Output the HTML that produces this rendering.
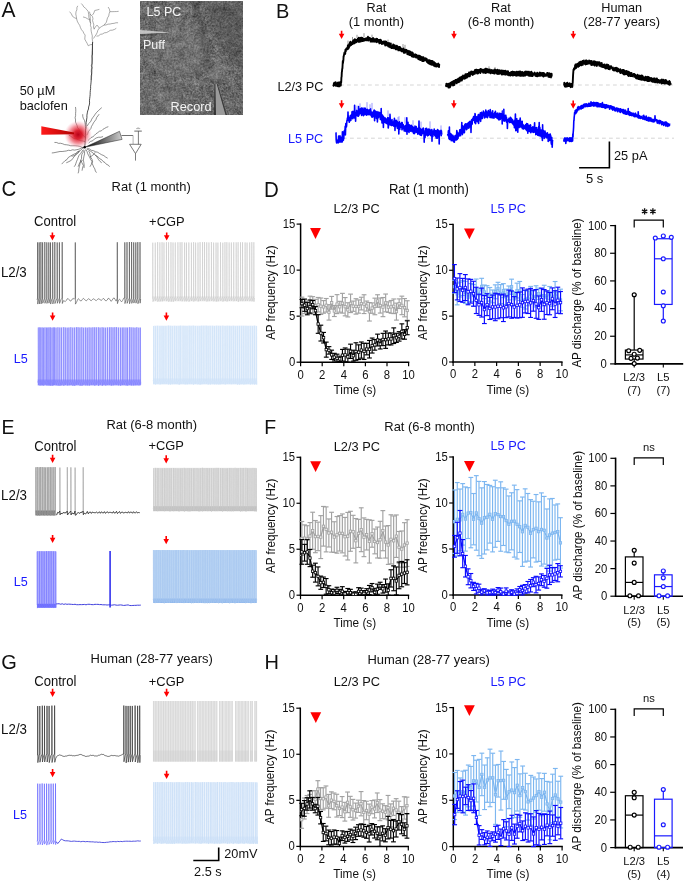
<!DOCTYPE html>
<html><head><meta charset="utf-8"><style>
html,body{margin:0;padding:0;background:#fff;}
svg{display:block;will-change:transform;}
text{font-family:"Liberation Sans", sans-serif;}
</style></head><body>
<svg width="685" height="882" viewBox="0 0 685 882">
<defs>
<filter id="noise" x="0" y="0" width="100%" height="100%" filterUnits="objectBoundingBox" color-interpolation-filters="sRGB">
<feTurbulence type="fractalNoise" baseFrequency="0.55" numOctaves="2" seed="5" result="t"/>
<feColorMatrix in="t" type="matrix" values="0.5 0 0 0 0.17  0.5 0 0 0 0.17  0.5 0 0 0 0.17  0 0 0 0 1" result="g"/>
<feGaussianBlur in="g" stdDeviation="0.35"/>
</filter>
<filter id="blotch" x="0" y="0" width="100%" height="100%" filterUnits="objectBoundingBox" color-interpolation-filters="sRGB">
<feTurbulence type="fractalNoise" baseFrequency="0.14" numOctaves="2" seed="21" result="t"/>
<feColorMatrix in="t" type="matrix" values="1.3 0 0 0 -0.25  1.3 0 0 0 -0.25  1.3 0 0 0 -0.25  0 0 0 0 1"/>
</filter>
<filter id="soft" x="-20%" y="-20%" width="140%" height="140%"><feGaussianBlur stdDeviation="2.5"/></filter>
<clipPath id="mclip"><rect x="140" y="1" width="103" height="114"/></clipPath>
<radialGradient id="mshade" cx="0.35" cy="0.45" r="0.7"><stop offset="0" stop-color="#fff" stop-opacity="0.06"/><stop offset="0.6" stop-color="#000" stop-opacity="0"/><stop offset="1" stop-color="#000" stop-opacity="0.12"/></radialGradient>
<radialGradient id="glow"><stop offset="0" stop-color="#b80018"/><stop offset="0.3" stop-color="#dc1828" stop-opacity="0.95"/><stop offset="0.62" stop-color="#ec4858" stop-opacity="0.6"/><stop offset="0.85" stop-color="#f590a0" stop-opacity="0.3"/><stop offset="1" stop-color="#ffc0c8" stop-opacity="0"/></radialGradient>
<linearGradient id="redpip" x1="0" x2="1" y1="0" y2="0"><stop offset="0" stop-color="#ff1a1a"/><stop offset="1" stop-color="#b00000"/></linearGradient>
<linearGradient id="graypip" x1="0" x2="1" y1="0" y2="0"><stop offset="0" stop-color="#000"/><stop offset="1" stop-color="#d0d0d0"/></linearGradient>
</defs>
<text transform="translate(1.5 17.4) scale(1 1.05)" font-size="21" text-anchor="start" fill="#111" >A</text>
<text transform="translate(19.7 94.6) scale(1 1.05)" font-size="12.7" text-anchor="start" fill="#111" >50 µM</text>
<text transform="translate(19.7 110) scale(1 1.05)" font-size="12.7" text-anchor="start" fill="#111" >baclofen</text>
<rect x="140" y="1" width="103" height="114" fill="#6a6a6a" filter="url(#noise)"/>
<rect x="140" y="1" width="103" height="114" fill="#6a6a6a" filter="url(#blotch)" opacity="0.22"/>
<g clip-path="url(#mclip)"><g filter="url(#soft)">
<path d="M150 40 C160 15, 195 10, 205 35 C212 60, 200 80, 180 78 C160 76, 145 62, 150 40 Z" fill="#8a8a8a" opacity="0.22"/>
<path d="M205 1 L243 1 L243 70 C230 60, 215 45, 205 1 Z" fill="#3a3a3a" opacity="0.3"/>
<path d="M196 1 C199 12, 202 25, 203 40 C205 55, 208 65, 212 72" fill="none" stroke="#2a2a2a" stroke-width="3.5" opacity="0.55"/>
<path d="M140 80 L180 80 L190 115 L140 115 Z" fill="#808080" opacity="0.18"/>
</g></g>
<ellipse cx="215.4" cy="72.7" rx="7" ry="7" fill="#959595" opacity="0.3"/>
<path d="M140 30 L171 32.6 L140 34.2 Z" fill="#d0d0d0" opacity="0.85"/>
<path d="M140 34 L171 32.8 L140 36.5 Z" fill="#3a3a3a" opacity="0.55"/>
<path d="M214.4 84 L216.8 84 L226 115 L215 115 Z" fill="#9a9a9a"/>
<path d="M214.4 84 L215.4 84 L216 115 L214 115 Z" fill="#333"/>
<path d="M216.8 84 L217.6 84 L227 115 L225.5 115 Z" fill="#3a3a3a"/>
<text transform="translate(146.6 16) scale(1 1.05)" font-size="12.5" text-anchor="start" fill="#f4f4f4" >L5 PC</text>
<text transform="translate(143 49) scale(1 1.05)" font-size="12.5" text-anchor="start" fill="#f4f4f4" >Puff</text>
<text transform="translate(170.6 110.7) scale(1 1.05)" font-size="12.7" text-anchor="start" fill="#f4f4f4" >Record</text>
<path d="M91.2 80 L91.39 77.91 L91.7 75.82 L91.66 73.72 L91.23 71.61 L91.37 69.52 L91.95 67.44 L91.24 65.32 L92.04 63.25 L92.09 61.15 L91.86 59.05 L91.78 56.95 L91.83 54.85 L91.88 52.75 L92.12 50.66 L92.24 48.57 L92.35 46.48 L92.37 44.38 L92.7 42.25 L92.4 40.16 L92.13 38.07 L92.34 35.95 L91.79 33.87 L91.3 31.79 L91.02 29.7 L91.19 27.55 L90.45 25.51 L90.62 23.36 L90.06 21.05 L90.34 18.69 L90.15 16.35 L90.04 14.01 L89.45 11.68" stroke="#666" stroke-width="0.55" fill="none" />
<path d="M92.37 44.38 L90.21 44.73 L88.28 45.78 L87.22 43.51 L85.96 41.34 L84.78 39.12 L84.95 37.08 L85.13 35.04 L83.89 33.4 L83.03 31.53 L81.48 29.71 L80.45 27.58 L79.68 25.32 L78.36 23.36 L77.23 21.12 L76.61 18.69 L76.29 16.36 L75.77 14.05 L76.02 11.68 L76.89 9.82 L76.89 7.7 L77.77 5.84" stroke="#666" stroke-width="0.55" fill="none" />
<path d="M76.61 18.69 L74.46 17.7 L72.52 16.35 L71.35 13.83 L69.6 11.68" stroke="#666" stroke-width="0.55" fill="none" />
<path d="M90.62 23.36 L90.04 21.41 L89.75 19.37 L88.87 17.52 L88.7 14.59 L88.28 11.68 L86.99 9.79 L85.36 8.18 L83.73 6.86 L82.67 5.04 L81.28 3.5" stroke="#666" stroke-width="0.55" fill="none" />
<path d="M90.04 19.85 L87.7 18.87 L85.49 17.6 L83.03 16.93" stroke="#666" stroke-width="0.55" fill="none" />
<path d="M93.54 38.54 L94.6 36.72 L95.88 35.04 L97.12 32.74 L97.86 30.19 L99.38 28.03 L101.66 26.48 L104.05 25.11 L106.39 22.19 L106.94 20.04 L107.49 17.89 L108.76 15.97 L109.09 13.75 L109.89 11.68 L109.42 9.19 L108.14 7.01" stroke="#666" stroke-width="0.55" fill="none" />
<path d="M109.89 11.68 L112.08 11.67 L114.27 11.6 L116.46 11.54 L118.65 11.33" stroke="#666" stroke-width="0.55" fill="none" />
<path d="M104.05 25.11 L106.08 24.93 L108 24.13 L110.05 24.06 L112.02 23.54 L114.05 23.35 L116 22.75 L118.07 22.77" stroke="#666" stroke-width="0.55" fill="none" />
<path d="M96.46 36.2 L98.6 35.8 L100.34 34.38 L102.47 33.97 L104.33 32.86 L106.51 32.55 L108.43 31.57 L110.23 30.34 L112.46 30.14 L114.48 29.43 L116.31 28.26" stroke="#666" stroke-width="0.55" fill="none" />
<path d="M92.37 15.18 L93.87 13.01 L94.71 10.51 L97.06 9.99 L99.38 9.34" stroke="#666" stroke-width="0.55" fill="none" />
<path d="M94.12 29.2 L95.32 26.97 L97.04 25.11 L99.38 28.03" stroke="#666" stroke-width="0.55" fill="none" />
<path d="M90.04 14.01 L92.37 16.35 L92.94 18.45 L92.57 20.68 L93.2 22.78 L93.83 24.88 L93.49 27.1 L94.12 29.2" stroke="#666" stroke-width="0.55" fill="none" />
<path d="M92.6 42 L92.5 44 L92.48 46 L92.52 48 L92.46 50 L92.48 52 L92.52 54 L92.14 56 L92.26 58 L92.2 60 L92.08 62 L92.07 64 L91.8 65.99 L91.99 68.01 L91.75 70 L91.79 72.01 L91.65 74.01 L91.21 75.99 L91.24 78 L91.2 80 L91.07 82.09 L90.87 84.17 L90.58 86.24 L90.63 88.34 L90.37 90.41 L90.18 92.49 L90.15 94.59 L89.93 96.67 L89.67 98.74 L89.45 100.82 L89.6 102.93 L89.3 105 L88.63 106.93 L88.49 109 L87.7 110.9 L87.3 112.9 L86.92 115.25 L86.92 117.64 L86.55 119.98 L86.13 122.33 L86 124.7 L86.08 126.77 L85.71 128.81 L85.53 130.86 L85.52 132.92 L85.32 134.97 L85.4 137.03 L85.29 139.09 L85.11 141.14 L85.06 143.2 L84.88 145.25 L84.7 147.3" stroke="#222" stroke-width="0.8" fill="none" />
<path d="M84.67 147.31 L82.59 147.51 L80.71 148.43 L78.8 149.22 L76.79 149.67 L74.71 150.14 L72.53 149.79 L70.49 150.51 L68.33 150.29 L66.28 150.99 L64.21 151.25 L62.15 151.53 L60.04 151.48 L57.99 151.9 L55.94 152.32 L53.9 152.74 L51.82 152.96" stroke="#333" stroke-width="0.55" fill="none" />
<path d="M84.67 147.31 L82.73 148.25 L81.21 149.82 L79.42 150.99 L77.39 151.71 L75.93 153.43 L73.93 154.19 L72.05 155.18 L70.22 156.24 L68.24 157.52 L66.96 159.56 L64.91 160.77 L63.28 162.43 L61.68 164.12" stroke="#333" stroke-width="0.55" fill="none" />
<path d="M83.36 149.67 L81.88 151.53 L80.63 153.55 L79.06 155.35 L78.1 157.56 L77.45 159.45 L76.61 161.27 L75.98 163.18 L75.32 165.07 L74.16 166.75" stroke="#333" stroke-width="0.55" fill="none" />
<path d="M83.36 150.33 L83.08 152.37 L81.95 154.17 L81.49 156.16 L81.59 158.3 L80.73 160.18 L80.2 162.35 L79.87 164.57 L79.33 166.74 L78.84 168.91 L78.71 171.17 L78.1 173.32" stroke="#333" stroke-width="0.55" fill="none" />
<path d="M85.33 149.67 L84.53 151.7 L84.57 153.88 L84.03 155.96 L83.63 158.06 L83.36 160.18 L83.86 162.79 L84.19 165.41 L84.02 168.07" stroke="#333" stroke-width="0.55" fill="none" />
<path d="M85.99 149.67 L87.04 151.61 L87.74 153.72 L88.69 155.71 L89.93 157.56 L90.56 159.53 L91.89 161.19 L92.05 163.37 L92.96 165.22 L93.72 167.13 L94.84 168.9 L95.33 170.93 L96.5 172.67" stroke="#333" stroke-width="0.55" fill="none" />
<path d="M86.64 149.02 L88.58 149.86 L90.3 151.03 L92.01 152.21 L93.6 153.56 L95.18 154.93 L96.93 156.07 L98.57 157.34 L99.96 158.92 L101.87 159.86 L103.16 161.56 L105.01 162.58 L106.32 164.25 L108.3 165.11 L109.64 166.75" stroke="#333" stroke-width="0.55" fill="none" />
<path d="M87.3 148.36 L89.46 148.99 L91.37 150.3 L93.59 150.76 L95.61 151.77 L97.81 152.3 L99.71 153.6 L101.7 154.75 L103.87 155.61 L105.66 157.09 L107.67 158.21" stroke="#333" stroke-width="0.55" fill="none" />
<path d="M84.67 147.31 L82.25 147.4 L79.98 146.41 L77.63 145.95 L75.25 145.73 L72.85 145.73 L70.73 145.76 L68.73 145.14 L66.69 144.8 L64.61 144.61 L62.65 143.79 L60.63 143.28 L58.51 143.34 L56.55 142.49 L54.45 142.45" stroke="#333" stroke-width="0.55" fill="none" />
<path d="M85.33 137.85 L84.05 136.03 L82.12 134.79 L81.07 132.76 L79.42 131.28 L78.94 129.3 L77.59 127.71 L77.11 125.73 L76.38 123.87 L75.47 122.08 L75.57 119.92 L75.11 117.76 L75.62 115.6 L75.59 113.45 L75.77 111.29 L75.75 109.13 L75.47 106.97" stroke="#333" stroke-width="0.55" fill="none" />
<path d="M85.99 128.65 L85.37 126.62 L85.24 124.48 L84.9 122.38 L84.45 120.31 L83.34 118.39 L82.76 116.36 L82.7 114.2" stroke="#333" stroke-width="0.55" fill="none" />
<path d="M86.64 135.22 L87.75 133.53 L88.39 131.59 L89.65 129.99 L90.93 128.41 L91.48 126.41 L92.56 124.71 L93.46 122.84 L94.71 121.18 L95.96 119.53 L96.63 117.51 L97.94 115.89 L99.12 114.2" stroke="#333" stroke-width="0.55" fill="none" />
<path d="M87.3 126.02 L88.15 124.15 L89.67 122.72 L90.93 121.12 L91.71 119.2 L92.83 117.51 L94.09 115.91 L95.18 114.2 L96.64 112.37 L98.31 110.75 L100 109.16 L101.75 107.63" stroke="#333" stroke-width="0.55" fill="none" />
<path d="M87.96 140.47 L89.58 139.13 L91.01 137.55 L93.03 136.71 L94.57 135.27 L96.06 133.76 L97.81 132.59 L99.38 131.27 L101.43 130.83 L102.9 129.35 L104.66 128.36 L106.41 127.37 L108.32 126.68" stroke="#333" stroke-width="0.55" fill="none" />
<path d="M88.61 143.1 L90.38 141.48 L92.76 140.78 L94.41 138.99 L96.5 137.85 L98.65 137.24 L100.94 137.26 L103.07 136.53" stroke="#333" stroke-width="0.55" fill="none" />
<path d="M85.33 141.79 L83.13 141.03 L80.78 140.75 L78.61 139.87 L76.49 138.83 L74.16 138.5 L72.35 137.5 L70.76 136.15 L68.91 135.22" stroke="#333" stroke-width="0.55" fill="none" />
<path d="M79.42 150.99 L78.38 152.76 L76.63 153.92 L75.29 155.42 L73.94 156.93 L72.73 158.55 L71.53 160.18 L68.96 161.6 L66.28 162.81" stroke="#333" stroke-width="0.55" fill="none" />
<path d="M88.61 150.99 L89.77 152.95 L90.17 155.2 L90.76 157.37 L92.03 159.3 L92.56 161.5 L91.43 164.22 L89.93 166.75" stroke="#333" stroke-width="0.55" fill="none" />
<path d="M79.42 150.99 L77.86 152.5 L76.19 153.89 L74.82 155.58 L71.53 156.24" stroke="#333" stroke-width="0.55" fill="none" />
<path d="M82.7 160.18 L80.81 161.57 L79.42 163.47 L78.1 166.75" stroke="#333" stroke-width="0.55" fill="none" />
<path d="M89.93 157.56 L91.36 155.98 L93.21 154.93 L95.18 152.3" stroke="#333" stroke-width="0.55" fill="none" />
<path d="M95.18 154.93 L97.06 157.06 L98.47 159.53 L99.92 161.36 L101.75 162.81" stroke="#333" stroke-width="0.55" fill="none" />
<path d="M80.73 160.18 L81.93 162.87 L83.36 165.44 L82.51 168.02 L82.04 170.69" stroke="#333" stroke-width="0.55" fill="none" />
<circle cx="78.1" cy="134.6" r="14" fill="url(#glow)"/>
<path d="M41.3 126.3 L74 132.6 L74 134.2 L41.3 134.8 Z" fill="url(#redpip)"/>
<path d="M84.7 147.3 L119.5 131.3 L122.1 139.4 Z" fill="url(#graypip)" stroke="#222" stroke-width="0.5"/>
<circle cx="84.7" cy="147.3" r="1.2" fill="#000"/>
<path d="M121.5 135.5 L133.1 135.5" stroke="#333" stroke-width="0.7" fill="none" />
<path d="M133.1 135.5 L133.1 144" stroke="#aaa" stroke-width="0.9" fill="none" />
<path d="M129.6 144.3 L141.2 144.3 L135.5 153.6 L129.6 144.3" stroke="#444" stroke-width="0.7" fill="none" />
<path d="M135.5 153.6 L135.5 160.6" stroke="#444" stroke-width="0.7" fill="none" />
<path d="M138.4 144.3 L138.4 131.1" stroke="#444" stroke-width="0.7" fill="none" />
<path d="M134.3 131.1 L141.8 131.1" stroke="#444" stroke-width="0.8" fill="none" />
<path d="M136.2 128.6 L140.2 128.6" stroke="#999" stroke-width="0.8" fill="none" />
<path d="M137.2 127.6 L139.2 127.6" stroke="#bbb" stroke-width="0.6" fill="none" />
<text transform="translate(276 17.5) scale(1 1.05)" font-size="20" text-anchor="start" fill="#111" >B</text>
<text transform="translate(376.4 11.8) scale(1 1.05)" font-size="12.7" text-anchor="middle" fill="#111" >Rat</text>
<text transform="translate(376.4 26.4) scale(1 1.05)" font-size="12.9" text-anchor="middle" fill="#111" >(1 month)</text>
<text transform="translate(501 11.8) scale(1 1.05)" font-size="12.7" text-anchor="middle" fill="#111" >Rat</text>
<text transform="translate(501 26.4) scale(1 1.05)" font-size="12.9" text-anchor="middle" fill="#111" >(6-8 month)</text>
<text transform="translate(621.7 11.8) scale(1 1.05)" font-size="12.7" text-anchor="middle" fill="#111" >Human</text>
<text transform="translate(621.7 26.4) scale(1 1.05)" font-size="12.9" text-anchor="middle" fill="#111" >(28-77 years)</text>
<text transform="translate(323.3 90.9) scale(1 1.05)" font-size="12.7" text-anchor="end" fill="#111" >L2/3 PC</text>
<text transform="translate(323.3 142.6) scale(1 1.05)" font-size="12.7" text-anchor="end" fill="#1a1aff" >L5 PC</text>
<line x1="333" y1="85" x2="674" y2="85" stroke="#d6d6d6" stroke-width="1" stroke-dasharray="3.8,3.2"/>
<line x1="336" y1="138.2" x2="674" y2="138.2" stroke="#d6d6d6" stroke-width="1" stroke-dasharray="3.8,3.2"/>
<path d="M333 86.39 L333.2 86.13 L333.4 85.71 L333.6 85.42 L333.8 83.74 L334 84.82 L334.2 82.81 L334.4 85.34 L334.6 85.33 L334.8 85.17 L335 83.96 L335.2 83.66 L335.4 83.85 L335.6 82.15 L335.8 85.72 L336 84.39 L336.2 83.71 L336.4 84.41 L336.6 85.18 L336.8 83.68 L337 85.65 L337.2 86.05 L337.4 83.7 L337.6 82.61 L337.8 85.35 L338 86.37 L338.2 82.65 L338.4 85.14 L338.6 85.63 L338.8 86.05 L339 82.54 L339.2 82.4 L339.4 86.35 L339.6 82.51 L339.8 82.78 L340 84.53 L340.2 83.96 L340.4 85.3 L340.6 82.84 L340.8 85.54 L341 81.49 L341.2 82.46 L341.4 77.42 L341.6 76.76 L341.8 72.42 L342 71.29 L342.2 68.96 L342.4 68.47 L342.6 65.05 L342.8 61.05 L343 63.26 L343.2 61.2 L343.4 60.05 L343.6 56.17 L343.8 56.21 L344 54.87 L344.2 53.81 L344.4 52.8 L344.6 54.26 L344.8 51.98 L345 51.61 L345.2 54.01 L345.4 51.75 L345.6 49.82 L345.8 51.42 L346 49.15 L346.2 49.88 L346.4 48.44 L346.6 49.17 L346.8 49.37 L347 48.66 L347.2 47.74 L347.4 49.18 L347.6 49.24 L347.8 45.89 L348 45.4 L348.2 45 L348.4 48.51 L348.6 48.04 L348.8 44.61 L349 47.57 L349.2 43.91 L349.4 44.93 L349.6 44.59 L349.8 46.16 L350 42.08 L350.2 43.1 L350.4 44.19 L350.6 41.72 L350.8 42.35 L351 43.23 L351.2 44.94 L351.4 44.28 L351.6 44.46 L351.8 44.04 L352 43.68 L352.2 44.18 L352.4 43.32 L352.6 43.43 L352.8 41.4 L353 40.69 L353.2 43.16 L353.4 40.43 L353.6 43.63 L353.8 42.08 L354 40.78 L354.2 43.33 L354.4 39.77 L354.6 41.23 L354.8 39.24 L355 42.96 L355.2 41.12 L355.4 42.01 L355.6 39.59 L355.8 41.77 L356 41.25 L356.2 40.93 L356.4 42.23 L356.6 39.93 L356.8 39.83 L357 41.02 L357.2 41.62 L357.4 39.4 L357.6 40.85 L357.8 38.79 L358 40.28 L358.2 41.21 L358.4 38.09 L358.6 40.98 L358.8 37.82 L359 41.94 L359.2 39.76 L359.4 39.47 L359.6 40.82 L359.8 39.93 L360 40.82 L360.2 37.95 L360.4 40.03 L360.6 39.98 L360.8 41.6 L361 37.65 L361.2 39.44 L361.4 40.2 L361.6 39.82 L361.8 37.7 L362 39.96 L362.2 38.3 L362.4 38.16 L362.6 41.14 L362.8 38.12 L363 39.22 L363.2 40.5 L363.4 40.29 L363.6 39.59 L363.8 40.68 L364 39.15 L364.2 39.8 L364.4 40.65 L364.6 40.01 L364.8 39.82 L365 38.76 L365.2 39.41 L365.4 38.67 L365.6 40.17 L365.8 38.55 L366 38.9 L366.2 40.15 L366.4 39.02 L366.6 38.26 L366.8 40.39 L367 38.4 L367.2 40.42 L367.4 40.13 L367.6 38.62 L367.8 39.78 L368 36.79 L368.2 38.37 L368.4 40.48 L368.6 39.28 L368.8 39.23 L369 39.75 L369.2 39.85 L369.4 39.48 L369.6 38.81 L369.8 37.81 L370 38.34 L370.2 38.38 L370.4 39.04 L370.6 41.58 L370.8 38.78 L371 39.24 L371.2 38.96 L371.4 39.92 L371.6 41.58 L371.8 41.37 L372 39.16 L372.2 38.72 L372.4 41.48 L372.6 39.81 L372.8 40.7 L373 38.05 L373.2 41.58 L373.4 39.19 L373.6 40.04 L373.8 38.78 L374 39.8 L374.2 41.64 L374.4 41.68 L374.6 40.17 L374.8 41.51 L375 40.19 L375.2 39.86 L375.4 40.67 L375.6 39.2 L375.8 39.75 L376 41.51 L376.2 41.84 L376.4 38.74 L376.6 41.76 L376.8 42.18 L377 40.58 L377.2 38.94 L377.4 41.72 L377.6 39.84 L377.8 41.64 L378 40.51 L378.2 41.7 L378.4 40.08 L378.6 41.08 L378.8 41.34 L379 41.85 L379.2 40.01 L379.4 43.4 L379.6 40.48 L379.8 40.61 L380 40.45 L380.2 39.68 L380.4 41.31 L380.6 42.92 L380.8 42.72 L381 40.54 L381.2 40.35 L381.4 41.24 L381.6 43.28 L381.8 42.12 L382 44.11 L382.2 43.01 L382.4 42.93 L382.6 43.65 L382.8 43.65 L383 41.94 L383.2 41.63 L383.4 42.5 L383.6 42.8 L383.8 41.35 L384 42.74 L384.2 43.69 L384.4 41.55 L384.6 41.63 L384.8 41.86 L385 42.42 L385.2 45.48 L385.4 41.44 L385.6 42.21 L385.8 42.2 L386 43.64 L386.2 41.69 L386.4 43.72 L386.6 42.49 L386.8 43.04 L387 45.41 L387.2 42.81 L387.4 44.79 L387.6 43.94 L387.8 44.06 L388 45.89 L388.2 43.08 L388.4 46.51 L388.6 46.46 L388.8 45.54 L389 42.89 L389.2 45.67 L389.4 45.47 L389.6 46.3 L389.8 43.92 L390 47.24 L390.2 47.02 L390.4 43.7 L390.6 44.66 L390.8 43.49 L391 47.08 L391.2 47.53 L391.4 47.93 L391.6 46.34 L391.8 46.66 L392 46.78 L392.2 46.38 L392.4 48.14 L392.6 46.7 L392.8 45.58 L393 46.43 L393.2 44.33 L393.4 47.51 L393.6 47.45 L393.8 46.33 L394 48.3 L394.2 47.95 L394.4 46.18 L394.6 45.12 L394.8 45.43 L395 45.74 L395.2 46.34 L395.4 47.04 L395.6 49.23 L395.8 46.45 L396 49.25 L396.2 48.37 L396.4 49.21 L396.6 47.3 L396.8 45.61 L397 49.14 L397.2 46.83 L397.4 46.45 L397.6 49.42 L397.8 48.99 L398 46.98 L398.2 47.3 L398.4 50.33 L398.6 47.46 L398.8 49.44 L399 47 L399.2 50.09 L399.4 47.09 L399.6 48.92 L399.8 46.88 L400 49.23 L400.2 50.62 L400.4 47.35 L400.6 48.28 L400.8 50.52 L401 49.93 L401.2 48.72 L401.4 50.2 L401.6 49.52 L401.8 51.4 L402 48.99 L402.2 51.12 L402.4 50.68 L402.6 51.23 L402.8 49.72 L403 51.34 L403.2 51.31 L403.4 50.03 L403.6 48.54 L403.8 52.75 L404 51.74 L404.2 49.59 L404.4 52 L404.6 50.1 L404.8 51.02 L405 52.83 L405.2 51.11 L405.4 50.5 L405.6 50.66 L405.8 49.75 L406 50.47 L406.2 50.78 L406.4 50.44 L406.6 50.05 L406.8 51.91 L407 50.89 L407.2 53.29 L407.4 54.19 L407.6 51.42 L407.8 52.83 L408 52.63 L408.2 50.82 L408.4 51.13 L408.6 54.56 L408.8 52.85 L409 54.39 L409.2 51.23 L409.4 53.65 L409.6 54.93 L409.8 55.03 L410 51.33 L410.2 53.69 L410.4 53.1 L410.6 54.91 L410.8 51.98 L411 52.92 L411.2 55.42 L411.4 54 L411.6 54.01 L411.8 56.37 L412 53.61 L412.2 52.47 L412.4 54.11 L412.6 53.14 L412.8 52.92 L413 55.15 L413.2 56.94 L413.4 55.38 L413.6 55.77 L413.8 54.43 L414 55.61 L414.2 56.5 L414.4 55.87 L414.6 56.9 L414.8 55.88 L415 54.42 L415.2 56.2 L415.4 55.89 L415.6 54.55 L415.8 56.63 L416 57.59 L416.2 54.68 L416.4 56.58 L416.6 57.5 L416.8 56.13 L417 55.64 L417.2 56.18 L417.4 57.01 L417.6 57.74 L417.8 57.27 L418 55.37 L418.2 58.59 L418.4 59.14 L418.6 55.62 L418.8 56.36 L419 56.11 L419.2 59.18 L419.4 59.54 L419.6 55.81 L419.8 57.17 L420 56.64 L420.2 57.95 L420.4 60.02 L420.6 56.35 L420.8 56.88 L421 58.35 L421.2 58.6 L421.4 59.65 L421.6 58.38 L421.8 57.16 L422 58.17 L422.2 61.02 L422.4 60.08 L422.6 57.37 L422.8 60.5 L423 58.39 L423.2 60.54 L423.4 57.24 L423.6 61.1 L423.8 58.07 L424 59.44 L424.2 60.43 L424.4 59.83 L424.6 58.41 L424.8 58.37 L425 59.09 L425.2 58.15 L425.4 58.96 L425.6 58.66 L425.8 60.21 L426 59.82 L426.2 60.91 L426.4 59.65 L426.6 58.64 L426.8 60.03 L427 61.98 L427.2 59.86 L427.4 60.6 L427.6 62.22 L427.8 60.77 L428 62.97 L428.2 63.19 L428.4 60.59 L428.6 62.55 L428.8 60.51 L429 60.09 L429.2 61.48 L429.4 62.29 L429.6 63.83 L429.8 60.44 L430 63.02 L430.2 62.06 L430.4 60.62 L430.6 64.41 L430.8 63.27 L431 60.86 L431.2 64.36 L431.4 60.91 L431.6 60.94 L431.8 62.08 L432 64.82 L432.2 60.92 L432.4 64.9 L432.6 63.63 L432.8 61.32 L433 63.61 L433.2 63.21 L433.4 63.75 L433.6 64.59 L433.8 64.42 L434 65.9 L434.2 62.29 L434.4 65.25 L434.6 63.57 L434.8 65.29 L435 65.85 L435.2 66.37 L435.4 63.26 L435.6 64.16 L435.8 66.4 L436 66.49 L436.2 64.05 L436.4 66.63 L436.6 64.36 L436.8 64.31 L437 66.07 L437.2 64.89 L437.4 64.87 L437.6 64.68 L437.8 64.97 L438 63.76 L438.2 63.5 L438.4 66.63 L438.6 65.88 L438.8 66.43 L439 67.09 L439.2 64.65 L439.4 64.73 L439.6 64.97" stroke="#000" stroke-width="1.9" fill="none" stroke-linejoin="round"/>
<line x1="344.5" y1="52.35" x2="344.5" y2="49.22" stroke="#555" stroke-width="0.6" />
<line x1="348" y1="44.8" x2="348" y2="40.57" stroke="#555" stroke-width="0.6" />
<line x1="352.5" y1="40.26" x2="352.5" y2="36.96" stroke="#555" stroke-width="0.6" />
<line x1="357" y1="37.97" x2="357" y2="34.8" stroke="#555" stroke-width="0.6" />
<line x1="364" y1="37.1" x2="364" y2="33.17" stroke="#555" stroke-width="0.6" />
<line x1="372" y1="37.5" x2="372" y2="34.65" stroke="#555" stroke-width="0.6" />
<line x1="388" y1="42.3" x2="388" y2="39.64" stroke="#555" stroke-width="0.6" />
<line x1="403" y1="48.15" x2="403" y2="44.08" stroke="#555" stroke-width="0.6" />
<line x1="405" y1="49.05" x2="405" y2="44.83" stroke="#555" stroke-width="0.6" />
<path d="M446 84.89 L446.2 86.36 L446.4 83.69 L446.6 85.29 L446.8 86.02 L447 84.57 L447.2 84.95 L447.4 86.07 L447.6 85.96 L447.8 84.01 L448 86.41 L448.2 83.62 L448.4 87.51 L448.6 84.1 L448.8 84.3 L449 84.03 L449.2 87.48 L449.4 84.35 L449.6 85.72 L449.8 87.37 L450 87.13 L450.2 83.06 L450.4 85.08 L450.6 85.32 L450.8 85.66 L451 83.94 L451.2 83.79 L451.4 82.26 L451.6 82.29 L451.8 84.45 L452 82.25 L452.2 82.7 L452.4 83.17 L452.6 81.91 L452.8 81.62 L453 85.46 L453.2 83.19 L453.4 82.07 L453.6 84.17 L453.8 80.99 L454 81.92 L454.2 84.96 L454.4 84.57 L454.6 83.31 L454.8 80.82 L455 81.69 L455.2 80.3 L455.4 81.02 L455.6 80.05 L455.8 80.38 L456 82.49 L456.2 80.02 L456.4 80.15 L456.6 83.31 L456.8 80.7 L457 80.57 L457.2 79.36 L457.4 82.36 L457.6 81.72 L457.8 81.03 L458 81.22 L458.2 78.82 L458.4 79.41 L458.6 80.71 L458.8 82.21 L459 81.5 L459.2 80.6 L459.4 79.94 L459.6 77.61 L459.8 81.34 L460 77.59 L460.2 77.75 L460.4 80.11 L460.6 80.51 L460.8 80.28 L461 78.69 L461.2 77.36 L461.4 76.62 L461.6 80.09 L461.8 80.52 L462 77.17 L462.2 79.79 L462.4 77.63 L462.6 77.11 L462.8 77.84 L463 75.54 L463.2 77.33 L463.4 76.14 L463.6 78.27 L463.8 77.23 L464 78.72 L464.2 78.73 L464.4 76.05 L464.6 75.77 L464.8 78.56 L465 76.54 L465.2 74.64 L465.4 74.32 L465.6 78.39 L465.8 76.48 L466 74.09 L466.2 76 L466.4 75.88 L466.6 75.49 L466.8 77.67 L467 77.57 L467.2 73.85 L467.4 73.88 L467.6 74.91 L467.8 76.7 L468 75.68 L468.2 76.06 L468.4 75.29 L468.6 73.59 L468.8 76.17 L469 72.54 L469.2 75.46 L469.4 73.16 L469.6 74.28 L469.8 76.41 L470 74.4 L470.2 72.19 L470.4 73.73 L470.6 74.66 L470.8 71.91 L471 72.68 L471.2 71.56 L471.4 73.77 L471.6 72.98 L471.8 73.43 L472 72.42 L472.2 73.92 L472.4 71.7 L472.6 74.83 L472.8 74.98 L473 72.83 L473.2 72.62 L473.4 74.26 L473.6 71.67 L473.8 73.83 L474 71.47 L474.2 73.29 L474.4 71.5 L474.6 72.59 L474.8 73.92 L475 69.99 L475.2 73.22 L475.4 71.96 L475.6 71.15 L475.8 70.95 L476 69.65 L476.2 70.44 L476.4 72.01 L476.6 69.68 L476.8 72.18 L477 73.46 L477.2 73.52 L477.4 73.1 L477.6 72.72 L477.8 69.94 L478 73.41 L478.2 70.02 L478.4 72.94 L478.6 72.96 L478.8 71.82 L479 71.36 L479.2 69.93 L479.4 71.32 L479.6 70.3 L479.8 69.56 L480 69.55 L480.2 72.5 L480.4 73.02 L480.6 69.57 L480.8 68.99 L481 70.07 L481.2 69.49 L481.4 69.71 L481.6 71.43 L481.8 70.71 L482 70.72 L482.2 69.72 L482.4 71.73 L482.6 70.06 L482.8 70.53 L483 70.79 L483.2 72.72 L483.4 69.81 L483.6 71.87 L483.8 70.05 L484 72.61 L484.2 70.4 L484.4 70.87 L484.6 72.49 L484.8 71.58 L485 69.03 L485.2 69.22 L485.4 72.99 L485.6 68.77 L485.8 69.98 L486 72.89 L486.2 68.75 L486.4 69.41 L486.6 69.65 L486.8 69.11 L487 70.82 L487.2 71.36 L487.4 70.17 L487.6 69.26 L487.8 72.36 L488 72.35 L488.2 71.3 L488.4 69.44 L488.6 71.24 L488.8 71.64 L489 70.76 L489.2 72.69 L489.4 70.62 L489.6 71.17 L489.8 69.44 L490 71.43 L490.2 72.34 L490.4 72.2 L490.6 70.12 L490.8 73.37 L491 72.19 L491.2 70.9 L491.4 70.87 L491.6 72.49 L491.8 69.85 L492 71.9 L492.2 72.27 L492.4 71.39 L492.6 72.97 L492.8 71.21 L493 71.21 L493.2 70.43 L493.4 73.23 L493.6 70.59 L493.8 72.28 L494 71.03 L494.2 73.36 L494.4 73.43 L494.6 69.4 L494.8 73.66 L495 71.97 L495.2 69.65 L495.4 71.54 L495.6 69.6 L495.8 71.82 L496 70.25 L496.2 71.08 L496.4 70.83 L496.6 72.16 L496.8 73.16 L497 73.69 L497.2 71.04 L497.4 72.13 L497.6 69.67 L497.8 71.31 L498 73.93 L498.2 70.25 L498.4 73.58 L498.6 72.65 L498.8 71.1 L499 73.26 L499.2 71.13 L499.4 73.82 L499.6 70.28 L499.8 70.46 L500 73.27 L500.2 71.97 L500.4 70.67 L500.6 72.31 L500.8 71.38 L501 72.52 L501.2 73.4 L501.4 73.92 L501.6 70.44 L501.8 72.81 L502 74.56 L502.2 72.28 L502.4 73.67 L502.6 70.74 L502.8 74.18 L503 72.93 L503.2 74.3 L503.4 73.88 L503.6 74.27 L503.8 70.73 L504 73.65 L504.2 71.39 L504.4 71.72 L504.6 72.01 L504.8 73.21 L505 73.4 L505.2 74.76 L505.4 70.74 L505.6 71.56 L505.8 72.33 L506 74.37 L506.2 73.21 L506.4 73.07 L506.6 74.19 L506.8 73.76 L507 72.18 L507.2 71.31 L507.4 72.99 L507.6 74.85 L507.8 73.64 L508 71.27 L508.2 73 L508.4 72.78 L508.6 73.68 L508.8 73.72 L509 75.35 L509.2 72.68 L509.4 73.02 L509.6 73.95 L509.8 75.17 L510 74.39 L510.2 73.37 L510.4 74.89 L510.6 73.44 L510.8 75.55 L511 72.56 L511.2 71.88 L511.4 74.97 L511.6 72.63 L511.8 75.06 L512 74.01 L512.2 73.57 L512.4 71.72 L512.6 74.8 L512.8 71.63 L513 75.59 L513.2 75.21 L513.4 72.68 L513.6 71.92 L513.8 75.25 L514 73.47 L514.2 71.91 L514.4 73.56 L514.6 72.46 L514.8 73.17 L515 74.19 L515.2 75.41 L515.4 74.91 L515.6 72.09 L515.8 73.49 L516 73.55 L516.2 75.75 L516.4 71.78 L516.6 73.65 L516.8 75.43 L517 73.16 L517.2 72.56 L517.4 73.86 L517.6 72.82 L517.8 75.5 L518 71.79 L518.2 72.33 L518.4 71.8 L518.6 74.56 L518.8 72.72 L519 75.4 L519.2 75.37 L519.4 75.56 L519.6 72.57 L519.8 71.45 L520 73.16 L520.2 75.69 L520.4 74.82 L520.6 71.72 L520.8 74.55 L521 75.5 L521.2 75.73 L521.4 74.62 L521.6 75.27 L521.8 75.18 L522 73.06 L522.2 71.92 L522.4 74.69 L522.6 72.09 L522.8 73.18 L523 75.88 L523.2 73.96 L523.4 73.8 L523.6 75.67 L523.8 72.76 L524 75.91 L524.2 75.53 L524.4 73.12 L524.6 72.96 L524.8 72.08 L525 75.55 L525.2 72.35 L525.4 71.57 L525.6 75.45 L525.8 74.17 L526 74.5 L526.2 74.77 L526.4 71.73 L526.6 71.95 L526.8 73.75 L527 71.78 L527.2 73.78 L527.4 74.8 L527.6 74.46 L527.8 74.28 L528 71.77 L528.2 72.61 L528.4 75.52 L528.6 72.12 L528.8 73.93 L529 71.81 L529.2 75.72 L529.4 72.35 L529.6 73.4 L529.8 74.01 L530 74.77 L530.2 75.74 L530.4 74.87 L530.6 73.17 L530.8 71.99 L531 74.79 L531.2 75.97 L531.4 71.78 L531.6 75.12 L531.8 72.51 L532 73.77 L532.2 74.06 L532.4 74.48 L532.6 76.14 L532.8 74.83 L533 73.54 L533.2 74.98 L533.4 73.9 L533.6 73.68 L533.8 73.49 L534 74.06 L534.2 73.14 L534.4 72.99 L534.6 72.59 L534.8 73.89 L535 73.25 L535.2 75.66 L535.4 75.72 L535.6 73.52 L535.8 74.75 L536 76.01 L536.2 73.63 L536.4 74.51 L536.6 74.03 L536.8 74.96 L537 76.33 L537.2 72.73 L537.4 76.39 L537.6 75.08 L537.8 75.67 L538 74.98 L538.2 76.03 L538.4 73.65 L538.6 75.34 L538.8 73.4 L539 74.49 L539.2 75.27 L539.4 73.17 L539.6 72.57 L539.8 75.79 L540 75.89 L540.2 75.27 L540.4 73.77 L540.6 75.27 L540.8 72.75 L541 75.32 L541.2 74.95 L541.4 75.14 L541.6 74.41 L541.8 73.45 L542 75.67 L542.2 74.53 L542.4 75.78 L542.6 74.12 L542.8 72.92 L543 74.93 L543.2 75.3 L543.4 76.63 L543.6 76.5 L543.8 72.86 L544 76.01 L544.2 73.78 L544.4 75.71 L544.6 74.33 L544.8 74.09 L545 74.84 L545.2 75.04 L545.4 75.78 L545.6 75.54 L545.8 75.73 L546 74.45 L546.2 75.76 L546.4 74.31 L546.6 75.48 L546.8 74.84 L547 75.31 L547.2 72.93 L547.4 75.06 L547.6 73.85 L547.8 74.59 L548 73.23 L548.2 75.81 L548.4 76.87 L548.6 74.51 L548.8 73.43 L549 75.71 L549.2 73.56 L549.4 76.93 L549.6 73.56 L549.8 74.63 L550 75.23 L550.2 73.59 L550.4 74.49 L550.6 74.31 L550.8 76.25 L551 77.47 L551.2 74.74 L551.4 76.64 L551.6 73.79 L551.8 75.73" stroke="#000" stroke-width="1.9" fill="none" stroke-linejoin="round"/>
<line x1="489" y1="68.88" x2="489" y2="66.3" stroke="#555" stroke-width="0.6" />
<line x1="495" y1="69.31" x2="495" y2="66.99" stroke="#555" stroke-width="0.6" />
<path d="M563.9 85.72 L564.1 85.41 L564.3 82.75 L564.5 83.47 L564.7 85.82 L564.9 86.61 L565.1 84.96 L565.3 86.13 L565.5 86.65 L565.7 85.61 L565.9 85.22 L566.1 83.38 L566.3 84.06 L566.5 85.21 L566.7 86.57 L566.9 83.85 L567.1 84.29 L567.3 82.67 L567.5 85.67 L567.7 84.58 L567.9 86.17 L568.1 83.71 L568.3 85.62 L568.5 85.7 L568.7 84.81 L568.9 83.63 L569.1 84.6 L569.3 86.13 L569.5 83.71 L569.7 83.31 L569.9 84.97 L570.1 84 L570.3 86.52 L570.5 86.62 L570.7 87.21 L570.9 86.77 L571.1 85.95 L571.3 83.96 L571.5 86.78 L571.7 86.39 L571.9 86.5 L572.1 86.31 L572.3 86.92 L572.5 83.48 L572.7 82.88 L572.9 78.83 L573.1 74.66 L573.3 72.09 L573.5 69.65 L573.7 70.3 L573.9 68.92 L574.1 68.32 L574.3 69.38 L574.5 68.03 L574.7 67.67 L574.9 68.88 L575.1 65.38 L575.3 66.53 L575.5 64.57 L575.7 65.76 L575.9 68.09 L576.1 64.16 L576.3 66.99 L576.5 67.34 L576.7 65.64 L576.9 66.78 L577.1 65.09 L577.3 64.57 L577.5 65.12 L577.7 63.62 L577.9 63.99 L578.1 63.85 L578.3 66.73 L578.5 63.73 L578.7 63.13 L578.9 66.13 L579.1 62.48 L579.3 65.99 L579.5 65.37 L579.7 64.34 L579.9 63.26 L580.1 62.16 L580.3 61.7 L580.5 61.65 L580.7 62.69 L580.9 62.9 L581.1 65.13 L581.3 63.38 L581.5 65.34 L581.7 64.11 L581.9 61.54 L582.1 63.29 L582.3 61.51 L582.5 60.94 L582.7 64.87 L582.9 62.17 L583.1 61.47 L583.3 61.04 L583.5 63.42 L583.7 62.54 L583.9 60.52 L584.1 63.57 L584.3 61.51 L584.5 63.77 L584.7 62.44 L584.9 62.61 L585.1 62.22 L585.3 63.14 L585.5 64.48 L585.7 63.59 L585.9 60.34 L586.1 62.17 L586.3 60.98 L586.5 60.36 L586.7 60.72 L586.9 60.93 L587.1 64.06 L587.3 63.14 L587.5 63.65 L587.7 63.01 L587.9 61.36 L588.1 61.73 L588.3 61.99 L588.5 61.38 L588.7 61.98 L588.9 63.56 L589.1 60.54 L589.3 61.46 L589.5 62.39 L589.7 63.29 L589.9 63.2 L590.1 63.59 L590.3 60.9 L590.5 61.27 L590.7 61.87 L590.9 61.79 L591.1 63.91 L591.3 65 L591.5 63.67 L591.7 60.85 L591.9 62.05 L592.1 64.31 L592.3 64.89 L592.5 63.48 L592.7 62.43 L592.9 62.5 L593.1 63.76 L593.3 64.81 L593.5 62.55 L593.7 61.93 L593.9 61.14 L594.1 61.77 L594.3 64.95 L594.5 63.99 L594.7 65.64 L594.9 61.62 L595.1 62.97 L595.3 64.9 L595.5 64.34 L595.7 61.77 L595.9 63.28 L596.1 64.36 L596.3 64.61 L596.5 63.61 L596.7 62.49 L596.9 65.95 L597.1 63.79 L597.3 64.94 L597.5 64.17 L597.7 62.21 L597.9 62.94 L598.1 62.21 L598.3 62.81 L598.5 62.89 L598.7 63.88 L598.9 63.5 L599.1 63.72 L599.3 65.76 L599.5 62.3 L599.7 62.7 L599.9 65.84 L600.1 64.69 L600.3 64.33 L600.5 63.64 L600.7 64.91 L600.9 63.57 L601.1 66.43 L601.3 66.35 L601.5 64.2 L601.7 62.96 L601.9 66.82 L602.1 64.3 L602.3 65.94 L602.5 66.89 L602.7 66.69 L602.9 67.04 L603.1 65.46 L603.3 67.08 L603.5 65.47 L603.7 64.66 L603.9 65.68 L604.1 65.11 L604.3 67.07 L604.5 67.42 L604.7 64.45 L604.9 64.62 L605.1 65.65 L605.3 66.06 L605.5 68.3 L605.7 68.3 L605.9 68.47 L606.1 67.49 L606.3 67.33 L606.5 65.6 L606.7 66.12 L606.9 64.55 L607.1 68.27 L607.3 65.89 L607.5 65.09 L607.7 66.19 L607.9 66.29 L608.1 68.12 L608.3 65.02 L608.5 66.07 L608.7 69.07 L608.9 68.95 L609.1 68.03 L609.3 67.78 L609.5 66.37 L609.7 69.3 L609.9 68.86 L610.1 67.84 L610.3 66.36 L610.5 66.66 L610.7 67.45 L610.9 67.3 L611.1 66.18 L611.3 67.76 L611.5 68.01 L611.7 67.37 L611.9 67.86 L612.1 67.69 L612.3 67.96 L612.5 69.09 L612.7 68.62 L612.9 67.36 L613.1 70.06 L613.3 68.88 L613.5 68.7 L613.7 69.89 L613.9 70.13 L614.1 70.62 L614.3 70.52 L614.5 69.96 L614.7 70.25 L614.9 67.83 L615.1 70.28 L615.3 68.39 L615.5 68.47 L615.7 67.93 L615.9 69.21 L616.1 67.62 L616.3 70.49 L616.5 70.95 L616.7 71.14 L616.9 68.36 L617.1 70.68 L617.3 71.61 L617.5 68.15 L617.7 68.9 L617.9 69.3 L618.1 70.22 L618.3 69.01 L618.5 70.68 L618.7 69.89 L618.9 71.32 L619.1 70.85 L619.3 71.59 L619.5 69.72 L619.7 71.81 L619.9 72 L620.1 72.01 L620.3 69.2 L620.5 73.13 L620.7 71.57 L620.9 70.29 L621.1 71.07 L621.3 71.5 L621.5 71.57 L621.7 70.44 L621.9 70.58 L622.1 71.08 L622.3 72.98 L622.5 71.54 L622.7 69.85 L622.9 71.73 L623.1 70.69 L623.3 69.93 L623.5 74.24 L623.7 71.29 L623.9 72.43 L624.1 71.71 L624.3 70.43 L624.5 74.23 L624.7 74.44 L624.9 71.21 L625.1 72.3 L625.3 72.17 L625.5 71.32 L625.7 73.56 L625.9 74.16 L626.1 74.13 L626.3 73.82 L626.5 70.99 L626.7 71.99 L626.9 73.31 L627.1 74.2 L627.3 72.87 L627.5 73.21 L627.7 75 L627.9 71.47 L628.1 72.61 L628.3 72.77 L628.5 75.93 L628.7 72.63 L628.9 71.9 L629.1 73.59 L629.3 74.68 L629.5 72.56 L629.7 75.65 L629.9 72.88 L630.1 75.18 L630.3 72.86 L630.5 76.09 L630.7 73.16 L630.9 75.56 L631.1 76.1 L631.3 73.59 L631.5 72.95 L631.7 75.18 L631.9 74.86 L632.1 74.84 L632.3 76.24 L632.5 74.9 L632.7 75.11 L632.9 75.14 L633.1 75.06 L633.3 74.91 L633.5 73.9 L633.7 74.55 L633.9 74.48 L634.1 74.47 L634.3 76.89 L634.5 74.01 L634.7 74.48 L634.9 75.96 L635.1 75.08 L635.3 74.83 L635.5 75.48 L635.7 76.11 L635.9 76.93 L636.1 78.31 L636.3 77.85 L636.5 76.05 L636.7 76.21 L636.9 76.12 L637.1 75.41 L637.3 78.61 L637.5 74.79 L637.7 75.45 L637.9 77.53 L638.1 77.28 L638.3 75.97 L638.5 78.94 L638.7 76.68 L638.9 77.57 L639.1 75.41 L639.3 78.99 L639.5 75.59 L639.7 76.94 L639.9 79.16 L640.1 79.47 L640.3 79.33 L640.5 79.03 L640.7 76.45 L640.9 75.6 L641.1 77.48 L641.3 75.81 L641.5 79.79 L641.7 75.64 L641.9 77.07 L642.1 76.57 L642.3 75.77 L642.5 77.94 L642.7 76.12 L642.9 79.78 L643.1 78.88 L643.3 77.52 L643.5 79.63 L643.7 79.47 L643.9 77.43 L644.1 79.76 L644.3 80.16 L644.5 78.83 L644.7 77.69 L644.9 80.14 L645.1 80.36 L645.3 77.77 L645.5 76.66 L645.7 80.14 L645.9 79.28 L646.1 77.41 L646.3 78.92 L646.5 77.82 L646.7 80.54 L646.9 78.04 L647.1 77.43 L647.3 76.79 L647.5 78.15 L647.7 81.03 L647.9 77.67 L648.1 78.76 L648.3 81.06 L648.5 76.85 L648.7 78.15 L648.9 80.5 L649.1 77.35 L649.3 81.05 L649.5 80.67 L649.7 77.66 L649.9 79.67 L650.1 79.55 L650.3 80.19 L650.5 78.53 L650.7 78.9 L650.9 78.31 L651.1 78.57 L651.3 78.09 L651.5 81.33 L651.7 81.29 L651.9 79.01 L652.1 80.51 L652.3 79.65 L652.5 78.77 L652.7 79.11 L652.9 81.85 L653.1 79.14 L653.3 80.22 L653.5 81.87 L653.7 79.06 L653.9 81.34 L654.1 78.32 L654.3 81.08 L654.5 81.44 L654.7 81.61 L654.9 82.25 L655.1 81.12 L655.3 82.33 L655.5 79.29 L655.7 80.4 L655.9 79.08 L656.1 78.54 L656.3 80.14 L656.5 81.41 L656.7 81.71 L656.9 78.39 L657.1 82.5 L657.3 79.48 L657.5 79.71 L657.7 82.12 L657.9 82.43 L658.1 81.77 L658.3 80.03 L658.5 80.64 L658.7 82.31 L658.9 80.25 L659.1 82.25 L659.3 82.19 L659.5 80.84 L659.7 82.76 L659.9 80.55 L660.1 82.19 L660.3 81.74 L660.5 80.42 L660.7 81.34 L660.9 81.7 L661.1 81.43 L661.3 79.59 L661.5 83.5 L661.7 83.43 L661.9 79.38 L662.1 83.4 L662.3 81.62 L662.5 79.87 L662.7 82.96 L662.9 81.29 L663.1 82.56 L663.3 83.1 L663.5 81.86 L663.7 79.75 L663.9 83.19 L664.1 82.66 L664.3 83.64 L664.5 80.86 L664.7 83.17 L664.9 83.59 L665.1 81.34 L665.3 81.62 L665.5 81.32 L665.7 79.91 L665.9 80.94 L666.1 81.42 L666.3 80.47 L666.5 83.4 L666.7 81.95 L666.9 82.6 L667.1 81.39 L667.3 81.76 L667.5 83.53 L667.7 82.31 L667.9 82.91 L668.1 82.18 L668.3 82.8 L668.5 84.34 L668.7 81.6 L668.9 82.74 L669.1 83.52 L669.3 80.91 L669.5 84.8 L669.7 82.8 L669.9 81.72 L670.1 84.02 L670.3 84.3 L670.5 83.52 L670.7 84.8" stroke="#000" stroke-width="1.9" fill="none" stroke-linejoin="round"/>
<path d="M336 132.38 L336.2 139.99 L336.4 141.65 L336.6 142.98 L336.8 140.81 L337 140.48 L337.2 142.58 L337.4 140.2 L337.6 140.04 L337.8 142.75 L338 142.12 L338.2 141.4 L338.4 142.83 L338.6 136.12 L338.8 141.58 L339 139.17 L339.2 141.4 L339.4 137.82 L339.6 139.13 L339.8 141.9 L340 135.72 L340.2 137.69 L340.4 139.21 L340.6 142.02 L340.8 137.46 L341 141.75 L341.2 137.21 L341.4 137.65 L341.6 139.58 L341.8 140.34 L342 142.08 L342.2 142.05 L342.4 131.88 L342.6 140.96 L342.8 139.9 L343 137.59 L343.2 138.8 L343.4 140.3 L343.6 136.14 L343.8 138.65 L344 131.6 L344.2 131 L344.4 134.76 L344.6 130.28 L344.8 131.57 L345 129.98 L345.2 126.34 L345.4 134.85 L345.6 129.18 L345.8 123.63 L346 123.63 L346.2 126.94 L346.4 126.92 L346.6 125.69 L346.8 122.05 L347 120.37 L347.2 120.49 L347.4 118.04 L347.6 120.31 L347.8 118.02 L348 112.05 L348.2 118.75 L348.4 116.06 L348.6 119.01 L348.8 120.55 L349 119.98 L349.2 122.29 L349.4 121.37 L349.6 119.18 L349.8 121.02 L350 117.27 L350.2 119.81 L350.4 115.58 L350.6 115.54 L350.8 120.56 L351 117.37 L351.2 116.43 L351.4 118.4 L351.6 114.48 L351.8 118.33 L352 111.83 L352.2 113.41 L352.4 112.82 L352.6 113.37 L352.8 118.66 L353 111.39 L353.2 113.45 L353.4 115.52 L353.6 116.44 L353.8 116.92 L354 113.79 L354.2 112.44 L354.4 118.06 L354.6 105.23 L354.8 110.99 L355 112.21 L355.2 114.16 L355.4 117.59 L355.6 121.29 L355.8 114.48 L356 114.07 L356.2 115.33 L356.4 114.73 L356.6 112.38 L356.8 110.4 L357 111.17 L357.2 115.63 L357.4 114.39 L357.6 115.58 L357.8 111.22 L358 116.23 L358.2 112.1 L358.4 116.26 L358.6 106.5 L358.8 113.15 L359 115.18 L359.2 113.6 L359.4 113.9 L359.6 109.79 L359.8 113.19 L360 111.18 L360.2 108.91 L360.4 109.06 L360.6 111.9 L360.8 110.13 L361 113.97 L361.2 108.87 L361.4 107.95 L361.6 115.54 L361.8 110.14 L362 111.65 L362.2 109.3 L362.4 109.31 L362.6 110.85 L362.8 113.91 L363 108.1 L363.2 114.36 L363.4 115.59 L363.6 112.27 L363.8 110.75 L364 109.81 L364.2 109.45 L364.4 110.58 L364.6 114.74 L364.8 108.16 L365 114.31 L365.2 113.42 L365.4 108.4 L365.6 108.83 L365.8 114.06 L366 113.62 L366.2 110.85 L366.4 115.16 L366.6 110.12 L366.8 111.85 L367 109.46 L367.2 110.01 L367.4 109.32 L367.6 110.08 L367.8 114.69 L368 112.66 L368.2 113.95 L368.4 114.56 L368.6 110.52 L368.8 110.81 L369 114.39 L369.2 109.89 L369.4 111.13 L369.6 112.56 L369.8 109.99 L370 109.97 L370.2 114.26 L370.4 115 L370.6 108.82 L370.8 112.33 L371 110.95 L371.2 113.44 L371.4 113.93 L371.6 116.73 L371.8 114.32 L372 116.61 L372.2 117.29 L372.4 112.3 L372.6 115.3 L372.8 116.11 L373 114.79 L373.2 112.01 L373.4 114.65 L373.6 116.67 L373.8 110.7 L374 113.65 L374.2 110.12 L374.4 113.28 L374.6 120.69 L374.8 110.43 L375 115.95 L375.2 115.61 L375.4 111.28 L375.6 114.5 L375.8 115.88 L376 113.01 L376.2 114.63 L376.4 118.41 L376.6 115.86 L376.8 114.92 L377 111.61 L377.2 112.15 L377.4 121.94 L377.6 117.19 L377.8 118.01 L378 116.11 L378.2 116.19 L378.4 115.94 L378.6 117.63 L378.8 112.04 L379 115.97 L379.2 115.86 L379.4 115.1 L379.6 114.09 L379.8 112.7 L380 113.29 L380.2 114.1 L380.4 119.49 L380.6 118.49 L380.8 118.85 L381 116.56 L381.2 108.61 L381.4 119.63 L381.6 120.13 L381.8 117.47 L382 122.92 L382.2 116.62 L382.4 114.97 L382.6 118.79 L382.8 117.78 L383 116.8 L383.2 116.22 L383.4 127.53 L383.6 116.88 L383.8 118.99 L384 122.67 L384.2 120.58 L384.4 117.72 L384.6 118.63 L384.8 122.24 L385 120.7 L385.2 120.94 L385.4 117.95 L385.6 121.95 L385.8 118.51 L386 123.31 L386.2 122.69 L386.4 120.94 L386.6 123.55 L386.8 120.24 L387 120.83 L387.2 118.99 L387.4 123.88 L387.6 122.64 L387.8 117.61 L388 118.49 L388.2 128.03 L388.4 127.17 L388.6 118.06 L388.8 124.49 L389 119.8 L389.2 124.96 L389.4 123.17 L389.6 121.19 L389.8 120.33 L390 114.42 L390.2 118.36 L390.4 122.67 L390.6 123.87 L390.8 125 L391 120.85 L391.2 125.39 L391.4 120.48 L391.6 125.57 L391.8 125.49 L392 119.61 L392.2 125.19 L392.4 124.05 L392.6 124.12 L392.8 125.28 L393 122.99 L393.2 122.83 L393.4 121.82 L393.6 125.79 L393.8 126.15 L394 120.45 L394.2 125.3 L394.4 118.29 L394.6 120.87 L394.8 121.06 L395 130.47 L395.2 121.86 L395.4 121.65 L395.6 120.61 L395.8 122.45 L396 126.04 L396.2 120.25 L396.4 123.92 L396.6 124.94 L396.8 120.71 L397 122.69 L397.2 127.55 L397.4 128.32 L397.6 127.27 L397.8 122.04 L398 126.76 L398.2 124.4 L398.4 123.73 L398.6 123.71 L398.8 133.87 L399 128.04 L399.2 122.52 L399.4 121.85 L399.6 128.46 L399.8 129.21 L400 125.59 L400.2 123.44 L400.4 124.69 L400.6 127.27 L400.8 125.68 L401 124.75 L401.2 124.01 L401.4 124.48 L401.6 122.63 L401.8 124.31 L402 129.83 L402.2 122.54 L402.4 128.23 L402.6 128.79 L402.8 125.88 L403 127.44 L403.2 124.6 L403.4 128.17 L403.6 128.56 L403.8 128.85 L404 127.04 L404.2 130.85 L404.4 130.12 L404.6 127.91 L404.8 128.84 L405 125.73 L405.2 131.01 L405.4 128.74 L405.6 128.58 L405.8 126.06 L406 131.53 L406.2 124.74 L406.4 128.11 L406.6 124.89 L406.8 117.76 L407 134.14 L407.2 124.7 L407.4 127.23 L407.6 125.79 L407.8 125.32 L408 122.38 L408.2 127.08 L408.4 131.19 L408.6 129.92 L408.8 130.1 L409 132.4 L409.2 124.9 L409.4 129.96 L409.6 127.16 L409.8 130.72 L410 130.5 L410.2 125.55 L410.4 129.1 L410.6 131.12 L410.8 129.92 L411 127.25 L411.2 125.33 L411.4 129.47 L411.6 126.07 L411.8 130.93 L412 128.12 L412.2 131.82 L412.4 126.32 L412.6 129.48 L412.8 126.46 L413 131.82 L413.2 130.15 L413.4 127.67 L413.6 133.4 L413.8 131.27 L414 128.62 L414.2 132.72 L414.4 129.07 L414.6 133.58 L414.8 128.53 L415 126.14 L415.2 126.81 L415.4 132.1 L415.6 128.7 L415.8 129.79 L416 131.5 L416.2 126.53 L416.4 128.38 L416.6 127.5 L416.8 132.52 L417 128.53 L417.2 130.74 L417.4 129.47 L417.6 128.8 L417.8 134.31 L418 131.03 L418.2 132.19 L418.4 132.67 L418.6 133.63 L418.8 129.33 L419 121.04 L419.2 131.03 L419.4 128.77 L419.6 127.65 L419.8 134.71 L420 133.9 L420.2 130.84 L420.4 128.7 L420.6 135.31 L420.8 131.83 L421 129.05 L421.2 135.37 L421.4 135.14 L421.6 134.98 L421.8 134.21 L422 131.93 L422.2 130.06 L422.4 132.9 L422.6 129.02 L422.8 132.67 L423 128.39 L423.2 128 L423.4 133.49 L423.6 130.6 L423.8 133.39 L424 134.05 L424.2 142.3 L424.4 132.81 L424.6 134.62 L424.8 133.18 L425 137.76 L425.2 135.07 L425.4 128.43 L425.6 130.2 L425.8 131.16 L426 132.9 L426.2 129.55 L426.4 135 L426.6 128.4 L426.8 129.64 L427 134.17 L427.2 130 L427.4 130.96 L427.6 135.84 L427.8 134.26 L428 131.83 L428.2 129.41 L428.4 130.47 L428.6 135.14 L428.8 134.57 L429 128.97 L429.2 133.95 L429.4 131.39 L429.6 134.09 L429.8 130.8 L430 129.53 L430.2 133.21 L430.4 130.86 L430.6 135.28 L430.8 135.54 L431 133.93 L431.2 134.46 L431.4 135.31 L431.6 131.42 L431.8 129.6 L432 141.32 L432.2 132.17 L432.4 134.79 L432.6 136.03 L432.8 136.55 L433 131.09 L433.2 133.91 L433.4 131.87 L433.6 132.47 L433.8 132.46 L434 131.05 L434.2 129.05 L434.4 134.89 L434.6 134.36 L434.8 135.51 L435 132.57 L435.2 130.84 L435.4 133.66 L435.6 136.33 L435.8 132.72 L436 130.63 L436.2 138.21 L436.4 136.57 L436.6 135.89 L436.8 136.15 L437 132.35 L437.2 131.22 L437.4 138.16 L437.6 129.53 L437.8 135.87 L438 132.3 L438.2 131.49 L438.4 131.15 L438.6 130.6 L438.8 136.49 L439 132.2 L439.2 143.97 L439.4 132.35 L439.6 132.88 L439.8 133.83 L440 131.15 L440.2 131.53 L440.4 132.72 L440.6 131.51 L440.8 133.52 L441 130.3 L441.2 135.62 L441.4 130.92 L441.6 133.03 L441.8 134.59" stroke="#0000ff" stroke-width="1.6" fill="none" stroke-linejoin="round"/>
<line x1="357" y1="109.6" x2="357" y2="105.61" stroke="#5555ff" stroke-width="0.6" />
<line x1="360" y1="108.4" x2="360" y2="103.37" stroke="#5555ff" stroke-width="0.6" />
<line x1="367" y1="108.56" x2="367" y2="102.15" stroke="#5555ff" stroke-width="0.6" />
<line x1="370" y1="109.14" x2="370" y2="104.32" stroke="#5555ff" stroke-width="0.6" />
<line x1="372" y1="109.52" x2="372" y2="102.91" stroke="#5555ff" stroke-width="0.6" />
<line x1="388" y1="116.6" x2="388" y2="110.41" stroke="#5555ff" stroke-width="0.6" />
<line x1="398" y1="120.8" x2="398" y2="117.05" stroke="#5555ff" stroke-width="0.6" />
<line x1="399" y1="121.2" x2="399" y2="116.21" stroke="#5555ff" stroke-width="0.6" />
<line x1="405" y1="123.58" x2="405" y2="117.23" stroke="#5555ff" stroke-width="0.6" />
<line x1="413" y1="125.73" x2="413" y2="120.24" stroke="#5555ff" stroke-width="0.6" />
<line x1="421" y1="127.69" x2="421" y2="121.67" stroke="#5555ff" stroke-width="0.6" />
<line x1="430" y1="128.51" x2="430" y2="121.35" stroke="#5555ff" stroke-width="0.6" />
<path d="M447.6 135.37 L447.8 134.47 L448 135.48 L448.2 133.88 L448.4 130.8 L448.6 133 L448.8 135.69 L449 138.62 L449.2 136.14 L449.4 127.05 L449.6 139.5 L449.8 135.04 L450 133.87 L450.2 136.77 L450.4 135.11 L450.6 133.46 L450.8 134.33 L451 138.3 L451.2 140.66 L451.4 134.3 L451.6 140.5 L451.8 139.78 L452 135.7 L452.2 137.62 L452.4 138.96 L452.6 136.66 L452.8 135.21 L453 141.06 L453.2 135.98 L453.4 138.65 L453.6 138.3 L453.8 141.93 L454 139.18 L454.2 138 L454.4 142.15 L454.6 137.12 L454.8 139.87 L455 135.87 L455.2 139.79 L455.4 139.58 L455.6 140.01 L455.8 137.17 L456 134.96 L456.2 137.99 L456.4 140 L456.6 135.16 L456.8 130.63 L457 133.86 L457.2 139.53 L457.4 132.14 L457.6 132.35 L457.8 132.52 L458 138.53 L458.2 134.37 L458.4 136.57 L458.6 136.46 L458.8 134.13 L459 136.24 L459.2 133.91 L459.4 134.33 L459.6 132.28 L459.8 129.69 L460 134.08 L460.2 130.88 L460.4 131.17 L460.6 135.67 L460.8 132.32 L461 129.18 L461.2 133.09 L461.4 132.16 L461.6 128.19 L461.8 122.54 L462 132.08 L462.2 129.28 L462.4 134.58 L462.6 125.59 L462.8 130.39 L463 131.97 L463.2 126.3 L463.4 127.57 L463.6 132.74 L463.8 129.35 L464 126.5 L464.2 129.4 L464.4 132.66 L464.6 129.24 L464.8 124.68 L465 124.41 L465.2 127.1 L465.4 123.87 L465.6 124.22 L465.8 128.39 L466 126.62 L466.2 123.69 L466.4 129.68 L466.6 125.53 L466.8 129.37 L467 127.05 L467.2 126.96 L467.4 125.25 L467.6 127 L467.8 123.48 L468 123.41 L468.2 128.04 L468.4 122.63 L468.6 123.87 L468.8 128.17 L469 123.07 L469.2 123.17 L469.4 127.23 L469.6 121.57 L469.8 121.66 L470 126.52 L470.2 121.57 L470.4 126 L470.6 125.94 L470.8 121.38 L471 132.57 L471.2 124.93 L471.4 124.94 L471.6 119.92 L471.8 122 L472 123.67 L472.2 124.07 L472.4 119.19 L472.6 118.87 L472.8 118.98 L473 117.97 L473.2 120.01 L473.4 120.37 L473.6 116.43 L473.8 116.61 L474 117.5 L474.2 116.73 L474.4 117.75 L474.6 116.91 L474.8 122.6 L475 113.63 L475.2 113.92 L475.4 120.11 L475.6 123.65 L475.8 120.91 L476 119.68 L476.2 117.47 L476.4 117.57 L476.6 116.69 L476.8 120.52 L477 120.4 L477.2 117.86 L477.4 121.7 L477.6 118.94 L477.8 119.1 L478 115.75 L478.2 115.47 L478.4 114.53 L478.6 123.44 L478.8 119.52 L479 120.19 L479.2 119.5 L479.4 119.26 L479.6 117.26 L479.8 118.76 L480 114 L480.2 117.72 L480.4 112.84 L480.6 121.33 L480.8 119.17 L481 113.5 L481.2 118.12 L481.4 118.45 L481.6 112.25 L481.8 116.25 L482 115.01 L482.2 116.46 L482.4 118.46 L482.6 117.09 L482.8 113 L483 115.58 L483.2 115.54 L483.4 111.15 L483.6 111.99 L483.8 113.67 L484 112.16 L484.2 113.97 L484.4 115.85 L484.6 117.98 L484.8 113.96 L485 115.33 L485.2 116.16 L485.4 115.42 L485.6 115.27 L485.8 110.15 L486 116.95 L486.2 111.44 L486.4 111.61 L486.6 114.2 L486.8 114.82 L487 116.16 L487.2 112.57 L487.4 117.68 L487.6 115.23 L487.8 116.93 L488 114.09 L488.2 110.95 L488.4 110.51 L488.6 115.43 L488.8 113.78 L489 113.91 L489.2 113.04 L489.4 111.91 L489.6 114.23 L489.8 112.55 L490 117.54 L490.2 109.44 L490.4 113.34 L490.6 117.35 L490.8 113.65 L491 116.71 L491.2 117.53 L491.4 114.36 L491.6 117.08 L491.8 117.25 L492 112.36 L492.2 117.88 L492.4 111.08 L492.6 110.89 L492.8 114.64 L493 113.24 L493.2 114.21 L493.4 114.67 L493.6 114.61 L493.8 118.06 L494 118.16 L494.2 113.72 L494.4 115.23 L494.6 116.16 L494.8 112.63 L495 113.22 L495.2 116.77 L495.4 111.26 L495.6 117.3 L495.8 117.06 L496 114.42 L496.2 113.39 L496.4 115.73 L496.6 113.89 L496.8 118.04 L497 116.31 L497.2 114.15 L497.4 118.12 L497.6 116.62 L497.8 112.97 L498 115.23 L498.2 115.88 L498.4 119.49 L498.6 114.68 L498.8 115.74 L499 119.92 L499.2 115.68 L499.4 118.87 L499.6 113.24 L499.8 115.61 L500 114.03 L500.2 119.56 L500.4 117.03 L500.6 114.48 L500.8 113.56 L501 114.24 L501.2 113.71 L501.4 116.8 L501.6 118.76 L501.8 115.56 L502 114.51 L502.2 123.88 L502.4 111.06 L502.6 119.96 L502.8 114.19 L503 118.26 L503.2 116.16 L503.4 120.54 L503.6 119.69 L503.8 109.39 L504 119.7 L504.2 121.24 L504.4 118.34 L504.6 119.01 L504.8 117.1 L505 115.46 L505.2 119.97 L505.4 120.62 L505.6 115.89 L505.8 115.22 L506 117.15 L506.2 119.34 L506.4 117.37 L506.6 122.1 L506.8 120.81 L507 121.85 L507.2 119.44 L507.4 128.51 L507.6 122.3 L507.8 119.59 L508 119.48 L508.2 119.48 L508.4 121.32 L508.6 119.77 L508.8 121.02 L509 118.42 L509.2 120.44 L509.4 120.72 L509.6 122.57 L509.8 122.35 L510 119.03 L510.2 121.07 L510.4 117.21 L510.6 121.13 L510.8 121.54 L511 122.41 L511.2 121.98 L511.4 118.31 L511.6 121.26 L511.8 122.13 L512 120.97 L512.2 119.46 L512.4 123.36 L512.6 119.69 L512.8 123.96 L513 123.24 L513.2 123.28 L513.4 123.69 L513.6 124.98 L513.8 125.09 L514 121.38 L514.2 120.98 L514.4 127.61 L514.6 125.3 L514.8 122.75 L515 119.68 L515.2 121.48 L515.4 113.94 L515.6 124.36 L515.8 130.81 L516 121.33 L516.2 122.53 L516.4 130.39 L516.6 119.42 L516.8 118.78 L517 122.95 L517.2 122.89 L517.4 125.79 L517.6 120.56 L517.8 132.14 L518 121.45 L518.2 123.63 L518.4 125.03 L518.6 120.75 L518.8 127.09 L519 127.27 L519.2 127.46 L519.4 120 L519.6 125.1 L519.8 125.41 L520 125.64 L520.2 117.96 L520.4 121.42 L520.6 126.86 L520.8 123.98 L521 121.25 L521.2 121.54 L521.4 125.95 L521.6 125.19 L521.8 126.94 L522 127.5 L522.2 121.31 L522.4 128.66 L522.6 128.34 L522.8 124.23 L523 127.66 L523.2 124.75 L523.4 127.19 L523.6 129.06 L523.8 125.32 L524 125.94 L524.2 127.67 L524.4 127.69 L524.6 127.82 L524.8 127.37 L525 126.56 L525.2 128.66 L525.4 125.85 L525.6 124.89 L525.8 127.55 L526 129.6 L526.2 128.68 L526.4 128.97 L526.6 123.6 L526.8 130.52 L527 130.75 L527.2 125.6 L527.4 128.47 L527.6 123.78 L527.8 133.17 L528 129.29 L528.2 126.7 L528.4 130.26 L528.6 131.16 L528.8 125.19 L529 129.57 L529.2 127.21 L529.4 125.72 L529.6 127.16 L529.8 128.28 L530 131.59 L530.2 130.65 L530.4 124.8 L530.6 125.28 L530.8 132.67 L531 129.34 L531.2 129.84 L531.4 127.91 L531.6 131.73 L531.8 129.66 L532 130.02 L532.2 127.43 L532.4 131.62 L532.6 127.31 L532.8 126.79 L533 130.46 L533.2 132.37 L533.4 128.25 L533.6 128.4 L533.8 127.29 L534 130.9 L534.2 132.29 L534.4 127.34 L534.6 122.81 L534.8 130.73 L535 127.43 L535.2 130.82 L535.4 128.88 L535.6 128.39 L535.8 134.61 L536 127.7 L536.2 131.13 L536.4 131.99 L536.6 130.4 L536.8 127.46 L537 134.16 L537.2 129.35 L537.4 130.77 L537.6 134.73 L537.8 135.28 L538 134.94 L538.2 131.09 L538.4 133.76 L538.6 134.66 L538.8 126.39 L539 135.76 L539.2 122.47 L539.4 133.49 L539.6 130.3 L539.8 127.31 L540 129.68 L540.2 136.04 L540.4 129.79 L540.6 134.97 L540.8 130.27 L541 131.64 L541.2 130.81 L541.4 136.96 L541.6 130.07 L541.8 136.16 L542 131.88 L542.2 137.06 L542.4 140.42 L542.6 124.76 L542.8 133.89 L543 136.18 L543.2 133.28 L543.4 130.4 L543.6 135.6 L543.8 135.01 L544 132.6 L544.2 138.47 L544.4 137.99 L544.6 131.73 L544.8 133.41 L545 131.14 L545.2 134.03 L545.4 134.26 L545.6 135.39 L545.8 136.64 L546 133.36 L546.2 137.64 L546.4 133.78 L546.6 134.28 L546.8 135.62 L547 134.02 L547.2 137.64 L547.4 132.72 L547.6 134.68 L547.8 135.54 L548 134.36 L548.2 141.55 L548.4 135.3 L548.6 135.91 L548.8 136.38 L549 139.29 L549.2 134.62 L549.4 139.41 L549.6 140.5 L549.8 135.27 L550 134.61 L550.2 134.03 L550.4 135.92 L550.6 135.34 L550.8 136.77 L551 138.54 L551.2 142.96 L551.4 144.24 L551.6 138.63 L551.8 137.55 L552 141.84 L552.2 147.27 L552.4 141.85 L552.6 139.82" stroke="#0000ff" stroke-width="1.6" fill="none" stroke-linejoin="round"/>
<line x1="441" y1="130.1" x2="441" y2="125.43" stroke="#5555ff" stroke-width="0.6" />
<line x1="503" y1="113.5" x2="503" y2="109.97" stroke="#5555ff" stroke-width="0.6" />
<path d="M563.8 139.63 L564 141.17 L564.2 138.91 L564.4 139.81 L564.6 139.45 L564.8 137.98 L565 137.78 L565.2 141.07 L565.4 139.06 L565.6 140.44 L565.8 143.35 L566 141.05 L566.2 138.48 L566.4 139.64 L566.6 139.89 L566.8 140.87 L567 137.82 L567.2 139.15 L567.4 139.6 L567.6 140.06 L567.8 138.27 L568 139.87 L568.2 140.47 L568.4 140.63 L568.6 138.6 L568.8 139.46 L569 138.89 L569.2 139.25 L569.4 139.15 L569.6 141.48 L569.8 137.75 L570 141.49 L570.2 137.83 L570.4 138.01 L570.6 138.52 L570.8 138.85 L571 141.13 L571.2 141.06 L571.4 141.44 L571.6 139.26 L571.8 137.76 L572 140.2 L572.2 141.3 L572.4 138.13 L572.6 141.01 L572.8 134.09 L573 136.95 L573.2 132.32 L573.4 130.31 L573.6 126.96 L573.8 120.89 L574 120.39 L574.2 117.07 L574.4 115.56 L574.6 112.43 L574.8 112.65 L575 112.55 L575.2 110.63 L575.4 112.22 L575.6 113.61 L575.8 109.98 L576 113.22 L576.2 111.1 L576.4 109.7 L576.6 112.44 L576.8 110.16 L577 109.72 L577.2 109.18 L577.4 110.91 L577.6 107.61 L577.8 107.64 L578 107.7 L578.2 106.66 L578.4 109.7 L578.6 108.2 L578.8 108.56 L579 109.61 L579.2 107.96 L579.4 107.01 L579.6 107.94 L579.8 107.73 L580 106.84 L580.2 108.12 L580.4 106.9 L580.6 108.33 L580.8 105.96 L581 109.2 L581.2 106.07 L581.4 106.13 L581.6 105.45 L581.8 106.44 L582 106.27 L582.2 107.43 L582.4 108.2 L582.6 105.52 L582.8 107.68 L583 105.59 L583.2 105.9 L583.4 104.7 L583.6 107.67 L583.8 105.51 L584 106.73 L584.2 103.95 L584.4 106.55 L584.6 104.58 L584.8 105.39 L585 106.21 L585.2 104.15 L585.4 105.54 L585.6 106.74 L585.8 104.02 L586 105.2 L586.2 104.04 L586.4 103.84 L586.6 105.19 L586.8 105.03 L587 105.74 L587.2 106.56 L587.4 105.93 L587.6 104.41 L587.8 104.98 L588 105.7 L588.2 106.32 L588.4 105.66 L588.6 104.91 L588.8 103.4 L589 106.31 L589.2 103.93 L589.4 104.39 L589.6 106.27 L589.8 103.53 L590 106.32 L590.2 103.55 L590.4 102.95 L590.6 104.62 L590.8 105.71 L591 101.86 L591.2 105.84 L591.4 104.02 L591.6 105.66 L591.8 102.82 L592 103.47 L592.2 102.79 L592.4 105.23 L592.6 104.11 L592.8 104.82 L593 103.12 L593.2 105.07 L593.4 106.07 L593.6 102.38 L593.8 103.31 L594 105.5 L594.2 105.45 L594.4 105.58 L594.6 103.04 L594.8 105.86 L595 102.56 L595.2 103.99 L595.4 104.61 L595.6 103.38 L595.8 105.75 L596 103.9 L596.2 102.82 L596.4 102.8 L596.6 105.69 L596.8 102.62 L597 106.6 L597.2 106.29 L597.4 106.69 L597.6 105.93 L597.8 102.84 L598 103.34 L598.2 104.19 L598.4 103.69 L598.6 103.25 L598.8 106.72 L599 106.73 L599.2 106.21 L599.4 104.19 L599.6 106.63 L599.8 106.55 L600 104.61 L600.2 103.87 L600.4 103.94 L600.6 105.08 L600.8 106.82 L601 103.84 L601.2 105.29 L601.4 105.04 L601.6 107.23 L601.8 104.32 L602 106.37 L602.2 105.09 L602.4 102.64 L602.6 107.17 L602.8 107.22 L603 107.35 L603.2 105.18 L603.4 105.16 L603.6 104.59 L603.8 105.17 L604 104.66 L604.2 107.37 L604.4 104.46 L604.6 105.09 L604.8 107.52 L605 107.48 L605.2 108.34 L605.4 106.03 L605.6 104.72 L605.8 107.81 L606 105.77 L606.2 107.76 L606.4 104.79 L606.6 104.9 L606.8 107.19 L607 107.58 L607.2 107.14 L607.4 107.06 L607.6 107.36 L607.8 105.54 L608 105.32 L608.2 106.5 L608.4 107.34 L608.6 106.19 L608.8 105.95 L609 107.07 L609.2 106.96 L609.4 106.44 L609.6 109.12 L609.8 109.23 L610 105.69 L610.2 107.48 L610.4 106.57 L610.6 107.02 L610.8 105.85 L611 106.12 L611.2 105.99 L611.4 106.42 L611.6 108.58 L611.8 106.35 L612 106.96 L612.2 109.37 L612.4 107.3 L612.6 109.05 L612.8 110.15 L613 106.86 L613.2 108.7 L613.4 108.38 L613.6 107.82 L613.8 107.79 L614 107.05 L614.2 109.35 L614.4 107.61 L614.6 108.57 L614.8 110.65 L615 108.39 L615.2 108.32 L615.4 110.85 L615.6 109.51 L615.8 109.52 L616 108.19 L616.2 109.92 L616.4 108.94 L616.6 109.66 L616.8 109.13 L617 107.92 L617.2 111.17 L617.4 110.49 L617.6 111.61 L617.8 109.07 L618 109.03 L618.2 108.5 L618.4 109.24 L618.6 109.38 L618.8 108.88 L619 109.26 L619.2 109.44 L619.4 111.75 L619.6 110.17 L619.8 111.72 L620 108.7 L620.2 109.31 L620.4 112.43 L620.6 108.88 L620.8 109.02 L621 110.87 L621.2 110.02 L621.4 109.7 L621.6 111.41 L621.8 111.48 L622 109.85 L622.2 111.32 L622.4 111.04 L622.6 112.67 L622.8 109.61 L623 110.33 L623.2 111.72 L623.4 109.65 L623.6 112.96 L623.8 113.51 L624 111.01 L624.2 112.86 L624.4 110.82 L624.6 113.67 L624.8 110.79 L625 110.02 L625.2 110.33 L625.4 111.95 L625.6 110.33 L625.8 114.16 L626 112.82 L626.2 112.64 L626.4 112.92 L626.6 112.15 L626.8 114.08 L627 113.45 L627.2 112.38 L627.4 111.86 L627.6 111.36 L627.8 112.1 L628 112.31 L628.2 108.52 L628.4 114.72 L628.6 112.11 L628.8 113.3 L629 111.46 L629.2 113.47 L629.4 113.9 L629.6 111.7 L629.8 115.34 L630 112.15 L630.2 112.61 L630.4 114.57 L630.6 113.03 L630.8 115.25 L631 112.75 L631.2 113.12 L631.4 114.69 L631.6 115.42 L631.8 115.58 L632 113.25 L632.2 114.28 L632.4 113.86 L632.6 114.98 L632.8 113.25 L633 115.76 L633.2 115.31 L633.4 113.22 L633.6 113.84 L633.8 113.98 L634 116.42 L634.2 114.58 L634.4 115.29 L634.6 116.6 L634.8 114.53 L635 116.78 L635.2 114.23 L635.4 113.17 L635.6 113.59 L635.8 116.01 L636 114.83 L636.2 116.69 L636.4 115.55 L636.6 116.22 L636.8 114.95 L637 115.95 L637.2 116.45 L637.4 115.23 L637.6 115.74 L637.8 117.21 L638 117.62 L638.2 111.79 L638.4 114.29 L638.6 117.45 L638.8 115.93 L639 118.08 L639.2 117.31 L639.4 115.79 L639.6 117.78 L639.8 116.63 L640 117.35 L640.2 118.1 L640.4 116.94 L640.6 118.47 L640.8 116.33 L641 116.32 L641.2 117.42 L641.4 116.54 L641.6 117.81 L641.8 117.16 L642 118.07 L642.2 118.46 L642.4 117.49 L642.6 118.94 L642.8 118.46 L643 118.83 L643.2 115.54 L643.4 115.58 L643.6 118.12 L643.8 115.26 L644 119.19 L644.2 117.33 L644.4 118.8 L644.6 116.86 L644.8 118.46 L645 119.6 L645.2 119.51 L645.4 117.59 L645.6 118.11 L645.8 118.38 L646 117.68 L646.2 116.03 L646.4 120.28 L646.6 120 L646.8 117.8 L647 119.34 L647.2 120.45 L647.4 118.17 L647.6 120.17 L647.8 120.03 L648 120.45 L648.2 117.3 L648.4 120.71 L648.6 121 L648.8 118.11 L649 119.73 L649.2 117.62 L649.4 119.73 L649.6 120.21 L649.8 120.42 L650 120.93 L650.2 118.73 L650.4 118.08 L650.6 120.94 L650.8 117.83 L651 118.72 L651.2 118.79 L651.4 121.01 L651.6 119.73 L651.8 121.37 L652 120.75 L652.2 121.51 L652.4 121.34 L652.6 121.77 L652.8 119.41 L653 119.79 L653.2 120.94 L653.4 120.82 L653.6 121.65 L653.8 121.83 L654 119.88 L654.2 119.2 L654.4 121.74 L654.6 121.58 L654.8 120 L655 115.74 L655.2 119.1 L655.4 120.06 L655.6 120.21 L655.8 120.01 L656 119.44 L656.2 119.98 L656.4 120.75 L656.6 119.78 L656.8 120.57 L657 121.28 L657.2 122.98 L657.4 123.13 L657.6 121.32 L657.8 120.26 L658 120.89 L658.2 122.57 L658.4 121.56 L658.6 122.27 L658.8 122.99 L659 122.74 L659.2 123.6 L659.4 120.56 L659.6 121.47 L659.8 120.47 L660 122.48 L660.2 122.91 L660.4 121.52 L660.6 120.79 L660.8 122.48 L661 121.35 L661.2 121.52 L661.4 122.32 L661.6 124.64 L661.8 122.35 L662 123.81 L662.2 122.52 L662.4 122.71 L662.6 121.71 L662.8 121.94 L663 124.34 L663.2 123.04 L663.4 122.52 L663.6 125.38 L663.8 125.01 L664 123.95 L664.2 123.35 L664.4 123.93 L664.6 122.39 L664.8 123.49 L665 122.98 L665.2 122.02 L665.4 122.33 L665.6 125.98 L665.8 123.01 L666 122.15 L666.2 122.49 L666.4 125.9 L666.6 125.62 L666.8 122.63 L667 124.53 L667.2 124.04 L667.4 124.96 L667.6 123.94 L667.8 126.48 L668 123.58 L668.2 126.05 L668.4 123.89 L668.6 125.48 L668.8 124.65 L669 125.1 L669.2 125.14 L669.4 125.62 L669.6 123.42" stroke="#0000ff" stroke-width="1.6" fill="none" stroke-linejoin="round"/>
<path d="M340.8 30.8 L342.4 30.8 L342.4 33.75 L344.4 33.75 L341.6 39 L338.8 33.75 L340.8 33.75 Z" fill="#ff0000"/>
<path d="M453.2 30.9 L454.8 30.9 L454.8 33.85 L456.8 33.85 L454 39.1 L451.2 33.85 L453.2 33.85 Z" fill="#ff0000"/>
<path d="M572.5 30.9 L574.1 30.9 L574.1 33.85 L576.1 33.85 L573.3 39.1 L570.5 33.85 L572.5 33.85 Z" fill="#ff0000"/>
<path d="M340.8 100.2 L342.4 100.2 L342.4 103.15 L344.4 103.15 L341.6 108.4 L338.8 103.15 L340.8 103.15 Z" fill="#ff0000"/>
<path d="M453.1 100.2 L454.7 100.2 L454.7 103.15 L456.7 103.15 L453.9 108.4 L451.1 103.15 L453.1 103.15 Z" fill="#ff0000"/>
<path d="M572.4 100.5 L574 100.5 L574 103.45 L576 103.45 L573.2 108.7 L570.4 103.45 L572.4 103.45 Z" fill="#ff0000"/>
<path d="M579.1 167.7 L609.4 167.7 L609.4 141.5" stroke="#000" stroke-width="1.6" fill="none" />
<text transform="translate(614 159.5) scale(1 1.05)" font-size="12.8" text-anchor="start" fill="#111" >25 pA</text>
<text transform="translate(586 183) scale(1 1.05)" font-size="13" text-anchor="start" fill="#111" >5 s</text>
<text transform="translate(1.5 196.3) scale(1 1.05)" font-size="20.5" text-anchor="start" fill="#111" >C</text>
<text transform="translate(111.6 191.3) scale(1 1.05)" font-size="12.95" text-anchor="start" fill="#111" >Rat (1 month)</text>
<text transform="translate(34 225.7) scale(1 1.05)" font-size="13.1" text-anchor="start" fill="#111" >Control</text>
<text transform="translate(149.1 225.7) scale(1 1.05)" font-size="12.9" text-anchor="start" fill="#111" >+CGP</text>
<text transform="translate(0.9 277.4) scale(1 1.05)" font-size="13.3" text-anchor="start" fill="#111" >L2/3</text>
<text transform="translate(13.8 362.6) scale(1 1.05)" font-size="12.6" text-anchor="start" fill="#1a1aff" >L5</text>
<path d="M51.6 232.4 L53.2 232.4 L53.2 235.35 L55.2 235.35 L52.4 240.6 L49.6 235.35 L51.6 235.35 Z" fill="#ff0000"/>
<path d="M165.9 232.4 L167.5 232.4 L167.5 235.35 L169.5 235.35 L166.7 240.6 L163.9 235.35 L165.9 235.35 Z" fill="#ff0000"/>
<path d="M51.8 312.6 L53.4 312.6 L53.4 315.55 L55.4 315.55 L52.6 320.8 L49.8 315.55 L51.8 315.55 Z" fill="#ff0000"/>
<path d="M165.6 312.6 L167.2 312.6 L167.2 315.55 L169.2 315.55 L166.4 320.8 L163.6 315.55 L165.6 315.55 Z" fill="#ff0000"/>
<path d="M37 299.76 L37.55 298.1 L37.6 242.37 L37.75 304.09 L38.56 299.34 L39.15 298.1 L39.2 242.37 L39.35 303.89 L40.22 299.86 L40.85 298.1 L40.9 242.06 L41.05 303.95 L41.92 300 L42.55 298.1 L42.6 242.38 L42.75 303.22 L43.92 300.02 L44.75 298.1 L44.8 242.06 L44.95 303.3 L46 299.95 L46.75 298.1 L46.8 242.35 L46.95 303.44 L48 299.9 L48.75 298.1 L48.8 242.39 L48.95 303.15 L49.82 299.33 L50.45 298.1 L50.5 242.49 L50.65 304.05 L51.82 299.17 L52.65 298.1 L52.7 242.31 L52.85 303.93 L53.96 299.43 L54.75 298.1 L54.8 242.04 L54.95 303.54 L56.24 300.03 L57.15 298.1 L57.2 242.44 L57.35 303.28 L58.52 299.94 L59.35 298.1 L59.4 242.4 L59.55 303.38 L61.08 299.37 L62.15 298.1 L62.2 242.11 L62.35 303.53 L63.33 300.73 L64.32 301.01 L65.3 301.54 L66.29 300.45 L67.27 298.8 L68.26 298.7 L69.24 299.75 L70.23 301.11 L71.21 300.73 L72.2 299.13 L73.18 298.31 L74.17 299.22 L75.25 298.1 L75.3 242.45 L75.45 304.14 L76.44 302.46 L77.44 300.02 L78.43 298.66 L79.42 299.62 L80.41 300.9 L81.41 300.76 L82.4 299.45 L83.39 298.29 L84.39 299.2 L85.38 300.34 L86.37 300.86 L87.36 299.73 L88.36 298.69 L89.35 299.1 L90.34 300.28 L91.34 300.65 L92.33 299.58 L93.32 298.78 L94.31 299.29 L95.31 300.12 L96.3 300.6 L97.29 299.58 L98.29 298.84 L99.28 298.84 L100.27 300.01 L101.26 300.43 L102.26 299.55 L103.25 298.39 L104.24 299.05 L105.24 300.54 L106.23 300.77 L107.22 300 L108.21 298.32 L109.21 298.58 L110.2 300.03 L111.19 301.36 L112.19 300.03 L113.18 298.39 L114.17 297.93 L115.16 299.53 L116.16 301.17 L117.25 298.1 L117.3 242.25 L117.45 303.64 L118.48 300.14 L119.51 299.15 L120.54 300.64 L121.56 301.85 L122.59 300.56 L123.62 298.28 L124.75 298.1 L124.8 242.35 L124.95 303.57 L126.12 299.34 L126.95 298.1 L127 242.2 L127.15 303.3 L128.44 299.64 L129.35 298.1 L129.4 242.04 L129.55 303.71 L130.72 299.51 L131.55 298.1 L131.6 242 L131.75 303.36 L132.86 300.07 L133.65 298.1 L133.7 242.35 L133.85 303.08 L134.96 299.68 L135.75 298.1 L135.8 242.42 L135.95 303.18 L137 299.5 L137.75 298.1 L137.8 242.13 L137.95 303.71 L139.12 299.92 L139.95 298.1 L140 242.14 L140.15 303.18 L140.48 299.24 L140.8 299.71" stroke="#4a4a4a" stroke-width="0.6" fill="none" stroke-linejoin="bevel"/>
<rect x="152.6" y="296.4" width="101.8" height="5" fill="#ececec"/>
<path d="M152.6 298.79 L152.73 297 L152.78 242.62 L152.93 301.7 L154.27 298.57 L155.21 297 L155.26 242.62 L155.41 300.78 L156.69 298.98 L157.59 297 L157.64 242.13 L157.79 301.77 L158.98 298.79 L159.82 297 L159.87 242.33 L160.02 301.63 L161.18 298.96 L162.01 297 L162.06 242.2 L162.21 301.44 L163.21 298 L163.93 297 L163.98 242.5 L164.13 300.68 L165.45 298.67 L166.38 297 L166.43 242.12 L166.58 301.12 L167.72 298.87 L168.53 297 L168.58 242.28 L168.73 301.86 L170.01 298.47 L170.91 297 L170.96 242.21 L171.11 301.82 L172.2 298.16 L172.98 297 L173.03 242.46 L173.18 301.83 L174.37 298.94 L175.21 297 L175.26 242.43 L175.41 300.88 L176.85 298.5 L177.86 297 L177.91 242.28 L178.06 301.01 L179.24 298.32 L180.07 297 L180.12 242.22 L180.27 300.65 L181.24 298.75 L181.93 297 L181.98 242.11 L182.13 301.35 L183.54 298.37 L184.54 297 L184.59 242.49 L184.74 301.35 L185.7 298.48 L186.4 297 L186.45 242.57 L186.6 301.34 L187.88 298.9 L188.78 297 L188.83 242.45 L188.98 301.74 L190.37 298.86 L191.35 297 L191.4 242.52 L191.55 301.03 L192.73 298.49 L193.57 297 L193.62 242.15 L193.77 301.54 L194.83 298.65 L195.58 297 L195.63 242.59 L195.78 300.71 L197.05 298.13 L197.94 297 L197.99 242.49 L198.14 301.55 L199.24 298.07 L200.02 297 L200.07 242.12 L200.22 301.02 L201.56 298.34 L202.5 297 L202.55 242.13 L202.7 300.73 L203.74 298.2 L204.48 297 L204.53 242.11 L204.68 300.79 L205.84 298.03 L206.67 297 L206.72 242.32 L206.87 301.57 L208.05 298.66 L208.88 297 L208.93 242.46 L209.08 301.21 L210.43 298.19 L211.37 297 L211.42 242.13 L211.57 300.84 L212.75 298.95 L213.58 297 L213.63 242.59 L213.78 301.34 L215.08 298.61 L216 297 L216.05 242.55 L216.2 301.67 L217.17 298.24 L217.86 297 L217.91 242.58 L218.06 301.44 L219.46 298.28 L220.44 297 L220.49 242.27 L220.64 300.82 L221.87 298.55 L222.75 297 L222.8 242.68 L222.95 301.63 L224.09 298.17 L224.9 297 L224.95 242.17 L225.1 300.97 L226.1 298.16 L226.82 297 L226.87 242.19 L227.02 301.55 L228.23 298.31 L229.09 297 L229.14 242.44 L229.29 301.01 L230.46 298.98 L231.3 297 L231.35 242.46 L231.5 300.78 L232.77 298.78 L233.67 297 L233.72 242.27 L233.87 301.19 L235.19 298.29 L236.12 297 L236.17 242.39 L236.32 301 L237.34 298.32 L238.06 297 L238.11 242.19 L238.26 301.85 L239.55 298.21 L240.46 297 L240.51 242.27 L240.66 301.13 L241.73 298.12 L242.5 297 L242.55 242.24 L242.7 301.13 L244.09 298.58 L245.06 297 L245.11 242.42 L245.26 301.08 L246.28 298.68 L247.02 297 L247.07 242.55 L247.22 300.94 L248.62 298.24 L249.61 297 L249.66 242.48 L249.81 301.13 L250.95 298.83 L251.76 297 L251.81 242.11 L251.96 301.3 L253.03 298.35 L253.8 297 L253.85 242.23 L254 301.73 L254.18 298.22 L254.4 298.79" stroke="#c2c2c2" stroke-width="0.5" fill="none" stroke-linejoin="bevel"/>
<rect x="38.31" y="327.2" width="102.15" height="54.8" fill="#e2e2ff"/>
<rect x="37.7" y="379.5" width="103.1" height="6" fill="#a4a4ff"/>
<path d="M37.7 382.48 L38.26 380.5 L38.31 327.47 L38.46 384.89 L39.15 382.16 L39.66 380.5 L39.71 327.43 L39.86 385.42 L40.38 382.5 L40.77 380.5 L40.82 327.62 L40.97 385.4 L41.65 382.5 L42.15 380.5 L42.2 327.5 L42.35 385.29 L43.01 382.35 L43.5 380.5 L43.55 327.77 L43.7 385.64 L44.42 381.87 L44.94 380.5 L44.99 327.44 L45.14 384.71 L45.92 381.74 L46.49 380.5 L46.54 327.67 L46.69 385.34 L47.31 382.36 L47.78 380.5 L47.83 327.6 L47.98 385.44 L48.56 382.31 L49 380.5 L49.05 327.5 L49.2 385.57 L49.86 381.99 L50.35 380.5 L50.4 327.41 L50.55 385.69 L51.34 381.57 L51.92 380.5 L51.97 327.79 L52.12 385.95 L52.77 382.33 L53.25 380.5 L53.3 327.48 L53.45 385.28 L54.01 381.9 L54.43 380.5 L54.48 327.48 L54.63 384.99 L55.41 382.3 L55.98 380.5 L56.03 327.73 L56.18 385.35 L57.15 382.35 L57.86 380.5 L57.91 327.37 L58.06 385.82 L59.03 382.47 L59.72 380.5 L59.77 327.6 L59.92 385.95 L60.84 382.23 L61.5 380.5 L61.55 327.62 L61.7 385.31 L62.81 381.56 L63.6 380.5 L63.65 327.28 L63.8 385.78 L64.65 381.68 L65.27 380.5 L65.32 327.61 L65.47 384.91 L66.45 382.26 L67.15 380.5 L67.2 327.77 L67.35 385.5 L68.23 381.54 L68.86 380.5 L68.91 327.64 L69.06 385.32 L70.04 382.37 L70.75 380.5 L70.8 327.29 L70.95 385.06 L71.94 382.42 L72.66 380.5 L72.71 327.7 L72.86 385.88 L73.83 382.02 L74.52 380.5 L74.57 327.6 L74.72 385.91 L75.7 382.16 L76.41 380.5 L76.46 327.25 L76.61 384.9 L77.44 381.5 L78.04 380.5 L78.09 327.27 L78.24 384.74 L79.19 381.88 L79.87 380.5 L79.92 327.57 L80.07 385.82 L81.05 381.91 L81.75 380.5 L81.8 327.3 L81.95 385.88 L82.89 382.42 L83.56 380.5 L83.61 327.79 L83.76 384.73 L84.8 382.09 L85.55 380.5 L85.6 327.58 L85.75 385.39 L86.62 381.69 L87.24 380.5 L87.29 327.75 L87.44 385.4 L88.4 381.54 L89.08 380.5 L89.13 327.41 L89.28 385.65 L90.25 381.7 L90.95 380.5 L91 327.67 L91.15 384.97 L92.11 381.93 L92.8 380.5 L92.85 327.38 L93 384.87 L93.91 382.38 L94.57 380.5 L94.62 327.4 L94.77 385.68 L95.66 382.39 L96.3 380.5 L96.35 327.37 L96.5 384.71 L97.58 382.03 L98.35 380.5 L98.4 327.34 L98.55 385.84 L99.39 381.66 L100 380.5 L100.05 327.63 L100.2 384.73 L101.28 381.77 L102.06 380.5 L102.11 327.32 L102.26 385.81 L103.1 382.1 L103.71 380.5 L103.76 327.6 L103.91 384.81 L104.86 381.81 L105.54 380.5 L105.59 327.74 L105.74 385.5 L106.74 382.26 L107.46 380.5 L107.51 327.5 L107.66 384.97 L108.68 382.41 L109.41 380.5 L109.46 327.36 L109.61 384.92 L110.46 382.15 L111.08 380.5 L111.13 327.25 L111.28 385.69 L112.25 382.21 L112.94 380.5 L112.99 327.43 L113.14 385.37 L114.08 381.99 L114.76 380.5 L114.81 327.24 L114.96 384.8 L115.85 381.85 L116.5 380.5 L116.55 327.2 L116.7 384.94 L117.68 381.87 L118.39 380.5 L118.44 327.58 L118.59 385.37 L119.65 381.67 L120.41 380.5 L120.46 327.66 L120.61 385.73 L121.56 382.16 L122.25 380.5 L122.3 327.61 L122.45 385.03 L123.28 382.34 L123.88 380.5 L123.93 327.55 L124.08 384.93 L125.15 382.18 L125.91 380.5 L125.96 327.58 L126.11 385.44 L126.9 381.97 L127.47 380.5 L127.52 327.66 L127.67 385.65 L128.75 382.09 L129.52 380.5 L129.57 327.24 L129.72 385 L130.54 382.48 L131.14 380.5 L131.19 327.44 L131.34 385.52 L132.36 381.63 L133.09 380.5 L133.14 327.54 L133.29 385.49 L134.24 382.26 L134.92 380.5 L134.97 327.78 L135.12 385.29 L136.08 381.81 L136.76 380.5 L136.81 327.3 L136.96 385.13 L138 381.94 L138.75 380.5 L138.8 327.78 L138.95 385.36 L139.79 382.18 L140.41 380.5 L140.46 327.64 L140.61 384.72 L140.66 381.73" stroke="#7c7cff" stroke-width="0.6" fill="none" stroke-linejoin="bevel"/>
<rect x="153.52" y="325.6" width="103.06" height="55.9" fill="#e8f1fc"/>
<rect x="153" y="378.4" width="103.8" height="6" fill="#d9e8fa"/>
<path d="M153 381.07 L153.47 380 L153.52 325.98 L153.67 383.72 L154.64 381.62 L155.33 380 L155.38 326.11 L155.53 384.51 L156.67 381.12 L157.48 380 L157.53 325.85 L157.68 383.85 L158.97 381.66 L159.88 380 L159.93 326.03 L160.08 384.56 L161.17 381.36 L161.95 380 L162 325.96 L162.15 383.87 L163.1 381.93 L163.78 380 L163.83 326.16 L163.98 383.64 L165.08 381.56 L165.87 380 L165.92 326.03 L166.07 383.9 L167.4 381.03 L168.34 380 L168.39 325.6 L168.54 384.52 L169.54 381.01 L170.25 380 L170.3 325.83 L170.45 384.64 L171.52 381.05 L172.28 380 L172.33 326.02 L172.48 384.16 L173.71 381.39 L174.58 380 L174.63 325.89 L174.78 384.06 L175.88 381.86 L176.66 380 L176.71 326 L176.86 384.1 L178.07 381.12 L178.92 380 L178.97 325.9 L179.12 384.9 L179.97 381.89 L180.58 380 L180.63 325.64 L180.78 384.06 L182.09 381.47 L183.01 380 L183.06 325.84 L183.21 383.75 L184.23 381.19 L184.96 380 L185.01 325.92 L185.16 384.54 L186.21 381.72 L186.96 380 L187.01 326 L187.16 384.48 L188.34 381.01 L189.18 380 L189.23 325.73 L189.38 384.04 L190.35 381.26 L191.05 380 L191.1 325.83 L191.25 384.12 L192.39 381.34 L193.2 380 L193.25 325.61 L193.4 384.72 L194.51 381.96 L195.3 380 L195.35 325.97 L195.5 383.95 L196.78 381.45 L197.69 380 L197.74 326.15 L197.89 384.38 L199.01 381.7 L199.8 380 L199.85 326.02 L200 384.88 L200.97 381.66 L201.67 380 L201.72 325.66 L201.87 384.26 L203 381.92 L203.8 380 L203.85 325.68 L204 383.67 L205.25 381.05 L206.14 380 L206.19 325.64 L206.34 383.81 L207.33 381.77 L208.05 380 L208.1 325.96 L208.25 384.55 L209.35 381.56 L210.13 380 L210.18 325.81 L210.33 384.62 L211.62 381.17 L212.53 380 L212.58 325.82 L212.73 384.14 L213.72 381.68 L214.43 380 L214.48 326.06 L214.63 384.34 L215.74 381.61 L216.53 380 L216.58 325.77 L216.73 384.37 L217.86 381.84 L218.67 380 L218.72 325.86 L218.87 384.58 L219.81 381.51 L220.49 380 L220.54 325.91 L220.69 384.39 L221.9 381.14 L222.77 380 L222.82 325.73 L222.97 383.83 L224.19 381.54 L225.06 380 L225.11 326 L225.26 384.52 L226.33 381.21 L227.1 380 L227.15 325.8 L227.3 383.79 L228.48 381.65 L229.32 380 L229.37 325.85 L229.52 383.95 L230.46 381.22 L231.13 380 L231.18 326.17 L231.33 384.23 L232.49 381.99 L233.32 380 L233.37 325.79 L233.52 383.88 L234.55 381.72 L235.3 380 L235.35 326.15 L235.5 383.81 L236.59 381.86 L237.37 380 L237.42 325.95 L237.57 384.78 L238.66 381.95 L239.43 380 L239.48 325.86 L239.63 384.82 L240.77 381.18 L241.59 380 L241.64 325.87 L241.79 384.18 L242.89 381.25 L243.67 380 L243.72 325.89 L243.87 384.58 L245.06 381.11 L245.91 380 L245.96 325.89 L246.11 384.28 L247.21 381.2 L248 380 L248.05 325.99 L248.2 383.93 L249.41 381.57 L250.28 380 L250.33 325.94 L250.48 384.57 L251.59 381.93 L252.39 380 L252.44 326.16 L252.59 384.25 L253.63 381.26 L254.37 380 L254.42 325.75 L254.57 384.62 L255.71 381.76 L256.53 380 L256.58 326.08 L256.73 384.68 L256.71 381.57" stroke="#cfe2f8" stroke-width="0.6" fill="none" stroke-linejoin="bevel"/>
<text transform="translate(264 196.5) scale(1 1.05)" font-size="20.5" text-anchor="start" fill="#111" >D</text>
<text transform="translate(388.9 193.7) scale(1 1.05)" font-size="13.1" text-anchor="start" fill="#111" >Rat (1 month)</text>
<text transform="translate(356.6 212.8) scale(1 1.05)" font-size="12.8" text-anchor="middle" fill="#111" >L2/3 PC</text>
<line x1="300.6" y1="223.4" x2="300.6" y2="362.9" stroke="#000" stroke-width="1.5" />
<line x1="299.9" y1="362.2" x2="409.3" y2="362.2" stroke="#000" stroke-width="1.5" />
<line x1="296.6" y1="362.2" x2="300.6" y2="362.2" stroke="#000" stroke-width="1.2" />
<text transform="translate(295.2 366.1) scale(1 1.05)" font-size="11.3" text-anchor="end" fill="#111" >0</text>
<line x1="296.6" y1="316.17" x2="300.6" y2="316.17" stroke="#000" stroke-width="1.2" />
<text transform="translate(295.2 320.07) scale(1 1.05)" font-size="11.3" text-anchor="end" fill="#111" >5</text>
<line x1="296.6" y1="270.13" x2="300.6" y2="270.13" stroke="#000" stroke-width="1.2" />
<text transform="translate(295.2 274.03) scale(1 1.05)" font-size="11.3" text-anchor="end" fill="#111" >10</text>
<line x1="296.6" y1="224.1" x2="300.6" y2="224.1" stroke="#000" stroke-width="1.2" />
<text transform="translate(295.2 228) scale(1 1.05)" font-size="11.3" text-anchor="end" fill="#111" >15</text>
<line x1="300.6" y1="362.2" x2="300.6" y2="366.2" stroke="#000" stroke-width="1.2" />
<text transform="translate(300.6 378.6) scale(1 1.05)" font-size="11.3" text-anchor="middle" fill="#111" >0</text>
<line x1="322.2" y1="362.2" x2="322.2" y2="366.2" stroke="#000" stroke-width="1.2" />
<text transform="translate(322.2 378.6) scale(1 1.05)" font-size="11.3" text-anchor="middle" fill="#111" >2</text>
<line x1="343.8" y1="362.2" x2="343.8" y2="366.2" stroke="#000" stroke-width="1.2" />
<text transform="translate(343.8 378.6) scale(1 1.05)" font-size="11.3" text-anchor="middle" fill="#111" >4</text>
<line x1="365.4" y1="362.2" x2="365.4" y2="366.2" stroke="#000" stroke-width="1.2" />
<text transform="translate(365.4 378.6) scale(1 1.05)" font-size="11.3" text-anchor="middle" fill="#111" >6</text>
<line x1="387" y1="362.2" x2="387" y2="366.2" stroke="#000" stroke-width="1.2" />
<text transform="translate(387 378.6) scale(1 1.05)" font-size="11.3" text-anchor="middle" fill="#111" >8</text>
<line x1="408.6" y1="362.2" x2="408.6" y2="366.2" stroke="#000" stroke-width="1.2" />
<text transform="translate(408.6 378.6) scale(1 1.05)" font-size="11.3" text-anchor="middle" fill="#111" >10</text>
<text transform="translate(354.9 393.8) scale(1 1.05)" font-size="11.8" text-anchor="middle" fill="#111" >Time (s)</text>
<text transform="translate(274.7 292.65) rotate(-90) scale(1 1.05)" font-size="11.6" text-anchor="middle" fill="#111">AP frequency (Hz)</text>
<line x1="301.95" y1="316.03" x2="301.95" y2="297.16" stroke="#a2a2a2" stroke-width="1.15" />
<line x1="299.55" y1="297.16" x2="304.35" y2="297.16" stroke="#a2a2a2" stroke-width="1.15" />
<line x1="299.55" y1="316.03" x2="304.35" y2="316.03" stroke="#a2a2a2" stroke-width="1.15" />
<line x1="304.65" y1="313.59" x2="304.65" y2="301.68" stroke="#a2a2a2" stroke-width="1.15" />
<line x1="302.25" y1="301.68" x2="307.05" y2="301.68" stroke="#a2a2a2" stroke-width="1.15" />
<line x1="302.25" y1="313.59" x2="307.05" y2="313.59" stroke="#a2a2a2" stroke-width="1.15" />
<line x1="307.35" y1="312.18" x2="307.35" y2="300.98" stroke="#a2a2a2" stroke-width="1.15" />
<line x1="304.95" y1="300.98" x2="309.75" y2="300.98" stroke="#a2a2a2" stroke-width="1.15" />
<line x1="304.95" y1="312.18" x2="309.75" y2="312.18" stroke="#a2a2a2" stroke-width="1.15" />
<line x1="310.05" y1="312.69" x2="310.05" y2="296.15" stroke="#a2a2a2" stroke-width="1.15" />
<line x1="307.65" y1="296.15" x2="312.45" y2="296.15" stroke="#a2a2a2" stroke-width="1.15" />
<line x1="307.65" y1="312.69" x2="312.45" y2="312.69" stroke="#a2a2a2" stroke-width="1.15" />
<line x1="312.75" y1="314.19" x2="312.75" y2="296.64" stroke="#a2a2a2" stroke-width="1.15" />
<line x1="310.35" y1="296.64" x2="315.15" y2="296.64" stroke="#a2a2a2" stroke-width="1.15" />
<line x1="310.35" y1="314.19" x2="315.15" y2="314.19" stroke="#a2a2a2" stroke-width="1.15" />
<line x1="315.45" y1="312.52" x2="315.45" y2="299.34" stroke="#a2a2a2" stroke-width="1.15" />
<line x1="313.05" y1="299.34" x2="317.85" y2="299.34" stroke="#a2a2a2" stroke-width="1.15" />
<line x1="313.05" y1="312.52" x2="317.85" y2="312.52" stroke="#a2a2a2" stroke-width="1.15" />
<line x1="318.15" y1="311.92" x2="318.15" y2="297.48" stroke="#a2a2a2" stroke-width="1.15" />
<line x1="315.75" y1="297.48" x2="320.55" y2="297.48" stroke="#a2a2a2" stroke-width="1.15" />
<line x1="315.75" y1="311.92" x2="320.55" y2="311.92" stroke="#a2a2a2" stroke-width="1.15" />
<line x1="320.85" y1="314.41" x2="320.85" y2="298.02" stroke="#a2a2a2" stroke-width="1.15" />
<line x1="318.45" y1="298.02" x2="323.25" y2="298.02" stroke="#a2a2a2" stroke-width="1.15" />
<line x1="318.45" y1="314.41" x2="323.25" y2="314.41" stroke="#a2a2a2" stroke-width="1.15" />
<line x1="323.55" y1="313.22" x2="323.55" y2="300.6" stroke="#a2a2a2" stroke-width="1.15" />
<line x1="321.15" y1="300.6" x2="325.95" y2="300.6" stroke="#a2a2a2" stroke-width="1.15" />
<line x1="321.15" y1="313.22" x2="325.95" y2="313.22" stroke="#a2a2a2" stroke-width="1.15" />
<line x1="326.25" y1="312.09" x2="326.25" y2="298.51" stroke="#a2a2a2" stroke-width="1.15" />
<line x1="323.85" y1="298.51" x2="328.65" y2="298.51" stroke="#a2a2a2" stroke-width="1.15" />
<line x1="323.85" y1="312.09" x2="328.65" y2="312.09" stroke="#a2a2a2" stroke-width="1.15" />
<line x1="328.95" y1="320.09" x2="328.95" y2="304.67" stroke="#a2a2a2" stroke-width="1.15" />
<line x1="326.55" y1="304.67" x2="331.35" y2="304.67" stroke="#a2a2a2" stroke-width="1.15" />
<line x1="326.55" y1="320.09" x2="331.35" y2="320.09" stroke="#a2a2a2" stroke-width="1.15" />
<line x1="331.65" y1="309.12" x2="331.65" y2="296.43" stroke="#a2a2a2" stroke-width="1.15" />
<line x1="329.25" y1="296.43" x2="334.05" y2="296.43" stroke="#a2a2a2" stroke-width="1.15" />
<line x1="329.25" y1="309.12" x2="334.05" y2="309.12" stroke="#a2a2a2" stroke-width="1.15" />
<line x1="334.35" y1="316.51" x2="334.35" y2="305.43" stroke="#a2a2a2" stroke-width="1.15" />
<line x1="331.95" y1="305.43" x2="336.75" y2="305.43" stroke="#a2a2a2" stroke-width="1.15" />
<line x1="331.95" y1="316.51" x2="336.75" y2="316.51" stroke="#a2a2a2" stroke-width="1.15" />
<line x1="337.05" y1="313.59" x2="337.05" y2="294.64" stroke="#a2a2a2" stroke-width="1.15" />
<line x1="334.65" y1="294.64" x2="339.45" y2="294.64" stroke="#a2a2a2" stroke-width="1.15" />
<line x1="334.65" y1="313.59" x2="339.45" y2="313.59" stroke="#a2a2a2" stroke-width="1.15" />
<line x1="339.75" y1="312.19" x2="339.75" y2="301.35" stroke="#a2a2a2" stroke-width="1.15" />
<line x1="337.35" y1="301.35" x2="342.15" y2="301.35" stroke="#a2a2a2" stroke-width="1.15" />
<line x1="337.35" y1="312.19" x2="342.15" y2="312.19" stroke="#a2a2a2" stroke-width="1.15" />
<line x1="342.45" y1="313.11" x2="342.45" y2="293.36" stroke="#a2a2a2" stroke-width="1.15" />
<line x1="340.05" y1="293.36" x2="344.85" y2="293.36" stroke="#a2a2a2" stroke-width="1.15" />
<line x1="340.05" y1="313.11" x2="344.85" y2="313.11" stroke="#a2a2a2" stroke-width="1.15" />
<line x1="345.15" y1="315.83" x2="345.15" y2="297.55" stroke="#a2a2a2" stroke-width="1.15" />
<line x1="342.75" y1="297.55" x2="347.55" y2="297.55" stroke="#a2a2a2" stroke-width="1.15" />
<line x1="342.75" y1="315.83" x2="347.55" y2="315.83" stroke="#a2a2a2" stroke-width="1.15" />
<line x1="347.85" y1="316.94" x2="347.85" y2="302.76" stroke="#a2a2a2" stroke-width="1.15" />
<line x1="345.45" y1="302.76" x2="350.25" y2="302.76" stroke="#a2a2a2" stroke-width="1.15" />
<line x1="345.45" y1="316.94" x2="350.25" y2="316.94" stroke="#a2a2a2" stroke-width="1.15" />
<line x1="350.55" y1="312.57" x2="350.55" y2="294.12" stroke="#a2a2a2" stroke-width="1.15" />
<line x1="348.15" y1="294.12" x2="352.95" y2="294.12" stroke="#a2a2a2" stroke-width="1.15" />
<line x1="348.15" y1="312.57" x2="352.95" y2="312.57" stroke="#a2a2a2" stroke-width="1.15" />
<line x1="353.25" y1="311.33" x2="353.25" y2="301.09" stroke="#a2a2a2" stroke-width="1.15" />
<line x1="350.85" y1="301.09" x2="355.65" y2="301.09" stroke="#a2a2a2" stroke-width="1.15" />
<line x1="350.85" y1="311.33" x2="355.65" y2="311.33" stroke="#a2a2a2" stroke-width="1.15" />
<line x1="355.95" y1="314.11" x2="355.95" y2="298.73" stroke="#a2a2a2" stroke-width="1.15" />
<line x1="353.55" y1="298.73" x2="358.35" y2="298.73" stroke="#a2a2a2" stroke-width="1.15" />
<line x1="353.55" y1="314.11" x2="358.35" y2="314.11" stroke="#a2a2a2" stroke-width="1.15" />
<line x1="358.65" y1="313.15" x2="358.65" y2="299.93" stroke="#a2a2a2" stroke-width="1.15" />
<line x1="356.25" y1="299.93" x2="361.05" y2="299.93" stroke="#a2a2a2" stroke-width="1.15" />
<line x1="356.25" y1="313.15" x2="361.05" y2="313.15" stroke="#a2a2a2" stroke-width="1.15" />
<line x1="361.35" y1="309.91" x2="361.35" y2="297.24" stroke="#a2a2a2" stroke-width="1.15" />
<line x1="358.95" y1="297.24" x2="363.75" y2="297.24" stroke="#a2a2a2" stroke-width="1.15" />
<line x1="358.95" y1="309.91" x2="363.75" y2="309.91" stroke="#a2a2a2" stroke-width="1.15" />
<line x1="364.05" y1="313.56" x2="364.05" y2="294.76" stroke="#a2a2a2" stroke-width="1.15" />
<line x1="361.65" y1="294.76" x2="366.45" y2="294.76" stroke="#a2a2a2" stroke-width="1.15" />
<line x1="361.65" y1="313.56" x2="366.45" y2="313.56" stroke="#a2a2a2" stroke-width="1.15" />
<line x1="366.75" y1="311.04" x2="366.75" y2="301.07" stroke="#a2a2a2" stroke-width="1.15" />
<line x1="364.35" y1="301.07" x2="369.15" y2="301.07" stroke="#a2a2a2" stroke-width="1.15" />
<line x1="364.35" y1="311.04" x2="369.15" y2="311.04" stroke="#a2a2a2" stroke-width="1.15" />
<line x1="369.45" y1="321.03" x2="369.45" y2="302.56" stroke="#a2a2a2" stroke-width="1.15" />
<line x1="367.05" y1="302.56" x2="371.85" y2="302.56" stroke="#a2a2a2" stroke-width="1.15" />
<line x1="367.05" y1="321.03" x2="371.85" y2="321.03" stroke="#a2a2a2" stroke-width="1.15" />
<line x1="372.15" y1="313.29" x2="372.15" y2="302.9" stroke="#a2a2a2" stroke-width="1.15" />
<line x1="369.75" y1="302.9" x2="374.55" y2="302.9" stroke="#a2a2a2" stroke-width="1.15" />
<line x1="369.75" y1="313.29" x2="374.55" y2="313.29" stroke="#a2a2a2" stroke-width="1.15" />
<line x1="374.85" y1="314.73" x2="374.85" y2="298.17" stroke="#a2a2a2" stroke-width="1.15" />
<line x1="372.45" y1="298.17" x2="377.25" y2="298.17" stroke="#a2a2a2" stroke-width="1.15" />
<line x1="372.45" y1="314.73" x2="377.25" y2="314.73" stroke="#a2a2a2" stroke-width="1.15" />
<line x1="377.55" y1="307.27" x2="377.55" y2="294.75" stroke="#a2a2a2" stroke-width="1.15" />
<line x1="375.15" y1="294.75" x2="379.95" y2="294.75" stroke="#a2a2a2" stroke-width="1.15" />
<line x1="375.15" y1="307.27" x2="379.95" y2="307.27" stroke="#a2a2a2" stroke-width="1.15" />
<line x1="380.25" y1="313.06" x2="380.25" y2="298.05" stroke="#a2a2a2" stroke-width="1.15" />
<line x1="377.85" y1="298.05" x2="382.65" y2="298.05" stroke="#a2a2a2" stroke-width="1.15" />
<line x1="377.85" y1="313.06" x2="382.65" y2="313.06" stroke="#a2a2a2" stroke-width="1.15" />
<line x1="382.95" y1="316.65" x2="382.95" y2="297.53" stroke="#a2a2a2" stroke-width="1.15" />
<line x1="380.55" y1="297.53" x2="385.35" y2="297.53" stroke="#a2a2a2" stroke-width="1.15" />
<line x1="380.55" y1="316.65" x2="385.35" y2="316.65" stroke="#a2a2a2" stroke-width="1.15" />
<line x1="385.65" y1="311.84" x2="385.65" y2="294.04" stroke="#a2a2a2" stroke-width="1.15" />
<line x1="383.25" y1="294.04" x2="388.05" y2="294.04" stroke="#a2a2a2" stroke-width="1.15" />
<line x1="383.25" y1="311.84" x2="388.05" y2="311.84" stroke="#a2a2a2" stroke-width="1.15" />
<line x1="388.35" y1="312.45" x2="388.35" y2="301.85" stroke="#a2a2a2" stroke-width="1.15" />
<line x1="385.95" y1="301.85" x2="390.75" y2="301.85" stroke="#a2a2a2" stroke-width="1.15" />
<line x1="385.95" y1="312.45" x2="390.75" y2="312.45" stroke="#a2a2a2" stroke-width="1.15" />
<line x1="391.05" y1="313.24" x2="391.05" y2="300.52" stroke="#a2a2a2" stroke-width="1.15" />
<line x1="388.65" y1="300.52" x2="393.45" y2="300.52" stroke="#a2a2a2" stroke-width="1.15" />
<line x1="388.65" y1="313.24" x2="393.45" y2="313.24" stroke="#a2a2a2" stroke-width="1.15" />
<line x1="393.75" y1="313.59" x2="393.75" y2="298.98" stroke="#a2a2a2" stroke-width="1.15" />
<line x1="391.35" y1="298.98" x2="396.15" y2="298.98" stroke="#a2a2a2" stroke-width="1.15" />
<line x1="391.35" y1="313.59" x2="396.15" y2="313.59" stroke="#a2a2a2" stroke-width="1.15" />
<line x1="396.45" y1="320.1" x2="396.45" y2="303.13" stroke="#a2a2a2" stroke-width="1.15" />
<line x1="394.05" y1="303.13" x2="398.85" y2="303.13" stroke="#a2a2a2" stroke-width="1.15" />
<line x1="394.05" y1="320.1" x2="398.85" y2="320.1" stroke="#a2a2a2" stroke-width="1.15" />
<line x1="399.15" y1="308.52" x2="399.15" y2="298.89" stroke="#a2a2a2" stroke-width="1.15" />
<line x1="396.75" y1="298.89" x2="401.55" y2="298.89" stroke="#a2a2a2" stroke-width="1.15" />
<line x1="396.75" y1="308.52" x2="401.55" y2="308.52" stroke="#a2a2a2" stroke-width="1.15" />
<line x1="401.85" y1="314.66" x2="401.85" y2="296.17" stroke="#a2a2a2" stroke-width="1.15" />
<line x1="399.45" y1="296.17" x2="404.25" y2="296.17" stroke="#a2a2a2" stroke-width="1.15" />
<line x1="399.45" y1="314.66" x2="404.25" y2="314.66" stroke="#a2a2a2" stroke-width="1.15" />
<line x1="404.55" y1="316.82" x2="404.55" y2="298.57" stroke="#a2a2a2" stroke-width="1.15" />
<line x1="402.15" y1="298.57" x2="406.95" y2="298.57" stroke="#a2a2a2" stroke-width="1.15" />
<line x1="402.15" y1="316.82" x2="406.95" y2="316.82" stroke="#a2a2a2" stroke-width="1.15" />
<line x1="407.25" y1="320.18" x2="407.25" y2="300.75" stroke="#a2a2a2" stroke-width="1.15" />
<line x1="404.85" y1="300.75" x2="409.65" y2="300.75" stroke="#a2a2a2" stroke-width="1.15" />
<line x1="404.85" y1="320.18" x2="409.65" y2="320.18" stroke="#a2a2a2" stroke-width="1.15" />
<path d="M301.95 306.59 L304.65 307.64 L307.35 306.58 L310.05 304.42 L312.75 305.42 L315.45 305.93 L318.15 304.7 L320.85 306.22 L323.55 306.91 L326.25 305.3 L328.95 312.38 L331.65 302.78 L334.35 310.97 L337.05 304.11 L339.75 306.77 L342.45 303.24 L345.15 306.69 L347.85 309.85 L350.55 303.35 L353.25 306.21 L355.95 306.42 L358.65 306.54 L361.35 303.57 L364.05 304.16 L366.75 306.06 L369.45 311.79 L372.15 308.1 L374.85 306.45 L377.55 301.01 L380.25 305.55 L382.95 307.09 L385.65 302.94 L388.35 307.15 L391.05 306.88 L393.75 306.28 L396.45 311.61 L399.15 303.7 L401.85 305.41 L404.55 307.7 L407.25 310.47" stroke="#a2a2a2" stroke-width="1.3" fill="none" />
<rect x="300.75" y="305.39" width="2.4" height="2.4" fill="#eee" stroke="#a2a2a2" stroke-width="0.8"/>
<rect x="303.45" y="306.44" width="2.4" height="2.4" fill="#eee" stroke="#a2a2a2" stroke-width="0.8"/>
<rect x="306.15" y="305.38" width="2.4" height="2.4" fill="#eee" stroke="#a2a2a2" stroke-width="0.8"/>
<rect x="308.85" y="303.22" width="2.4" height="2.4" fill="#eee" stroke="#a2a2a2" stroke-width="0.8"/>
<rect x="311.55" y="304.22" width="2.4" height="2.4" fill="#eee" stroke="#a2a2a2" stroke-width="0.8"/>
<rect x="314.25" y="304.73" width="2.4" height="2.4" fill="#eee" stroke="#a2a2a2" stroke-width="0.8"/>
<rect x="316.95" y="303.5" width="2.4" height="2.4" fill="#eee" stroke="#a2a2a2" stroke-width="0.8"/>
<rect x="319.65" y="305.02" width="2.4" height="2.4" fill="#eee" stroke="#a2a2a2" stroke-width="0.8"/>
<rect x="322.35" y="305.71" width="2.4" height="2.4" fill="#eee" stroke="#a2a2a2" stroke-width="0.8"/>
<rect x="325.05" y="304.1" width="2.4" height="2.4" fill="#eee" stroke="#a2a2a2" stroke-width="0.8"/>
<rect x="327.75" y="311.18" width="2.4" height="2.4" fill="#eee" stroke="#a2a2a2" stroke-width="0.8"/>
<rect x="330.45" y="301.58" width="2.4" height="2.4" fill="#eee" stroke="#a2a2a2" stroke-width="0.8"/>
<rect x="333.15" y="309.77" width="2.4" height="2.4" fill="#eee" stroke="#a2a2a2" stroke-width="0.8"/>
<rect x="335.85" y="302.91" width="2.4" height="2.4" fill="#eee" stroke="#a2a2a2" stroke-width="0.8"/>
<rect x="338.55" y="305.57" width="2.4" height="2.4" fill="#eee" stroke="#a2a2a2" stroke-width="0.8"/>
<rect x="341.25" y="302.04" width="2.4" height="2.4" fill="#eee" stroke="#a2a2a2" stroke-width="0.8"/>
<rect x="343.95" y="305.49" width="2.4" height="2.4" fill="#eee" stroke="#a2a2a2" stroke-width="0.8"/>
<rect x="346.65" y="308.65" width="2.4" height="2.4" fill="#eee" stroke="#a2a2a2" stroke-width="0.8"/>
<rect x="349.35" y="302.15" width="2.4" height="2.4" fill="#eee" stroke="#a2a2a2" stroke-width="0.8"/>
<rect x="352.05" y="305.01" width="2.4" height="2.4" fill="#eee" stroke="#a2a2a2" stroke-width="0.8"/>
<rect x="354.75" y="305.22" width="2.4" height="2.4" fill="#eee" stroke="#a2a2a2" stroke-width="0.8"/>
<rect x="357.45" y="305.34" width="2.4" height="2.4" fill="#eee" stroke="#a2a2a2" stroke-width="0.8"/>
<rect x="360.15" y="302.37" width="2.4" height="2.4" fill="#eee" stroke="#a2a2a2" stroke-width="0.8"/>
<rect x="362.85" y="302.96" width="2.4" height="2.4" fill="#eee" stroke="#a2a2a2" stroke-width="0.8"/>
<rect x="365.55" y="304.86" width="2.4" height="2.4" fill="#eee" stroke="#a2a2a2" stroke-width="0.8"/>
<rect x="368.25" y="310.59" width="2.4" height="2.4" fill="#eee" stroke="#a2a2a2" stroke-width="0.8"/>
<rect x="370.95" y="306.9" width="2.4" height="2.4" fill="#eee" stroke="#a2a2a2" stroke-width="0.8"/>
<rect x="373.65" y="305.25" width="2.4" height="2.4" fill="#eee" stroke="#a2a2a2" stroke-width="0.8"/>
<rect x="376.35" y="299.81" width="2.4" height="2.4" fill="#eee" stroke="#a2a2a2" stroke-width="0.8"/>
<rect x="379.05" y="304.35" width="2.4" height="2.4" fill="#eee" stroke="#a2a2a2" stroke-width="0.8"/>
<rect x="381.75" y="305.89" width="2.4" height="2.4" fill="#eee" stroke="#a2a2a2" stroke-width="0.8"/>
<rect x="384.45" y="301.74" width="2.4" height="2.4" fill="#eee" stroke="#a2a2a2" stroke-width="0.8"/>
<rect x="387.15" y="305.95" width="2.4" height="2.4" fill="#eee" stroke="#a2a2a2" stroke-width="0.8"/>
<rect x="389.85" y="305.68" width="2.4" height="2.4" fill="#eee" stroke="#a2a2a2" stroke-width="0.8"/>
<rect x="392.55" y="305.08" width="2.4" height="2.4" fill="#eee" stroke="#a2a2a2" stroke-width="0.8"/>
<rect x="395.25" y="310.41" width="2.4" height="2.4" fill="#eee" stroke="#a2a2a2" stroke-width="0.8"/>
<rect x="397.95" y="302.5" width="2.4" height="2.4" fill="#eee" stroke="#a2a2a2" stroke-width="0.8"/>
<rect x="400.65" y="304.21" width="2.4" height="2.4" fill="#eee" stroke="#a2a2a2" stroke-width="0.8"/>
<rect x="403.35" y="306.5" width="2.4" height="2.4" fill="#eee" stroke="#a2a2a2" stroke-width="0.8"/>
<rect x="406.05" y="309.27" width="2.4" height="2.4" fill="#eee" stroke="#a2a2a2" stroke-width="0.8"/>
<line x1="301.95" y1="307.74" x2="301.95" y2="299.48" stroke="#000" stroke-width="1.15" />
<line x1="299.55" y1="299.48" x2="304.35" y2="299.48" stroke="#000" stroke-width="1.15" />
<line x1="299.55" y1="307.74" x2="304.35" y2="307.74" stroke="#000" stroke-width="1.15" />
<line x1="304.65" y1="311.31" x2="304.65" y2="299.09" stroke="#000" stroke-width="1.15" />
<line x1="302.25" y1="299.09" x2="307.05" y2="299.09" stroke="#000" stroke-width="1.15" />
<line x1="302.25" y1="311.31" x2="307.05" y2="311.31" stroke="#000" stroke-width="1.15" />
<line x1="307.35" y1="314.78" x2="307.35" y2="302.38" stroke="#000" stroke-width="1.15" />
<line x1="304.95" y1="302.38" x2="309.75" y2="302.38" stroke="#000" stroke-width="1.15" />
<line x1="304.95" y1="314.78" x2="309.75" y2="314.78" stroke="#000" stroke-width="1.15" />
<line x1="310.05" y1="313.22" x2="310.05" y2="299.99" stroke="#000" stroke-width="1.15" />
<line x1="307.65" y1="299.99" x2="312.45" y2="299.99" stroke="#000" stroke-width="1.15" />
<line x1="307.65" y1="313.22" x2="312.45" y2="313.22" stroke="#000" stroke-width="1.15" />
<line x1="312.75" y1="308.79" x2="312.75" y2="300.55" stroke="#000" stroke-width="1.15" />
<line x1="310.35" y1="300.55" x2="315.15" y2="300.55" stroke="#000" stroke-width="1.15" />
<line x1="310.35" y1="308.79" x2="315.15" y2="308.79" stroke="#000" stroke-width="1.15" />
<line x1="315.45" y1="314.73" x2="315.45" y2="306.57" stroke="#000" stroke-width="1.15" />
<line x1="313.05" y1="306.57" x2="317.85" y2="306.57" stroke="#000" stroke-width="1.15" />
<line x1="313.05" y1="314.73" x2="317.85" y2="314.73" stroke="#000" stroke-width="1.15" />
<line x1="318.15" y1="333.32" x2="318.15" y2="314.68" stroke="#000" stroke-width="1.15" />
<line x1="315.75" y1="314.68" x2="320.55" y2="314.68" stroke="#000" stroke-width="1.15" />
<line x1="315.75" y1="333.32" x2="320.55" y2="333.32" stroke="#000" stroke-width="1.15" />
<line x1="320.85" y1="341.02" x2="320.85" y2="325.19" stroke="#000" stroke-width="1.15" />
<line x1="318.45" y1="325.19" x2="323.25" y2="325.19" stroke="#000" stroke-width="1.15" />
<line x1="318.45" y1="341.02" x2="323.25" y2="341.02" stroke="#000" stroke-width="1.15" />
<line x1="323.55" y1="342.98" x2="323.55" y2="332.43" stroke="#000" stroke-width="1.15" />
<line x1="321.15" y1="332.43" x2="325.95" y2="332.43" stroke="#000" stroke-width="1.15" />
<line x1="321.15" y1="342.98" x2="325.95" y2="342.98" stroke="#000" stroke-width="1.15" />
<line x1="326.25" y1="357.15" x2="326.25" y2="342.12" stroke="#000" stroke-width="1.15" />
<line x1="323.85" y1="342.12" x2="328.65" y2="342.12" stroke="#000" stroke-width="1.15" />
<line x1="323.85" y1="357.15" x2="328.65" y2="357.15" stroke="#000" stroke-width="1.15" />
<line x1="328.95" y1="354.09" x2="328.95" y2="346.63" stroke="#000" stroke-width="1.15" />
<line x1="326.55" y1="346.63" x2="331.35" y2="346.63" stroke="#000" stroke-width="1.15" />
<line x1="326.55" y1="354.09" x2="331.35" y2="354.09" stroke="#000" stroke-width="1.15" />
<line x1="331.65" y1="359.46" x2="331.65" y2="350.16" stroke="#000" stroke-width="1.15" />
<line x1="329.25" y1="350.16" x2="334.05" y2="350.16" stroke="#000" stroke-width="1.15" />
<line x1="329.25" y1="359.46" x2="334.05" y2="359.46" stroke="#000" stroke-width="1.15" />
<line x1="334.35" y1="360.98" x2="334.35" y2="353.33" stroke="#000" stroke-width="1.15" />
<line x1="331.95" y1="353.33" x2="336.75" y2="353.33" stroke="#000" stroke-width="1.15" />
<line x1="331.95" y1="360.98" x2="336.75" y2="360.98" stroke="#000" stroke-width="1.15" />
<line x1="337.05" y1="362.2" x2="337.05" y2="354.19" stroke="#000" stroke-width="1.15" />
<line x1="334.65" y1="354.19" x2="339.45" y2="354.19" stroke="#000" stroke-width="1.15" />
<line x1="334.65" y1="362.2" x2="339.45" y2="362.2" stroke="#000" stroke-width="1.15" />
<line x1="339.75" y1="361.56" x2="339.75" y2="356.18" stroke="#000" stroke-width="1.15" />
<line x1="337.35" y1="356.18" x2="342.15" y2="356.18" stroke="#000" stroke-width="1.15" />
<line x1="337.35" y1="361.56" x2="342.15" y2="361.56" stroke="#000" stroke-width="1.15" />
<line x1="342.45" y1="361.04" x2="342.45" y2="349.4" stroke="#000" stroke-width="1.15" />
<line x1="340.05" y1="349.4" x2="344.85" y2="349.4" stroke="#000" stroke-width="1.15" />
<line x1="340.05" y1="361.04" x2="344.85" y2="361.04" stroke="#000" stroke-width="1.15" />
<line x1="345.15" y1="361.8" x2="345.15" y2="347.95" stroke="#000" stroke-width="1.15" />
<line x1="342.75" y1="347.95" x2="347.55" y2="347.95" stroke="#000" stroke-width="1.15" />
<line x1="342.75" y1="361.8" x2="347.55" y2="361.8" stroke="#000" stroke-width="1.15" />
<line x1="347.85" y1="362.2" x2="347.85" y2="349.2" stroke="#000" stroke-width="1.15" />
<line x1="345.45" y1="349.2" x2="350.25" y2="349.2" stroke="#000" stroke-width="1.15" />
<line x1="345.45" y1="362.2" x2="350.25" y2="362.2" stroke="#000" stroke-width="1.15" />
<line x1="350.55" y1="358.43" x2="350.55" y2="344.16" stroke="#000" stroke-width="1.15" />
<line x1="348.15" y1="344.16" x2="352.95" y2="344.16" stroke="#000" stroke-width="1.15" />
<line x1="348.15" y1="358.43" x2="352.95" y2="358.43" stroke="#000" stroke-width="1.15" />
<line x1="353.25" y1="361.16" x2="353.25" y2="350.22" stroke="#000" stroke-width="1.15" />
<line x1="350.85" y1="350.22" x2="355.65" y2="350.22" stroke="#000" stroke-width="1.15" />
<line x1="350.85" y1="361.16" x2="355.65" y2="361.16" stroke="#000" stroke-width="1.15" />
<line x1="355.95" y1="360.29" x2="355.95" y2="342.78" stroke="#000" stroke-width="1.15" />
<line x1="353.55" y1="342.78" x2="358.35" y2="342.78" stroke="#000" stroke-width="1.15" />
<line x1="353.55" y1="360.29" x2="358.35" y2="360.29" stroke="#000" stroke-width="1.15" />
<line x1="358.65" y1="359.52" x2="358.65" y2="344.85" stroke="#000" stroke-width="1.15" />
<line x1="356.25" y1="344.85" x2="361.05" y2="344.85" stroke="#000" stroke-width="1.15" />
<line x1="356.25" y1="359.52" x2="361.05" y2="359.52" stroke="#000" stroke-width="1.15" />
<line x1="361.35" y1="358.18" x2="361.35" y2="341.99" stroke="#000" stroke-width="1.15" />
<line x1="358.95" y1="341.99" x2="363.75" y2="341.99" stroke="#000" stroke-width="1.15" />
<line x1="358.95" y1="358.18" x2="363.75" y2="358.18" stroke="#000" stroke-width="1.15" />
<line x1="364.05" y1="359.47" x2="364.05" y2="343.34" stroke="#000" stroke-width="1.15" />
<line x1="361.65" y1="343.34" x2="366.45" y2="343.34" stroke="#000" stroke-width="1.15" />
<line x1="361.65" y1="359.47" x2="366.45" y2="359.47" stroke="#000" stroke-width="1.15" />
<line x1="366.75" y1="354.84" x2="366.75" y2="343.32" stroke="#000" stroke-width="1.15" />
<line x1="364.35" y1="343.32" x2="369.15" y2="343.32" stroke="#000" stroke-width="1.15" />
<line x1="364.35" y1="354.84" x2="369.15" y2="354.84" stroke="#000" stroke-width="1.15" />
<line x1="369.45" y1="357.98" x2="369.45" y2="340.47" stroke="#000" stroke-width="1.15" />
<line x1="367.05" y1="340.47" x2="371.85" y2="340.47" stroke="#000" stroke-width="1.15" />
<line x1="367.05" y1="357.98" x2="371.85" y2="357.98" stroke="#000" stroke-width="1.15" />
<line x1="372.15" y1="353.04" x2="372.15" y2="338.06" stroke="#000" stroke-width="1.15" />
<line x1="369.75" y1="338.06" x2="374.55" y2="338.06" stroke="#000" stroke-width="1.15" />
<line x1="369.75" y1="353.04" x2="374.55" y2="353.04" stroke="#000" stroke-width="1.15" />
<line x1="374.85" y1="350.14" x2="374.85" y2="339.59" stroke="#000" stroke-width="1.15" />
<line x1="372.45" y1="339.59" x2="377.25" y2="339.59" stroke="#000" stroke-width="1.15" />
<line x1="372.45" y1="350.14" x2="377.25" y2="350.14" stroke="#000" stroke-width="1.15" />
<line x1="377.55" y1="345.94" x2="377.55" y2="334.15" stroke="#000" stroke-width="1.15" />
<line x1="375.15" y1="334.15" x2="379.95" y2="334.15" stroke="#000" stroke-width="1.15" />
<line x1="375.15" y1="345.94" x2="379.95" y2="345.94" stroke="#000" stroke-width="1.15" />
<line x1="380.25" y1="348.97" x2="380.25" y2="339.29" stroke="#000" stroke-width="1.15" />
<line x1="377.85" y1="339.29" x2="382.65" y2="339.29" stroke="#000" stroke-width="1.15" />
<line x1="377.85" y1="348.97" x2="382.65" y2="348.97" stroke="#000" stroke-width="1.15" />
<line x1="382.95" y1="345.64" x2="382.95" y2="333.36" stroke="#000" stroke-width="1.15" />
<line x1="380.55" y1="333.36" x2="385.35" y2="333.36" stroke="#000" stroke-width="1.15" />
<line x1="380.55" y1="345.64" x2="385.35" y2="345.64" stroke="#000" stroke-width="1.15" />
<line x1="385.65" y1="348.35" x2="385.65" y2="331.04" stroke="#000" stroke-width="1.15" />
<line x1="383.25" y1="331.04" x2="388.05" y2="331.04" stroke="#000" stroke-width="1.15" />
<line x1="383.25" y1="348.35" x2="388.05" y2="348.35" stroke="#000" stroke-width="1.15" />
<line x1="388.35" y1="344.88" x2="388.35" y2="333.04" stroke="#000" stroke-width="1.15" />
<line x1="385.95" y1="333.04" x2="390.75" y2="333.04" stroke="#000" stroke-width="1.15" />
<line x1="385.95" y1="344.88" x2="390.75" y2="344.88" stroke="#000" stroke-width="1.15" />
<line x1="391.05" y1="344.92" x2="391.05" y2="332.97" stroke="#000" stroke-width="1.15" />
<line x1="388.65" y1="332.97" x2="393.45" y2="332.97" stroke="#000" stroke-width="1.15" />
<line x1="388.65" y1="344.92" x2="393.45" y2="344.92" stroke="#000" stroke-width="1.15" />
<line x1="393.75" y1="343.51" x2="393.75" y2="327.88" stroke="#000" stroke-width="1.15" />
<line x1="391.35" y1="327.88" x2="396.15" y2="327.88" stroke="#000" stroke-width="1.15" />
<line x1="391.35" y1="343.51" x2="396.15" y2="343.51" stroke="#000" stroke-width="1.15" />
<line x1="396.45" y1="342.41" x2="396.45" y2="333.29" stroke="#000" stroke-width="1.15" />
<line x1="394.05" y1="333.29" x2="398.85" y2="333.29" stroke="#000" stroke-width="1.15" />
<line x1="394.05" y1="342.41" x2="398.85" y2="342.41" stroke="#000" stroke-width="1.15" />
<line x1="399.15" y1="341.12" x2="399.15" y2="331.66" stroke="#000" stroke-width="1.15" />
<line x1="396.75" y1="331.66" x2="401.55" y2="331.66" stroke="#000" stroke-width="1.15" />
<line x1="396.75" y1="341.12" x2="401.55" y2="341.12" stroke="#000" stroke-width="1.15" />
<line x1="401.85" y1="338.96" x2="401.85" y2="323.86" stroke="#000" stroke-width="1.15" />
<line x1="399.45" y1="323.86" x2="404.25" y2="323.86" stroke="#000" stroke-width="1.15" />
<line x1="399.45" y1="338.96" x2="404.25" y2="338.96" stroke="#000" stroke-width="1.15" />
<line x1="404.55" y1="339.21" x2="404.55" y2="329.65" stroke="#000" stroke-width="1.15" />
<line x1="402.15" y1="329.65" x2="406.95" y2="329.65" stroke="#000" stroke-width="1.15" />
<line x1="402.15" y1="339.21" x2="406.95" y2="339.21" stroke="#000" stroke-width="1.15" />
<line x1="407.25" y1="334.72" x2="407.25" y2="320.82" stroke="#000" stroke-width="1.15" />
<line x1="404.85" y1="320.82" x2="409.65" y2="320.82" stroke="#000" stroke-width="1.15" />
<line x1="404.85" y1="334.72" x2="409.65" y2="334.72" stroke="#000" stroke-width="1.15" />
<path d="M301.95 303.61 L304.65 305.2 L307.35 308.58 L310.05 306.61 L312.75 304.67 L315.45 310.65 L318.15 324 L320.85 333.11 L323.55 337.7 L326.25 349.64 L328.95 350.36 L331.65 354.81 L334.35 357.16 L337.05 358.42 L339.75 358.87 L342.45 355.22 L345.15 354.88 L347.85 356.86 L350.55 351.29 L353.25 355.69 L355.95 351.53 L358.65 352.18 L361.35 350.08 L364.05 351.4 L366.75 349.08 L369.45 349.23 L372.15 345.55 L374.85 344.86 L377.55 340.04 L380.25 344.13 L382.95 339.5 L385.65 339.69 L388.35 338.96 L391.05 338.94 L393.75 335.7 L396.45 337.85 L399.15 336.39 L401.85 331.41 L404.55 334.43 L407.25 327.77" stroke="#000" stroke-width="1.3" fill="none" />
<rect x="300.75" y="302.41" width="2.4" height="2.4" fill="#fff" stroke="#000" stroke-width="0.8"/>
<rect x="303.45" y="304" width="2.4" height="2.4" fill="#fff" stroke="#000" stroke-width="0.8"/>
<rect x="306.15" y="307.38" width="2.4" height="2.4" fill="#fff" stroke="#000" stroke-width="0.8"/>
<rect x="308.85" y="305.41" width="2.4" height="2.4" fill="#fff" stroke="#000" stroke-width="0.8"/>
<rect x="311.55" y="303.47" width="2.4" height="2.4" fill="#fff" stroke="#000" stroke-width="0.8"/>
<rect x="314.25" y="309.45" width="2.4" height="2.4" fill="#fff" stroke="#000" stroke-width="0.8"/>
<rect x="316.95" y="322.8" width="2.4" height="2.4" fill="#fff" stroke="#000" stroke-width="0.8"/>
<rect x="319.65" y="331.91" width="2.4" height="2.4" fill="#fff" stroke="#000" stroke-width="0.8"/>
<rect x="322.35" y="336.5" width="2.4" height="2.4" fill="#fff" stroke="#000" stroke-width="0.8"/>
<rect x="325.05" y="348.44" width="2.4" height="2.4" fill="#fff" stroke="#000" stroke-width="0.8"/>
<rect x="327.75" y="349.16" width="2.4" height="2.4" fill="#fff" stroke="#000" stroke-width="0.8"/>
<rect x="330.45" y="353.61" width="2.4" height="2.4" fill="#fff" stroke="#000" stroke-width="0.8"/>
<rect x="333.15" y="355.96" width="2.4" height="2.4" fill="#fff" stroke="#000" stroke-width="0.8"/>
<rect x="335.85" y="357.22" width="2.4" height="2.4" fill="#fff" stroke="#000" stroke-width="0.8"/>
<rect x="338.55" y="357.67" width="2.4" height="2.4" fill="#fff" stroke="#000" stroke-width="0.8"/>
<rect x="341.25" y="354.02" width="2.4" height="2.4" fill="#fff" stroke="#000" stroke-width="0.8"/>
<rect x="343.95" y="353.68" width="2.4" height="2.4" fill="#fff" stroke="#000" stroke-width="0.8"/>
<rect x="346.65" y="355.66" width="2.4" height="2.4" fill="#fff" stroke="#000" stroke-width="0.8"/>
<rect x="349.35" y="350.09" width="2.4" height="2.4" fill="#fff" stroke="#000" stroke-width="0.8"/>
<rect x="352.05" y="354.49" width="2.4" height="2.4" fill="#fff" stroke="#000" stroke-width="0.8"/>
<rect x="354.75" y="350.33" width="2.4" height="2.4" fill="#fff" stroke="#000" stroke-width="0.8"/>
<rect x="357.45" y="350.98" width="2.4" height="2.4" fill="#fff" stroke="#000" stroke-width="0.8"/>
<rect x="360.15" y="348.88" width="2.4" height="2.4" fill="#fff" stroke="#000" stroke-width="0.8"/>
<rect x="362.85" y="350.2" width="2.4" height="2.4" fill="#fff" stroke="#000" stroke-width="0.8"/>
<rect x="365.55" y="347.88" width="2.4" height="2.4" fill="#fff" stroke="#000" stroke-width="0.8"/>
<rect x="368.25" y="348.03" width="2.4" height="2.4" fill="#fff" stroke="#000" stroke-width="0.8"/>
<rect x="370.95" y="344.35" width="2.4" height="2.4" fill="#fff" stroke="#000" stroke-width="0.8"/>
<rect x="373.65" y="343.66" width="2.4" height="2.4" fill="#fff" stroke="#000" stroke-width="0.8"/>
<rect x="376.35" y="338.84" width="2.4" height="2.4" fill="#fff" stroke="#000" stroke-width="0.8"/>
<rect x="379.05" y="342.93" width="2.4" height="2.4" fill="#fff" stroke="#000" stroke-width="0.8"/>
<rect x="381.75" y="338.3" width="2.4" height="2.4" fill="#fff" stroke="#000" stroke-width="0.8"/>
<rect x="384.45" y="338.49" width="2.4" height="2.4" fill="#fff" stroke="#000" stroke-width="0.8"/>
<rect x="387.15" y="337.76" width="2.4" height="2.4" fill="#fff" stroke="#000" stroke-width="0.8"/>
<rect x="389.85" y="337.74" width="2.4" height="2.4" fill="#fff" stroke="#000" stroke-width="0.8"/>
<rect x="392.55" y="334.5" width="2.4" height="2.4" fill="#fff" stroke="#000" stroke-width="0.8"/>
<rect x="395.25" y="336.65" width="2.4" height="2.4" fill="#fff" stroke="#000" stroke-width="0.8"/>
<rect x="397.95" y="335.19" width="2.4" height="2.4" fill="#fff" stroke="#000" stroke-width="0.8"/>
<rect x="400.65" y="330.21" width="2.4" height="2.4" fill="#fff" stroke="#000" stroke-width="0.8"/>
<rect x="403.35" y="333.23" width="2.4" height="2.4" fill="#fff" stroke="#000" stroke-width="0.8"/>
<rect x="406.05" y="326.57" width="2.4" height="2.4" fill="#fff" stroke="#000" stroke-width="0.8"/>
<path d="M310.1 228.1 L320.9 228.1 L315.5 238.9 Z" fill="#f00"/>
<text transform="translate(508.2 213.1) scale(1 1.05)" font-size="12.8" text-anchor="middle" fill="#1a1aff" ><tspan fill="#1a1aff">L5 PC</tspan></text>
<line x1="453.1" y1="223.7" x2="453.1" y2="362.7" stroke="#000" stroke-width="1.5" />
<line x1="452.4" y1="362" x2="562.6" y2="362" stroke="#000" stroke-width="1.5" />
<line x1="449.1" y1="362" x2="453.1" y2="362" stroke="#000" stroke-width="1.2" />
<text transform="translate(447.7 365.9) scale(1 1.05)" font-size="11.3" text-anchor="end" fill="#111" >0</text>
<line x1="449.1" y1="316.13" x2="453.1" y2="316.13" stroke="#000" stroke-width="1.2" />
<text transform="translate(447.7 320.03) scale(1 1.05)" font-size="11.3" text-anchor="end" fill="#111" >5</text>
<line x1="449.1" y1="270.27" x2="453.1" y2="270.27" stroke="#000" stroke-width="1.2" />
<text transform="translate(447.7 274.17) scale(1 1.05)" font-size="11.3" text-anchor="end" fill="#111" >10</text>
<line x1="449.1" y1="224.4" x2="453.1" y2="224.4" stroke="#000" stroke-width="1.2" />
<text transform="translate(447.7 228.3) scale(1 1.05)" font-size="11.3" text-anchor="end" fill="#111" >15</text>
<line x1="453.1" y1="362" x2="453.1" y2="366" stroke="#000" stroke-width="1.2" />
<text transform="translate(453.1 378.4) scale(1 1.05)" font-size="11.3" text-anchor="middle" fill="#111" >0</text>
<line x1="474.86" y1="362" x2="474.86" y2="366" stroke="#000" stroke-width="1.2" />
<text transform="translate(474.86 378.4) scale(1 1.05)" font-size="11.3" text-anchor="middle" fill="#111" >2</text>
<line x1="496.62" y1="362" x2="496.62" y2="366" stroke="#000" stroke-width="1.2" />
<text transform="translate(496.62 378.4) scale(1 1.05)" font-size="11.3" text-anchor="middle" fill="#111" >4</text>
<line x1="518.38" y1="362" x2="518.38" y2="366" stroke="#000" stroke-width="1.2" />
<text transform="translate(518.38 378.4) scale(1 1.05)" font-size="11.3" text-anchor="middle" fill="#111" >6</text>
<line x1="540.14" y1="362" x2="540.14" y2="366" stroke="#000" stroke-width="1.2" />
<text transform="translate(540.14 378.4) scale(1 1.05)" font-size="11.3" text-anchor="middle" fill="#111" >8</text>
<line x1="561.9" y1="362" x2="561.9" y2="366" stroke="#000" stroke-width="1.2" />
<text transform="translate(561.9 378.4) scale(1 1.05)" font-size="11.3" text-anchor="middle" fill="#111" >10</text>
<text transform="translate(507.8 393.6) scale(1 1.05)" font-size="11.8" text-anchor="middle" fill="#111" >Time (s)</text>
<text transform="translate(427.2 292.7) rotate(-90) scale(1 1.05)" font-size="11.6" text-anchor="middle" fill="#111">AP frequency (Hz)</text>
<line x1="454.46" y1="293.04" x2="454.46" y2="280.28" stroke="#7cb6f0" stroke-width="1.15" />
<line x1="452.06" y1="280.28" x2="456.86" y2="280.28" stroke="#7cb6f0" stroke-width="1.15" />
<line x1="452.06" y1="293.04" x2="456.86" y2="293.04" stroke="#7cb6f0" stroke-width="1.15" />
<line x1="457.18" y1="304.85" x2="457.18" y2="283.13" stroke="#7cb6f0" stroke-width="1.15" />
<line x1="454.78" y1="283.13" x2="459.58" y2="283.13" stroke="#7cb6f0" stroke-width="1.15" />
<line x1="454.78" y1="304.85" x2="459.58" y2="304.85" stroke="#7cb6f0" stroke-width="1.15" />
<line x1="459.9" y1="296.99" x2="459.9" y2="282.1" stroke="#7cb6f0" stroke-width="1.15" />
<line x1="457.5" y1="282.1" x2="462.3" y2="282.1" stroke="#7cb6f0" stroke-width="1.15" />
<line x1="457.5" y1="296.99" x2="462.3" y2="296.99" stroke="#7cb6f0" stroke-width="1.15" />
<line x1="462.62" y1="295.46" x2="462.62" y2="280.69" stroke="#7cb6f0" stroke-width="1.15" />
<line x1="460.22" y1="280.69" x2="465.02" y2="280.69" stroke="#7cb6f0" stroke-width="1.15" />
<line x1="460.22" y1="295.46" x2="465.02" y2="295.46" stroke="#7cb6f0" stroke-width="1.15" />
<line x1="465.34" y1="303.46" x2="465.34" y2="281.45" stroke="#7cb6f0" stroke-width="1.15" />
<line x1="462.94" y1="281.45" x2="467.74" y2="281.45" stroke="#7cb6f0" stroke-width="1.15" />
<line x1="462.94" y1="303.46" x2="467.74" y2="303.46" stroke="#7cb6f0" stroke-width="1.15" />
<line x1="468.06" y1="303.9" x2="468.06" y2="290.78" stroke="#7cb6f0" stroke-width="1.15" />
<line x1="465.66" y1="290.78" x2="470.46" y2="290.78" stroke="#7cb6f0" stroke-width="1.15" />
<line x1="465.66" y1="303.9" x2="470.46" y2="303.9" stroke="#7cb6f0" stroke-width="1.15" />
<line x1="470.78" y1="301.51" x2="470.78" y2="283.59" stroke="#7cb6f0" stroke-width="1.15" />
<line x1="468.38" y1="283.59" x2="473.18" y2="283.59" stroke="#7cb6f0" stroke-width="1.15" />
<line x1="468.38" y1="301.51" x2="473.18" y2="301.51" stroke="#7cb6f0" stroke-width="1.15" />
<line x1="473.5" y1="306.28" x2="473.5" y2="284.59" stroke="#7cb6f0" stroke-width="1.15" />
<line x1="471.1" y1="284.59" x2="475.9" y2="284.59" stroke="#7cb6f0" stroke-width="1.15" />
<line x1="471.1" y1="306.28" x2="475.9" y2="306.28" stroke="#7cb6f0" stroke-width="1.15" />
<line x1="476.22" y1="300.3" x2="476.22" y2="279.04" stroke="#7cb6f0" stroke-width="1.15" />
<line x1="473.82" y1="279.04" x2="478.62" y2="279.04" stroke="#7cb6f0" stroke-width="1.15" />
<line x1="473.82" y1="300.3" x2="478.62" y2="300.3" stroke="#7cb6f0" stroke-width="1.15" />
<line x1="478.94" y1="300.97" x2="478.94" y2="288.38" stroke="#7cb6f0" stroke-width="1.15" />
<line x1="476.54" y1="288.38" x2="481.34" y2="288.38" stroke="#7cb6f0" stroke-width="1.15" />
<line x1="476.54" y1="300.97" x2="481.34" y2="300.97" stroke="#7cb6f0" stroke-width="1.15" />
<line x1="481.66" y1="294.5" x2="481.66" y2="278.32" stroke="#7cb6f0" stroke-width="1.15" />
<line x1="479.26" y1="278.32" x2="484.06" y2="278.32" stroke="#7cb6f0" stroke-width="1.15" />
<line x1="479.26" y1="294.5" x2="484.06" y2="294.5" stroke="#7cb6f0" stroke-width="1.15" />
<line x1="484.38" y1="298.68" x2="484.38" y2="285.03" stroke="#7cb6f0" stroke-width="1.15" />
<line x1="481.98" y1="285.03" x2="486.78" y2="285.03" stroke="#7cb6f0" stroke-width="1.15" />
<line x1="481.98" y1="298.68" x2="486.78" y2="298.68" stroke="#7cb6f0" stroke-width="1.15" />
<line x1="487.1" y1="304.49" x2="487.1" y2="285.67" stroke="#7cb6f0" stroke-width="1.15" />
<line x1="484.7" y1="285.67" x2="489.5" y2="285.67" stroke="#7cb6f0" stroke-width="1.15" />
<line x1="484.7" y1="304.49" x2="489.5" y2="304.49" stroke="#7cb6f0" stroke-width="1.15" />
<line x1="489.82" y1="301.09" x2="489.82" y2="287.51" stroke="#7cb6f0" stroke-width="1.15" />
<line x1="487.42" y1="287.51" x2="492.22" y2="287.51" stroke="#7cb6f0" stroke-width="1.15" />
<line x1="487.42" y1="301.09" x2="492.22" y2="301.09" stroke="#7cb6f0" stroke-width="1.15" />
<line x1="492.54" y1="302.76" x2="492.54" y2="289.98" stroke="#7cb6f0" stroke-width="1.15" />
<line x1="490.14" y1="289.98" x2="494.94" y2="289.98" stroke="#7cb6f0" stroke-width="1.15" />
<line x1="490.14" y1="302.76" x2="494.94" y2="302.76" stroke="#7cb6f0" stroke-width="1.15" />
<line x1="495.26" y1="298.73" x2="495.26" y2="284.86" stroke="#7cb6f0" stroke-width="1.15" />
<line x1="492.86" y1="284.86" x2="497.66" y2="284.86" stroke="#7cb6f0" stroke-width="1.15" />
<line x1="492.86" y1="298.73" x2="497.66" y2="298.73" stroke="#7cb6f0" stroke-width="1.15" />
<line x1="497.98" y1="294.56" x2="497.98" y2="282.32" stroke="#7cb6f0" stroke-width="1.15" />
<line x1="495.58" y1="282.32" x2="500.38" y2="282.32" stroke="#7cb6f0" stroke-width="1.15" />
<line x1="495.58" y1="294.56" x2="500.38" y2="294.56" stroke="#7cb6f0" stroke-width="1.15" />
<line x1="500.7" y1="303.61" x2="500.7" y2="284.6" stroke="#7cb6f0" stroke-width="1.15" />
<line x1="498.3" y1="284.6" x2="503.1" y2="284.6" stroke="#7cb6f0" stroke-width="1.15" />
<line x1="498.3" y1="303.61" x2="503.1" y2="303.61" stroke="#7cb6f0" stroke-width="1.15" />
<line x1="503.42" y1="297.61" x2="503.42" y2="283.64" stroke="#7cb6f0" stroke-width="1.15" />
<line x1="501.02" y1="283.64" x2="505.82" y2="283.64" stroke="#7cb6f0" stroke-width="1.15" />
<line x1="501.02" y1="297.61" x2="505.82" y2="297.61" stroke="#7cb6f0" stroke-width="1.15" />
<line x1="506.14" y1="304.48" x2="506.14" y2="289.13" stroke="#7cb6f0" stroke-width="1.15" />
<line x1="503.74" y1="289.13" x2="508.54" y2="289.13" stroke="#7cb6f0" stroke-width="1.15" />
<line x1="503.74" y1="304.48" x2="508.54" y2="304.48" stroke="#7cb6f0" stroke-width="1.15" />
<line x1="508.86" y1="299.93" x2="508.86" y2="286.01" stroke="#7cb6f0" stroke-width="1.15" />
<line x1="506.46" y1="286.01" x2="511.26" y2="286.01" stroke="#7cb6f0" stroke-width="1.15" />
<line x1="506.46" y1="299.93" x2="511.26" y2="299.93" stroke="#7cb6f0" stroke-width="1.15" />
<line x1="511.58" y1="294.31" x2="511.58" y2="279.18" stroke="#7cb6f0" stroke-width="1.15" />
<line x1="509.18" y1="279.18" x2="513.98" y2="279.18" stroke="#7cb6f0" stroke-width="1.15" />
<line x1="509.18" y1="294.31" x2="513.98" y2="294.31" stroke="#7cb6f0" stroke-width="1.15" />
<line x1="514.3" y1="305.97" x2="514.3" y2="291.71" stroke="#7cb6f0" stroke-width="1.15" />
<line x1="511.9" y1="291.71" x2="516.7" y2="291.71" stroke="#7cb6f0" stroke-width="1.15" />
<line x1="511.9" y1="305.97" x2="516.7" y2="305.97" stroke="#7cb6f0" stroke-width="1.15" />
<line x1="517.02" y1="297.96" x2="517.02" y2="283.15" stroke="#7cb6f0" stroke-width="1.15" />
<line x1="514.62" y1="283.15" x2="519.42" y2="283.15" stroke="#7cb6f0" stroke-width="1.15" />
<line x1="514.62" y1="297.96" x2="519.42" y2="297.96" stroke="#7cb6f0" stroke-width="1.15" />
<line x1="519.74" y1="300.39" x2="519.74" y2="281.46" stroke="#7cb6f0" stroke-width="1.15" />
<line x1="517.34" y1="281.46" x2="522.14" y2="281.46" stroke="#7cb6f0" stroke-width="1.15" />
<line x1="517.34" y1="300.39" x2="522.14" y2="300.39" stroke="#7cb6f0" stroke-width="1.15" />
<line x1="522.46" y1="307.29" x2="522.46" y2="294.54" stroke="#7cb6f0" stroke-width="1.15" />
<line x1="520.06" y1="294.54" x2="524.86" y2="294.54" stroke="#7cb6f0" stroke-width="1.15" />
<line x1="520.06" y1="307.29" x2="524.86" y2="307.29" stroke="#7cb6f0" stroke-width="1.15" />
<line x1="525.18" y1="309" x2="525.18" y2="290.33" stroke="#7cb6f0" stroke-width="1.15" />
<line x1="522.78" y1="290.33" x2="527.58" y2="290.33" stroke="#7cb6f0" stroke-width="1.15" />
<line x1="522.78" y1="309" x2="527.58" y2="309" stroke="#7cb6f0" stroke-width="1.15" />
<line x1="527.9" y1="305.75" x2="527.9" y2="291.01" stroke="#7cb6f0" stroke-width="1.15" />
<line x1="525.5" y1="291.01" x2="530.3" y2="291.01" stroke="#7cb6f0" stroke-width="1.15" />
<line x1="525.5" y1="305.75" x2="530.3" y2="305.75" stroke="#7cb6f0" stroke-width="1.15" />
<line x1="530.62" y1="298.23" x2="530.62" y2="286.41" stroke="#7cb6f0" stroke-width="1.15" />
<line x1="528.22" y1="286.41" x2="533.02" y2="286.41" stroke="#7cb6f0" stroke-width="1.15" />
<line x1="528.22" y1="298.23" x2="533.02" y2="298.23" stroke="#7cb6f0" stroke-width="1.15" />
<line x1="533.34" y1="303.05" x2="533.34" y2="290.93" stroke="#7cb6f0" stroke-width="1.15" />
<line x1="530.94" y1="290.93" x2="535.74" y2="290.93" stroke="#7cb6f0" stroke-width="1.15" />
<line x1="530.94" y1="303.05" x2="535.74" y2="303.05" stroke="#7cb6f0" stroke-width="1.15" />
<line x1="536.06" y1="306.9" x2="536.06" y2="285.76" stroke="#7cb6f0" stroke-width="1.15" />
<line x1="533.66" y1="285.76" x2="538.46" y2="285.76" stroke="#7cb6f0" stroke-width="1.15" />
<line x1="533.66" y1="306.9" x2="538.46" y2="306.9" stroke="#7cb6f0" stroke-width="1.15" />
<line x1="538.78" y1="299.32" x2="538.78" y2="288.1" stroke="#7cb6f0" stroke-width="1.15" />
<line x1="536.38" y1="288.1" x2="541.18" y2="288.1" stroke="#7cb6f0" stroke-width="1.15" />
<line x1="536.38" y1="299.32" x2="541.18" y2="299.32" stroke="#7cb6f0" stroke-width="1.15" />
<line x1="541.5" y1="302.75" x2="541.5" y2="288.82" stroke="#7cb6f0" stroke-width="1.15" />
<line x1="539.1" y1="288.82" x2="543.9" y2="288.82" stroke="#7cb6f0" stroke-width="1.15" />
<line x1="539.1" y1="302.75" x2="543.9" y2="302.75" stroke="#7cb6f0" stroke-width="1.15" />
<line x1="544.22" y1="305.98" x2="544.22" y2="285.27" stroke="#7cb6f0" stroke-width="1.15" />
<line x1="541.82" y1="285.27" x2="546.62" y2="285.27" stroke="#7cb6f0" stroke-width="1.15" />
<line x1="541.82" y1="305.98" x2="546.62" y2="305.98" stroke="#7cb6f0" stroke-width="1.15" />
<line x1="546.94" y1="303.39" x2="546.94" y2="291.74" stroke="#7cb6f0" stroke-width="1.15" />
<line x1="544.54" y1="291.74" x2="549.34" y2="291.74" stroke="#7cb6f0" stroke-width="1.15" />
<line x1="544.54" y1="303.39" x2="549.34" y2="303.39" stroke="#7cb6f0" stroke-width="1.15" />
<line x1="549.66" y1="299.69" x2="549.66" y2="286.52" stroke="#7cb6f0" stroke-width="1.15" />
<line x1="547.26" y1="286.52" x2="552.06" y2="286.52" stroke="#7cb6f0" stroke-width="1.15" />
<line x1="547.26" y1="299.69" x2="552.06" y2="299.69" stroke="#7cb6f0" stroke-width="1.15" />
<line x1="552.38" y1="306.32" x2="552.38" y2="292.48" stroke="#7cb6f0" stroke-width="1.15" />
<line x1="549.98" y1="292.48" x2="554.78" y2="292.48" stroke="#7cb6f0" stroke-width="1.15" />
<line x1="549.98" y1="306.32" x2="554.78" y2="306.32" stroke="#7cb6f0" stroke-width="1.15" />
<line x1="555.1" y1="301.9" x2="555.1" y2="281.51" stroke="#7cb6f0" stroke-width="1.15" />
<line x1="552.7" y1="281.51" x2="557.5" y2="281.51" stroke="#7cb6f0" stroke-width="1.15" />
<line x1="552.7" y1="301.9" x2="557.5" y2="301.9" stroke="#7cb6f0" stroke-width="1.15" />
<line x1="557.82" y1="304.39" x2="557.82" y2="292.32" stroke="#7cb6f0" stroke-width="1.15" />
<line x1="555.42" y1="292.32" x2="560.22" y2="292.32" stroke="#7cb6f0" stroke-width="1.15" />
<line x1="555.42" y1="304.39" x2="560.22" y2="304.39" stroke="#7cb6f0" stroke-width="1.15" />
<line x1="560.54" y1="310.84" x2="560.54" y2="289.18" stroke="#7cb6f0" stroke-width="1.15" />
<line x1="558.14" y1="289.18" x2="562.94" y2="289.18" stroke="#7cb6f0" stroke-width="1.15" />
<line x1="558.14" y1="310.84" x2="562.94" y2="310.84" stroke="#7cb6f0" stroke-width="1.15" />
<path d="M454.46 286.66 L457.18 293.99 L459.9 289.55 L462.62 288.08 L465.34 292.46 L468.06 297.34 L470.78 292.55 L473.5 295.43 L476.22 289.67 L478.94 294.68 L481.66 286.41 L484.38 291.86 L487.1 295.08 L489.82 294.3 L492.54 296.37 L495.26 291.79 L497.98 288.44 L500.7 294.1 L503.42 290.63 L506.14 296.8 L508.86 292.97 L511.58 286.75 L514.3 298.84 L517.02 290.56 L519.74 290.93 L522.46 300.91 L525.18 299.67 L527.9 298.38 L530.62 292.32 L533.34 296.99 L536.06 296.33 L538.78 293.71 L541.5 295.79 L544.22 295.62 L546.94 297.56 L549.66 293.11 L552.38 299.4 L555.1 291.7 L557.82 298.35 L560.54 300.01" stroke="#7cb6f0" stroke-width="1.3" fill="none" />
<rect x="453.26" y="285.46" width="2.4" height="2.4" fill="#a8ccf4" stroke="#7cb6f0" stroke-width="0.8"/>
<rect x="455.98" y="292.79" width="2.4" height="2.4" fill="#a8ccf4" stroke="#7cb6f0" stroke-width="0.8"/>
<rect x="458.7" y="288.35" width="2.4" height="2.4" fill="#a8ccf4" stroke="#7cb6f0" stroke-width="0.8"/>
<rect x="461.42" y="286.88" width="2.4" height="2.4" fill="#a8ccf4" stroke="#7cb6f0" stroke-width="0.8"/>
<rect x="464.14" y="291.26" width="2.4" height="2.4" fill="#a8ccf4" stroke="#7cb6f0" stroke-width="0.8"/>
<rect x="466.86" y="296.14" width="2.4" height="2.4" fill="#a8ccf4" stroke="#7cb6f0" stroke-width="0.8"/>
<rect x="469.58" y="291.35" width="2.4" height="2.4" fill="#a8ccf4" stroke="#7cb6f0" stroke-width="0.8"/>
<rect x="472.3" y="294.23" width="2.4" height="2.4" fill="#a8ccf4" stroke="#7cb6f0" stroke-width="0.8"/>
<rect x="475.02" y="288.47" width="2.4" height="2.4" fill="#a8ccf4" stroke="#7cb6f0" stroke-width="0.8"/>
<rect x="477.74" y="293.48" width="2.4" height="2.4" fill="#a8ccf4" stroke="#7cb6f0" stroke-width="0.8"/>
<rect x="480.46" y="285.21" width="2.4" height="2.4" fill="#a8ccf4" stroke="#7cb6f0" stroke-width="0.8"/>
<rect x="483.18" y="290.66" width="2.4" height="2.4" fill="#a8ccf4" stroke="#7cb6f0" stroke-width="0.8"/>
<rect x="485.9" y="293.88" width="2.4" height="2.4" fill="#a8ccf4" stroke="#7cb6f0" stroke-width="0.8"/>
<rect x="488.62" y="293.1" width="2.4" height="2.4" fill="#a8ccf4" stroke="#7cb6f0" stroke-width="0.8"/>
<rect x="491.34" y="295.17" width="2.4" height="2.4" fill="#a8ccf4" stroke="#7cb6f0" stroke-width="0.8"/>
<rect x="494.06" y="290.59" width="2.4" height="2.4" fill="#a8ccf4" stroke="#7cb6f0" stroke-width="0.8"/>
<rect x="496.78" y="287.24" width="2.4" height="2.4" fill="#a8ccf4" stroke="#7cb6f0" stroke-width="0.8"/>
<rect x="499.5" y="292.9" width="2.4" height="2.4" fill="#a8ccf4" stroke="#7cb6f0" stroke-width="0.8"/>
<rect x="502.22" y="289.43" width="2.4" height="2.4" fill="#a8ccf4" stroke="#7cb6f0" stroke-width="0.8"/>
<rect x="504.94" y="295.6" width="2.4" height="2.4" fill="#a8ccf4" stroke="#7cb6f0" stroke-width="0.8"/>
<rect x="507.66" y="291.77" width="2.4" height="2.4" fill="#a8ccf4" stroke="#7cb6f0" stroke-width="0.8"/>
<rect x="510.38" y="285.55" width="2.4" height="2.4" fill="#a8ccf4" stroke="#7cb6f0" stroke-width="0.8"/>
<rect x="513.1" y="297.64" width="2.4" height="2.4" fill="#a8ccf4" stroke="#7cb6f0" stroke-width="0.8"/>
<rect x="515.82" y="289.36" width="2.4" height="2.4" fill="#a8ccf4" stroke="#7cb6f0" stroke-width="0.8"/>
<rect x="518.54" y="289.73" width="2.4" height="2.4" fill="#a8ccf4" stroke="#7cb6f0" stroke-width="0.8"/>
<rect x="521.26" y="299.71" width="2.4" height="2.4" fill="#a8ccf4" stroke="#7cb6f0" stroke-width="0.8"/>
<rect x="523.98" y="298.47" width="2.4" height="2.4" fill="#a8ccf4" stroke="#7cb6f0" stroke-width="0.8"/>
<rect x="526.7" y="297.18" width="2.4" height="2.4" fill="#a8ccf4" stroke="#7cb6f0" stroke-width="0.8"/>
<rect x="529.42" y="291.12" width="2.4" height="2.4" fill="#a8ccf4" stroke="#7cb6f0" stroke-width="0.8"/>
<rect x="532.14" y="295.79" width="2.4" height="2.4" fill="#a8ccf4" stroke="#7cb6f0" stroke-width="0.8"/>
<rect x="534.86" y="295.13" width="2.4" height="2.4" fill="#a8ccf4" stroke="#7cb6f0" stroke-width="0.8"/>
<rect x="537.58" y="292.51" width="2.4" height="2.4" fill="#a8ccf4" stroke="#7cb6f0" stroke-width="0.8"/>
<rect x="540.3" y="294.59" width="2.4" height="2.4" fill="#a8ccf4" stroke="#7cb6f0" stroke-width="0.8"/>
<rect x="543.02" y="294.42" width="2.4" height="2.4" fill="#a8ccf4" stroke="#7cb6f0" stroke-width="0.8"/>
<rect x="545.74" y="296.36" width="2.4" height="2.4" fill="#a8ccf4" stroke="#7cb6f0" stroke-width="0.8"/>
<rect x="548.46" y="291.91" width="2.4" height="2.4" fill="#a8ccf4" stroke="#7cb6f0" stroke-width="0.8"/>
<rect x="551.18" y="298.2" width="2.4" height="2.4" fill="#a8ccf4" stroke="#7cb6f0" stroke-width="0.8"/>
<rect x="553.9" y="290.5" width="2.4" height="2.4" fill="#a8ccf4" stroke="#7cb6f0" stroke-width="0.8"/>
<rect x="556.62" y="297.15" width="2.4" height="2.4" fill="#a8ccf4" stroke="#7cb6f0" stroke-width="0.8"/>
<rect x="559.34" y="298.81" width="2.4" height="2.4" fill="#a8ccf4" stroke="#7cb6f0" stroke-width="0.8"/>
<line x1="454.46" y1="292.51" x2="454.46" y2="264.59" stroke="#0a0aff" stroke-width="1.15" />
<line x1="452.06" y1="264.59" x2="456.86" y2="264.59" stroke="#0a0aff" stroke-width="1.15" />
<line x1="452.06" y1="292.51" x2="456.86" y2="292.51" stroke="#0a0aff" stroke-width="1.15" />
<line x1="457.18" y1="299.91" x2="457.18" y2="278.02" stroke="#0a0aff" stroke-width="1.15" />
<line x1="454.78" y1="278.02" x2="459.58" y2="278.02" stroke="#0a0aff" stroke-width="1.15" />
<line x1="454.78" y1="299.91" x2="459.58" y2="299.91" stroke="#0a0aff" stroke-width="1.15" />
<line x1="459.9" y1="301.51" x2="459.9" y2="273.63" stroke="#0a0aff" stroke-width="1.15" />
<line x1="457.5" y1="273.63" x2="462.3" y2="273.63" stroke="#0a0aff" stroke-width="1.15" />
<line x1="457.5" y1="301.51" x2="462.3" y2="301.51" stroke="#0a0aff" stroke-width="1.15" />
<line x1="462.62" y1="302.25" x2="462.62" y2="278.39" stroke="#0a0aff" stroke-width="1.15" />
<line x1="460.22" y1="278.39" x2="465.02" y2="278.39" stroke="#0a0aff" stroke-width="1.15" />
<line x1="460.22" y1="302.25" x2="465.02" y2="302.25" stroke="#0a0aff" stroke-width="1.15" />
<line x1="465.34" y1="300.52" x2="465.34" y2="274.59" stroke="#0a0aff" stroke-width="1.15" />
<line x1="462.94" y1="274.59" x2="467.74" y2="274.59" stroke="#0a0aff" stroke-width="1.15" />
<line x1="462.94" y1="300.52" x2="467.74" y2="300.52" stroke="#0a0aff" stroke-width="1.15" />
<line x1="468.06" y1="304.76" x2="468.06" y2="278.93" stroke="#0a0aff" stroke-width="1.15" />
<line x1="465.66" y1="278.93" x2="470.46" y2="278.93" stroke="#0a0aff" stroke-width="1.15" />
<line x1="465.66" y1="304.76" x2="470.46" y2="304.76" stroke="#0a0aff" stroke-width="1.15" />
<line x1="470.78" y1="303.09" x2="470.78" y2="279.37" stroke="#0a0aff" stroke-width="1.15" />
<line x1="468.38" y1="279.37" x2="473.18" y2="279.37" stroke="#0a0aff" stroke-width="1.15" />
<line x1="468.38" y1="303.09" x2="473.18" y2="303.09" stroke="#0a0aff" stroke-width="1.15" />
<line x1="473.5" y1="306.21" x2="473.5" y2="281.26" stroke="#0a0aff" stroke-width="1.15" />
<line x1="471.1" y1="281.26" x2="475.9" y2="281.26" stroke="#0a0aff" stroke-width="1.15" />
<line x1="471.1" y1="306.21" x2="475.9" y2="306.21" stroke="#0a0aff" stroke-width="1.15" />
<line x1="476.22" y1="313.53" x2="476.22" y2="287.28" stroke="#0a0aff" stroke-width="1.15" />
<line x1="473.82" y1="287.28" x2="478.62" y2="287.28" stroke="#0a0aff" stroke-width="1.15" />
<line x1="473.82" y1="313.53" x2="478.62" y2="313.53" stroke="#0a0aff" stroke-width="1.15" />
<line x1="478.94" y1="315.37" x2="478.94" y2="294.2" stroke="#0a0aff" stroke-width="1.15" />
<line x1="476.54" y1="294.2" x2="481.34" y2="294.2" stroke="#0a0aff" stroke-width="1.15" />
<line x1="476.54" y1="315.37" x2="481.34" y2="315.37" stroke="#0a0aff" stroke-width="1.15" />
<line x1="481.66" y1="317.02" x2="481.66" y2="288.14" stroke="#0a0aff" stroke-width="1.15" />
<line x1="479.26" y1="288.14" x2="484.06" y2="288.14" stroke="#0a0aff" stroke-width="1.15" />
<line x1="479.26" y1="317.02" x2="484.06" y2="317.02" stroke="#0a0aff" stroke-width="1.15" />
<line x1="484.38" y1="323.54" x2="484.38" y2="295.57" stroke="#0a0aff" stroke-width="1.15" />
<line x1="481.98" y1="295.57" x2="486.78" y2="295.57" stroke="#0a0aff" stroke-width="1.15" />
<line x1="481.98" y1="323.54" x2="486.78" y2="323.54" stroke="#0a0aff" stroke-width="1.15" />
<line x1="487.1" y1="315.62" x2="487.1" y2="293.74" stroke="#0a0aff" stroke-width="1.15" />
<line x1="484.7" y1="293.74" x2="489.5" y2="293.74" stroke="#0a0aff" stroke-width="1.15" />
<line x1="484.7" y1="315.62" x2="489.5" y2="315.62" stroke="#0a0aff" stroke-width="1.15" />
<line x1="489.82" y1="319.46" x2="489.82" y2="297.41" stroke="#0a0aff" stroke-width="1.15" />
<line x1="487.42" y1="297.41" x2="492.22" y2="297.41" stroke="#0a0aff" stroke-width="1.15" />
<line x1="487.42" y1="319.46" x2="492.22" y2="319.46" stroke="#0a0aff" stroke-width="1.15" />
<line x1="492.54" y1="318.77" x2="492.54" y2="295.05" stroke="#0a0aff" stroke-width="1.15" />
<line x1="490.14" y1="295.05" x2="494.94" y2="295.05" stroke="#0a0aff" stroke-width="1.15" />
<line x1="490.14" y1="318.77" x2="494.94" y2="318.77" stroke="#0a0aff" stroke-width="1.15" />
<line x1="495.26" y1="320.69" x2="495.26" y2="293.23" stroke="#0a0aff" stroke-width="1.15" />
<line x1="492.86" y1="293.23" x2="497.66" y2="293.23" stroke="#0a0aff" stroke-width="1.15" />
<line x1="492.86" y1="320.69" x2="497.66" y2="320.69" stroke="#0a0aff" stroke-width="1.15" />
<line x1="497.98" y1="318.7" x2="497.98" y2="293.77" stroke="#0a0aff" stroke-width="1.15" />
<line x1="495.58" y1="293.77" x2="500.38" y2="293.77" stroke="#0a0aff" stroke-width="1.15" />
<line x1="495.58" y1="318.7" x2="500.38" y2="318.7" stroke="#0a0aff" stroke-width="1.15" />
<line x1="500.7" y1="317.74" x2="500.7" y2="294.81" stroke="#0a0aff" stroke-width="1.15" />
<line x1="498.3" y1="294.81" x2="503.1" y2="294.81" stroke="#0a0aff" stroke-width="1.15" />
<line x1="498.3" y1="317.74" x2="503.1" y2="317.74" stroke="#0a0aff" stroke-width="1.15" />
<line x1="503.42" y1="321.54" x2="503.42" y2="294.11" stroke="#0a0aff" stroke-width="1.15" />
<line x1="501.02" y1="294.11" x2="505.82" y2="294.11" stroke="#0a0aff" stroke-width="1.15" />
<line x1="501.02" y1="321.54" x2="505.82" y2="321.54" stroke="#0a0aff" stroke-width="1.15" />
<line x1="506.14" y1="317.66" x2="506.14" y2="295.9" stroke="#0a0aff" stroke-width="1.15" />
<line x1="503.74" y1="295.9" x2="508.54" y2="295.9" stroke="#0a0aff" stroke-width="1.15" />
<line x1="503.74" y1="317.66" x2="508.54" y2="317.66" stroke="#0a0aff" stroke-width="1.15" />
<line x1="508.86" y1="316.96" x2="508.86" y2="290.13" stroke="#0a0aff" stroke-width="1.15" />
<line x1="506.46" y1="290.13" x2="511.26" y2="290.13" stroke="#0a0aff" stroke-width="1.15" />
<line x1="506.46" y1="316.96" x2="511.26" y2="316.96" stroke="#0a0aff" stroke-width="1.15" />
<line x1="511.58" y1="318.24" x2="511.58" y2="290.96" stroke="#0a0aff" stroke-width="1.15" />
<line x1="509.18" y1="290.96" x2="513.98" y2="290.96" stroke="#0a0aff" stroke-width="1.15" />
<line x1="509.18" y1="318.24" x2="513.98" y2="318.24" stroke="#0a0aff" stroke-width="1.15" />
<line x1="514.3" y1="317.46" x2="514.3" y2="296.63" stroke="#0a0aff" stroke-width="1.15" />
<line x1="511.9" y1="296.63" x2="516.7" y2="296.63" stroke="#0a0aff" stroke-width="1.15" />
<line x1="511.9" y1="317.46" x2="516.7" y2="317.46" stroke="#0a0aff" stroke-width="1.15" />
<line x1="517.02" y1="318.06" x2="517.02" y2="292.6" stroke="#0a0aff" stroke-width="1.15" />
<line x1="514.62" y1="292.6" x2="519.42" y2="292.6" stroke="#0a0aff" stroke-width="1.15" />
<line x1="514.62" y1="318.06" x2="519.42" y2="318.06" stroke="#0a0aff" stroke-width="1.15" />
<line x1="519.74" y1="317.69" x2="519.74" y2="291.99" stroke="#0a0aff" stroke-width="1.15" />
<line x1="517.34" y1="291.99" x2="522.14" y2="291.99" stroke="#0a0aff" stroke-width="1.15" />
<line x1="517.34" y1="317.69" x2="522.14" y2="317.69" stroke="#0a0aff" stroke-width="1.15" />
<line x1="522.46" y1="317.34" x2="522.46" y2="287.91" stroke="#0a0aff" stroke-width="1.15" />
<line x1="520.06" y1="287.91" x2="524.86" y2="287.91" stroke="#0a0aff" stroke-width="1.15" />
<line x1="520.06" y1="317.34" x2="524.86" y2="317.34" stroke="#0a0aff" stroke-width="1.15" />
<line x1="525.18" y1="312.91" x2="525.18" y2="290.14" stroke="#0a0aff" stroke-width="1.15" />
<line x1="522.78" y1="290.14" x2="527.58" y2="290.14" stroke="#0a0aff" stroke-width="1.15" />
<line x1="522.78" y1="312.91" x2="527.58" y2="312.91" stroke="#0a0aff" stroke-width="1.15" />
<line x1="527.9" y1="313.5" x2="527.9" y2="289.13" stroke="#0a0aff" stroke-width="1.15" />
<line x1="525.5" y1="289.13" x2="530.3" y2="289.13" stroke="#0a0aff" stroke-width="1.15" />
<line x1="525.5" y1="313.5" x2="530.3" y2="313.5" stroke="#0a0aff" stroke-width="1.15" />
<line x1="530.62" y1="317.45" x2="530.62" y2="288.36" stroke="#0a0aff" stroke-width="1.15" />
<line x1="528.22" y1="288.36" x2="533.02" y2="288.36" stroke="#0a0aff" stroke-width="1.15" />
<line x1="528.22" y1="317.45" x2="533.02" y2="317.45" stroke="#0a0aff" stroke-width="1.15" />
<line x1="533.34" y1="311.15" x2="533.34" y2="290.05" stroke="#0a0aff" stroke-width="1.15" />
<line x1="530.94" y1="290.05" x2="535.74" y2="290.05" stroke="#0a0aff" stroke-width="1.15" />
<line x1="530.94" y1="311.15" x2="535.74" y2="311.15" stroke="#0a0aff" stroke-width="1.15" />
<line x1="536.06" y1="318.31" x2="536.06" y2="289.61" stroke="#0a0aff" stroke-width="1.15" />
<line x1="533.66" y1="289.61" x2="538.46" y2="289.61" stroke="#0a0aff" stroke-width="1.15" />
<line x1="533.66" y1="318.31" x2="538.46" y2="318.31" stroke="#0a0aff" stroke-width="1.15" />
<line x1="538.78" y1="319.39" x2="538.78" y2="295.95" stroke="#0a0aff" stroke-width="1.15" />
<line x1="536.38" y1="295.95" x2="541.18" y2="295.95" stroke="#0a0aff" stroke-width="1.15" />
<line x1="536.38" y1="319.39" x2="541.18" y2="319.39" stroke="#0a0aff" stroke-width="1.15" />
<line x1="541.5" y1="311.38" x2="541.5" y2="288.16" stroke="#0a0aff" stroke-width="1.15" />
<line x1="539.1" y1="288.16" x2="543.9" y2="288.16" stroke="#0a0aff" stroke-width="1.15" />
<line x1="539.1" y1="311.38" x2="543.9" y2="311.38" stroke="#0a0aff" stroke-width="1.15" />
<line x1="544.22" y1="319.24" x2="544.22" y2="289.57" stroke="#0a0aff" stroke-width="1.15" />
<line x1="541.82" y1="289.57" x2="546.62" y2="289.57" stroke="#0a0aff" stroke-width="1.15" />
<line x1="541.82" y1="319.24" x2="546.62" y2="319.24" stroke="#0a0aff" stroke-width="1.15" />
<line x1="546.94" y1="314.53" x2="546.94" y2="290.85" stroke="#0a0aff" stroke-width="1.15" />
<line x1="544.54" y1="290.85" x2="549.34" y2="290.85" stroke="#0a0aff" stroke-width="1.15" />
<line x1="544.54" y1="314.53" x2="549.34" y2="314.53" stroke="#0a0aff" stroke-width="1.15" />
<line x1="549.66" y1="314.77" x2="549.66" y2="292.5" stroke="#0a0aff" stroke-width="1.15" />
<line x1="547.26" y1="292.5" x2="552.06" y2="292.5" stroke="#0a0aff" stroke-width="1.15" />
<line x1="547.26" y1="314.77" x2="552.06" y2="314.77" stroke="#0a0aff" stroke-width="1.15" />
<line x1="552.38" y1="309.75" x2="552.38" y2="287.89" stroke="#0a0aff" stroke-width="1.15" />
<line x1="549.98" y1="287.89" x2="554.78" y2="287.89" stroke="#0a0aff" stroke-width="1.15" />
<line x1="549.98" y1="309.75" x2="554.78" y2="309.75" stroke="#0a0aff" stroke-width="1.15" />
<line x1="555.1" y1="317.46" x2="555.1" y2="290.76" stroke="#0a0aff" stroke-width="1.15" />
<line x1="552.7" y1="290.76" x2="557.5" y2="290.76" stroke="#0a0aff" stroke-width="1.15" />
<line x1="552.7" y1="317.46" x2="557.5" y2="317.46" stroke="#0a0aff" stroke-width="1.15" />
<line x1="557.82" y1="313.31" x2="557.82" y2="287.2" stroke="#0a0aff" stroke-width="1.15" />
<line x1="555.42" y1="287.2" x2="560.22" y2="287.2" stroke="#0a0aff" stroke-width="1.15" />
<line x1="555.42" y1="313.31" x2="560.22" y2="313.31" stroke="#0a0aff" stroke-width="1.15" />
<line x1="560.54" y1="313.68" x2="560.54" y2="291.5" stroke="#0a0aff" stroke-width="1.15" />
<line x1="558.14" y1="291.5" x2="562.94" y2="291.5" stroke="#0a0aff" stroke-width="1.15" />
<line x1="558.14" y1="313.68" x2="562.94" y2="313.68" stroke="#0a0aff" stroke-width="1.15" />
<path d="M454.46 278.55 L457.18 288.96 L459.9 287.57 L462.62 290.32 L465.34 287.55 L468.06 291.84 L470.78 291.23 L473.5 293.73 L476.22 300.41 L478.94 304.78 L481.66 302.58 L484.38 309.56 L487.1 304.68 L489.82 308.43 L492.54 306.91 L495.26 306.96 L497.98 306.23 L500.7 306.28 L503.42 307.82 L506.14 306.78 L508.86 303.54 L511.58 304.6 L514.3 307.04 L517.02 305.33 L519.74 304.84 L522.46 302.63 L525.18 301.53 L527.9 301.31 L530.62 302.9 L533.34 300.6 L536.06 303.96 L538.78 307.67 L541.5 299.77 L544.22 304.4 L546.94 302.69 L549.66 303.64 L552.38 298.82 L555.1 304.11 L557.82 300.26 L560.54 302.59" stroke="#0a0aff" stroke-width="1.3" fill="none" />
<rect x="453.26" y="277.35" width="2.4" height="2.4" fill="#fff" stroke="#0a0aff" stroke-width="0.8"/>
<rect x="455.98" y="287.76" width="2.4" height="2.4" fill="#fff" stroke="#0a0aff" stroke-width="0.8"/>
<rect x="458.7" y="286.37" width="2.4" height="2.4" fill="#fff" stroke="#0a0aff" stroke-width="0.8"/>
<rect x="461.42" y="289.12" width="2.4" height="2.4" fill="#fff" stroke="#0a0aff" stroke-width="0.8"/>
<rect x="464.14" y="286.35" width="2.4" height="2.4" fill="#fff" stroke="#0a0aff" stroke-width="0.8"/>
<rect x="466.86" y="290.64" width="2.4" height="2.4" fill="#fff" stroke="#0a0aff" stroke-width="0.8"/>
<rect x="469.58" y="290.03" width="2.4" height="2.4" fill="#fff" stroke="#0a0aff" stroke-width="0.8"/>
<rect x="472.3" y="292.53" width="2.4" height="2.4" fill="#fff" stroke="#0a0aff" stroke-width="0.8"/>
<rect x="475.02" y="299.21" width="2.4" height="2.4" fill="#fff" stroke="#0a0aff" stroke-width="0.8"/>
<rect x="477.74" y="303.58" width="2.4" height="2.4" fill="#fff" stroke="#0a0aff" stroke-width="0.8"/>
<rect x="480.46" y="301.38" width="2.4" height="2.4" fill="#fff" stroke="#0a0aff" stroke-width="0.8"/>
<rect x="483.18" y="308.36" width="2.4" height="2.4" fill="#fff" stroke="#0a0aff" stroke-width="0.8"/>
<rect x="485.9" y="303.48" width="2.4" height="2.4" fill="#fff" stroke="#0a0aff" stroke-width="0.8"/>
<rect x="488.62" y="307.23" width="2.4" height="2.4" fill="#fff" stroke="#0a0aff" stroke-width="0.8"/>
<rect x="491.34" y="305.71" width="2.4" height="2.4" fill="#fff" stroke="#0a0aff" stroke-width="0.8"/>
<rect x="494.06" y="305.76" width="2.4" height="2.4" fill="#fff" stroke="#0a0aff" stroke-width="0.8"/>
<rect x="496.78" y="305.03" width="2.4" height="2.4" fill="#fff" stroke="#0a0aff" stroke-width="0.8"/>
<rect x="499.5" y="305.08" width="2.4" height="2.4" fill="#fff" stroke="#0a0aff" stroke-width="0.8"/>
<rect x="502.22" y="306.62" width="2.4" height="2.4" fill="#fff" stroke="#0a0aff" stroke-width="0.8"/>
<rect x="504.94" y="305.58" width="2.4" height="2.4" fill="#fff" stroke="#0a0aff" stroke-width="0.8"/>
<rect x="507.66" y="302.34" width="2.4" height="2.4" fill="#fff" stroke="#0a0aff" stroke-width="0.8"/>
<rect x="510.38" y="303.4" width="2.4" height="2.4" fill="#fff" stroke="#0a0aff" stroke-width="0.8"/>
<rect x="513.1" y="305.84" width="2.4" height="2.4" fill="#fff" stroke="#0a0aff" stroke-width="0.8"/>
<rect x="515.82" y="304.13" width="2.4" height="2.4" fill="#fff" stroke="#0a0aff" stroke-width="0.8"/>
<rect x="518.54" y="303.64" width="2.4" height="2.4" fill="#fff" stroke="#0a0aff" stroke-width="0.8"/>
<rect x="521.26" y="301.43" width="2.4" height="2.4" fill="#fff" stroke="#0a0aff" stroke-width="0.8"/>
<rect x="523.98" y="300.33" width="2.4" height="2.4" fill="#fff" stroke="#0a0aff" stroke-width="0.8"/>
<rect x="526.7" y="300.11" width="2.4" height="2.4" fill="#fff" stroke="#0a0aff" stroke-width="0.8"/>
<rect x="529.42" y="301.7" width="2.4" height="2.4" fill="#fff" stroke="#0a0aff" stroke-width="0.8"/>
<rect x="532.14" y="299.4" width="2.4" height="2.4" fill="#fff" stroke="#0a0aff" stroke-width="0.8"/>
<rect x="534.86" y="302.76" width="2.4" height="2.4" fill="#fff" stroke="#0a0aff" stroke-width="0.8"/>
<rect x="537.58" y="306.47" width="2.4" height="2.4" fill="#fff" stroke="#0a0aff" stroke-width="0.8"/>
<rect x="540.3" y="298.57" width="2.4" height="2.4" fill="#fff" stroke="#0a0aff" stroke-width="0.8"/>
<rect x="543.02" y="303.2" width="2.4" height="2.4" fill="#fff" stroke="#0a0aff" stroke-width="0.8"/>
<rect x="545.74" y="301.49" width="2.4" height="2.4" fill="#fff" stroke="#0a0aff" stroke-width="0.8"/>
<rect x="548.46" y="302.44" width="2.4" height="2.4" fill="#fff" stroke="#0a0aff" stroke-width="0.8"/>
<rect x="551.18" y="297.62" width="2.4" height="2.4" fill="#fff" stroke="#0a0aff" stroke-width="0.8"/>
<rect x="553.9" y="302.91" width="2.4" height="2.4" fill="#fff" stroke="#0a0aff" stroke-width="0.8"/>
<rect x="556.62" y="299.06" width="2.4" height="2.4" fill="#fff" stroke="#0a0aff" stroke-width="0.8"/>
<rect x="559.34" y="301.39" width="2.4" height="2.4" fill="#fff" stroke="#0a0aff" stroke-width="0.8"/>
<path d="M464 228.4 L474.8 228.4 L469.4 239.2 Z" fill="#f00"/>
<line x1="615.3" y1="224.9" x2="615.3" y2="364.6" stroke="#000" stroke-width="1.6" />
<line x1="614.6" y1="363.9" x2="683.2" y2="363.9" stroke="#000" stroke-width="1.6" />
<line x1="610.1" y1="363.9" x2="615.3" y2="363.9" stroke="#000" stroke-width="1.2" />
<text transform="translate(606.9 367.8) scale(1 1.05)" font-size="11.3" text-anchor="end" fill="#111" >0</text>
<line x1="610.1" y1="336.24" x2="615.3" y2="336.24" stroke="#000" stroke-width="1.2" />
<text transform="translate(606.9 340.14) scale(1 1.05)" font-size="11.3" text-anchor="end" fill="#111" >20</text>
<line x1="610.1" y1="308.58" x2="615.3" y2="308.58" stroke="#000" stroke-width="1.2" />
<text transform="translate(606.9 312.48) scale(1 1.05)" font-size="11.3" text-anchor="end" fill="#111" >40</text>
<line x1="610.1" y1="280.92" x2="615.3" y2="280.92" stroke="#000" stroke-width="1.2" />
<text transform="translate(606.9 284.82) scale(1 1.05)" font-size="11.3" text-anchor="end" fill="#111" >60</text>
<line x1="610.1" y1="253.26" x2="615.3" y2="253.26" stroke="#000" stroke-width="1.2" />
<text transform="translate(606.9 257.16) scale(1 1.05)" font-size="11.3" text-anchor="end" fill="#111" >80</text>
<line x1="610.1" y1="225.6" x2="615.3" y2="225.6" stroke="#000" stroke-width="1.2" />
<text transform="translate(606.9 229.5) scale(1 1.05)" font-size="11.3" text-anchor="end" fill="#111" >100</text>
<text transform="translate(581.2 293.05) rotate(-90) scale(1 1.05)" font-size="11.6" text-anchor="middle" fill="#111">AP discharge (% of baseline)</text>
<line x1="634.2" y1="363.9" x2="634.2" y2="367.5" stroke="#000" stroke-width="1.1" />
<text transform="translate(634.2 381.4) scale(1 1.05)" font-size="11.2" text-anchor="middle" fill="#111" >L2/3</text>
<text transform="translate(634.2 393.9) scale(1 1.05)" font-size="11.2" text-anchor="middle" fill="#111" >(7)</text>
<line x1="663.3" y1="363.9" x2="663.3" y2="367.5" stroke="#000" stroke-width="1.1" />
<text transform="translate(663.3 381.4) scale(1 1.05)" font-size="11.2" text-anchor="middle" fill="#111" >L5</text>
<text transform="translate(663.3 393.9) scale(1 1.05)" font-size="11.2" text-anchor="middle" fill="#111" >(7)</text>
<line x1="634.2" y1="350.07" x2="634.2" y2="294.75" stroke="#000" stroke-width="1.2" />
<line x1="634.2" y1="359.06" x2="634.2" y2="363.9" stroke="#000" stroke-width="1.2" />
<rect x="625.4" y="350.07" width="17.6" height="8.99" fill="none" stroke="#000" stroke-width="1.2"/>
<line x1="625.4" y1="354.91" x2="643" y2="354.91" stroke="#000" stroke-width="1.2" />
<line x1="632" y1="294.75" x2="636.4" y2="294.75" stroke="#000" stroke-width="1.2" />
<line x1="632" y1="363.9" x2="636.4" y2="363.9" stroke="#000" stroke-width="1.2" />
<circle cx="628.7" cy="350.76" r="1.95" fill="#fff" stroke="#000" stroke-width="1.2"/>
<circle cx="639.7" cy="350.35" r="1.95" fill="#fff" stroke="#000" stroke-width="1.2"/>
<circle cx="634.2" cy="354.22" r="1.95" fill="#fff" stroke="#000" stroke-width="1.2"/>
<circle cx="631" cy="358.37" r="1.95" fill="#fff" stroke="#000" stroke-width="1.2"/>
<circle cx="637.4" cy="358.09" r="1.95" fill="#fff" stroke="#000" stroke-width="1.2"/>
<circle cx="634.2" cy="363.62" r="1.95" fill="#fff" stroke="#000" stroke-width="1.2"/>
<circle cx="634.2" cy="294.75" r="1.95" fill="#fff" stroke="#000" stroke-width="1.2"/>
<line x1="663.3" y1="238.74" x2="663.3" y2="235.97" stroke="#1a1aff" stroke-width="1.2" />
<line x1="663.3" y1="304.43" x2="663.3" y2="321.03" stroke="#1a1aff" stroke-width="1.2" />
<rect x="654.5" y="238.74" width="17.6" height="65.69" fill="none" stroke="#1a1aff" stroke-width="1.2"/>
<line x1="654.5" y1="258.79" x2="672.1" y2="258.79" stroke="#1a1aff" stroke-width="1.2" />
<line x1="661.1" y1="235.97" x2="665.5" y2="235.97" stroke="#1a1aff" stroke-width="1.2" />
<line x1="661.1" y1="321.03" x2="665.5" y2="321.03" stroke="#1a1aff" stroke-width="1.2" />
<circle cx="655.3" cy="238.05" r="1.95" fill="#fff" stroke="#1a1aff" stroke-width="1.2"/>
<circle cx="663.3" cy="235.97" r="1.95" fill="#fff" stroke="#1a1aff" stroke-width="1.2"/>
<circle cx="671.3" cy="237.36" r="1.95" fill="#fff" stroke="#1a1aff" stroke-width="1.2"/>
<circle cx="663.3" cy="258.79" r="1.95" fill="#fff" stroke="#1a1aff" stroke-width="1.2"/>
<circle cx="663.3" cy="291.98" r="1.95" fill="#fff" stroke="#1a1aff" stroke-width="1.2"/>
<circle cx="663.3" cy="305.81" r="1.95" fill="#fff" stroke="#1a1aff" stroke-width="1.2"/>
<circle cx="663.3" cy="321.03" r="1.95" fill="#fff" stroke="#1a1aff" stroke-width="1.2"/>
<path d="M634.2 227.4 L634.2 220.1 L663.3 220.1 L663.3 227.4" stroke="#000" stroke-width="1.2" fill="none" />
<path d="M644.6 208.3 L644.6 214.5 M641.92 209.85 L647.28 212.95 M641.92 212.95 L647.28 209.85 " stroke="#111" stroke-width="1.35" fill="none"/>
<path d="M652.9 208.3 L652.9 214.5 M650.22 209.85 L655.58 212.95 M650.22 212.95 L655.58 209.85 " stroke="#111" stroke-width="1.35" fill="none"/>
<text transform="translate(1.5 434) scale(1 1.05)" font-size="19.5" text-anchor="start" fill="#111" >E</text>
<text transform="translate(106.5 428.7) scale(1 1.05)" font-size="12.95" text-anchor="start" fill="#111" >Rat (6-8 month)</text>
<text transform="translate(34.2 450.5) scale(1 1.05)" font-size="13.1" text-anchor="start" fill="#111" >Control</text>
<text transform="translate(148.4 450.3) scale(1 1.05)" font-size="12.9" text-anchor="start" fill="#111" >+CGP</text>
<text transform="translate(1.1 499.6) scale(1 1.05)" font-size="13.3" text-anchor="start" fill="#111" >L2/3</text>
<text transform="translate(13.8 585.6) scale(1 1.05)" font-size="12.6" text-anchor="start" fill="#1a1aff" >L5</text>
<path d="M51.8 454.8 L53.4 454.8 L53.4 457.75 L55.4 457.75 L52.6 463 L49.8 457.75 L51.8 457.75 Z" fill="#ff0000"/>
<path d="M165.4 455.3 L167 455.3 L167 458.25 L169 458.25 L166.2 463.5 L163.4 458.25 L165.4 458.25 Z" fill="#ff0000"/>
<path d="M51.8 534.9 L53.4 534.9 L53.4 537.85 L55.4 537.85 L52.6 543.1 L49.8 537.85 L51.8 537.85 Z" fill="#ff0000"/>
<path d="M165.4 536 L167 536 L167 538.95 L169 538.95 L166.2 544.2 L163.4 538.95 L165.4 538.95 Z" fill="#ff0000"/>
<rect x="35.4" y="467" width="20" height="45.5" fill="#d9d9d9"/>
<rect x="35.4" y="510.5" width="20" height="5" fill="#7a7a7a"/>
<path d="M35.6 512.61 L35.75 511 L35.8 467.36 L35.95 514.75 L36.72 512.29 L37.29 511 L37.34 467.05 L37.49 515.54 L38.45 512.85 L39.13 511 L39.18 467.4 L39.33 515.76 L40.04 512.33 L40.57 511 L40.62 467.02 L40.77 515.23 L41.65 512.17 L42.3 511 L42.35 467.18 L42.5 515.01 L43.39 512.18 L44.04 511 L44.09 467.41 L44.24 515.48 L44.9 512.82 L45.4 511 L45.45 467.59 L45.6 515.01 L46.59 512.94 L47.31 511 L47.36 467.46 L47.51 515.43 L48.22 512.97 L48.74 511 L48.79 467.31 L48.94 514.74 L49.81 512.12 L50.43 511 L50.48 467.19 L50.63 515.61 L51.37 512.57 L51.91 511 L51.96 467.41 L52.11 514.72 L53.04 512.25 L53.7 511 L53.75 467.33 L53.9 515.55 L54.73 512.43 L55.34 511 L55.39 467.13 L55.54 515.1 L56.59 515.06 L57.64 512.42 L58.7 512.82 L59.85 511 L59.9 467.57 L60.05 514.76 L61.06 513.18 L62.08 513.88 L63.09 512.58 L64.11 512.8 L65.12 512.77 L66.14 512.69 L67.25 511 L67.3 467.22 L67.45 514.94 L69.46 512.41 L70.85 511 L70.9 467.34 L71.05 514.87 L72.03 513.18 L73 513.22 L73.98 514.02 L75.05 511 L75.1 467.56 L75.25 515.19 L76.22 514.82 L77.2 513.4 L78.17 512.33 L79.15 513.36 L80.12 512.86 L81.1 512.13 L82.08 512.52 L83.15 511 L83.2 467.27 L83.35 514.7 L84.35 512.92 L85.36 513.94 L86.36 513.27 L87.36 511.48 L88.37 513.8 L89.37 512.31 L90.38 511.98 L91.38 513.38 L92.38 512.05 L93.39 512.51 L94.39 512.67 L95.39 512.72 L96.4 512.07 L97.4 512.89 L98.4 512.69 L99.41 511.84 L100.41 513.25 L101.41 511.87 L102.42 512.63 L103.42 513.02 L104.43 511.68 L105.43 513.28 L106.43 512.47 L107.44 511.75 L108.44 513 L109.44 512.4 L110.45 512.36 L111.45 512.61 L112.45 513.04 L113.46 511.59 L114.46 513.11 L115.46 512.84 L116.47 511.35 L117.47 513.54 L118.47 512.58 L119.48 511.53 L120.48 513.38 L121.49 512.23 L122.49 512 L123.49 513.09 L124.5 512.62 L125.5 512.34 L126.5 512.57 L127.51 512.89 L128.51 511.66 L129.51 512.96 L130.52 512.21 L131.52 512.19 L132.53 513.24 L133.53 511.7 L134.53 512.8 L135.54 512.72 L136.54 511.79 L137.54 512.97 L138.55 512.52 L139.7 512.68" stroke="#9a9a9a" stroke-width="0.6" fill="none" stroke-linejoin="bevel"/>
<path d="M56.59 515.06 L57.64 512.42 L58.7 512.82 L59.85 511 L60.05 514.76 L61.06 513.18 L62.08 513.88 L63.09 512.58 L64.11 512.8 L65.12 512.77 L66.14 512.69 L67.25 511 L67.45 514.94 L69.46 512.41 L70.85 511 L71.05 514.87 L72.03 513.18 L73 513.22 L73.98 514.02 L75.05 511 L75.25 515.19 L76.22 514.82 L77.2 513.4 L78.17 512.33 L79.15 513.36 L80.12 512.86 L81.1 512.13 L82.08 512.52 L83.15 511 L83.35 514.7 L84.35 512.92 L85.36 513.94 L86.36 513.27 L87.36 511.48 L88.37 513.8 L89.37 512.31 L90.38 511.98 L91.38 513.38 L92.38 512.05 L93.39 512.51 L94.39 512.67 L95.39 512.72 L96.4 512.07 L97.4 512.89 L98.4 512.69 L99.41 511.84 L100.41 513.25 L101.41 511.87 L102.42 512.63 L103.42 513.02 L104.43 511.68 L105.43 513.28 L106.43 512.47 L107.44 511.75 L108.44 513 L109.44 512.4 L110.45 512.36 L111.45 512.61 L112.45 513.04 L113.46 511.59 L114.46 513.11 L115.46 512.84 L116.47 511.35 L117.47 513.54 L118.47 512.58 L119.48 511.53 L120.48 513.38 L121.49 512.23 L122.49 512 L123.49 513.09 L124.5 512.62 L125.5 512.34 L126.5 512.57 L127.51 512.89 L128.51 511.66 L129.51 512.96 L130.52 512.21 L131.52 512.19 L132.53 513.24 L133.53 511.7 L134.53 512.8 L135.54 512.72 L136.54 511.79 L137.54 512.97 L138.55 512.52 L139.7 512.68" stroke="#2a2a2a" stroke-width="0.75" fill="none" />
<rect x="153.61" y="467.8" width="102.74" height="40.7" fill="#e3e3e3"/>
<rect x="153.2" y="506.2" width="103.6" height="5" fill="#c0c0c0"/>
<path d="M153.2 508.75 L153.56 507 L153.61 468.2 L153.76 511.06 L154.76 508.44 L155.47 507 L155.52 467.92 L155.67 510.77 L156.58 508.09 L157.24 507 L157.29 467.96 L157.44 511.25 L158.18 508.55 L158.73 507 L158.78 468.14 L158.93 511.09 L160.09 508.95 L160.92 507 L160.97 468.31 L161.12 510.74 L161.91 508.56 L162.5 507 L162.55 468.38 L162.7 510.75 L163.64 508.7 L164.32 507 L164.37 468.19 L164.52 511.27 L165.37 508.56 L165.99 507 L166.04 468.24 L166.19 510.89 L167.16 508.94 L167.85 507 L167.9 468.14 L168.05 510.84 L169.04 508.64 L169.74 507 L169.79 468.21 L169.94 511.6 L170.72 508.64 L171.29 507 L171.34 468.11 L171.49 510.86 L172.63 508.43 L173.44 507 L173.49 467.97 L173.64 511.21 L174.46 508.86 L175.06 507 L175.11 468.16 L175.26 510.66 L176.3 508.04 L177.04 507 L177.09 468.33 L177.24 510.78 L178.18 508.69 L178.86 507 L178.91 468.37 L179.06 511.62 L179.96 508.55 L180.61 507 L180.66 468.35 L180.81 510.92 L181.59 508.94 L182.15 507 L182.2 468.21 L182.35 510.5 L183.43 508.81 L184.2 507 L184.25 467.9 L184.4 511.7 L185.27 508.05 L185.9 507 L185.95 468.25 L186.1 510.6 L187.15 508.54 L187.89 507 L187.94 468.02 L188.09 511.54 L189.02 508.27 L189.7 507 L189.75 468.23 L189.9 511.62 L190.77 508.06 L191.4 507 L191.45 468.23 L191.6 510.51 L192.6 508.78 L193.32 507 L193.37 468.31 L193.52 510.58 L194.28 508.88 L194.83 507 L194.88 468.06 L195.03 510.8 L196.17 508.97 L196.98 507 L197.03 468.03 L197.18 510.67 L198.16 508.33 L198.86 507 L198.91 468.34 L199.06 511.68 L199.97 508.46 L200.63 507 L200.68 468.1 L200.83 511.18 L201.74 508.84 L202.4 507 L202.45 467.81 L202.6 511.43 L203.41 508.97 L204 507 L204.05 468.04 L204.2 510.97 L205.29 508.96 L206.07 507 L206.12 468.04 L206.27 510.89 L207.09 508.86 L207.69 507 L207.74 468.08 L207.89 511.24 L208.72 508.29 L209.33 507 L209.38 468.21 L209.53 510.88 L210.56 508.78 L211.3 507 L211.35 468.1 L211.5 511.6 L212.52 508.55 L213.26 507 L213.31 468.31 L213.46 510.97 L214.34 508.67 L214.98 507 L215.03 467.96 L215.18 511.16 L216.16 508.66 L216.86 507 L216.91 467.91 L217.06 511.11 L217.76 508.92 L218.27 507 L218.32 467.92 L218.47 511.03 L219.68 508.84 L220.54 507 L220.59 468.06 L220.74 510.44 L221.66 508.53 L222.33 507 L222.38 468.08 L222.53 511.61 L223.34 508.66 L223.93 507 L223.98 468.27 L224.13 510.88 L225.19 508.9 L225.94 507 L225.99 468.3 L226.14 510.52 L226.85 508.66 L227.38 507 L227.43 468.34 L227.58 511.25 L228.57 508.97 L229.28 507 L229.33 467.96 L229.48 511.16 L230.35 508.53 L230.99 507 L231.04 467.98 L231.19 511.42 L232.27 508.43 L233.04 507 L233.09 468.19 L233.24 511.42 L234.25 508.73 L234.97 507 L235.02 467.86 L235.17 510.47 L236.11 508.82 L236.79 507 L236.84 468.19 L236.99 510.59 L237.67 508.13 L238.17 507 L238.22 468.1 L238.37 510.63 L239.51 508.93 L240.32 507 L240.37 467.93 L240.52 511.63 L241.39 508.72 L242.02 507 L242.07 468.13 L242.22 511.27 L243.06 508.69 L243.66 507 L243.71 467.97 L243.86 511.03 L245 508.07 L245.81 507 L245.86 467.83 L246.01 511.63 L246.83 508.85 L247.43 507 L247.48 468.25 L247.63 510.54 L248.42 508.62 L248.99 507 L249.04 468.23 L249.19 510.96 L250.23 508.38 L250.97 507 L251.02 468.24 L251.17 510.41 L252.19 508.47 L252.93 507 L252.98 467.95 L253.13 510.98 L254.11 508.55 L254.82 507 L254.87 468.05 L255.02 511.54 L255.76 508.88 L256.3 507 L256.35 468.26 L256.5 511.43 L256.62 508.5" stroke="#c9c9c9" stroke-width="0.6" fill="none" stroke-linejoin="bevel"/>
<rect x="37" y="551.1" width="19.1" height="53.9" fill="#acacff"/>
<rect x="37" y="603.8" width="19.1" height="4" fill="#6a6aff"/>
<path d="M37 604.7 L37.15 603.5 L37.2 551.5 L37.35 608.11 L38.6 604.89 L39.48 603.5 L39.53 551.42 L39.68 607.92 L40.92 605.08 L41.8 603.5 L41.85 551.38 L42 607.83 L43.24 605.21 L44.12 603.5 L44.17 551.58 L44.32 607.73 L45.57 605.16 L46.45 603.5 L46.5 551.22 L46.65 607.21 L47.9 605.31 L48.78 603.5 L48.83 551.23 L48.98 607.57 L50.22 605.38 L51.1 603.5 L51.15 551.19 L51.3 607.88 L52.54 604.75 L53.42 603.5 L53.47 551.48 L53.62 608.06 L54.87 605.32 L55.75 603.5 L55.8 551.57 L55.95 607.67 L55.98 605.04" stroke="#7a7aff" stroke-width="0.6" fill="none" stroke-linejoin="bevel"/>
<path d="M56.1 604 L57.65 603.79 L59.19 603.78 L60.73 604.24 L62.28 603.78 L63.82 604.41 L65.37 603.91 L66.91 604.31 L68.46 604.14 L70 604.2 L71.66 604.35 L73.33 604.51 L75.01 604.26 L76.66 604.69 L78.33 604.71 L80 604.6 L81.5 604.63 L83 604.59 L84.5 604.43 L86.01 604.81 L87.5 604.37 L89 604.24 L90.5 604.43 L92.01 604.65 L93.51 604.63 L95 604.3 L96.5 604.4 L98 604.32 L99.49 604.62 L101 604.54 L102.49 604.78 L103.99 604.83 L105.5 604.79 L106.99 605.03 L108.5 604.85 L110 604.8 L111.49 605.18 L113 605.01 L114.51 604.75 L116 605.09 L117.49 605.24 L119 605.05 L120.51 604.92 L122 605.1 L123.49 605.45 L125 605.3 L126.58 605.08 L128.16 604.92 L129.74 605.51 L131.32 605.55 L132.9 605.46 L134.48 605.39 L136.06 605.32 L137.64 605.18 L139.22 605.23 L140.8 605.1" stroke="#2a2ad8" stroke-width="0.9" fill="none" />
<line x1="110.1" y1="551" x2="110.1" y2="607.5" stroke="#3333ee" stroke-width="1.6" />
<rect x="153.42" y="550" width="102.85" height="50" fill="#bcd6f4"/>
<rect x="153" y="598.5" width="103.8" height="4.5" fill="#90b8ec"/>
<path d="M153 599.55 L153.37 598.5 L153.42 550.11 L153.57 602.86 L154.38 600.43 L154.97 598.5 L155.02 550.59 L155.17 603.16 L156.07 600.39 L156.72 598.5 L156.77 550.06 L156.92 602.86 L158.01 599.98 L158.78 598.5 L158.83 550.13 L158.98 602.93 L159.89 600.06 L160.54 598.5 L160.59 550.58 L160.74 602.29 L161.8 599.8 L162.55 598.5 L162.6 550.1 L162.75 602.49 L163.51 599.82 L164.07 598.5 L164.12 550.22 L164.27 603.44 L165.21 599.83 L165.88 598.5 L165.93 550.29 L166.08 602.42 L166.93 599.72 L167.55 598.5 L167.6 550.13 L167.75 602.94 L168.65 599.8 L169.3 598.5 L169.35 550.17 L169.5 602.88 L170.48 599.52 L171.17 598.5 L171.22 550.52 L171.37 602.27 L172.45 599.91 L173.21 598.5 L173.26 550.59 L173.41 602.42 L174.46 599.55 L175.21 598.5 L175.26 550.29 L175.41 603.02 L176.09 599.88 L176.59 598.5 L176.64 550.13 L176.79 603.1 L177.74 600.09 L178.43 598.5 L178.48 550.21 L178.63 603 L179.72 600.34 L180.5 598.5 L180.55 550.31 L180.7 602.7 L181.52 600.12 L182.12 598.5 L182.17 550.3 L182.32 602.33 L183.18 600.4 L183.8 598.5 L183.85 550.07 L184 603.17 L185.19 599.93 L186.03 598.5 L186.08 550.47 L186.23 602.88 L186.95 600.32 L187.47 598.5 L187.52 550.28 L187.67 602.52 L188.7 600.27 L189.43 598.5 L189.48 550.5 L189.63 602.85 L190.66 600.43 L191.4 598.5 L191.45 550.42 L191.6 603.41 L192.54 599.7 L193.22 598.5 L193.27 550.57 L193.42 603.2 L194.41 600.44 L195.12 598.5 L195.17 550.21 L195.32 602.92 L196.15 600.39 L196.75 598.5 L196.8 550.4 L196.95 602.58 L197.75 599.79 L198.34 598.5 L198.39 550.57 L198.54 603.07 L199.45 599.55 L200.11 598.5 L200.16 550.16 L200.31 602.92 L201.42 599.69 L202.21 598.5 L202.26 550.28 L202.41 603.07 L203.31 599.58 L203.96 598.5 L204.01 550.15 L204.16 603.34 L205.01 599.54 L205.63 598.5 L205.68 550.07 L205.83 603.27 L206.74 600.18 L207.4 598.5 L207.45 550.28 L207.6 603.32 L208.59 599.71 L209.3 598.5 L209.35 550 L209.5 603.26 L210.42 600.14 L211.08 598.5 L211.13 550.2 L211.28 602.95 L212.24 599.58 L212.92 598.5 L212.97 550.19 L213.12 602.94 L214.06 600.34 L214.73 598.5 L214.78 550.19 L214.93 602.28 L215.99 599.59 L216.74 598.5 L216.79 550.18 L216.94 603.01 L217.79 600.21 L218.41 598.5 L218.46 550.42 L218.61 603.34 L219.66 600.18 L220.41 598.5 L220.46 550.4 L220.61 602.97 L221.45 600.17 L222.05 598.5 L222.1 550.44 L222.25 603.47 L223.12 599.68 L223.76 598.5 L223.81 550.39 L223.96 602.36 L225.08 599.71 L225.88 598.5 L225.93 550.56 L226.08 602.73 L226.94 600.07 L227.56 598.5 L227.61 550.13 L227.76 602.86 L228.75 599.52 L229.46 598.5 L229.51 550.35 L229.66 603.44 L230.42 600.19 L230.97 598.5 L231.02 550.4 L231.17 602.92 L232.33 599.82 L233.15 598.5 L233.2 550.46 L233.35 602.71 L234.18 599.84 L234.79 598.5 L234.84 550.33 L234.99 603.47 L235.85 600.23 L236.47 598.5 L236.52 550.4 L236.67 602.37 L237.57 600.31 L238.22 598.5 L238.27 550.25 L238.42 603.02 L239.31 600.06 L239.95 598.5 L240 550.47 L240.15 602.24 L241.07 599.6 L241.73 598.5 L241.78 550.17 L241.93 602.46 L242.92 600.18 L243.62 598.5 L243.67 550.07 L243.82 602.32 L244.79 600.03 L245.49 598.5 L245.54 550.04 L245.69 603.23 L246.69 599.83 L247.41 598.5 L247.46 550.18 L247.61 602.98 L248.51 600.48 L249.16 598.5 L249.21 550.17 L249.36 602.49 L250.19 599.87 L250.79 598.5 L250.84 550.47 L250.99 603.41 L251.96 599.65 L252.65 598.5 L252.7 550.02 L252.85 602.6 L253.75 599.82 L254.4 598.5 L254.45 550.45 L254.6 603.08 L255.54 600.25 L256.22 598.5 L256.27 550.24 L256.42 602.76 L256.59 600.44 L256.8 599.55" stroke="#a8c8f0" stroke-width="0.6" fill="none" stroke-linejoin="bevel"/>
<text transform="translate(264.2 434.2) scale(1 1.05)" font-size="19.5" text-anchor="start" fill="#111" >F</text>
<text transform="translate(384.3 430.7) scale(1 1.05)" font-size="12.95" text-anchor="start" fill="#111" >Rat (6-8 month)</text>
<text transform="translate(356.8 450.7) scale(1 1.05)" font-size="12.8" text-anchor="middle" fill="#111" >L2/3 PC</text>
<line x1="300.5" y1="456.6" x2="300.5" y2="595.9" stroke="#000" stroke-width="1.5" />
<line x1="299.8" y1="595.2" x2="409.2" y2="595.2" stroke="#000" stroke-width="1.5" />
<line x1="296.5" y1="595.2" x2="300.5" y2="595.2" stroke="#000" stroke-width="1.2" />
<text transform="translate(295.1 599.1) scale(1 1.05)" font-size="11.3" text-anchor="end" fill="#111" >0</text>
<line x1="296.5" y1="549.23" x2="300.5" y2="549.23" stroke="#000" stroke-width="1.2" />
<text transform="translate(295.1 553.13) scale(1 1.05)" font-size="11.3" text-anchor="end" fill="#111" >5</text>
<line x1="296.5" y1="503.27" x2="300.5" y2="503.27" stroke="#000" stroke-width="1.2" />
<text transform="translate(295.1 507.17) scale(1 1.05)" font-size="11.3" text-anchor="end" fill="#111" >10</text>
<line x1="296.5" y1="457.3" x2="300.5" y2="457.3" stroke="#000" stroke-width="1.2" />
<text transform="translate(295.1 461.2) scale(1 1.05)" font-size="11.3" text-anchor="end" fill="#111" >15</text>
<line x1="300.5" y1="595.2" x2="300.5" y2="599.2" stroke="#000" stroke-width="1.2" />
<text transform="translate(300.5 611.6) scale(1 1.05)" font-size="11.3" text-anchor="middle" fill="#111" >0</text>
<line x1="322.1" y1="595.2" x2="322.1" y2="599.2" stroke="#000" stroke-width="1.2" />
<text transform="translate(322.1 611.6) scale(1 1.05)" font-size="11.3" text-anchor="middle" fill="#111" >2</text>
<line x1="343.7" y1="595.2" x2="343.7" y2="599.2" stroke="#000" stroke-width="1.2" />
<text transform="translate(343.7 611.6) scale(1 1.05)" font-size="11.3" text-anchor="middle" fill="#111" >4</text>
<line x1="365.3" y1="595.2" x2="365.3" y2="599.2" stroke="#000" stroke-width="1.2" />
<text transform="translate(365.3 611.6) scale(1 1.05)" font-size="11.3" text-anchor="middle" fill="#111" >6</text>
<line x1="386.9" y1="595.2" x2="386.9" y2="599.2" stroke="#000" stroke-width="1.2" />
<text transform="translate(386.9 611.6) scale(1 1.05)" font-size="11.3" text-anchor="middle" fill="#111" >8</text>
<line x1="408.5" y1="595.2" x2="408.5" y2="599.2" stroke="#000" stroke-width="1.2" />
<text transform="translate(408.5 611.6) scale(1 1.05)" font-size="11.3" text-anchor="middle" fill="#111" >10</text>
<text transform="translate(354.8 626.8) scale(1 1.05)" font-size="11.8" text-anchor="middle" fill="#111" >Time (s)</text>
<text transform="translate(274.6 525.75) rotate(-90) scale(1 1.05)" font-size="11.6" text-anchor="middle" fill="#111">AP frequency (Hz)</text>
<line x1="301.85" y1="555.42" x2="301.85" y2="521.5" stroke="#a2a2a2" stroke-width="1.15" />
<line x1="299.45" y1="521.5" x2="304.25" y2="521.5" stroke="#a2a2a2" stroke-width="1.15" />
<line x1="299.45" y1="555.42" x2="304.25" y2="555.42" stroke="#a2a2a2" stroke-width="1.15" />
<line x1="304.55" y1="551.44" x2="304.55" y2="524.89" stroke="#a2a2a2" stroke-width="1.15" />
<line x1="302.15" y1="524.89" x2="306.95" y2="524.89" stroke="#a2a2a2" stroke-width="1.15" />
<line x1="302.15" y1="551.44" x2="306.95" y2="551.44" stroke="#a2a2a2" stroke-width="1.15" />
<line x1="307.25" y1="552.18" x2="307.25" y2="525.7" stroke="#a2a2a2" stroke-width="1.15" />
<line x1="304.85" y1="525.7" x2="309.65" y2="525.7" stroke="#a2a2a2" stroke-width="1.15" />
<line x1="304.85" y1="552.18" x2="309.65" y2="552.18" stroke="#a2a2a2" stroke-width="1.15" />
<line x1="309.95" y1="549.59" x2="309.95" y2="522.56" stroke="#a2a2a2" stroke-width="1.15" />
<line x1="307.55" y1="522.56" x2="312.35" y2="522.56" stroke="#a2a2a2" stroke-width="1.15" />
<line x1="307.55" y1="549.59" x2="312.35" y2="549.59" stroke="#a2a2a2" stroke-width="1.15" />
<line x1="312.65" y1="549.24" x2="312.65" y2="512.23" stroke="#a2a2a2" stroke-width="1.15" />
<line x1="310.25" y1="512.23" x2="315.05" y2="512.23" stroke="#a2a2a2" stroke-width="1.15" />
<line x1="310.25" y1="549.24" x2="315.05" y2="549.24" stroke="#a2a2a2" stroke-width="1.15" />
<line x1="315.35" y1="552.7" x2="315.35" y2="520.53" stroke="#a2a2a2" stroke-width="1.15" />
<line x1="312.95" y1="520.53" x2="317.75" y2="520.53" stroke="#a2a2a2" stroke-width="1.15" />
<line x1="312.95" y1="552.7" x2="317.75" y2="552.7" stroke="#a2a2a2" stroke-width="1.15" />
<line x1="318.05" y1="550.68" x2="318.05" y2="522.14" stroke="#a2a2a2" stroke-width="1.15" />
<line x1="315.65" y1="522.14" x2="320.45" y2="522.14" stroke="#a2a2a2" stroke-width="1.15" />
<line x1="315.65" y1="550.68" x2="320.45" y2="550.68" stroke="#a2a2a2" stroke-width="1.15" />
<line x1="320.75" y1="558.55" x2="320.75" y2="515.63" stroke="#a2a2a2" stroke-width="1.15" />
<line x1="318.35" y1="515.63" x2="323.15" y2="515.63" stroke="#a2a2a2" stroke-width="1.15" />
<line x1="318.35" y1="558.55" x2="323.15" y2="558.55" stroke="#a2a2a2" stroke-width="1.15" />
<line x1="323.45" y1="546.11" x2="323.45" y2="506.46" stroke="#a2a2a2" stroke-width="1.15" />
<line x1="321.05" y1="506.46" x2="325.85" y2="506.46" stroke="#a2a2a2" stroke-width="1.15" />
<line x1="321.05" y1="546.11" x2="325.85" y2="546.11" stroke="#a2a2a2" stroke-width="1.15" />
<line x1="326.15" y1="551.89" x2="326.15" y2="506.89" stroke="#a2a2a2" stroke-width="1.15" />
<line x1="323.75" y1="506.89" x2="328.55" y2="506.89" stroke="#a2a2a2" stroke-width="1.15" />
<line x1="323.75" y1="551.89" x2="328.55" y2="551.89" stroke="#a2a2a2" stroke-width="1.15" />
<line x1="328.85" y1="547" x2="328.85" y2="518.95" stroke="#a2a2a2" stroke-width="1.15" />
<line x1="326.45" y1="518.95" x2="331.25" y2="518.95" stroke="#a2a2a2" stroke-width="1.15" />
<line x1="326.45" y1="547" x2="331.25" y2="547" stroke="#a2a2a2" stroke-width="1.15" />
<line x1="331.55" y1="552.15" x2="331.55" y2="512.28" stroke="#a2a2a2" stroke-width="1.15" />
<line x1="329.15" y1="512.28" x2="333.95" y2="512.28" stroke="#a2a2a2" stroke-width="1.15" />
<line x1="329.15" y1="552.15" x2="333.95" y2="552.15" stroke="#a2a2a2" stroke-width="1.15" />
<line x1="334.25" y1="552.43" x2="334.25" y2="521.75" stroke="#a2a2a2" stroke-width="1.15" />
<line x1="331.85" y1="521.75" x2="336.65" y2="521.75" stroke="#a2a2a2" stroke-width="1.15" />
<line x1="331.85" y1="552.43" x2="336.65" y2="552.43" stroke="#a2a2a2" stroke-width="1.15" />
<line x1="336.95" y1="553.17" x2="336.95" y2="516.52" stroke="#a2a2a2" stroke-width="1.15" />
<line x1="334.55" y1="516.52" x2="339.35" y2="516.52" stroke="#a2a2a2" stroke-width="1.15" />
<line x1="334.55" y1="553.17" x2="339.35" y2="553.17" stroke="#a2a2a2" stroke-width="1.15" />
<line x1="339.65" y1="551" x2="339.65" y2="515.61" stroke="#a2a2a2" stroke-width="1.15" />
<line x1="337.25" y1="515.61" x2="342.05" y2="515.61" stroke="#a2a2a2" stroke-width="1.15" />
<line x1="337.25" y1="551" x2="342.05" y2="551" stroke="#a2a2a2" stroke-width="1.15" />
<line x1="342.35" y1="552.86" x2="342.35" y2="513.95" stroke="#a2a2a2" stroke-width="1.15" />
<line x1="339.95" y1="513.95" x2="344.75" y2="513.95" stroke="#a2a2a2" stroke-width="1.15" />
<line x1="339.95" y1="552.86" x2="344.75" y2="552.86" stroke="#a2a2a2" stroke-width="1.15" />
<line x1="345.05" y1="555.99" x2="345.05" y2="517.41" stroke="#a2a2a2" stroke-width="1.15" />
<line x1="342.65" y1="517.41" x2="347.45" y2="517.41" stroke="#a2a2a2" stroke-width="1.15" />
<line x1="342.65" y1="555.99" x2="347.45" y2="555.99" stroke="#a2a2a2" stroke-width="1.15" />
<line x1="347.75" y1="559.96" x2="347.75" y2="512.42" stroke="#a2a2a2" stroke-width="1.15" />
<line x1="345.35" y1="512.42" x2="350.15" y2="512.42" stroke="#a2a2a2" stroke-width="1.15" />
<line x1="345.35" y1="559.96" x2="350.15" y2="559.96" stroke="#a2a2a2" stroke-width="1.15" />
<line x1="350.45" y1="551.27" x2="350.45" y2="511.3" stroke="#a2a2a2" stroke-width="1.15" />
<line x1="348.05" y1="511.3" x2="352.85" y2="511.3" stroke="#a2a2a2" stroke-width="1.15" />
<line x1="348.05" y1="551.27" x2="352.85" y2="551.27" stroke="#a2a2a2" stroke-width="1.15" />
<line x1="353.15" y1="548.27" x2="353.15" y2="515.31" stroke="#a2a2a2" stroke-width="1.15" />
<line x1="350.75" y1="515.31" x2="355.55" y2="515.31" stroke="#a2a2a2" stroke-width="1.15" />
<line x1="350.75" y1="548.27" x2="355.55" y2="548.27" stroke="#a2a2a2" stroke-width="1.15" />
<line x1="355.85" y1="562.89" x2="355.85" y2="518.54" stroke="#a2a2a2" stroke-width="1.15" />
<line x1="353.45" y1="518.54" x2="358.25" y2="518.54" stroke="#a2a2a2" stroke-width="1.15" />
<line x1="353.45" y1="562.89" x2="358.25" y2="562.89" stroke="#a2a2a2" stroke-width="1.15" />
<line x1="358.55" y1="547.41" x2="358.55" y2="519.36" stroke="#a2a2a2" stroke-width="1.15" />
<line x1="356.15" y1="519.36" x2="360.95" y2="519.36" stroke="#a2a2a2" stroke-width="1.15" />
<line x1="356.15" y1="547.41" x2="360.95" y2="547.41" stroke="#a2a2a2" stroke-width="1.15" />
<line x1="361.25" y1="551.68" x2="361.25" y2="507.81" stroke="#a2a2a2" stroke-width="1.15" />
<line x1="358.85" y1="507.81" x2="363.65" y2="507.81" stroke="#a2a2a2" stroke-width="1.15" />
<line x1="358.85" y1="551.68" x2="363.65" y2="551.68" stroke="#a2a2a2" stroke-width="1.15" />
<line x1="363.95" y1="556.65" x2="363.95" y2="517.9" stroke="#a2a2a2" stroke-width="1.15" />
<line x1="361.55" y1="517.9" x2="366.35" y2="517.9" stroke="#a2a2a2" stroke-width="1.15" />
<line x1="361.55" y1="556.65" x2="366.35" y2="556.65" stroke="#a2a2a2" stroke-width="1.15" />
<line x1="366.65" y1="549.99" x2="366.65" y2="519.39" stroke="#a2a2a2" stroke-width="1.15" />
<line x1="364.25" y1="519.39" x2="369.05" y2="519.39" stroke="#a2a2a2" stroke-width="1.15" />
<line x1="364.25" y1="549.99" x2="369.05" y2="549.99" stroke="#a2a2a2" stroke-width="1.15" />
<line x1="369.35" y1="563.05" x2="369.35" y2="519.78" stroke="#a2a2a2" stroke-width="1.15" />
<line x1="366.95" y1="519.78" x2="371.75" y2="519.78" stroke="#a2a2a2" stroke-width="1.15" />
<line x1="366.95" y1="563.05" x2="371.75" y2="563.05" stroke="#a2a2a2" stroke-width="1.15" />
<line x1="372.05" y1="547.2" x2="372.05" y2="520.36" stroke="#a2a2a2" stroke-width="1.15" />
<line x1="369.65" y1="520.36" x2="374.45" y2="520.36" stroke="#a2a2a2" stroke-width="1.15" />
<line x1="369.65" y1="547.2" x2="374.45" y2="547.2" stroke="#a2a2a2" stroke-width="1.15" />
<line x1="374.75" y1="553.83" x2="374.75" y2="529.01" stroke="#a2a2a2" stroke-width="1.15" />
<line x1="372.35" y1="529.01" x2="377.15" y2="529.01" stroke="#a2a2a2" stroke-width="1.15" />
<line x1="372.35" y1="553.83" x2="377.15" y2="553.83" stroke="#a2a2a2" stroke-width="1.15" />
<line x1="377.45" y1="557.97" x2="377.45" y2="527.07" stroke="#a2a2a2" stroke-width="1.15" />
<line x1="375.05" y1="527.07" x2="379.85" y2="527.07" stroke="#a2a2a2" stroke-width="1.15" />
<line x1="375.05" y1="557.97" x2="379.85" y2="557.97" stroke="#a2a2a2" stroke-width="1.15" />
<line x1="380.15" y1="558.21" x2="380.15" y2="521.32" stroke="#a2a2a2" stroke-width="1.15" />
<line x1="377.75" y1="521.32" x2="382.55" y2="521.32" stroke="#a2a2a2" stroke-width="1.15" />
<line x1="377.75" y1="558.21" x2="382.55" y2="558.21" stroke="#a2a2a2" stroke-width="1.15" />
<line x1="382.85" y1="550.75" x2="382.85" y2="510.62" stroke="#a2a2a2" stroke-width="1.15" />
<line x1="380.45" y1="510.62" x2="385.25" y2="510.62" stroke="#a2a2a2" stroke-width="1.15" />
<line x1="380.45" y1="550.75" x2="385.25" y2="550.75" stroke="#a2a2a2" stroke-width="1.15" />
<line x1="385.55" y1="558.05" x2="385.55" y2="526.05" stroke="#a2a2a2" stroke-width="1.15" />
<line x1="383.15" y1="526.05" x2="387.95" y2="526.05" stroke="#a2a2a2" stroke-width="1.15" />
<line x1="383.15" y1="558.05" x2="387.95" y2="558.05" stroke="#a2a2a2" stroke-width="1.15" />
<line x1="388.25" y1="564.39" x2="388.25" y2="525.59" stroke="#a2a2a2" stroke-width="1.15" />
<line x1="385.85" y1="525.59" x2="390.65" y2="525.59" stroke="#a2a2a2" stroke-width="1.15" />
<line x1="385.85" y1="564.39" x2="390.65" y2="564.39" stroke="#a2a2a2" stroke-width="1.15" />
<line x1="390.95" y1="563.92" x2="390.95" y2="514.78" stroke="#a2a2a2" stroke-width="1.15" />
<line x1="388.55" y1="514.78" x2="393.35" y2="514.78" stroke="#a2a2a2" stroke-width="1.15" />
<line x1="388.55" y1="563.92" x2="393.35" y2="563.92" stroke="#a2a2a2" stroke-width="1.15" />
<line x1="393.65" y1="565.57" x2="393.65" y2="515.96" stroke="#a2a2a2" stroke-width="1.15" />
<line x1="391.25" y1="515.96" x2="396.05" y2="515.96" stroke="#a2a2a2" stroke-width="1.15" />
<line x1="391.25" y1="565.57" x2="396.05" y2="565.57" stroke="#a2a2a2" stroke-width="1.15" />
<line x1="396.35" y1="557.41" x2="396.35" y2="514.95" stroke="#a2a2a2" stroke-width="1.15" />
<line x1="393.95" y1="514.95" x2="398.75" y2="514.95" stroke="#a2a2a2" stroke-width="1.15" />
<line x1="393.95" y1="557.41" x2="398.75" y2="557.41" stroke="#a2a2a2" stroke-width="1.15" />
<line x1="399.05" y1="563.15" x2="399.05" y2="531.47" stroke="#a2a2a2" stroke-width="1.15" />
<line x1="396.65" y1="531.47" x2="401.45" y2="531.47" stroke="#a2a2a2" stroke-width="1.15" />
<line x1="396.65" y1="563.15" x2="401.45" y2="563.15" stroke="#a2a2a2" stroke-width="1.15" />
<line x1="401.75" y1="567.15" x2="401.75" y2="530.97" stroke="#a2a2a2" stroke-width="1.15" />
<line x1="399.35" y1="530.97" x2="404.15" y2="530.97" stroke="#a2a2a2" stroke-width="1.15" />
<line x1="399.35" y1="567.15" x2="404.15" y2="567.15" stroke="#a2a2a2" stroke-width="1.15" />
<line x1="404.45" y1="567.37" x2="404.45" y2="522.67" stroke="#a2a2a2" stroke-width="1.15" />
<line x1="402.05" y1="522.67" x2="406.85" y2="522.67" stroke="#a2a2a2" stroke-width="1.15" />
<line x1="402.05" y1="567.37" x2="406.85" y2="567.37" stroke="#a2a2a2" stroke-width="1.15" />
<line x1="407.15" y1="566.47" x2="407.15" y2="519.73" stroke="#a2a2a2" stroke-width="1.15" />
<line x1="404.75" y1="519.73" x2="409.55" y2="519.73" stroke="#a2a2a2" stroke-width="1.15" />
<line x1="404.75" y1="566.47" x2="409.55" y2="566.47" stroke="#a2a2a2" stroke-width="1.15" />
<path d="M301.85 538.46 L304.55 538.17 L307.25 538.94 L309.95 536.08 L312.65 530.74 L315.35 536.62 L318.05 536.41 L320.75 537.09 L323.45 526.29 L326.15 529.39 L328.85 532.98 L331.55 532.21 L334.25 537.09 L336.95 534.85 L339.65 533.31 L342.35 533.41 L345.05 536.7 L347.75 536.19 L350.45 531.29 L353.15 531.79 L355.85 540.71 L358.55 533.39 L361.25 529.74 L363.95 537.27 L366.65 534.69 L369.35 541.42 L372.05 533.78 L374.75 541.42 L377.45 542.52 L380.15 539.76 L382.85 530.69 L385.55 542.05 L388.25 544.99 L390.95 539.35 L393.65 540.76 L396.35 536.18 L399.05 547.31 L401.75 549.06 L404.45 545.02 L407.15 543.1" stroke="#a2a2a2" stroke-width="1.3" fill="none" />
<rect x="300.65" y="537.26" width="2.4" height="2.4" fill="#eee" stroke="#a2a2a2" stroke-width="0.8"/>
<rect x="303.35" y="536.97" width="2.4" height="2.4" fill="#eee" stroke="#a2a2a2" stroke-width="0.8"/>
<rect x="306.05" y="537.74" width="2.4" height="2.4" fill="#eee" stroke="#a2a2a2" stroke-width="0.8"/>
<rect x="308.75" y="534.88" width="2.4" height="2.4" fill="#eee" stroke="#a2a2a2" stroke-width="0.8"/>
<rect x="311.45" y="529.54" width="2.4" height="2.4" fill="#eee" stroke="#a2a2a2" stroke-width="0.8"/>
<rect x="314.15" y="535.42" width="2.4" height="2.4" fill="#eee" stroke="#a2a2a2" stroke-width="0.8"/>
<rect x="316.85" y="535.21" width="2.4" height="2.4" fill="#eee" stroke="#a2a2a2" stroke-width="0.8"/>
<rect x="319.55" y="535.89" width="2.4" height="2.4" fill="#eee" stroke="#a2a2a2" stroke-width="0.8"/>
<rect x="322.25" y="525.09" width="2.4" height="2.4" fill="#eee" stroke="#a2a2a2" stroke-width="0.8"/>
<rect x="324.95" y="528.19" width="2.4" height="2.4" fill="#eee" stroke="#a2a2a2" stroke-width="0.8"/>
<rect x="327.65" y="531.78" width="2.4" height="2.4" fill="#eee" stroke="#a2a2a2" stroke-width="0.8"/>
<rect x="330.35" y="531.01" width="2.4" height="2.4" fill="#eee" stroke="#a2a2a2" stroke-width="0.8"/>
<rect x="333.05" y="535.89" width="2.4" height="2.4" fill="#eee" stroke="#a2a2a2" stroke-width="0.8"/>
<rect x="335.75" y="533.65" width="2.4" height="2.4" fill="#eee" stroke="#a2a2a2" stroke-width="0.8"/>
<rect x="338.45" y="532.11" width="2.4" height="2.4" fill="#eee" stroke="#a2a2a2" stroke-width="0.8"/>
<rect x="341.15" y="532.21" width="2.4" height="2.4" fill="#eee" stroke="#a2a2a2" stroke-width="0.8"/>
<rect x="343.85" y="535.5" width="2.4" height="2.4" fill="#eee" stroke="#a2a2a2" stroke-width="0.8"/>
<rect x="346.55" y="534.99" width="2.4" height="2.4" fill="#eee" stroke="#a2a2a2" stroke-width="0.8"/>
<rect x="349.25" y="530.09" width="2.4" height="2.4" fill="#eee" stroke="#a2a2a2" stroke-width="0.8"/>
<rect x="351.95" y="530.59" width="2.4" height="2.4" fill="#eee" stroke="#a2a2a2" stroke-width="0.8"/>
<rect x="354.65" y="539.51" width="2.4" height="2.4" fill="#eee" stroke="#a2a2a2" stroke-width="0.8"/>
<rect x="357.35" y="532.19" width="2.4" height="2.4" fill="#eee" stroke="#a2a2a2" stroke-width="0.8"/>
<rect x="360.05" y="528.54" width="2.4" height="2.4" fill="#eee" stroke="#a2a2a2" stroke-width="0.8"/>
<rect x="362.75" y="536.07" width="2.4" height="2.4" fill="#eee" stroke="#a2a2a2" stroke-width="0.8"/>
<rect x="365.45" y="533.49" width="2.4" height="2.4" fill="#eee" stroke="#a2a2a2" stroke-width="0.8"/>
<rect x="368.15" y="540.22" width="2.4" height="2.4" fill="#eee" stroke="#a2a2a2" stroke-width="0.8"/>
<rect x="370.85" y="532.58" width="2.4" height="2.4" fill="#eee" stroke="#a2a2a2" stroke-width="0.8"/>
<rect x="373.55" y="540.22" width="2.4" height="2.4" fill="#eee" stroke="#a2a2a2" stroke-width="0.8"/>
<rect x="376.25" y="541.32" width="2.4" height="2.4" fill="#eee" stroke="#a2a2a2" stroke-width="0.8"/>
<rect x="378.95" y="538.56" width="2.4" height="2.4" fill="#eee" stroke="#a2a2a2" stroke-width="0.8"/>
<rect x="381.65" y="529.49" width="2.4" height="2.4" fill="#eee" stroke="#a2a2a2" stroke-width="0.8"/>
<rect x="384.35" y="540.85" width="2.4" height="2.4" fill="#eee" stroke="#a2a2a2" stroke-width="0.8"/>
<rect x="387.05" y="543.79" width="2.4" height="2.4" fill="#eee" stroke="#a2a2a2" stroke-width="0.8"/>
<rect x="389.75" y="538.15" width="2.4" height="2.4" fill="#eee" stroke="#a2a2a2" stroke-width="0.8"/>
<rect x="392.45" y="539.56" width="2.4" height="2.4" fill="#eee" stroke="#a2a2a2" stroke-width="0.8"/>
<rect x="395.15" y="534.98" width="2.4" height="2.4" fill="#eee" stroke="#a2a2a2" stroke-width="0.8"/>
<rect x="397.85" y="546.11" width="2.4" height="2.4" fill="#eee" stroke="#a2a2a2" stroke-width="0.8"/>
<rect x="400.55" y="547.86" width="2.4" height="2.4" fill="#eee" stroke="#a2a2a2" stroke-width="0.8"/>
<rect x="403.25" y="543.82" width="2.4" height="2.4" fill="#eee" stroke="#a2a2a2" stroke-width="0.8"/>
<rect x="405.95" y="541.9" width="2.4" height="2.4" fill="#eee" stroke="#a2a2a2" stroke-width="0.8"/>
<line x1="301.85" y1="564.25" x2="301.85" y2="539.55" stroke="#000" stroke-width="1.15" />
<line x1="299.45" y1="539.55" x2="304.25" y2="539.55" stroke="#000" stroke-width="1.15" />
<line x1="299.45" y1="564.25" x2="304.25" y2="564.25" stroke="#000" stroke-width="1.15" />
<line x1="304.55" y1="561.1" x2="304.55" y2="544.37" stroke="#000" stroke-width="1.15" />
<line x1="302.15" y1="544.37" x2="306.95" y2="544.37" stroke="#000" stroke-width="1.15" />
<line x1="302.15" y1="561.1" x2="306.95" y2="561.1" stroke="#000" stroke-width="1.15" />
<line x1="307.25" y1="564.29" x2="307.25" y2="539.65" stroke="#000" stroke-width="1.15" />
<line x1="304.85" y1="539.65" x2="309.65" y2="539.65" stroke="#000" stroke-width="1.15" />
<line x1="304.85" y1="564.29" x2="309.65" y2="564.29" stroke="#000" stroke-width="1.15" />
<line x1="309.95" y1="566.61" x2="309.95" y2="549.47" stroke="#000" stroke-width="1.15" />
<line x1="307.55" y1="549.47" x2="312.35" y2="549.47" stroke="#000" stroke-width="1.15" />
<line x1="307.55" y1="566.61" x2="312.35" y2="566.61" stroke="#000" stroke-width="1.15" />
<line x1="312.65" y1="577.21" x2="312.65" y2="565.15" stroke="#000" stroke-width="1.15" />
<line x1="310.25" y1="565.15" x2="315.05" y2="565.15" stroke="#000" stroke-width="1.15" />
<line x1="310.25" y1="577.21" x2="315.05" y2="577.21" stroke="#000" stroke-width="1.15" />
<line x1="315.35" y1="582.1" x2="315.35" y2="563.2" stroke="#000" stroke-width="1.15" />
<line x1="312.95" y1="563.2" x2="317.75" y2="563.2" stroke="#000" stroke-width="1.15" />
<line x1="312.95" y1="582.1" x2="317.75" y2="582.1" stroke="#000" stroke-width="1.15" />
<line x1="318.05" y1="585.85" x2="318.05" y2="566.92" stroke="#000" stroke-width="1.15" />
<line x1="315.65" y1="566.92" x2="320.45" y2="566.92" stroke="#000" stroke-width="1.15" />
<line x1="315.65" y1="585.85" x2="320.45" y2="585.85" stroke="#000" stroke-width="1.15" />
<line x1="320.75" y1="589.31" x2="320.75" y2="576.11" stroke="#000" stroke-width="1.15" />
<line x1="318.35" y1="576.11" x2="323.15" y2="576.11" stroke="#000" stroke-width="1.15" />
<line x1="318.35" y1="589.31" x2="323.15" y2="589.31" stroke="#000" stroke-width="1.15" />
<line x1="323.45" y1="587.5" x2="323.45" y2="577.06" stroke="#000" stroke-width="1.15" />
<line x1="321.05" y1="577.06" x2="325.85" y2="577.06" stroke="#000" stroke-width="1.15" />
<line x1="321.05" y1="587.5" x2="325.85" y2="587.5" stroke="#000" stroke-width="1.15" />
<line x1="326.15" y1="594.24" x2="326.15" y2="578.57" stroke="#000" stroke-width="1.15" />
<line x1="323.75" y1="578.57" x2="328.55" y2="578.57" stroke="#000" stroke-width="1.15" />
<line x1="323.75" y1="594.24" x2="328.55" y2="594.24" stroke="#000" stroke-width="1.15" />
<line x1="328.85" y1="593.76" x2="328.85" y2="585.72" stroke="#000" stroke-width="1.15" />
<line x1="326.45" y1="585.72" x2="331.25" y2="585.72" stroke="#000" stroke-width="1.15" />
<line x1="326.45" y1="593.76" x2="331.25" y2="593.76" stroke="#000" stroke-width="1.15" />
<line x1="331.55" y1="595.2" x2="331.55" y2="589.14" stroke="#000" stroke-width="1.15" />
<line x1="329.15" y1="589.14" x2="333.95" y2="589.14" stroke="#000" stroke-width="1.15" />
<line x1="329.15" y1="595.2" x2="333.95" y2="595.2" stroke="#000" stroke-width="1.15" />
<line x1="334.25" y1="595.2" x2="334.25" y2="589.38" stroke="#000" stroke-width="1.15" />
<line x1="331.85" y1="589.38" x2="336.65" y2="589.38" stroke="#000" stroke-width="1.15" />
<line x1="331.85" y1="595.2" x2="336.65" y2="595.2" stroke="#000" stroke-width="1.15" />
<line x1="336.95" y1="593.52" x2="336.95" y2="587.27" stroke="#000" stroke-width="1.15" />
<line x1="334.55" y1="587.27" x2="339.35" y2="587.27" stroke="#000" stroke-width="1.15" />
<line x1="334.55" y1="593.52" x2="339.35" y2="593.52" stroke="#000" stroke-width="1.15" />
<line x1="339.65" y1="595.2" x2="339.65" y2="589.36" stroke="#000" stroke-width="1.15" />
<line x1="337.25" y1="589.36" x2="342.05" y2="589.36" stroke="#000" stroke-width="1.15" />
<line x1="337.25" y1="595.2" x2="342.05" y2="595.2" stroke="#000" stroke-width="1.15" />
<line x1="342.35" y1="595.2" x2="342.35" y2="586.69" stroke="#000" stroke-width="1.15" />
<line x1="339.95" y1="586.69" x2="344.75" y2="586.69" stroke="#000" stroke-width="1.15" />
<line x1="339.95" y1="595.2" x2="344.75" y2="595.2" stroke="#000" stroke-width="1.15" />
<line x1="345.05" y1="595.2" x2="345.05" y2="591.41" stroke="#000" stroke-width="1.15" />
<line x1="342.65" y1="591.41" x2="347.45" y2="591.41" stroke="#000" stroke-width="1.15" />
<line x1="342.65" y1="595.2" x2="347.45" y2="595.2" stroke="#000" stroke-width="1.15" />
<line x1="347.75" y1="595.2" x2="347.75" y2="588.48" stroke="#000" stroke-width="1.15" />
<line x1="345.35" y1="588.48" x2="350.15" y2="588.48" stroke="#000" stroke-width="1.15" />
<line x1="345.35" y1="595.2" x2="350.15" y2="595.2" stroke="#000" stroke-width="1.15" />
<line x1="350.45" y1="595.2" x2="350.45" y2="589.34" stroke="#000" stroke-width="1.15" />
<line x1="348.05" y1="589.34" x2="352.85" y2="589.34" stroke="#000" stroke-width="1.15" />
<line x1="348.05" y1="595.2" x2="352.85" y2="595.2" stroke="#000" stroke-width="1.15" />
<line x1="353.15" y1="595.2" x2="353.15" y2="592.08" stroke="#000" stroke-width="1.15" />
<line x1="350.75" y1="592.08" x2="355.55" y2="592.08" stroke="#000" stroke-width="1.15" />
<line x1="350.75" y1="595.2" x2="355.55" y2="595.2" stroke="#000" stroke-width="1.15" />
<line x1="355.85" y1="595.2" x2="355.85" y2="591.83" stroke="#000" stroke-width="1.15" />
<line x1="353.45" y1="591.83" x2="358.25" y2="591.83" stroke="#000" stroke-width="1.15" />
<line x1="353.45" y1="595.2" x2="358.25" y2="595.2" stroke="#000" stroke-width="1.15" />
<line x1="358.55" y1="595.02" x2="358.55" y2="587.69" stroke="#000" stroke-width="1.15" />
<line x1="356.15" y1="587.69" x2="360.95" y2="587.69" stroke="#000" stroke-width="1.15" />
<line x1="356.15" y1="595.02" x2="360.95" y2="595.02" stroke="#000" stroke-width="1.15" />
<line x1="361.25" y1="595.16" x2="361.25" y2="588.15" stroke="#000" stroke-width="1.15" />
<line x1="358.85" y1="588.15" x2="363.65" y2="588.15" stroke="#000" stroke-width="1.15" />
<line x1="358.85" y1="595.16" x2="363.65" y2="595.16" stroke="#000" stroke-width="1.15" />
<line x1="363.95" y1="595.2" x2="363.95" y2="590.57" stroke="#000" stroke-width="1.15" />
<line x1="361.55" y1="590.57" x2="366.35" y2="590.57" stroke="#000" stroke-width="1.15" />
<line x1="361.55" y1="595.2" x2="366.35" y2="595.2" stroke="#000" stroke-width="1.15" />
<line x1="366.65" y1="594.61" x2="366.65" y2="588.68" stroke="#000" stroke-width="1.15" />
<line x1="364.25" y1="588.68" x2="369.05" y2="588.68" stroke="#000" stroke-width="1.15" />
<line x1="364.25" y1="594.61" x2="369.05" y2="594.61" stroke="#000" stroke-width="1.15" />
<line x1="369.35" y1="594.63" x2="369.35" y2="585.45" stroke="#000" stroke-width="1.15" />
<line x1="366.95" y1="585.45" x2="371.75" y2="585.45" stroke="#000" stroke-width="1.15" />
<line x1="366.95" y1="594.63" x2="371.75" y2="594.63" stroke="#000" stroke-width="1.15" />
<line x1="372.05" y1="591.89" x2="372.05" y2="583.52" stroke="#000" stroke-width="1.15" />
<line x1="369.65" y1="583.52" x2="374.45" y2="583.52" stroke="#000" stroke-width="1.15" />
<line x1="369.65" y1="591.89" x2="374.45" y2="591.89" stroke="#000" stroke-width="1.15" />
<line x1="374.75" y1="595.2" x2="374.75" y2="588.31" stroke="#000" stroke-width="1.15" />
<line x1="372.35" y1="588.31" x2="377.15" y2="588.31" stroke="#000" stroke-width="1.15" />
<line x1="372.35" y1="595.2" x2="377.15" y2="595.2" stroke="#000" stroke-width="1.15" />
<line x1="377.45" y1="594.27" x2="377.45" y2="584.13" stroke="#000" stroke-width="1.15" />
<line x1="375.05" y1="584.13" x2="379.85" y2="584.13" stroke="#000" stroke-width="1.15" />
<line x1="375.05" y1="594.27" x2="379.85" y2="594.27" stroke="#000" stroke-width="1.15" />
<line x1="380.15" y1="589.35" x2="380.15" y2="582.26" stroke="#000" stroke-width="1.15" />
<line x1="377.75" y1="582.26" x2="382.55" y2="582.26" stroke="#000" stroke-width="1.15" />
<line x1="377.75" y1="589.35" x2="382.55" y2="589.35" stroke="#000" stroke-width="1.15" />
<line x1="382.85" y1="593.07" x2="382.85" y2="584.56" stroke="#000" stroke-width="1.15" />
<line x1="380.45" y1="584.56" x2="385.25" y2="584.56" stroke="#000" stroke-width="1.15" />
<line x1="380.45" y1="593.07" x2="385.25" y2="593.07" stroke="#000" stroke-width="1.15" />
<line x1="385.55" y1="592.14" x2="385.55" y2="579.06" stroke="#000" stroke-width="1.15" />
<line x1="383.15" y1="579.06" x2="387.95" y2="579.06" stroke="#000" stroke-width="1.15" />
<line x1="383.15" y1="592.14" x2="387.95" y2="592.14" stroke="#000" stroke-width="1.15" />
<line x1="388.25" y1="595.2" x2="388.25" y2="583.87" stroke="#000" stroke-width="1.15" />
<line x1="385.85" y1="583.87" x2="390.65" y2="583.87" stroke="#000" stroke-width="1.15" />
<line x1="385.85" y1="595.2" x2="390.65" y2="595.2" stroke="#000" stroke-width="1.15" />
<line x1="390.95" y1="587.02" x2="390.95" y2="569.77" stroke="#000" stroke-width="1.15" />
<line x1="388.55" y1="569.77" x2="393.35" y2="569.77" stroke="#000" stroke-width="1.15" />
<line x1="388.55" y1="587.02" x2="393.35" y2="587.02" stroke="#000" stroke-width="1.15" />
<line x1="393.65" y1="590.74" x2="393.65" y2="565.95" stroke="#000" stroke-width="1.15" />
<line x1="391.25" y1="565.95" x2="396.05" y2="565.95" stroke="#000" stroke-width="1.15" />
<line x1="391.25" y1="590.74" x2="396.05" y2="590.74" stroke="#000" stroke-width="1.15" />
<line x1="396.35" y1="594.9" x2="396.35" y2="566.98" stroke="#000" stroke-width="1.15" />
<line x1="393.95" y1="566.98" x2="398.75" y2="566.98" stroke="#000" stroke-width="1.15" />
<line x1="393.95" y1="594.9" x2="398.75" y2="594.9" stroke="#000" stroke-width="1.15" />
<line x1="399.05" y1="588.73" x2="399.05" y2="562.04" stroke="#000" stroke-width="1.15" />
<line x1="396.65" y1="562.04" x2="401.45" y2="562.04" stroke="#000" stroke-width="1.15" />
<line x1="396.65" y1="588.73" x2="401.45" y2="588.73" stroke="#000" stroke-width="1.15" />
<line x1="401.75" y1="586.8" x2="401.75" y2="561.46" stroke="#000" stroke-width="1.15" />
<line x1="399.35" y1="561.46" x2="404.15" y2="561.46" stroke="#000" stroke-width="1.15" />
<line x1="399.35" y1="586.8" x2="404.15" y2="586.8" stroke="#000" stroke-width="1.15" />
<line x1="404.45" y1="583.48" x2="404.45" y2="562.68" stroke="#000" stroke-width="1.15" />
<line x1="402.05" y1="562.68" x2="406.85" y2="562.68" stroke="#000" stroke-width="1.15" />
<line x1="402.05" y1="583.48" x2="406.85" y2="583.48" stroke="#000" stroke-width="1.15" />
<line x1="407.15" y1="584.87" x2="407.15" y2="559.79" stroke="#000" stroke-width="1.15" />
<line x1="404.75" y1="559.79" x2="409.55" y2="559.79" stroke="#000" stroke-width="1.15" />
<line x1="404.75" y1="584.87" x2="409.55" y2="584.87" stroke="#000" stroke-width="1.15" />
<path d="M301.85 551.9 L304.55 552.73 L307.25 551.97 L309.95 558.04 L312.65 571.18 L315.35 572.65 L318.05 576.39 L320.75 582.71 L323.45 582.28 L326.15 586.41 L328.85 589.74 L331.55 592.75 L334.25 593.11 L336.95 590.4 L339.65 592.35 L342.35 591.31 L345.05 593.87 L347.75 592.69 L350.45 592.75 L353.15 594.28 L355.85 594.28 L358.55 591.36 L361.25 591.66 L363.95 593.37 L366.65 591.64 L369.35 590.04 L372.05 587.7 L374.75 592.37 L377.45 589.2 L380.15 585.81 L382.85 588.81 L385.55 585.6 L388.25 590.26 L390.95 578.39 L393.65 578.34 L396.35 580.94 L399.05 575.39 L401.75 574.13 L404.45 573.08 L407.15 572.33" stroke="#000" stroke-width="1.3" fill="none" />
<rect x="300.65" y="550.7" width="2.4" height="2.4" fill="#fff" stroke="#000" stroke-width="0.8"/>
<rect x="303.35" y="551.53" width="2.4" height="2.4" fill="#fff" stroke="#000" stroke-width="0.8"/>
<rect x="306.05" y="550.77" width="2.4" height="2.4" fill="#fff" stroke="#000" stroke-width="0.8"/>
<rect x="308.75" y="556.84" width="2.4" height="2.4" fill="#fff" stroke="#000" stroke-width="0.8"/>
<rect x="311.45" y="569.98" width="2.4" height="2.4" fill="#fff" stroke="#000" stroke-width="0.8"/>
<rect x="314.15" y="571.45" width="2.4" height="2.4" fill="#fff" stroke="#000" stroke-width="0.8"/>
<rect x="316.85" y="575.19" width="2.4" height="2.4" fill="#fff" stroke="#000" stroke-width="0.8"/>
<rect x="319.55" y="581.51" width="2.4" height="2.4" fill="#fff" stroke="#000" stroke-width="0.8"/>
<rect x="322.25" y="581.08" width="2.4" height="2.4" fill="#fff" stroke="#000" stroke-width="0.8"/>
<rect x="324.95" y="585.21" width="2.4" height="2.4" fill="#fff" stroke="#000" stroke-width="0.8"/>
<rect x="327.65" y="588.54" width="2.4" height="2.4" fill="#fff" stroke="#000" stroke-width="0.8"/>
<rect x="330.35" y="591.55" width="2.4" height="2.4" fill="#fff" stroke="#000" stroke-width="0.8"/>
<rect x="333.05" y="591.91" width="2.4" height="2.4" fill="#fff" stroke="#000" stroke-width="0.8"/>
<rect x="335.75" y="589.2" width="2.4" height="2.4" fill="#fff" stroke="#000" stroke-width="0.8"/>
<rect x="338.45" y="591.15" width="2.4" height="2.4" fill="#fff" stroke="#000" stroke-width="0.8"/>
<rect x="341.15" y="590.11" width="2.4" height="2.4" fill="#fff" stroke="#000" stroke-width="0.8"/>
<rect x="343.85" y="592.67" width="2.4" height="2.4" fill="#fff" stroke="#000" stroke-width="0.8"/>
<rect x="346.55" y="591.49" width="2.4" height="2.4" fill="#fff" stroke="#000" stroke-width="0.8"/>
<rect x="349.25" y="591.55" width="2.4" height="2.4" fill="#fff" stroke="#000" stroke-width="0.8"/>
<rect x="351.95" y="593.08" width="2.4" height="2.4" fill="#fff" stroke="#000" stroke-width="0.8"/>
<rect x="354.65" y="593.08" width="2.4" height="2.4" fill="#fff" stroke="#000" stroke-width="0.8"/>
<rect x="357.35" y="590.16" width="2.4" height="2.4" fill="#fff" stroke="#000" stroke-width="0.8"/>
<rect x="360.05" y="590.46" width="2.4" height="2.4" fill="#fff" stroke="#000" stroke-width="0.8"/>
<rect x="362.75" y="592.17" width="2.4" height="2.4" fill="#fff" stroke="#000" stroke-width="0.8"/>
<rect x="365.45" y="590.44" width="2.4" height="2.4" fill="#fff" stroke="#000" stroke-width="0.8"/>
<rect x="368.15" y="588.84" width="2.4" height="2.4" fill="#fff" stroke="#000" stroke-width="0.8"/>
<rect x="370.85" y="586.5" width="2.4" height="2.4" fill="#fff" stroke="#000" stroke-width="0.8"/>
<rect x="373.55" y="591.17" width="2.4" height="2.4" fill="#fff" stroke="#000" stroke-width="0.8"/>
<rect x="376.25" y="588" width="2.4" height="2.4" fill="#fff" stroke="#000" stroke-width="0.8"/>
<rect x="378.95" y="584.61" width="2.4" height="2.4" fill="#fff" stroke="#000" stroke-width="0.8"/>
<rect x="381.65" y="587.61" width="2.4" height="2.4" fill="#fff" stroke="#000" stroke-width="0.8"/>
<rect x="384.35" y="584.4" width="2.4" height="2.4" fill="#fff" stroke="#000" stroke-width="0.8"/>
<rect x="387.05" y="589.06" width="2.4" height="2.4" fill="#fff" stroke="#000" stroke-width="0.8"/>
<rect x="389.75" y="577.19" width="2.4" height="2.4" fill="#fff" stroke="#000" stroke-width="0.8"/>
<rect x="392.45" y="577.14" width="2.4" height="2.4" fill="#fff" stroke="#000" stroke-width="0.8"/>
<rect x="395.15" y="579.74" width="2.4" height="2.4" fill="#fff" stroke="#000" stroke-width="0.8"/>
<rect x="397.85" y="574.19" width="2.4" height="2.4" fill="#fff" stroke="#000" stroke-width="0.8"/>
<rect x="400.55" y="572.93" width="2.4" height="2.4" fill="#fff" stroke="#000" stroke-width="0.8"/>
<rect x="403.25" y="571.88" width="2.4" height="2.4" fill="#fff" stroke="#000" stroke-width="0.8"/>
<rect x="405.95" y="571.13" width="2.4" height="2.4" fill="#fff" stroke="#000" stroke-width="0.8"/>
<path d="M310.2 461.3 L321 461.3 L315.6 472.1 Z" fill="#f00"/>
<text transform="translate(508.2 450.2) scale(1 1.05)" font-size="12.8" text-anchor="middle" fill="#1a1aff" ><tspan fill="#1a1aff">L5 PC</tspan></text>
<line x1="453.2" y1="456.3" x2="453.2" y2="595.7" stroke="#000" stroke-width="1.5" />
<line x1="452.5" y1="595" x2="562.5" y2="595" stroke="#000" stroke-width="1.5" />
<line x1="449.2" y1="595" x2="453.2" y2="595" stroke="#000" stroke-width="1.2" />
<text transform="translate(447.8 598.9) scale(1 1.05)" font-size="11.3" text-anchor="end" fill="#111" >0</text>
<line x1="449.2" y1="549" x2="453.2" y2="549" stroke="#000" stroke-width="1.2" />
<text transform="translate(447.8 552.9) scale(1 1.05)" font-size="11.3" text-anchor="end" fill="#111" >5</text>
<line x1="449.2" y1="503" x2="453.2" y2="503" stroke="#000" stroke-width="1.2" />
<text transform="translate(447.8 506.9) scale(1 1.05)" font-size="11.3" text-anchor="end" fill="#111" >10</text>
<line x1="449.2" y1="457" x2="453.2" y2="457" stroke="#000" stroke-width="1.2" />
<text transform="translate(447.8 460.9) scale(1 1.05)" font-size="11.3" text-anchor="end" fill="#111" >15</text>
<line x1="453.2" y1="595" x2="453.2" y2="599" stroke="#000" stroke-width="1.2" />
<text transform="translate(453.2 611.4) scale(1 1.05)" font-size="11.3" text-anchor="middle" fill="#111" >0</text>
<line x1="474.92" y1="595" x2="474.92" y2="599" stroke="#000" stroke-width="1.2" />
<text transform="translate(474.92 611.4) scale(1 1.05)" font-size="11.3" text-anchor="middle" fill="#111" >2</text>
<line x1="496.64" y1="595" x2="496.64" y2="599" stroke="#000" stroke-width="1.2" />
<text transform="translate(496.64 611.4) scale(1 1.05)" font-size="11.3" text-anchor="middle" fill="#111" >4</text>
<line x1="518.36" y1="595" x2="518.36" y2="599" stroke="#000" stroke-width="1.2" />
<text transform="translate(518.36 611.4) scale(1 1.05)" font-size="11.3" text-anchor="middle" fill="#111" >6</text>
<line x1="540.08" y1="595" x2="540.08" y2="599" stroke="#000" stroke-width="1.2" />
<text transform="translate(540.08 611.4) scale(1 1.05)" font-size="11.3" text-anchor="middle" fill="#111" >8</text>
<line x1="561.8" y1="595" x2="561.8" y2="599" stroke="#000" stroke-width="1.2" />
<text transform="translate(561.8 611.4) scale(1 1.05)" font-size="11.3" text-anchor="middle" fill="#111" >10</text>
<text transform="translate(507.8 626.6) scale(1 1.05)" font-size="11.8" text-anchor="middle" fill="#111" >Time (s)</text>
<text transform="translate(427.3 525.5) rotate(-90) scale(1 1.05)" font-size="11.6" text-anchor="middle" fill="#111">AP frequency (Hz)</text>
<line x1="454.56" y1="553.42" x2="454.56" y2="489.97" stroke="#7cb6f0" stroke-width="1.15" />
<line x1="452.16" y1="489.97" x2="456.96" y2="489.97" stroke="#7cb6f0" stroke-width="1.15" />
<line x1="452.16" y1="553.42" x2="456.96" y2="553.42" stroke="#7cb6f0" stroke-width="1.15" />
<line x1="457.27" y1="556" x2="457.27" y2="482.54" stroke="#7cb6f0" stroke-width="1.15" />
<line x1="454.87" y1="482.54" x2="459.67" y2="482.54" stroke="#7cb6f0" stroke-width="1.15" />
<line x1="454.87" y1="556" x2="459.67" y2="556" stroke="#7cb6f0" stroke-width="1.15" />
<line x1="459.99" y1="550.79" x2="459.99" y2="489.03" stroke="#7cb6f0" stroke-width="1.15" />
<line x1="457.59" y1="489.03" x2="462.39" y2="489.03" stroke="#7cb6f0" stroke-width="1.15" />
<line x1="457.59" y1="550.79" x2="462.39" y2="550.79" stroke="#7cb6f0" stroke-width="1.15" />
<line x1="462.7" y1="545.08" x2="462.7" y2="483.61" stroke="#7cb6f0" stroke-width="1.15" />
<line x1="460.3" y1="483.61" x2="465.1" y2="483.61" stroke="#7cb6f0" stroke-width="1.15" />
<line x1="460.3" y1="545.08" x2="465.1" y2="545.08" stroke="#7cb6f0" stroke-width="1.15" />
<line x1="465.42" y1="551.11" x2="465.42" y2="486.95" stroke="#7cb6f0" stroke-width="1.15" />
<line x1="463.02" y1="486.95" x2="467.82" y2="486.95" stroke="#7cb6f0" stroke-width="1.15" />
<line x1="463.02" y1="551.11" x2="467.82" y2="551.11" stroke="#7cb6f0" stroke-width="1.15" />
<line x1="468.13" y1="538.51" x2="468.13" y2="487.66" stroke="#7cb6f0" stroke-width="1.15" />
<line x1="465.73" y1="487.66" x2="470.53" y2="487.66" stroke="#7cb6f0" stroke-width="1.15" />
<line x1="465.73" y1="538.51" x2="470.53" y2="538.51" stroke="#7cb6f0" stroke-width="1.15" />
<line x1="470.85" y1="547.77" x2="470.85" y2="477.46" stroke="#7cb6f0" stroke-width="1.15" />
<line x1="468.45" y1="477.46" x2="473.25" y2="477.46" stroke="#7cb6f0" stroke-width="1.15" />
<line x1="468.45" y1="547.77" x2="473.25" y2="547.77" stroke="#7cb6f0" stroke-width="1.15" />
<line x1="473.56" y1="544.85" x2="473.56" y2="493.52" stroke="#7cb6f0" stroke-width="1.15" />
<line x1="471.16" y1="493.52" x2="475.96" y2="493.52" stroke="#7cb6f0" stroke-width="1.15" />
<line x1="471.16" y1="544.85" x2="475.96" y2="544.85" stroke="#7cb6f0" stroke-width="1.15" />
<line x1="476.28" y1="550.2" x2="476.28" y2="475.65" stroke="#7cb6f0" stroke-width="1.15" />
<line x1="473.88" y1="475.65" x2="478.68" y2="475.65" stroke="#7cb6f0" stroke-width="1.15" />
<line x1="473.88" y1="550.2" x2="478.68" y2="550.2" stroke="#7cb6f0" stroke-width="1.15" />
<line x1="478.99" y1="555.72" x2="478.99" y2="481.38" stroke="#7cb6f0" stroke-width="1.15" />
<line x1="476.59" y1="481.38" x2="481.39" y2="481.38" stroke="#7cb6f0" stroke-width="1.15" />
<line x1="476.59" y1="555.72" x2="481.39" y2="555.72" stroke="#7cb6f0" stroke-width="1.15" />
<line x1="481.71" y1="558.37" x2="481.71" y2="487.84" stroke="#7cb6f0" stroke-width="1.15" />
<line x1="479.31" y1="487.84" x2="484.11" y2="487.84" stroke="#7cb6f0" stroke-width="1.15" />
<line x1="479.31" y1="558.37" x2="484.11" y2="558.37" stroke="#7cb6f0" stroke-width="1.15" />
<line x1="484.42" y1="554.01" x2="484.42" y2="481.55" stroke="#7cb6f0" stroke-width="1.15" />
<line x1="482.02" y1="481.55" x2="486.82" y2="481.55" stroke="#7cb6f0" stroke-width="1.15" />
<line x1="482.02" y1="554.01" x2="486.82" y2="554.01" stroke="#7cb6f0" stroke-width="1.15" />
<line x1="487.14" y1="549.93" x2="487.14" y2="484.48" stroke="#7cb6f0" stroke-width="1.15" />
<line x1="484.74" y1="484.48" x2="489.54" y2="484.48" stroke="#7cb6f0" stroke-width="1.15" />
<line x1="484.74" y1="549.93" x2="489.54" y2="549.93" stroke="#7cb6f0" stroke-width="1.15" />
<line x1="489.85" y1="543.11" x2="489.85" y2="485.41" stroke="#7cb6f0" stroke-width="1.15" />
<line x1="487.45" y1="485.41" x2="492.25" y2="485.41" stroke="#7cb6f0" stroke-width="1.15" />
<line x1="487.45" y1="543.11" x2="492.25" y2="543.11" stroke="#7cb6f0" stroke-width="1.15" />
<line x1="492.57" y1="551.89" x2="492.57" y2="486.73" stroke="#7cb6f0" stroke-width="1.15" />
<line x1="490.17" y1="486.73" x2="494.97" y2="486.73" stroke="#7cb6f0" stroke-width="1.15" />
<line x1="490.17" y1="551.89" x2="494.97" y2="551.89" stroke="#7cb6f0" stroke-width="1.15" />
<line x1="495.28" y1="547.26" x2="495.28" y2="480.23" stroke="#7cb6f0" stroke-width="1.15" />
<line x1="492.88" y1="480.23" x2="497.68" y2="480.23" stroke="#7cb6f0" stroke-width="1.15" />
<line x1="492.88" y1="547.26" x2="497.68" y2="547.26" stroke="#7cb6f0" stroke-width="1.15" />
<line x1="498" y1="541.39" x2="498" y2="487.8" stroke="#7cb6f0" stroke-width="1.15" />
<line x1="495.6" y1="487.8" x2="500.4" y2="487.8" stroke="#7cb6f0" stroke-width="1.15" />
<line x1="495.6" y1="541.39" x2="500.4" y2="541.39" stroke="#7cb6f0" stroke-width="1.15" />
<line x1="500.71" y1="551.25" x2="500.71" y2="481.82" stroke="#7cb6f0" stroke-width="1.15" />
<line x1="498.31" y1="481.82" x2="503.11" y2="481.82" stroke="#7cb6f0" stroke-width="1.15" />
<line x1="498.31" y1="551.25" x2="503.11" y2="551.25" stroke="#7cb6f0" stroke-width="1.15" />
<line x1="503.43" y1="545.47" x2="503.43" y2="487.82" stroke="#7cb6f0" stroke-width="1.15" />
<line x1="501.03" y1="487.82" x2="505.83" y2="487.82" stroke="#7cb6f0" stroke-width="1.15" />
<line x1="501.03" y1="545.47" x2="505.83" y2="545.47" stroke="#7cb6f0" stroke-width="1.15" />
<line x1="506.14" y1="552.01" x2="506.14" y2="489.14" stroke="#7cb6f0" stroke-width="1.15" />
<line x1="503.74" y1="489.14" x2="508.54" y2="489.14" stroke="#7cb6f0" stroke-width="1.15" />
<line x1="503.74" y1="552.01" x2="508.54" y2="552.01" stroke="#7cb6f0" stroke-width="1.15" />
<line x1="508.86" y1="552.66" x2="508.86" y2="495.94" stroke="#7cb6f0" stroke-width="1.15" />
<line x1="506.46" y1="495.94" x2="511.26" y2="495.94" stroke="#7cb6f0" stroke-width="1.15" />
<line x1="506.46" y1="552.66" x2="511.26" y2="552.66" stroke="#7cb6f0" stroke-width="1.15" />
<line x1="511.57" y1="549.87" x2="511.57" y2="492.76" stroke="#7cb6f0" stroke-width="1.15" />
<line x1="509.17" y1="492.76" x2="513.97" y2="492.76" stroke="#7cb6f0" stroke-width="1.15" />
<line x1="509.17" y1="549.87" x2="513.97" y2="549.87" stroke="#7cb6f0" stroke-width="1.15" />
<line x1="514.29" y1="557.14" x2="514.29" y2="485.16" stroke="#7cb6f0" stroke-width="1.15" />
<line x1="511.89" y1="485.16" x2="516.69" y2="485.16" stroke="#7cb6f0" stroke-width="1.15" />
<line x1="511.89" y1="557.14" x2="516.69" y2="557.14" stroke="#7cb6f0" stroke-width="1.15" />
<line x1="517" y1="558.96" x2="517" y2="489.64" stroke="#7cb6f0" stroke-width="1.15" />
<line x1="514.6" y1="489.64" x2="519.4" y2="489.64" stroke="#7cb6f0" stroke-width="1.15" />
<line x1="514.6" y1="558.96" x2="519.4" y2="558.96" stroke="#7cb6f0" stroke-width="1.15" />
<line x1="519.72" y1="552.49" x2="519.72" y2="500.87" stroke="#7cb6f0" stroke-width="1.15" />
<line x1="517.32" y1="500.87" x2="522.12" y2="500.87" stroke="#7cb6f0" stroke-width="1.15" />
<line x1="517.32" y1="552.49" x2="522.12" y2="552.49" stroke="#7cb6f0" stroke-width="1.15" />
<line x1="522.43" y1="566.39" x2="522.43" y2="497.05" stroke="#7cb6f0" stroke-width="1.15" />
<line x1="520.03" y1="497.05" x2="524.83" y2="497.05" stroke="#7cb6f0" stroke-width="1.15" />
<line x1="520.03" y1="566.39" x2="524.83" y2="566.39" stroke="#7cb6f0" stroke-width="1.15" />
<line x1="525.15" y1="562.04" x2="525.15" y2="488.85" stroke="#7cb6f0" stroke-width="1.15" />
<line x1="522.75" y1="488.85" x2="527.55" y2="488.85" stroke="#7cb6f0" stroke-width="1.15" />
<line x1="522.75" y1="562.04" x2="527.55" y2="562.04" stroke="#7cb6f0" stroke-width="1.15" />
<line x1="527.86" y1="561.15" x2="527.86" y2="493.49" stroke="#7cb6f0" stroke-width="1.15" />
<line x1="525.46" y1="493.49" x2="530.26" y2="493.49" stroke="#7cb6f0" stroke-width="1.15" />
<line x1="525.46" y1="561.15" x2="530.26" y2="561.15" stroke="#7cb6f0" stroke-width="1.15" />
<line x1="530.58" y1="567.02" x2="530.58" y2="499.65" stroke="#7cb6f0" stroke-width="1.15" />
<line x1="528.18" y1="499.65" x2="532.98" y2="499.65" stroke="#7cb6f0" stroke-width="1.15" />
<line x1="528.18" y1="567.02" x2="532.98" y2="567.02" stroke="#7cb6f0" stroke-width="1.15" />
<line x1="533.29" y1="557.9" x2="533.29" y2="501.25" stroke="#7cb6f0" stroke-width="1.15" />
<line x1="530.89" y1="501.25" x2="535.69" y2="501.25" stroke="#7cb6f0" stroke-width="1.15" />
<line x1="530.89" y1="557.9" x2="535.69" y2="557.9" stroke="#7cb6f0" stroke-width="1.15" />
<line x1="536.01" y1="562.06" x2="536.01" y2="494.52" stroke="#7cb6f0" stroke-width="1.15" />
<line x1="533.61" y1="494.52" x2="538.41" y2="494.52" stroke="#7cb6f0" stroke-width="1.15" />
<line x1="533.61" y1="562.06" x2="538.41" y2="562.06" stroke="#7cb6f0" stroke-width="1.15" />
<line x1="538.72" y1="561.39" x2="538.72" y2="501.85" stroke="#7cb6f0" stroke-width="1.15" />
<line x1="536.32" y1="501.85" x2="541.12" y2="501.85" stroke="#7cb6f0" stroke-width="1.15" />
<line x1="536.32" y1="561.39" x2="541.12" y2="561.39" stroke="#7cb6f0" stroke-width="1.15" />
<line x1="541.44" y1="566.05" x2="541.44" y2="492.9" stroke="#7cb6f0" stroke-width="1.15" />
<line x1="539.04" y1="492.9" x2="543.84" y2="492.9" stroke="#7cb6f0" stroke-width="1.15" />
<line x1="539.04" y1="566.05" x2="543.84" y2="566.05" stroke="#7cb6f0" stroke-width="1.15" />
<line x1="544.15" y1="564.1" x2="544.15" y2="496.42" stroke="#7cb6f0" stroke-width="1.15" />
<line x1="541.75" y1="496.42" x2="546.55" y2="496.42" stroke="#7cb6f0" stroke-width="1.15" />
<line x1="541.75" y1="564.1" x2="546.55" y2="564.1" stroke="#7cb6f0" stroke-width="1.15" />
<line x1="546.87" y1="567.09" x2="546.87" y2="508.97" stroke="#7cb6f0" stroke-width="1.15" />
<line x1="544.47" y1="508.97" x2="549.27" y2="508.97" stroke="#7cb6f0" stroke-width="1.15" />
<line x1="544.47" y1="567.09" x2="549.27" y2="567.09" stroke="#7cb6f0" stroke-width="1.15" />
<line x1="549.58" y1="571.07" x2="549.58" y2="498.91" stroke="#7cb6f0" stroke-width="1.15" />
<line x1="547.18" y1="498.91" x2="551.98" y2="498.91" stroke="#7cb6f0" stroke-width="1.15" />
<line x1="547.18" y1="571.07" x2="551.98" y2="571.07" stroke="#7cb6f0" stroke-width="1.15" />
<line x1="552.3" y1="567.89" x2="552.3" y2="498.47" stroke="#7cb6f0" stroke-width="1.15" />
<line x1="549.9" y1="498.47" x2="554.7" y2="498.47" stroke="#7cb6f0" stroke-width="1.15" />
<line x1="549.9" y1="567.89" x2="554.7" y2="567.89" stroke="#7cb6f0" stroke-width="1.15" />
<line x1="555.01" y1="560.04" x2="555.01" y2="504.96" stroke="#7cb6f0" stroke-width="1.15" />
<line x1="552.61" y1="504.96" x2="557.41" y2="504.96" stroke="#7cb6f0" stroke-width="1.15" />
<line x1="552.61" y1="560.04" x2="557.41" y2="560.04" stroke="#7cb6f0" stroke-width="1.15" />
<line x1="557.73" y1="559.34" x2="557.73" y2="503.91" stroke="#7cb6f0" stroke-width="1.15" />
<line x1="555.33" y1="503.91" x2="560.13" y2="503.91" stroke="#7cb6f0" stroke-width="1.15" />
<line x1="555.33" y1="559.34" x2="560.13" y2="559.34" stroke="#7cb6f0" stroke-width="1.15" />
<line x1="560.44" y1="568.07" x2="560.44" y2="517.7" stroke="#7cb6f0" stroke-width="1.15" />
<line x1="558.04" y1="517.7" x2="562.84" y2="517.7" stroke="#7cb6f0" stroke-width="1.15" />
<line x1="558.04" y1="568.07" x2="562.84" y2="568.07" stroke="#7cb6f0" stroke-width="1.15" />
<path d="M454.56 521.69 L457.27 519.27 L459.99 519.91 L462.7 514.35 L465.42 519.03 L468.13 513.08 L470.85 512.61 L473.56 519.19 L476.28 512.92 L478.99 518.55 L481.71 523.1 L484.42 517.78 L487.14 517.21 L489.85 514.26 L492.57 519.31 L495.28 513.74 L498 514.6 L500.71 516.54 L503.43 516.65 L506.14 520.58 L508.86 524.3 L511.57 521.32 L514.29 521.15 L517 524.3 L519.72 526.68 L522.43 531.72 L525.15 525.45 L527.86 527.32 L530.58 533.33 L533.29 529.58 L536.01 528.29 L538.72 531.62 L541.44 529.47 L544.15 530.26 L546.87 538.03 L549.58 534.99 L552.3 533.18 L555.01 532.5 L557.73 531.62 L560.44 542.88" stroke="#7cb6f0" stroke-width="1.3" fill="none" />
<rect x="453.36" y="520.49" width="2.4" height="2.4" fill="#a8ccf4" stroke="#7cb6f0" stroke-width="0.8"/>
<rect x="456.07" y="518.07" width="2.4" height="2.4" fill="#a8ccf4" stroke="#7cb6f0" stroke-width="0.8"/>
<rect x="458.79" y="518.71" width="2.4" height="2.4" fill="#a8ccf4" stroke="#7cb6f0" stroke-width="0.8"/>
<rect x="461.5" y="513.15" width="2.4" height="2.4" fill="#a8ccf4" stroke="#7cb6f0" stroke-width="0.8"/>
<rect x="464.22" y="517.83" width="2.4" height="2.4" fill="#a8ccf4" stroke="#7cb6f0" stroke-width="0.8"/>
<rect x="466.93" y="511.88" width="2.4" height="2.4" fill="#a8ccf4" stroke="#7cb6f0" stroke-width="0.8"/>
<rect x="469.65" y="511.41" width="2.4" height="2.4" fill="#a8ccf4" stroke="#7cb6f0" stroke-width="0.8"/>
<rect x="472.36" y="517.99" width="2.4" height="2.4" fill="#a8ccf4" stroke="#7cb6f0" stroke-width="0.8"/>
<rect x="475.08" y="511.72" width="2.4" height="2.4" fill="#a8ccf4" stroke="#7cb6f0" stroke-width="0.8"/>
<rect x="477.79" y="517.35" width="2.4" height="2.4" fill="#a8ccf4" stroke="#7cb6f0" stroke-width="0.8"/>
<rect x="480.51" y="521.9" width="2.4" height="2.4" fill="#a8ccf4" stroke="#7cb6f0" stroke-width="0.8"/>
<rect x="483.22" y="516.58" width="2.4" height="2.4" fill="#a8ccf4" stroke="#7cb6f0" stroke-width="0.8"/>
<rect x="485.94" y="516.01" width="2.4" height="2.4" fill="#a8ccf4" stroke="#7cb6f0" stroke-width="0.8"/>
<rect x="488.65" y="513.06" width="2.4" height="2.4" fill="#a8ccf4" stroke="#7cb6f0" stroke-width="0.8"/>
<rect x="491.37" y="518.11" width="2.4" height="2.4" fill="#a8ccf4" stroke="#7cb6f0" stroke-width="0.8"/>
<rect x="494.08" y="512.54" width="2.4" height="2.4" fill="#a8ccf4" stroke="#7cb6f0" stroke-width="0.8"/>
<rect x="496.8" y="513.4" width="2.4" height="2.4" fill="#a8ccf4" stroke="#7cb6f0" stroke-width="0.8"/>
<rect x="499.51" y="515.34" width="2.4" height="2.4" fill="#a8ccf4" stroke="#7cb6f0" stroke-width="0.8"/>
<rect x="502.23" y="515.45" width="2.4" height="2.4" fill="#a8ccf4" stroke="#7cb6f0" stroke-width="0.8"/>
<rect x="504.94" y="519.38" width="2.4" height="2.4" fill="#a8ccf4" stroke="#7cb6f0" stroke-width="0.8"/>
<rect x="507.66" y="523.1" width="2.4" height="2.4" fill="#a8ccf4" stroke="#7cb6f0" stroke-width="0.8"/>
<rect x="510.37" y="520.12" width="2.4" height="2.4" fill="#a8ccf4" stroke="#7cb6f0" stroke-width="0.8"/>
<rect x="513.09" y="519.95" width="2.4" height="2.4" fill="#a8ccf4" stroke="#7cb6f0" stroke-width="0.8"/>
<rect x="515.8" y="523.1" width="2.4" height="2.4" fill="#a8ccf4" stroke="#7cb6f0" stroke-width="0.8"/>
<rect x="518.52" y="525.48" width="2.4" height="2.4" fill="#a8ccf4" stroke="#7cb6f0" stroke-width="0.8"/>
<rect x="521.23" y="530.52" width="2.4" height="2.4" fill="#a8ccf4" stroke="#7cb6f0" stroke-width="0.8"/>
<rect x="523.95" y="524.25" width="2.4" height="2.4" fill="#a8ccf4" stroke="#7cb6f0" stroke-width="0.8"/>
<rect x="526.66" y="526.12" width="2.4" height="2.4" fill="#a8ccf4" stroke="#7cb6f0" stroke-width="0.8"/>
<rect x="529.38" y="532.13" width="2.4" height="2.4" fill="#a8ccf4" stroke="#7cb6f0" stroke-width="0.8"/>
<rect x="532.09" y="528.38" width="2.4" height="2.4" fill="#a8ccf4" stroke="#7cb6f0" stroke-width="0.8"/>
<rect x="534.81" y="527.09" width="2.4" height="2.4" fill="#a8ccf4" stroke="#7cb6f0" stroke-width="0.8"/>
<rect x="537.52" y="530.42" width="2.4" height="2.4" fill="#a8ccf4" stroke="#7cb6f0" stroke-width="0.8"/>
<rect x="540.24" y="528.27" width="2.4" height="2.4" fill="#a8ccf4" stroke="#7cb6f0" stroke-width="0.8"/>
<rect x="542.95" y="529.06" width="2.4" height="2.4" fill="#a8ccf4" stroke="#7cb6f0" stroke-width="0.8"/>
<rect x="545.67" y="536.83" width="2.4" height="2.4" fill="#a8ccf4" stroke="#7cb6f0" stroke-width="0.8"/>
<rect x="548.38" y="533.79" width="2.4" height="2.4" fill="#a8ccf4" stroke="#7cb6f0" stroke-width="0.8"/>
<rect x="551.1" y="531.98" width="2.4" height="2.4" fill="#a8ccf4" stroke="#7cb6f0" stroke-width="0.8"/>
<rect x="553.81" y="531.3" width="2.4" height="2.4" fill="#a8ccf4" stroke="#7cb6f0" stroke-width="0.8"/>
<rect x="556.53" y="530.42" width="2.4" height="2.4" fill="#a8ccf4" stroke="#7cb6f0" stroke-width="0.8"/>
<rect x="559.24" y="541.68" width="2.4" height="2.4" fill="#a8ccf4" stroke="#7cb6f0" stroke-width="0.8"/>
<line x1="454.56" y1="557.15" x2="454.56" y2="535.44" stroke="#0a0aff" stroke-width="1.15" />
<line x1="452.16" y1="535.44" x2="456.96" y2="535.44" stroke="#0a0aff" stroke-width="1.15" />
<line x1="452.16" y1="557.15" x2="456.96" y2="557.15" stroke="#0a0aff" stroke-width="1.15" />
<line x1="457.27" y1="553.25" x2="457.27" y2="522.29" stroke="#0a0aff" stroke-width="1.15" />
<line x1="454.87" y1="522.29" x2="459.67" y2="522.29" stroke="#0a0aff" stroke-width="1.15" />
<line x1="454.87" y1="553.25" x2="459.67" y2="553.25" stroke="#0a0aff" stroke-width="1.15" />
<line x1="459.99" y1="555.77" x2="459.99" y2="510.49" stroke="#0a0aff" stroke-width="1.15" />
<line x1="457.59" y1="510.49" x2="462.39" y2="510.49" stroke="#0a0aff" stroke-width="1.15" />
<line x1="457.59" y1="555.77" x2="462.39" y2="555.77" stroke="#0a0aff" stroke-width="1.15" />
<line x1="462.7" y1="567.69" x2="462.7" y2="539.57" stroke="#0a0aff" stroke-width="1.15" />
<line x1="460.3" y1="539.57" x2="465.1" y2="539.57" stroke="#0a0aff" stroke-width="1.15" />
<line x1="460.3" y1="567.69" x2="465.1" y2="567.69" stroke="#0a0aff" stroke-width="1.15" />
<line x1="465.42" y1="576.99" x2="465.42" y2="555.47" stroke="#0a0aff" stroke-width="1.15" />
<line x1="463.02" y1="555.47" x2="467.82" y2="555.47" stroke="#0a0aff" stroke-width="1.15" />
<line x1="463.02" y1="576.99" x2="467.82" y2="576.99" stroke="#0a0aff" stroke-width="1.15" />
<line x1="468.13" y1="584.69" x2="468.13" y2="568.87" stroke="#0a0aff" stroke-width="1.15" />
<line x1="465.73" y1="568.87" x2="470.53" y2="568.87" stroke="#0a0aff" stroke-width="1.15" />
<line x1="465.73" y1="584.69" x2="470.53" y2="584.69" stroke="#0a0aff" stroke-width="1.15" />
<line x1="470.85" y1="587.89" x2="470.85" y2="573.53" stroke="#0a0aff" stroke-width="1.15" />
<line x1="468.45" y1="573.53" x2="473.25" y2="573.53" stroke="#0a0aff" stroke-width="1.15" />
<line x1="468.45" y1="587.89" x2="473.25" y2="587.89" stroke="#0a0aff" stroke-width="1.15" />
<line x1="473.56" y1="590.42" x2="473.56" y2="582.35" stroke="#0a0aff" stroke-width="1.15" />
<line x1="471.16" y1="582.35" x2="475.96" y2="582.35" stroke="#0a0aff" stroke-width="1.15" />
<line x1="471.16" y1="590.42" x2="475.96" y2="590.42" stroke="#0a0aff" stroke-width="1.15" />
<line x1="476.28" y1="594.01" x2="476.28" y2="583.39" stroke="#0a0aff" stroke-width="1.15" />
<line x1="473.88" y1="583.39" x2="478.68" y2="583.39" stroke="#0a0aff" stroke-width="1.15" />
<line x1="473.88" y1="594.01" x2="478.68" y2="594.01" stroke="#0a0aff" stroke-width="1.15" />
<line x1="478.99" y1="592.25" x2="478.99" y2="584.16" stroke="#0a0aff" stroke-width="1.15" />
<line x1="476.59" y1="584.16" x2="481.39" y2="584.16" stroke="#0a0aff" stroke-width="1.15" />
<line x1="476.59" y1="592.25" x2="481.39" y2="592.25" stroke="#0a0aff" stroke-width="1.15" />
<line x1="481.71" y1="595" x2="481.71" y2="589.21" stroke="#0a0aff" stroke-width="1.15" />
<line x1="479.31" y1="589.21" x2="484.11" y2="589.21" stroke="#0a0aff" stroke-width="1.15" />
<line x1="479.31" y1="595" x2="484.11" y2="595" stroke="#0a0aff" stroke-width="1.15" />
<line x1="484.42" y1="592.95" x2="484.42" y2="588.79" stroke="#0a0aff" stroke-width="1.15" />
<line x1="482.02" y1="588.79" x2="486.82" y2="588.79" stroke="#0a0aff" stroke-width="1.15" />
<line x1="482.02" y1="592.95" x2="486.82" y2="592.95" stroke="#0a0aff" stroke-width="1.15" />
<line x1="487.14" y1="595" x2="487.14" y2="589.93" stroke="#0a0aff" stroke-width="1.15" />
<line x1="484.74" y1="589.93" x2="489.54" y2="589.93" stroke="#0a0aff" stroke-width="1.15" />
<line x1="484.74" y1="595" x2="489.54" y2="595" stroke="#0a0aff" stroke-width="1.15" />
<line x1="489.85" y1="594.78" x2="489.85" y2="590.48" stroke="#0a0aff" stroke-width="1.15" />
<line x1="487.45" y1="590.48" x2="492.25" y2="590.48" stroke="#0a0aff" stroke-width="1.15" />
<line x1="487.45" y1="594.78" x2="492.25" y2="594.78" stroke="#0a0aff" stroke-width="1.15" />
<line x1="492.57" y1="594.97" x2="492.57" y2="589.14" stroke="#0a0aff" stroke-width="1.15" />
<line x1="490.17" y1="589.14" x2="494.97" y2="589.14" stroke="#0a0aff" stroke-width="1.15" />
<line x1="490.17" y1="594.97" x2="494.97" y2="594.97" stroke="#0a0aff" stroke-width="1.15" />
<line x1="495.28" y1="595" x2="495.28" y2="589.94" stroke="#0a0aff" stroke-width="1.15" />
<line x1="492.88" y1="589.94" x2="497.68" y2="589.94" stroke="#0a0aff" stroke-width="1.15" />
<line x1="492.88" y1="595" x2="497.68" y2="595" stroke="#0a0aff" stroke-width="1.15" />
<line x1="498" y1="592.81" x2="498" y2="587.55" stroke="#0a0aff" stroke-width="1.15" />
<line x1="495.6" y1="587.55" x2="500.4" y2="587.55" stroke="#0a0aff" stroke-width="1.15" />
<line x1="495.6" y1="592.81" x2="500.4" y2="592.81" stroke="#0a0aff" stroke-width="1.15" />
<line x1="500.71" y1="595" x2="500.71" y2="588.07" stroke="#0a0aff" stroke-width="1.15" />
<line x1="498.31" y1="588.07" x2="503.11" y2="588.07" stroke="#0a0aff" stroke-width="1.15" />
<line x1="498.31" y1="595" x2="503.11" y2="595" stroke="#0a0aff" stroke-width="1.15" />
<line x1="503.43" y1="595" x2="503.43" y2="591.91" stroke="#0a0aff" stroke-width="1.15" />
<line x1="501.03" y1="591.91" x2="505.83" y2="591.91" stroke="#0a0aff" stroke-width="1.15" />
<line x1="501.03" y1="595" x2="505.83" y2="595" stroke="#0a0aff" stroke-width="1.15" />
<line x1="506.14" y1="594.51" x2="506.14" y2="587.91" stroke="#0a0aff" stroke-width="1.15" />
<line x1="503.74" y1="587.91" x2="508.54" y2="587.91" stroke="#0a0aff" stroke-width="1.15" />
<line x1="503.74" y1="594.51" x2="508.54" y2="594.51" stroke="#0a0aff" stroke-width="1.15" />
<line x1="508.86" y1="595" x2="508.86" y2="591" stroke="#0a0aff" stroke-width="1.15" />
<line x1="506.46" y1="591" x2="511.26" y2="591" stroke="#0a0aff" stroke-width="1.15" />
<line x1="506.46" y1="595" x2="511.26" y2="595" stroke="#0a0aff" stroke-width="1.15" />
<line x1="511.57" y1="594.88" x2="511.57" y2="589.75" stroke="#0a0aff" stroke-width="1.15" />
<line x1="509.17" y1="589.75" x2="513.97" y2="589.75" stroke="#0a0aff" stroke-width="1.15" />
<line x1="509.17" y1="594.88" x2="513.97" y2="594.88" stroke="#0a0aff" stroke-width="1.15" />
<line x1="514.29" y1="595" x2="514.29" y2="590.82" stroke="#0a0aff" stroke-width="1.15" />
<line x1="511.89" y1="590.82" x2="516.69" y2="590.82" stroke="#0a0aff" stroke-width="1.15" />
<line x1="511.89" y1="595" x2="516.69" y2="595" stroke="#0a0aff" stroke-width="1.15" />
<line x1="517" y1="595" x2="517" y2="588.89" stroke="#0a0aff" stroke-width="1.15" />
<line x1="514.6" y1="588.89" x2="519.4" y2="588.89" stroke="#0a0aff" stroke-width="1.15" />
<line x1="514.6" y1="595" x2="519.4" y2="595" stroke="#0a0aff" stroke-width="1.15" />
<line x1="519.72" y1="592.76" x2="519.72" y2="586.51" stroke="#0a0aff" stroke-width="1.15" />
<line x1="517.32" y1="586.51" x2="522.12" y2="586.51" stroke="#0a0aff" stroke-width="1.15" />
<line x1="517.32" y1="592.76" x2="522.12" y2="592.76" stroke="#0a0aff" stroke-width="1.15" />
<line x1="522.43" y1="595" x2="522.43" y2="585.35" stroke="#0a0aff" stroke-width="1.15" />
<line x1="520.03" y1="585.35" x2="524.83" y2="585.35" stroke="#0a0aff" stroke-width="1.15" />
<line x1="520.03" y1="595" x2="524.83" y2="595" stroke="#0a0aff" stroke-width="1.15" />
<line x1="525.15" y1="593.14" x2="525.15" y2="584.57" stroke="#0a0aff" stroke-width="1.15" />
<line x1="522.75" y1="584.57" x2="527.55" y2="584.57" stroke="#0a0aff" stroke-width="1.15" />
<line x1="522.75" y1="593.14" x2="527.55" y2="593.14" stroke="#0a0aff" stroke-width="1.15" />
<line x1="527.86" y1="592.9" x2="527.86" y2="581.48" stroke="#0a0aff" stroke-width="1.15" />
<line x1="525.46" y1="581.48" x2="530.26" y2="581.48" stroke="#0a0aff" stroke-width="1.15" />
<line x1="525.46" y1="592.9" x2="530.26" y2="592.9" stroke="#0a0aff" stroke-width="1.15" />
<line x1="530.58" y1="591.93" x2="530.58" y2="579.47" stroke="#0a0aff" stroke-width="1.15" />
<line x1="528.18" y1="579.47" x2="532.98" y2="579.47" stroke="#0a0aff" stroke-width="1.15" />
<line x1="528.18" y1="591.93" x2="532.98" y2="591.93" stroke="#0a0aff" stroke-width="1.15" />
<line x1="533.29" y1="586.64" x2="533.29" y2="577.68" stroke="#0a0aff" stroke-width="1.15" />
<line x1="530.89" y1="577.68" x2="535.69" y2="577.68" stroke="#0a0aff" stroke-width="1.15" />
<line x1="530.89" y1="586.64" x2="535.69" y2="586.64" stroke="#0a0aff" stroke-width="1.15" />
<line x1="536.01" y1="592.83" x2="536.01" y2="576.33" stroke="#0a0aff" stroke-width="1.15" />
<line x1="533.61" y1="576.33" x2="538.41" y2="576.33" stroke="#0a0aff" stroke-width="1.15" />
<line x1="533.61" y1="592.83" x2="538.41" y2="592.83" stroke="#0a0aff" stroke-width="1.15" />
<line x1="538.72" y1="590.07" x2="538.72" y2="576.95" stroke="#0a0aff" stroke-width="1.15" />
<line x1="536.32" y1="576.95" x2="541.12" y2="576.95" stroke="#0a0aff" stroke-width="1.15" />
<line x1="536.32" y1="590.07" x2="541.12" y2="590.07" stroke="#0a0aff" stroke-width="1.15" />
<line x1="541.44" y1="585.64" x2="541.44" y2="573.91" stroke="#0a0aff" stroke-width="1.15" />
<line x1="539.04" y1="573.91" x2="543.84" y2="573.91" stroke="#0a0aff" stroke-width="1.15" />
<line x1="539.04" y1="585.64" x2="543.84" y2="585.64" stroke="#0a0aff" stroke-width="1.15" />
<line x1="544.15" y1="587.21" x2="544.15" y2="575.5" stroke="#0a0aff" stroke-width="1.15" />
<line x1="541.75" y1="575.5" x2="546.55" y2="575.5" stroke="#0a0aff" stroke-width="1.15" />
<line x1="541.75" y1="587.21" x2="546.55" y2="587.21" stroke="#0a0aff" stroke-width="1.15" />
<line x1="546.87" y1="588.16" x2="546.87" y2="568.44" stroke="#0a0aff" stroke-width="1.15" />
<line x1="544.47" y1="568.44" x2="549.27" y2="568.44" stroke="#0a0aff" stroke-width="1.15" />
<line x1="544.47" y1="588.16" x2="549.27" y2="588.16" stroke="#0a0aff" stroke-width="1.15" />
<line x1="549.58" y1="584.52" x2="549.58" y2="565.24" stroke="#0a0aff" stroke-width="1.15" />
<line x1="547.18" y1="565.24" x2="551.98" y2="565.24" stroke="#0a0aff" stroke-width="1.15" />
<line x1="547.18" y1="584.52" x2="551.98" y2="584.52" stroke="#0a0aff" stroke-width="1.15" />
<line x1="552.3" y1="582.24" x2="552.3" y2="567.61" stroke="#0a0aff" stroke-width="1.15" />
<line x1="549.9" y1="567.61" x2="554.7" y2="567.61" stroke="#0a0aff" stroke-width="1.15" />
<line x1="549.9" y1="582.24" x2="554.7" y2="582.24" stroke="#0a0aff" stroke-width="1.15" />
<line x1="555.01" y1="580.44" x2="555.01" y2="567.5" stroke="#0a0aff" stroke-width="1.15" />
<line x1="552.61" y1="567.5" x2="557.41" y2="567.5" stroke="#0a0aff" stroke-width="1.15" />
<line x1="552.61" y1="580.44" x2="557.41" y2="580.44" stroke="#0a0aff" stroke-width="1.15" />
<line x1="557.73" y1="581.77" x2="557.73" y2="563.59" stroke="#0a0aff" stroke-width="1.15" />
<line x1="555.33" y1="563.59" x2="560.13" y2="563.59" stroke="#0a0aff" stroke-width="1.15" />
<line x1="555.33" y1="581.77" x2="560.13" y2="581.77" stroke="#0a0aff" stroke-width="1.15" />
<line x1="560.44" y1="576.96" x2="560.44" y2="565.74" stroke="#0a0aff" stroke-width="1.15" />
<line x1="558.04" y1="565.74" x2="562.84" y2="565.74" stroke="#0a0aff" stroke-width="1.15" />
<line x1="558.04" y1="576.96" x2="562.84" y2="576.96" stroke="#0a0aff" stroke-width="1.15" />
<path d="M454.56 546.3 L457.27 537.77 L459.99 533.13 L462.7 553.63 L465.42 566.23 L468.13 576.78 L470.85 580.71 L473.56 586.38 L476.28 588.7 L478.99 588.21 L481.71 592.16 L484.42 590.87 L487.14 592.9 L489.85 592.63 L492.57 592.05 L495.28 592.57 L498 590.18 L500.71 591.8 L503.43 594.08 L506.14 591.21 L508.86 594.08 L511.57 592.31 L514.29 594.07 L517 593.45 L519.72 589.63 L522.43 590.46 L525.15 588.85 L527.86 587.19 L530.58 585.7 L533.29 582.16 L536.01 584.58 L538.72 583.51 L541.44 579.77 L544.15 581.36 L546.87 578.3 L549.58 574.88 L552.3 574.93 L555.01 573.97 L557.73 572.68 L560.44 571.35" stroke="#0a0aff" stroke-width="1.3" fill="none" />
<rect x="453.36" y="545.1" width="2.4" height="2.4" fill="#fff" stroke="#0a0aff" stroke-width="0.8"/>
<rect x="456.07" y="536.57" width="2.4" height="2.4" fill="#fff" stroke="#0a0aff" stroke-width="0.8"/>
<rect x="458.79" y="531.93" width="2.4" height="2.4" fill="#fff" stroke="#0a0aff" stroke-width="0.8"/>
<rect x="461.5" y="552.43" width="2.4" height="2.4" fill="#fff" stroke="#0a0aff" stroke-width="0.8"/>
<rect x="464.22" y="565.03" width="2.4" height="2.4" fill="#fff" stroke="#0a0aff" stroke-width="0.8"/>
<rect x="466.93" y="575.58" width="2.4" height="2.4" fill="#fff" stroke="#0a0aff" stroke-width="0.8"/>
<rect x="469.65" y="579.51" width="2.4" height="2.4" fill="#fff" stroke="#0a0aff" stroke-width="0.8"/>
<rect x="472.36" y="585.18" width="2.4" height="2.4" fill="#fff" stroke="#0a0aff" stroke-width="0.8"/>
<rect x="475.08" y="587.5" width="2.4" height="2.4" fill="#fff" stroke="#0a0aff" stroke-width="0.8"/>
<rect x="477.79" y="587.01" width="2.4" height="2.4" fill="#fff" stroke="#0a0aff" stroke-width="0.8"/>
<rect x="480.51" y="590.96" width="2.4" height="2.4" fill="#fff" stroke="#0a0aff" stroke-width="0.8"/>
<rect x="483.22" y="589.67" width="2.4" height="2.4" fill="#fff" stroke="#0a0aff" stroke-width="0.8"/>
<rect x="485.94" y="591.7" width="2.4" height="2.4" fill="#fff" stroke="#0a0aff" stroke-width="0.8"/>
<rect x="488.65" y="591.43" width="2.4" height="2.4" fill="#fff" stroke="#0a0aff" stroke-width="0.8"/>
<rect x="491.37" y="590.85" width="2.4" height="2.4" fill="#fff" stroke="#0a0aff" stroke-width="0.8"/>
<rect x="494.08" y="591.37" width="2.4" height="2.4" fill="#fff" stroke="#0a0aff" stroke-width="0.8"/>
<rect x="496.8" y="588.98" width="2.4" height="2.4" fill="#fff" stroke="#0a0aff" stroke-width="0.8"/>
<rect x="499.51" y="590.6" width="2.4" height="2.4" fill="#fff" stroke="#0a0aff" stroke-width="0.8"/>
<rect x="502.23" y="592.88" width="2.4" height="2.4" fill="#fff" stroke="#0a0aff" stroke-width="0.8"/>
<rect x="504.94" y="590.01" width="2.4" height="2.4" fill="#fff" stroke="#0a0aff" stroke-width="0.8"/>
<rect x="507.66" y="592.88" width="2.4" height="2.4" fill="#fff" stroke="#0a0aff" stroke-width="0.8"/>
<rect x="510.37" y="591.11" width="2.4" height="2.4" fill="#fff" stroke="#0a0aff" stroke-width="0.8"/>
<rect x="513.09" y="592.87" width="2.4" height="2.4" fill="#fff" stroke="#0a0aff" stroke-width="0.8"/>
<rect x="515.8" y="592.25" width="2.4" height="2.4" fill="#fff" stroke="#0a0aff" stroke-width="0.8"/>
<rect x="518.52" y="588.43" width="2.4" height="2.4" fill="#fff" stroke="#0a0aff" stroke-width="0.8"/>
<rect x="521.23" y="589.26" width="2.4" height="2.4" fill="#fff" stroke="#0a0aff" stroke-width="0.8"/>
<rect x="523.95" y="587.65" width="2.4" height="2.4" fill="#fff" stroke="#0a0aff" stroke-width="0.8"/>
<rect x="526.66" y="585.99" width="2.4" height="2.4" fill="#fff" stroke="#0a0aff" stroke-width="0.8"/>
<rect x="529.38" y="584.5" width="2.4" height="2.4" fill="#fff" stroke="#0a0aff" stroke-width="0.8"/>
<rect x="532.09" y="580.96" width="2.4" height="2.4" fill="#fff" stroke="#0a0aff" stroke-width="0.8"/>
<rect x="534.81" y="583.38" width="2.4" height="2.4" fill="#fff" stroke="#0a0aff" stroke-width="0.8"/>
<rect x="537.52" y="582.31" width="2.4" height="2.4" fill="#fff" stroke="#0a0aff" stroke-width="0.8"/>
<rect x="540.24" y="578.57" width="2.4" height="2.4" fill="#fff" stroke="#0a0aff" stroke-width="0.8"/>
<rect x="542.95" y="580.16" width="2.4" height="2.4" fill="#fff" stroke="#0a0aff" stroke-width="0.8"/>
<rect x="545.67" y="577.1" width="2.4" height="2.4" fill="#fff" stroke="#0a0aff" stroke-width="0.8"/>
<rect x="548.38" y="573.68" width="2.4" height="2.4" fill="#fff" stroke="#0a0aff" stroke-width="0.8"/>
<rect x="551.1" y="573.73" width="2.4" height="2.4" fill="#fff" stroke="#0a0aff" stroke-width="0.8"/>
<rect x="553.81" y="572.77" width="2.4" height="2.4" fill="#fff" stroke="#0a0aff" stroke-width="0.8"/>
<rect x="556.53" y="571.48" width="2.4" height="2.4" fill="#fff" stroke="#0a0aff" stroke-width="0.8"/>
<rect x="559.24" y="570.15" width="2.4" height="2.4" fill="#fff" stroke="#0a0aff" stroke-width="0.8"/>
<path d="M464 461 L474.8 461 L469.4 471.8 Z" fill="#f00"/>
<line x1="615.6" y1="457.6" x2="615.6" y2="596.9" stroke="#000" stroke-width="1.6" />
<line x1="614.9" y1="596.2" x2="683" y2="596.2" stroke="#000" stroke-width="1.6" />
<line x1="610.4" y1="596.2" x2="615.6" y2="596.2" stroke="#000" stroke-width="1.2" />
<text transform="translate(607.2 600.1) scale(1 1.05)" font-size="11.3" text-anchor="end" fill="#111" >0</text>
<line x1="610.4" y1="568.62" x2="615.6" y2="568.62" stroke="#000" stroke-width="1.2" />
<text transform="translate(607.2 572.52) scale(1 1.05)" font-size="11.3" text-anchor="end" fill="#111" >20</text>
<line x1="610.4" y1="541.04" x2="615.6" y2="541.04" stroke="#000" stroke-width="1.2" />
<text transform="translate(607.2 544.94) scale(1 1.05)" font-size="11.3" text-anchor="end" fill="#111" >40</text>
<line x1="610.4" y1="513.46" x2="615.6" y2="513.46" stroke="#000" stroke-width="1.2" />
<text transform="translate(607.2 517.36) scale(1 1.05)" font-size="11.3" text-anchor="end" fill="#111" >60</text>
<line x1="610.4" y1="485.88" x2="615.6" y2="485.88" stroke="#000" stroke-width="1.2" />
<text transform="translate(607.2 489.78) scale(1 1.05)" font-size="11.3" text-anchor="end" fill="#111" >80</text>
<line x1="610.4" y1="458.3" x2="615.6" y2="458.3" stroke="#000" stroke-width="1.2" />
<text transform="translate(607.2 462.2) scale(1 1.05)" font-size="11.3" text-anchor="end" fill="#111" >100</text>
<text transform="translate(581.5 525.55) rotate(-90) scale(1 1.05)" font-size="11.6" text-anchor="middle" fill="#111">AP discharge (% of baseline)</text>
<line x1="634.2" y1="596.2" x2="634.2" y2="599.8" stroke="#000" stroke-width="1.1" />
<text transform="translate(634.2 613.7) scale(1 1.05)" font-size="11.2" text-anchor="middle" fill="#111" >L2/3</text>
<text transform="translate(634.2 626.2) scale(1 1.05)" font-size="11.2" text-anchor="middle" fill="#111" >(5)</text>
<line x1="663.3" y1="596.2" x2="663.3" y2="599.8" stroke="#000" stroke-width="1.1" />
<text transform="translate(663.3 613.7) scale(1 1.05)" font-size="11.2" text-anchor="middle" fill="#111" >L5</text>
<text transform="translate(663.3 626.2) scale(1 1.05)" font-size="11.2" text-anchor="middle" fill="#111" >(5)</text>
<line x1="634.2" y1="556.9" x2="634.2" y2="550" stroke="#000" stroke-width="1.2" />
<line x1="634.2" y1="596.2" x2="634.2" y2="596.2" stroke="#000" stroke-width="1.2" />
<rect x="625.4" y="556.9" width="17.6" height="39.3" fill="none" stroke="#000" stroke-width="1.2"/>
<line x1="625.4" y1="582.41" x2="643" y2="582.41" stroke="#000" stroke-width="1.2" />
<line x1="632" y1="550" x2="636.4" y2="550" stroke="#000" stroke-width="1.2" />
<line x1="632" y1="596.2" x2="636.4" y2="596.2" stroke="#000" stroke-width="1.2" />
<circle cx="634.2" cy="550.28" r="1.95" fill="#fff" stroke="#000" stroke-width="1.2"/>
<circle cx="634.2" cy="563.1" r="1.95" fill="#fff" stroke="#000" stroke-width="1.2"/>
<circle cx="634.2" cy="582.41" r="1.95" fill="#fff" stroke="#000" stroke-width="1.2"/>
<circle cx="629.9" cy="595.79" r="1.95" fill="#fff" stroke="#000" stroke-width="1.2"/>
<circle cx="638.5" cy="595.79" r="1.95" fill="#fff" stroke="#000" stroke-width="1.2"/>
<line x1="663.3" y1="574.83" x2="663.3" y2="570.69" stroke="#1a1aff" stroke-width="1.2" />
<line x1="663.3" y1="596.2" x2="663.3" y2="596.2" stroke="#1a1aff" stroke-width="1.2" />
<rect x="654.5" y="574.83" width="17.6" height="21.37" fill="none" stroke="#1a1aff" stroke-width="1.2"/>
<line x1="654.5" y1="586.55" x2="672.1" y2="586.55" stroke="#1a1aff" stroke-width="1.2" />
<line x1="661.1" y1="570.69" x2="665.5" y2="570.69" stroke="#1a1aff" stroke-width="1.2" />
<line x1="661.1" y1="596.2" x2="665.5" y2="596.2" stroke="#1a1aff" stroke-width="1.2" />
<circle cx="663.3" cy="570.96" r="1.95" fill="#fff" stroke="#1a1aff" stroke-width="1.2"/>
<circle cx="663.3" cy="577.86" r="1.95" fill="#fff" stroke="#1a1aff" stroke-width="1.2"/>
<circle cx="663.3" cy="586.55" r="1.95" fill="#fff" stroke="#1a1aff" stroke-width="1.2"/>
<circle cx="659" cy="595.79" r="1.95" fill="#fff" stroke="#1a1aff" stroke-width="1.2"/>
<circle cx="667.6" cy="595.79" r="1.95" fill="#fff" stroke="#1a1aff" stroke-width="1.2"/>
<path d="M634.2 465.1 L634.2 457.8 L663.3 457.8 L663.3 465.1" stroke="#000" stroke-width="1.2" fill="none" />
<text transform="translate(648.95 451) scale(1 1.05)" font-size="11.2" text-anchor="middle" fill="#111" >ns</text>
<text transform="translate(1.2 668.6) scale(1 1.05)" font-size="20" text-anchor="start" fill="#111" >G</text>
<text transform="translate(90.6 663.3) scale(1 1.05)" font-size="12.95" text-anchor="start" fill="#111" >Human (28-77 years)</text>
<text transform="translate(34.2 686.1) scale(1 1.05)" font-size="13.1" text-anchor="start" fill="#111" >Control</text>
<text transform="translate(148.8 685.9) scale(1 1.05)" font-size="12.9" text-anchor="start" fill="#111" >+CGP</text>
<text transform="translate(1.1 733.6) scale(1 1.05)" font-size="13.3" text-anchor="start" fill="#111" >L2/3</text>
<text transform="translate(13.1 818.8) scale(1 1.05)" font-size="12.6" text-anchor="start" fill="#1a1aff" >L5</text>
<path d="M51.8 688.8 L53.4 688.8 L53.4 691.75 L55.4 691.75 L52.6 697 L49.8 691.75 L51.8 691.75 Z" fill="#ff0000"/>
<path d="M165.8 688.8 L167.4 688.8 L167.4 691.75 L169.4 691.75 L166.6 697 L163.8 691.75 L165.8 691.75 Z" fill="#ff0000"/>
<path d="M51.8 769 L53.4 769 L53.4 771.95 L55.4 771.95 L52.6 777.2 L49.8 771.95 L51.8 771.95 Z" fill="#ff0000"/>
<path d="M165.8 770.7 L167.4 770.7 L167.4 773.65 L169.4 773.65 L166.6 778.9 L163.8 773.65 L165.8 773.65 Z" fill="#ff0000"/>
<path d="M37.5 755.29 L37.65 754 L37.7 706.09 L37.85 762.61 L38.96 755.06 L39.75 754 L39.8 706.03 L39.95 762.21 L41.3 755.99 L42.25 754 L42.3 705.69 L42.45 762 L43.62 755.68 L44.45 754 L44.5 705.79 L44.65 761.96 L46 755.52 L46.95 754 L47 705.88 L47.15 762.01 L48.26 755.82 L49.05 754 L49.1 705.95 L49.25 762.58 L50.78 755.66 L51.85 754 L51.9 705.64 L52.05 762.52 L53.52 755.17 L54.55 754 L54.6 705.59 L54.75 762.25 L55.75 758.3 L56.75 756.39 L57.75 755.6 L58.74 755.35 L59.74 754.85 L60.74 755.3 L61.74 755.5 L62.74 756.11 L63.74 756.38 L64.74 756.39 L65.73 756.01 L66.73 756.04 L67.73 755.6 L68.73 755.36 L69.73 755.27 L70.73 755.43 L71.73 755.37 L72.72 755.84 L73.72 755.65 L74.72 755.84 L75.72 755.57 L76.72 755.39 L77.72 755.29 L78.72 754.99 L79.71 754.54 L80.71 754.46 L81.71 754.71 L82.71 755.4 L83.71 755.63 L84.71 755.91 L85.71 756.48 L86.7 756.35 L87.7 756.15 L88.7 756.1 L89.7 755.72 L90.7 755.14 L91.7 755.54 L92.69 755.37 L93.69 755.43 L94.69 756.02 L95.69 755.9 L96.69 756.01 L97.69 755.83 L98.69 755.2 L99.68 755.19 L100.68 754.64 L101.68 754.22 L102.68 754.51 L103.68 754.52 L104.68 755.42 L105.68 755.73 L106.67 755.97 L107.67 756.4 L108.67 756.41 L109.67 756.19 L110.67 755.7 L111.67 755.38 L112.67 755.61 L113.66 755.62 L114.66 755.5 L115.66 755.74 L116.66 755.95 L117.66 755.97 L118.66 756.2 L119.66 755.72 L120.65 755.39 L121.65 754.9 L122.65 754.3 L123.75 754 L123.8 705.54 L123.95 761.79 L125.12 755.5 L125.95 754 L126 705.88 L126.15 762.89 L127.26 755.9 L128.05 754 L128.1 705.94 L128.25 762.1 L129.36 755.34 L130.15 754 L130.2 705.92 L130.35 762.05 L131.46 755.77 L132.25 754 L132.3 705.94 L132.45 761.76 L133.98 755.8 L135.05 754 L135.1 705.56 L135.25 762.01 L136.6 755.98 L137.55 754 L137.6 705.89 L137.75 762.71 L138.86 755.93 L139.65 754 L139.7 705.66 L139.85 762.63 L140.06 755.37 L140.3 755.06" stroke="#333" stroke-width="0.7" fill="none" stroke-linejoin="bevel"/>
<rect x="153.3" y="701" width="42.3" height="60.5" fill="#e6e6e6"/>
<rect x="153.3" y="750.5" width="42.3" height="11" fill="#dcdcdc"/>
<rect x="197.1" y="701" width="20.2" height="60.5" fill="#e6e6e6"/>
<rect x="197.1" y="750.5" width="20.2" height="11" fill="#dcdcdc"/>
<rect x="219.1" y="701" width="13.5" height="60.5" fill="#e6e6e6"/>
<rect x="219.1" y="750.5" width="13.5" height="11" fill="#dcdcdc"/>
<rect x="235.2" y="701" width="13.5" height="60.5" fill="#e6e6e6"/>
<rect x="235.2" y="750.5" width="13.5" height="11" fill="#dcdcdc"/>
<rect x="250" y="701" width="2.7" height="60.5" fill="#e6e6e6"/>
<rect x="250" y="750.5" width="2.7" height="11" fill="#dcdcdc"/>
<rect x="254.5" y="701" width="2.4" height="60.5" fill="#e6e6e6"/>
<rect x="254.5" y="750.5" width="2.4" height="11" fill="#dcdcdc"/>
<line x1="153.44" y1="701" x2="153.44" y2="761.5" stroke="#cdcdcd" stroke-width="0.6" />
<line x1="155.9" y1="701" x2="155.9" y2="761.5" stroke="#cdcdcd" stroke-width="0.6" />
<line x1="158.56" y1="701" x2="158.56" y2="761.5" stroke="#cdcdcd" stroke-width="0.6" />
<line x1="161.02" y1="701" x2="161.02" y2="761.5" stroke="#cdcdcd" stroke-width="0.6" />
<line x1="163.55" y1="701" x2="163.55" y2="761.5" stroke="#cdcdcd" stroke-width="0.6" />
<line x1="165.78" y1="701" x2="165.78" y2="761.5" stroke="#cdcdcd" stroke-width="0.6" />
<line x1="168.42" y1="701" x2="168.42" y2="761.5" stroke="#cdcdcd" stroke-width="0.6" />
<line x1="170.68" y1="701" x2="170.68" y2="761.5" stroke="#cdcdcd" stroke-width="0.6" />
<line x1="173.15" y1="701" x2="173.15" y2="761.5" stroke="#cdcdcd" stroke-width="0.6" />
<line x1="175.74" y1="701" x2="175.74" y2="761.5" stroke="#cdcdcd" stroke-width="0.6" />
<line x1="178.09" y1="701" x2="178.09" y2="761.5" stroke="#cdcdcd" stroke-width="0.6" />
<line x1="180.78" y1="701" x2="180.78" y2="761.5" stroke="#cdcdcd" stroke-width="0.6" />
<line x1="182.96" y1="701" x2="182.96" y2="761.5" stroke="#cdcdcd" stroke-width="0.6" />
<line x1="185.38" y1="701" x2="185.38" y2="761.5" stroke="#cdcdcd" stroke-width="0.6" />
<line x1="188.09" y1="701" x2="188.09" y2="761.5" stroke="#cdcdcd" stroke-width="0.6" />
<line x1="190.54" y1="701" x2="190.54" y2="761.5" stroke="#cdcdcd" stroke-width="0.6" />
<line x1="192.71" y1="701" x2="192.71" y2="761.5" stroke="#cdcdcd" stroke-width="0.6" />
<line x1="195.24" y1="701" x2="195.24" y2="761.5" stroke="#cdcdcd" stroke-width="0.6" />
<line x1="197.4" y1="701" x2="197.4" y2="761.5" stroke="#cdcdcd" stroke-width="0.6" />
<line x1="200.03" y1="701" x2="200.03" y2="761.5" stroke="#cdcdcd" stroke-width="0.6" />
<line x1="202.95" y1="701" x2="202.95" y2="761.5" stroke="#cdcdcd" stroke-width="0.6" />
<line x1="205.91" y1="701" x2="205.91" y2="761.5" stroke="#cdcdcd" stroke-width="0.6" />
<line x1="208.71" y1="701" x2="208.71" y2="761.5" stroke="#cdcdcd" stroke-width="0.6" />
<line x1="211.26" y1="701" x2="211.26" y2="761.5" stroke="#cdcdcd" stroke-width="0.6" />
<line x1="214.12" y1="701" x2="214.12" y2="761.5" stroke="#cdcdcd" stroke-width="0.6" />
<line x1="216.91" y1="701" x2="216.91" y2="761.5" stroke="#cdcdcd" stroke-width="0.6" />
<line x1="219.47" y1="701" x2="219.47" y2="761.5" stroke="#cdcdcd" stroke-width="0.6" />
<line x1="222.48" y1="701" x2="222.48" y2="761.5" stroke="#cdcdcd" stroke-width="0.6" />
<line x1="226.04" y1="701" x2="226.04" y2="761.5" stroke="#cdcdcd" stroke-width="0.6" />
<line x1="228.92" y1="701" x2="228.92" y2="761.5" stroke="#cdcdcd" stroke-width="0.6" />
<line x1="232.31" y1="701" x2="232.31" y2="761.5" stroke="#cdcdcd" stroke-width="0.6" />
<line x1="235.58" y1="701" x2="235.58" y2="761.5" stroke="#cdcdcd" stroke-width="0.6" />
<line x1="238.9" y1="701" x2="238.9" y2="761.5" stroke="#cdcdcd" stroke-width="0.6" />
<line x1="242" y1="701" x2="242" y2="761.5" stroke="#cdcdcd" stroke-width="0.6" />
<line x1="245.32" y1="701" x2="245.32" y2="761.5" stroke="#cdcdcd" stroke-width="0.6" />
<line x1="248.41" y1="701" x2="248.41" y2="761.5" stroke="#cdcdcd" stroke-width="0.6" />
<line x1="250.19" y1="701" x2="250.19" y2="761.5" stroke="#cdcdcd" stroke-width="0.6" />
<line x1="252.37" y1="701" x2="252.37" y2="761.5" stroke="#cdcdcd" stroke-width="0.6" />
<line x1="254.84" y1="701" x2="254.84" y2="761.5" stroke="#cdcdcd" stroke-width="0.6" />
<line x1="256.61" y1="701" x2="256.61" y2="761.5" stroke="#cdcdcd" stroke-width="0.6" />
<path d="M37 841.33 L37.65 840 L37.7 783.64 L37.85 844.83 L39.04 841.43 L39.88 840 L39.93 783.75 L40.08 844.55 L41.26 841.37 L42.1 840 L42.15 783.45 L42.3 844.94 L43.48 841.92 L44.33 840 L44.38 783.74 L44.52 844.19 L45.71 841.71 L46.55 840 L46.6 783.6 L46.75 845.1 L47.94 841.01 L48.78 840 L48.83 783.76 L48.98 844.51 L50.16 841.86 L51 840 L51.05 783.66 L51.2 843.91 L52.38 841.69 L53.23 840 L53.27 783.62 L53.42 844.21 L54.61 841.12 L55.45 840 L55.5 783.54 L55.65 844.63 L55.86 841.48 L56.1 841.02" stroke="#5a5aff" stroke-width="0.6" fill="none" stroke-linejoin="bevel"/>
<path d="M56.1 842 L58 843.5 L58.99 841.89 L60.34 840.55 L61.4 839 L62.69 839.77 L64 840.5 L65.49 840.8 L67 840.81 L68.51 840.9 L70 841.2 L71.53 841.4 L73.08 841.15 L74.62 841.12 L76.16 841.32 L77.69 841.41 L79.24 841.33 L80.76 841.75 L82.31 841.44 L83.85 841.43 L85.38 841.74 L86.93 841.53 L88.46 841.64 L90 841.8 L91.63 841.84 L93.26 841.86 L94.87 842.14 L96.51 841.97 L98.12 842.31 L99.76 842.13 L101.37 842.45 L103 842.5 L104.77 842.56 L106.51 842.29 L108.27 842.2 L110 841.8 L111.54 841.78 L113.07 841.54 L114.61 841.6 L116.16 841.75 L117.69 841.39 L119.23 841.61 L120.77 841.39 L122.31 841.64 L123.84 841.31 L125.38 841.25 L126.92 841.18 L128.46 841.27 L130 841.2 L131.55 841.4 L133.09 841.16 L134.63 841.23 L136.17 841.1 L137.71 840.85 L139.26 841.07 L140.8 841" stroke="#2a2ad8" stroke-width="0.8" fill="none" />
<rect x="153.65" y="782" width="103.42" height="58.5" fill="#eaf2fc"/>
<rect x="153.3" y="836.6" width="104.4" height="7" fill="#dbe9fa"/>
<path d="M153.3 840.82 L153.6 839 L153.65 782.15 L153.8 844.02 L154.78 840.61 L155.48 839 L155.53 782.21 L155.68 842.88 L156.58 840.86 L157.22 839 L157.27 782.07 L157.42 843.81 L158.39 840.53 L159.09 839 L159.14 782.27 L159.29 842.9 L160.29 840.42 L161.01 839 L161.06 782.01 L161.21 843.79 L162.1 840.71 L162.74 839 L162.79 782.08 L162.94 843.46 L163.96 840.18 L164.69 839 L164.74 782.43 L164.89 843.05 L165.91 840.17 L166.64 839 L166.69 782.17 L166.84 844.06 L167.89 840.82 L168.64 839 L168.69 782.24 L168.84 843.83 L169.94 840.36 L170.72 839 L170.77 782.11 L170.92 843.97 L171.84 840.04 L172.5 839 L172.55 782.48 L172.7 844.05 L173.63 840.08 L174.3 839 L174.35 782.52 L174.5 843.81 L175.54 840.04 L176.28 839 L176.33 782.27 L176.48 843.14 L177.38 840.38 L178.03 839 L178.08 782.23 L178.23 843.31 L179.1 840.01 L179.72 839 L179.77 782.16 L179.92 843.18 L181.09 840.65 L181.93 839 L181.98 782.42 L182.13 843.78 L183.11 840.64 L183.82 839 L183.87 782.54 L184.02 843.52 L184.99 840.31 L185.68 839 L185.73 782.02 L185.88 843.74 L186.92 840.56 L187.66 839 L187.71 782.1 L187.86 843.46 L188.82 840.94 L189.51 839 L189.56 782.36 L189.71 843.2 L190.71 840.81 L191.42 839 L191.47 782.24 L191.62 842.82 L192.37 840.08 L192.92 839 L192.97 782.58 L193.12 842.92 L194.38 840.78 L195.28 839 L195.33 782.02 L195.48 843.35 L196.34 840.28 L196.96 839 L197.01 782.21 L197.16 842.92 L198.14 840.4 L198.85 839 L198.9 782.46 L199.05 843.48 L200.03 840.13 L200.74 839 L200.79 782.48 L200.94 843.93 L201.82 840.46 L202.46 839 L202.51 782.22 L202.66 842.82 L203.65 840.07 L204.36 839 L204.41 782.23 L204.56 842.95 L205.71 840.97 L206.53 839 L206.58 782.39 L206.73 843.21 L207.63 840.58 L208.28 839 L208.33 782.1 L208.48 843.99 L209.57 840.5 L210.34 839 L210.39 782.42 L210.54 843.04 L211.3 840.47 L211.85 839 L211.9 782.43 L212.05 843.3 L213.15 840.07 L213.93 839 L213.98 782.28 L214.13 843.87 L215.11 840.46 L215.82 839 L215.87 782.59 L216.02 843.53 L216.83 840.88 L217.42 839 L217.47 782.02 L217.62 843.62 L218.78 840.51 L219.6 839 L219.65 782.21 L219.8 843.97 L220.71 840.09 L221.37 839 L221.42 782.29 L221.57 843.2 L222.56 840.96 L223.28 839 L223.33 782.47 L223.48 843.06 L224.38 840.13 L225.04 839 L225.09 782.01 L225.24 843.03 L226.34 840.93 L227.13 839 L227.18 782.52 L227.33 843.84 L228.33 840.4 L229.05 839 L229.1 782.29 L229.25 843.55 L230.3 840.81 L231.05 839 L231.1 782 L231.25 843.04 L232.22 840.58 L232.91 839 L232.96 782.08 L233.11 844.02 L234.13 840.04 L234.86 839 L234.91 782.58 L235.06 843.08 L236.04 840.19 L236.75 839 L236.8 782.25 L236.95 843.63 L237.85 840.98 L238.5 839 L238.55 782.29 L238.7 843.97 L239.55 840.89 L240.17 839 L240.22 782.59 L240.37 843.27 L241.43 840.47 L242.19 839 L242.24 782.01 L242.39 843.3 L243.23 840.35 L243.84 839 L243.89 782.07 L244.04 843.88 L245.17 840.28 L245.97 839 L246.02 782.08 L246.17 842.95 L247.07 840.02 L247.73 839 L247.78 782.45 L247.93 843.49 L248.98 840.52 L249.73 839 L249.78 782.25 L249.93 844.05 L250.97 840.38 L251.72 839 L251.77 782.28 L251.92 843.7 L252.69 840.93 L253.26 839 L253.31 782.52 L253.46 843.95 L254.69 840.18 L255.55 839 L255.6 782.57 L255.75 843.87 L256.48 840.33 L257.02 839 L257.07 782.48 L257.22 844.04 L257.45 840.74 L257.7 840.74" stroke="#c8ddf6" stroke-width="0.6" fill="none" stroke-linejoin="bevel"/>
<path d="M193.3 860.5 L218.7 860.5 L218.7 847.4" stroke="#000" stroke-width="1.6" fill="none" />
<text transform="translate(224.3 857.9) scale(1 1.05)" font-size="12.7" text-anchor="start" fill="#111" >20mV</text>
<text transform="translate(194.1 875.5) scale(1 1.05)" font-size="12.7" text-anchor="start" fill="#111" >2.5 s</text>
<text transform="translate(264.6 668.8) scale(1 1.05)" font-size="20" text-anchor="start" fill="#111" >H</text>
<text transform="translate(367.5 663.9) scale(1 1.05)" font-size="12.95" text-anchor="start" fill="#111" >Human (28-77 years)</text>
<text transform="translate(356.8 686.1) scale(1 1.05)" font-size="12.8" text-anchor="middle" fill="#111" >L2/3 PC</text>
<line x1="300.3" y1="707.5" x2="300.3" y2="847.1" stroke="#000" stroke-width="1.5" />
<line x1="299.6" y1="846.4" x2="409" y2="846.4" stroke="#000" stroke-width="1.5" />
<line x1="296.3" y1="846.4" x2="300.3" y2="846.4" stroke="#000" stroke-width="1.2" />
<text transform="translate(294.9 850.3) scale(1 1.05)" font-size="11.3" text-anchor="end" fill="#111" >0</text>
<line x1="296.3" y1="800.33" x2="300.3" y2="800.33" stroke="#000" stroke-width="1.2" />
<text transform="translate(294.9 804.23) scale(1 1.05)" font-size="11.3" text-anchor="end" fill="#111" >5</text>
<line x1="296.3" y1="754.27" x2="300.3" y2="754.27" stroke="#000" stroke-width="1.2" />
<text transform="translate(294.9 758.17) scale(1 1.05)" font-size="11.3" text-anchor="end" fill="#111" >10</text>
<line x1="296.3" y1="708.2" x2="300.3" y2="708.2" stroke="#000" stroke-width="1.2" />
<text transform="translate(294.9 712.1) scale(1 1.05)" font-size="11.3" text-anchor="end" fill="#111" >15</text>
<line x1="300.3" y1="846.4" x2="300.3" y2="850.4" stroke="#000" stroke-width="1.2" />
<text transform="translate(300.3 862.8) scale(1 1.05)" font-size="11.3" text-anchor="middle" fill="#111" >0</text>
<line x1="321.9" y1="846.4" x2="321.9" y2="850.4" stroke="#000" stroke-width="1.2" />
<text transform="translate(321.9 862.8) scale(1 1.05)" font-size="11.3" text-anchor="middle" fill="#111" >2</text>
<line x1="343.5" y1="846.4" x2="343.5" y2="850.4" stroke="#000" stroke-width="1.2" />
<text transform="translate(343.5 862.8) scale(1 1.05)" font-size="11.3" text-anchor="middle" fill="#111" >4</text>
<line x1="365.1" y1="846.4" x2="365.1" y2="850.4" stroke="#000" stroke-width="1.2" />
<text transform="translate(365.1 862.8) scale(1 1.05)" font-size="11.3" text-anchor="middle" fill="#111" >6</text>
<line x1="386.7" y1="846.4" x2="386.7" y2="850.4" stroke="#000" stroke-width="1.2" />
<text transform="translate(386.7 862.8) scale(1 1.05)" font-size="11.3" text-anchor="middle" fill="#111" >8</text>
<line x1="408.3" y1="846.4" x2="408.3" y2="850.4" stroke="#000" stroke-width="1.2" />
<text transform="translate(408.3 862.8) scale(1 1.05)" font-size="11.3" text-anchor="middle" fill="#111" >10</text>
<text transform="translate(354.6 878) scale(1 1.05)" font-size="11.8" text-anchor="middle" fill="#111" >Time (s)</text>
<text transform="translate(274.4 776.8) rotate(-90) scale(1 1.05)" font-size="11.6" text-anchor="middle" fill="#111">AP frequency (Hz)</text>
<line x1="301.65" y1="828.31" x2="301.65" y2="811.07" stroke="#a2a2a2" stroke-width="1.15" />
<line x1="299.25" y1="811.07" x2="304.05" y2="811.07" stroke="#a2a2a2" stroke-width="1.15" />
<line x1="299.25" y1="828.31" x2="304.05" y2="828.31" stroke="#a2a2a2" stroke-width="1.15" />
<line x1="304.35" y1="819.01" x2="304.35" y2="797.96" stroke="#a2a2a2" stroke-width="1.15" />
<line x1="301.95" y1="797.96" x2="306.75" y2="797.96" stroke="#a2a2a2" stroke-width="1.15" />
<line x1="301.95" y1="819.01" x2="306.75" y2="819.01" stroke="#a2a2a2" stroke-width="1.15" />
<line x1="307.05" y1="813.51" x2="307.05" y2="795.53" stroke="#a2a2a2" stroke-width="1.15" />
<line x1="304.65" y1="795.53" x2="309.45" y2="795.53" stroke="#a2a2a2" stroke-width="1.15" />
<line x1="304.65" y1="813.51" x2="309.45" y2="813.51" stroke="#a2a2a2" stroke-width="1.15" />
<line x1="309.75" y1="810.4" x2="309.75" y2="794.42" stroke="#a2a2a2" stroke-width="1.15" />
<line x1="307.35" y1="794.42" x2="312.15" y2="794.42" stroke="#a2a2a2" stroke-width="1.15" />
<line x1="307.35" y1="810.4" x2="312.15" y2="810.4" stroke="#a2a2a2" stroke-width="1.15" />
<line x1="312.45" y1="806.03" x2="312.45" y2="790.64" stroke="#a2a2a2" stroke-width="1.15" />
<line x1="310.05" y1="790.64" x2="314.85" y2="790.64" stroke="#a2a2a2" stroke-width="1.15" />
<line x1="310.05" y1="806.03" x2="314.85" y2="806.03" stroke="#a2a2a2" stroke-width="1.15" />
<line x1="315.15" y1="808.29" x2="315.15" y2="790.67" stroke="#a2a2a2" stroke-width="1.15" />
<line x1="312.75" y1="790.67" x2="317.55" y2="790.67" stroke="#a2a2a2" stroke-width="1.15" />
<line x1="312.75" y1="808.29" x2="317.55" y2="808.29" stroke="#a2a2a2" stroke-width="1.15" />
<line x1="317.85" y1="797.58" x2="317.85" y2="780.68" stroke="#a2a2a2" stroke-width="1.15" />
<line x1="315.45" y1="780.68" x2="320.25" y2="780.68" stroke="#a2a2a2" stroke-width="1.15" />
<line x1="315.45" y1="797.58" x2="320.25" y2="797.58" stroke="#a2a2a2" stroke-width="1.15" />
<line x1="320.55" y1="809.35" x2="320.55" y2="787.65" stroke="#a2a2a2" stroke-width="1.15" />
<line x1="318.15" y1="787.65" x2="322.95" y2="787.65" stroke="#a2a2a2" stroke-width="1.15" />
<line x1="318.15" y1="809.35" x2="322.95" y2="809.35" stroke="#a2a2a2" stroke-width="1.15" />
<line x1="323.25" y1="809.85" x2="323.25" y2="787.76" stroke="#a2a2a2" stroke-width="1.15" />
<line x1="320.85" y1="787.76" x2="325.65" y2="787.76" stroke="#a2a2a2" stroke-width="1.15" />
<line x1="320.85" y1="809.85" x2="325.65" y2="809.85" stroke="#a2a2a2" stroke-width="1.15" />
<line x1="325.95" y1="808.24" x2="325.95" y2="785.97" stroke="#a2a2a2" stroke-width="1.15" />
<line x1="323.55" y1="785.97" x2="328.35" y2="785.97" stroke="#a2a2a2" stroke-width="1.15" />
<line x1="323.55" y1="808.24" x2="328.35" y2="808.24" stroke="#a2a2a2" stroke-width="1.15" />
<line x1="328.65" y1="817.29" x2="328.65" y2="794.42" stroke="#a2a2a2" stroke-width="1.15" />
<line x1="326.25" y1="794.42" x2="331.05" y2="794.42" stroke="#a2a2a2" stroke-width="1.15" />
<line x1="326.25" y1="817.29" x2="331.05" y2="817.29" stroke="#a2a2a2" stroke-width="1.15" />
<line x1="331.35" y1="808.51" x2="331.35" y2="791.86" stroke="#a2a2a2" stroke-width="1.15" />
<line x1="328.95" y1="791.86" x2="333.75" y2="791.86" stroke="#a2a2a2" stroke-width="1.15" />
<line x1="328.95" y1="808.51" x2="333.75" y2="808.51" stroke="#a2a2a2" stroke-width="1.15" />
<line x1="334.05" y1="809.77" x2="334.05" y2="793.03" stroke="#a2a2a2" stroke-width="1.15" />
<line x1="331.65" y1="793.03" x2="336.45" y2="793.03" stroke="#a2a2a2" stroke-width="1.15" />
<line x1="331.65" y1="809.77" x2="336.45" y2="809.77" stroke="#a2a2a2" stroke-width="1.15" />
<line x1="336.75" y1="817.05" x2="336.75" y2="794.27" stroke="#a2a2a2" stroke-width="1.15" />
<line x1="334.35" y1="794.27" x2="339.15" y2="794.27" stroke="#a2a2a2" stroke-width="1.15" />
<line x1="334.35" y1="817.05" x2="339.15" y2="817.05" stroke="#a2a2a2" stroke-width="1.15" />
<line x1="339.45" y1="815.6" x2="339.45" y2="801.3" stroke="#a2a2a2" stroke-width="1.15" />
<line x1="337.05" y1="801.3" x2="341.85" y2="801.3" stroke="#a2a2a2" stroke-width="1.15" />
<line x1="337.05" y1="815.6" x2="341.85" y2="815.6" stroke="#a2a2a2" stroke-width="1.15" />
<line x1="342.15" y1="817.59" x2="342.15" y2="796.56" stroke="#a2a2a2" stroke-width="1.15" />
<line x1="339.75" y1="796.56" x2="344.55" y2="796.56" stroke="#a2a2a2" stroke-width="1.15" />
<line x1="339.75" y1="817.59" x2="344.55" y2="817.59" stroke="#a2a2a2" stroke-width="1.15" />
<line x1="344.85" y1="821.09" x2="344.85" y2="802.35" stroke="#a2a2a2" stroke-width="1.15" />
<line x1="342.45" y1="802.35" x2="347.25" y2="802.35" stroke="#a2a2a2" stroke-width="1.15" />
<line x1="342.45" y1="821.09" x2="347.25" y2="821.09" stroke="#a2a2a2" stroke-width="1.15" />
<line x1="347.55" y1="812.62" x2="347.55" y2="792.04" stroke="#a2a2a2" stroke-width="1.15" />
<line x1="345.15" y1="792.04" x2="349.95" y2="792.04" stroke="#a2a2a2" stroke-width="1.15" />
<line x1="345.15" y1="812.62" x2="349.95" y2="812.62" stroke="#a2a2a2" stroke-width="1.15" />
<line x1="350.25" y1="817.33" x2="350.25" y2="796.36" stroke="#a2a2a2" stroke-width="1.15" />
<line x1="347.85" y1="796.36" x2="352.65" y2="796.36" stroke="#a2a2a2" stroke-width="1.15" />
<line x1="347.85" y1="817.33" x2="352.65" y2="817.33" stroke="#a2a2a2" stroke-width="1.15" />
<line x1="352.95" y1="820.02" x2="352.95" y2="799.41" stroke="#a2a2a2" stroke-width="1.15" />
<line x1="350.55" y1="799.41" x2="355.35" y2="799.41" stroke="#a2a2a2" stroke-width="1.15" />
<line x1="350.55" y1="820.02" x2="355.35" y2="820.02" stroke="#a2a2a2" stroke-width="1.15" />
<line x1="355.65" y1="818.09" x2="355.65" y2="803.08" stroke="#a2a2a2" stroke-width="1.15" />
<line x1="353.25" y1="803.08" x2="358.05" y2="803.08" stroke="#a2a2a2" stroke-width="1.15" />
<line x1="353.25" y1="818.09" x2="358.05" y2="818.09" stroke="#a2a2a2" stroke-width="1.15" />
<line x1="358.35" y1="812.44" x2="358.35" y2="800.16" stroke="#a2a2a2" stroke-width="1.15" />
<line x1="355.95" y1="800.16" x2="360.75" y2="800.16" stroke="#a2a2a2" stroke-width="1.15" />
<line x1="355.95" y1="812.44" x2="360.75" y2="812.44" stroke="#a2a2a2" stroke-width="1.15" />
<line x1="361.05" y1="815.84" x2="361.05" y2="791.57" stroke="#a2a2a2" stroke-width="1.15" />
<line x1="358.65" y1="791.57" x2="363.45" y2="791.57" stroke="#a2a2a2" stroke-width="1.15" />
<line x1="358.65" y1="815.84" x2="363.45" y2="815.84" stroke="#a2a2a2" stroke-width="1.15" />
<line x1="363.75" y1="824.17" x2="363.75" y2="800.61" stroke="#a2a2a2" stroke-width="1.15" />
<line x1="361.35" y1="800.61" x2="366.15" y2="800.61" stroke="#a2a2a2" stroke-width="1.15" />
<line x1="361.35" y1="824.17" x2="366.15" y2="824.17" stroke="#a2a2a2" stroke-width="1.15" />
<line x1="366.45" y1="819.73" x2="366.45" y2="801.25" stroke="#a2a2a2" stroke-width="1.15" />
<line x1="364.05" y1="801.25" x2="368.85" y2="801.25" stroke="#a2a2a2" stroke-width="1.15" />
<line x1="364.05" y1="819.73" x2="368.85" y2="819.73" stroke="#a2a2a2" stroke-width="1.15" />
<line x1="369.15" y1="824.58" x2="369.15" y2="804.07" stroke="#a2a2a2" stroke-width="1.15" />
<line x1="366.75" y1="804.07" x2="371.55" y2="804.07" stroke="#a2a2a2" stroke-width="1.15" />
<line x1="366.75" y1="824.58" x2="371.55" y2="824.58" stroke="#a2a2a2" stroke-width="1.15" />
<line x1="371.85" y1="813.72" x2="371.85" y2="800.57" stroke="#a2a2a2" stroke-width="1.15" />
<line x1="369.45" y1="800.57" x2="374.25" y2="800.57" stroke="#a2a2a2" stroke-width="1.15" />
<line x1="369.45" y1="813.72" x2="374.25" y2="813.72" stroke="#a2a2a2" stroke-width="1.15" />
<line x1="374.55" y1="817.9" x2="374.55" y2="800.01" stroke="#a2a2a2" stroke-width="1.15" />
<line x1="372.15" y1="800.01" x2="376.95" y2="800.01" stroke="#a2a2a2" stroke-width="1.15" />
<line x1="372.15" y1="817.9" x2="376.95" y2="817.9" stroke="#a2a2a2" stroke-width="1.15" />
<line x1="377.25" y1="812.52" x2="377.25" y2="792.96" stroke="#a2a2a2" stroke-width="1.15" />
<line x1="374.85" y1="792.96" x2="379.65" y2="792.96" stroke="#a2a2a2" stroke-width="1.15" />
<line x1="374.85" y1="812.52" x2="379.65" y2="812.52" stroke="#a2a2a2" stroke-width="1.15" />
<line x1="379.95" y1="820.65" x2="379.95" y2="799.65" stroke="#a2a2a2" stroke-width="1.15" />
<line x1="377.55" y1="799.65" x2="382.35" y2="799.65" stroke="#a2a2a2" stroke-width="1.15" />
<line x1="377.55" y1="820.65" x2="382.35" y2="820.65" stroke="#a2a2a2" stroke-width="1.15" />
<line x1="382.65" y1="818.66" x2="382.65" y2="803.86" stroke="#a2a2a2" stroke-width="1.15" />
<line x1="380.25" y1="803.86" x2="385.05" y2="803.86" stroke="#a2a2a2" stroke-width="1.15" />
<line x1="380.25" y1="818.66" x2="385.05" y2="818.66" stroke="#a2a2a2" stroke-width="1.15" />
<line x1="385.35" y1="818.83" x2="385.35" y2="805.66" stroke="#a2a2a2" stroke-width="1.15" />
<line x1="382.95" y1="805.66" x2="387.75" y2="805.66" stroke="#a2a2a2" stroke-width="1.15" />
<line x1="382.95" y1="818.83" x2="387.75" y2="818.83" stroke="#a2a2a2" stroke-width="1.15" />
<line x1="388.05" y1="819.82" x2="388.05" y2="795.45" stroke="#a2a2a2" stroke-width="1.15" />
<line x1="385.65" y1="795.45" x2="390.45" y2="795.45" stroke="#a2a2a2" stroke-width="1.15" />
<line x1="385.65" y1="819.82" x2="390.45" y2="819.82" stroke="#a2a2a2" stroke-width="1.15" />
<line x1="390.75" y1="826.82" x2="390.75" y2="803.9" stroke="#a2a2a2" stroke-width="1.15" />
<line x1="388.35" y1="803.9" x2="393.15" y2="803.9" stroke="#a2a2a2" stroke-width="1.15" />
<line x1="388.35" y1="826.82" x2="393.15" y2="826.82" stroke="#a2a2a2" stroke-width="1.15" />
<line x1="393.45" y1="815.4" x2="393.45" y2="801.11" stroke="#a2a2a2" stroke-width="1.15" />
<line x1="391.05" y1="801.11" x2="395.85" y2="801.11" stroke="#a2a2a2" stroke-width="1.15" />
<line x1="391.05" y1="815.4" x2="395.85" y2="815.4" stroke="#a2a2a2" stroke-width="1.15" />
<line x1="396.15" y1="821.24" x2="396.15" y2="798.65" stroke="#a2a2a2" stroke-width="1.15" />
<line x1="393.75" y1="798.65" x2="398.55" y2="798.65" stroke="#a2a2a2" stroke-width="1.15" />
<line x1="393.75" y1="821.24" x2="398.55" y2="821.24" stroke="#a2a2a2" stroke-width="1.15" />
<line x1="398.85" y1="823.62" x2="398.85" y2="801.17" stroke="#a2a2a2" stroke-width="1.15" />
<line x1="396.45" y1="801.17" x2="401.25" y2="801.17" stroke="#a2a2a2" stroke-width="1.15" />
<line x1="396.45" y1="823.62" x2="401.25" y2="823.62" stroke="#a2a2a2" stroke-width="1.15" />
<line x1="401.55" y1="820.92" x2="401.55" y2="806.6" stroke="#a2a2a2" stroke-width="1.15" />
<line x1="399.15" y1="806.6" x2="403.95" y2="806.6" stroke="#a2a2a2" stroke-width="1.15" />
<line x1="399.15" y1="820.92" x2="403.95" y2="820.92" stroke="#a2a2a2" stroke-width="1.15" />
<line x1="404.25" y1="819.12" x2="404.25" y2="796.76" stroke="#a2a2a2" stroke-width="1.15" />
<line x1="401.85" y1="796.76" x2="406.65" y2="796.76" stroke="#a2a2a2" stroke-width="1.15" />
<line x1="401.85" y1="819.12" x2="406.65" y2="819.12" stroke="#a2a2a2" stroke-width="1.15" />
<line x1="406.95" y1="814.08" x2="406.95" y2="797.18" stroke="#a2a2a2" stroke-width="1.15" />
<line x1="404.55" y1="797.18" x2="409.35" y2="797.18" stroke="#a2a2a2" stroke-width="1.15" />
<line x1="404.55" y1="814.08" x2="409.35" y2="814.08" stroke="#a2a2a2" stroke-width="1.15" />
<path d="M301.65 819.69 L304.35 808.49 L307.05 804.52 L309.75 802.41 L312.45 798.34 L315.15 799.48 L317.85 789.13 L320.55 798.5 L323.25 798.8 L325.95 797.11 L328.65 805.85 L331.35 800.18 L334.05 801.4 L336.75 805.66 L339.45 808.45 L342.15 807.07 L344.85 811.72 L347.55 802.33 L350.25 806.85 L352.95 809.71 L355.65 810.58 L358.35 806.3 L361.05 803.7 L363.75 812.39 L366.45 810.49 L369.15 814.33 L371.85 807.14 L374.55 808.95 L377.25 802.74 L379.95 810.15 L382.65 811.26 L385.35 812.25 L388.05 807.64 L390.75 815.36 L393.45 808.26 L396.15 809.95 L398.85 812.39 L401.55 813.76 L404.25 807.94 L406.95 805.63" stroke="#a2a2a2" stroke-width="1.3" fill="none" />
<rect x="300.45" y="818.49" width="2.4" height="2.4" fill="#eee" stroke="#a2a2a2" stroke-width="0.8"/>
<rect x="303.15" y="807.29" width="2.4" height="2.4" fill="#eee" stroke="#a2a2a2" stroke-width="0.8"/>
<rect x="305.85" y="803.32" width="2.4" height="2.4" fill="#eee" stroke="#a2a2a2" stroke-width="0.8"/>
<rect x="308.55" y="801.21" width="2.4" height="2.4" fill="#eee" stroke="#a2a2a2" stroke-width="0.8"/>
<rect x="311.25" y="797.14" width="2.4" height="2.4" fill="#eee" stroke="#a2a2a2" stroke-width="0.8"/>
<rect x="313.95" y="798.28" width="2.4" height="2.4" fill="#eee" stroke="#a2a2a2" stroke-width="0.8"/>
<rect x="316.65" y="787.93" width="2.4" height="2.4" fill="#eee" stroke="#a2a2a2" stroke-width="0.8"/>
<rect x="319.35" y="797.3" width="2.4" height="2.4" fill="#eee" stroke="#a2a2a2" stroke-width="0.8"/>
<rect x="322.05" y="797.6" width="2.4" height="2.4" fill="#eee" stroke="#a2a2a2" stroke-width="0.8"/>
<rect x="324.75" y="795.91" width="2.4" height="2.4" fill="#eee" stroke="#a2a2a2" stroke-width="0.8"/>
<rect x="327.45" y="804.65" width="2.4" height="2.4" fill="#eee" stroke="#a2a2a2" stroke-width="0.8"/>
<rect x="330.15" y="798.98" width="2.4" height="2.4" fill="#eee" stroke="#a2a2a2" stroke-width="0.8"/>
<rect x="332.85" y="800.2" width="2.4" height="2.4" fill="#eee" stroke="#a2a2a2" stroke-width="0.8"/>
<rect x="335.55" y="804.46" width="2.4" height="2.4" fill="#eee" stroke="#a2a2a2" stroke-width="0.8"/>
<rect x="338.25" y="807.25" width="2.4" height="2.4" fill="#eee" stroke="#a2a2a2" stroke-width="0.8"/>
<rect x="340.95" y="805.87" width="2.4" height="2.4" fill="#eee" stroke="#a2a2a2" stroke-width="0.8"/>
<rect x="343.65" y="810.52" width="2.4" height="2.4" fill="#eee" stroke="#a2a2a2" stroke-width="0.8"/>
<rect x="346.35" y="801.13" width="2.4" height="2.4" fill="#eee" stroke="#a2a2a2" stroke-width="0.8"/>
<rect x="349.05" y="805.65" width="2.4" height="2.4" fill="#eee" stroke="#a2a2a2" stroke-width="0.8"/>
<rect x="351.75" y="808.51" width="2.4" height="2.4" fill="#eee" stroke="#a2a2a2" stroke-width="0.8"/>
<rect x="354.45" y="809.38" width="2.4" height="2.4" fill="#eee" stroke="#a2a2a2" stroke-width="0.8"/>
<rect x="357.15" y="805.1" width="2.4" height="2.4" fill="#eee" stroke="#a2a2a2" stroke-width="0.8"/>
<rect x="359.85" y="802.5" width="2.4" height="2.4" fill="#eee" stroke="#a2a2a2" stroke-width="0.8"/>
<rect x="362.55" y="811.19" width="2.4" height="2.4" fill="#eee" stroke="#a2a2a2" stroke-width="0.8"/>
<rect x="365.25" y="809.29" width="2.4" height="2.4" fill="#eee" stroke="#a2a2a2" stroke-width="0.8"/>
<rect x="367.95" y="813.13" width="2.4" height="2.4" fill="#eee" stroke="#a2a2a2" stroke-width="0.8"/>
<rect x="370.65" y="805.94" width="2.4" height="2.4" fill="#eee" stroke="#a2a2a2" stroke-width="0.8"/>
<rect x="373.35" y="807.75" width="2.4" height="2.4" fill="#eee" stroke="#a2a2a2" stroke-width="0.8"/>
<rect x="376.05" y="801.54" width="2.4" height="2.4" fill="#eee" stroke="#a2a2a2" stroke-width="0.8"/>
<rect x="378.75" y="808.95" width="2.4" height="2.4" fill="#eee" stroke="#a2a2a2" stroke-width="0.8"/>
<rect x="381.45" y="810.06" width="2.4" height="2.4" fill="#eee" stroke="#a2a2a2" stroke-width="0.8"/>
<rect x="384.15" y="811.05" width="2.4" height="2.4" fill="#eee" stroke="#a2a2a2" stroke-width="0.8"/>
<rect x="386.85" y="806.44" width="2.4" height="2.4" fill="#eee" stroke="#a2a2a2" stroke-width="0.8"/>
<rect x="389.55" y="814.16" width="2.4" height="2.4" fill="#eee" stroke="#a2a2a2" stroke-width="0.8"/>
<rect x="392.25" y="807.06" width="2.4" height="2.4" fill="#eee" stroke="#a2a2a2" stroke-width="0.8"/>
<rect x="394.95" y="808.75" width="2.4" height="2.4" fill="#eee" stroke="#a2a2a2" stroke-width="0.8"/>
<rect x="397.65" y="811.19" width="2.4" height="2.4" fill="#eee" stroke="#a2a2a2" stroke-width="0.8"/>
<rect x="400.35" y="812.56" width="2.4" height="2.4" fill="#eee" stroke="#a2a2a2" stroke-width="0.8"/>
<rect x="403.05" y="806.74" width="2.4" height="2.4" fill="#eee" stroke="#a2a2a2" stroke-width="0.8"/>
<rect x="405.75" y="804.43" width="2.4" height="2.4" fill="#eee" stroke="#a2a2a2" stroke-width="0.8"/>
<line x1="301.65" y1="815.74" x2="301.65" y2="803.33" stroke="#000" stroke-width="1.15" />
<line x1="299.25" y1="803.33" x2="304.05" y2="803.33" stroke="#000" stroke-width="1.15" />
<line x1="299.25" y1="815.74" x2="304.05" y2="815.74" stroke="#000" stroke-width="1.15" />
<line x1="304.35" y1="816.26" x2="304.35" y2="800.59" stroke="#000" stroke-width="1.15" />
<line x1="301.95" y1="800.59" x2="306.75" y2="800.59" stroke="#000" stroke-width="1.15" />
<line x1="301.95" y1="816.26" x2="306.75" y2="816.26" stroke="#000" stroke-width="1.15" />
<line x1="307.05" y1="810.16" x2="307.05" y2="797.72" stroke="#000" stroke-width="1.15" />
<line x1="304.65" y1="797.72" x2="309.45" y2="797.72" stroke="#000" stroke-width="1.15" />
<line x1="304.65" y1="810.16" x2="309.45" y2="810.16" stroke="#000" stroke-width="1.15" />
<line x1="309.75" y1="808.02" x2="309.75" y2="790.83" stroke="#000" stroke-width="1.15" />
<line x1="307.35" y1="790.83" x2="312.15" y2="790.83" stroke="#000" stroke-width="1.15" />
<line x1="307.35" y1="808.02" x2="312.15" y2="808.02" stroke="#000" stroke-width="1.15" />
<line x1="312.45" y1="810.17" x2="312.45" y2="797.48" stroke="#000" stroke-width="1.15" />
<line x1="310.05" y1="797.48" x2="314.85" y2="797.48" stroke="#000" stroke-width="1.15" />
<line x1="310.05" y1="810.17" x2="314.85" y2="810.17" stroke="#000" stroke-width="1.15" />
<line x1="315.15" y1="812.78" x2="315.15" y2="804.3" stroke="#000" stroke-width="1.15" />
<line x1="312.75" y1="804.3" x2="317.55" y2="804.3" stroke="#000" stroke-width="1.15" />
<line x1="312.75" y1="812.78" x2="317.55" y2="812.78" stroke="#000" stroke-width="1.15" />
<line x1="317.85" y1="815.07" x2="317.85" y2="797.42" stroke="#000" stroke-width="1.15" />
<line x1="315.45" y1="797.42" x2="320.25" y2="797.42" stroke="#000" stroke-width="1.15" />
<line x1="315.45" y1="815.07" x2="320.25" y2="815.07" stroke="#000" stroke-width="1.15" />
<line x1="320.55" y1="823.9" x2="320.55" y2="811.46" stroke="#000" stroke-width="1.15" />
<line x1="318.15" y1="811.46" x2="322.95" y2="811.46" stroke="#000" stroke-width="1.15" />
<line x1="318.15" y1="823.9" x2="322.95" y2="823.9" stroke="#000" stroke-width="1.15" />
<line x1="323.25" y1="841.45" x2="323.25" y2="823.51" stroke="#000" stroke-width="1.15" />
<line x1="320.85" y1="823.51" x2="325.65" y2="823.51" stroke="#000" stroke-width="1.15" />
<line x1="320.85" y1="841.45" x2="325.65" y2="841.45" stroke="#000" stroke-width="1.15" />
<line x1="325.95" y1="840.83" x2="325.95" y2="826.15" stroke="#000" stroke-width="1.15" />
<line x1="323.55" y1="826.15" x2="328.35" y2="826.15" stroke="#000" stroke-width="1.15" />
<line x1="323.55" y1="840.83" x2="328.35" y2="840.83" stroke="#000" stroke-width="1.15" />
<line x1="328.65" y1="844.81" x2="328.65" y2="830.07" stroke="#000" stroke-width="1.15" />
<line x1="326.25" y1="830.07" x2="331.05" y2="830.07" stroke="#000" stroke-width="1.15" />
<line x1="326.25" y1="844.81" x2="331.05" y2="844.81" stroke="#000" stroke-width="1.15" />
<line x1="331.35" y1="845.05" x2="331.35" y2="831.55" stroke="#000" stroke-width="1.15" />
<line x1="328.95" y1="831.55" x2="333.75" y2="831.55" stroke="#000" stroke-width="1.15" />
<line x1="328.95" y1="845.05" x2="333.75" y2="845.05" stroke="#000" stroke-width="1.15" />
<line x1="334.05" y1="844.18" x2="334.05" y2="829.98" stroke="#000" stroke-width="1.15" />
<line x1="331.65" y1="829.98" x2="336.45" y2="829.98" stroke="#000" stroke-width="1.15" />
<line x1="331.65" y1="844.18" x2="336.45" y2="844.18" stroke="#000" stroke-width="1.15" />
<line x1="336.75" y1="844.21" x2="336.75" y2="830.57" stroke="#000" stroke-width="1.15" />
<line x1="334.35" y1="830.57" x2="339.15" y2="830.57" stroke="#000" stroke-width="1.15" />
<line x1="334.35" y1="844.21" x2="339.15" y2="844.21" stroke="#000" stroke-width="1.15" />
<line x1="339.45" y1="846.4" x2="339.45" y2="837.09" stroke="#000" stroke-width="1.15" />
<line x1="337.05" y1="837.09" x2="341.85" y2="837.09" stroke="#000" stroke-width="1.15" />
<line x1="337.05" y1="846.4" x2="341.85" y2="846.4" stroke="#000" stroke-width="1.15" />
<line x1="342.15" y1="840.58" x2="342.15" y2="830.87" stroke="#000" stroke-width="1.15" />
<line x1="339.75" y1="830.87" x2="344.55" y2="830.87" stroke="#000" stroke-width="1.15" />
<line x1="339.75" y1="840.58" x2="344.55" y2="840.58" stroke="#000" stroke-width="1.15" />
<line x1="344.85" y1="843.08" x2="344.85" y2="831.84" stroke="#000" stroke-width="1.15" />
<line x1="342.45" y1="831.84" x2="347.25" y2="831.84" stroke="#000" stroke-width="1.15" />
<line x1="342.45" y1="843.08" x2="347.25" y2="843.08" stroke="#000" stroke-width="1.15" />
<line x1="347.55" y1="841.37" x2="347.55" y2="831.44" stroke="#000" stroke-width="1.15" />
<line x1="345.15" y1="831.44" x2="349.95" y2="831.44" stroke="#000" stroke-width="1.15" />
<line x1="345.15" y1="841.37" x2="349.95" y2="841.37" stroke="#000" stroke-width="1.15" />
<line x1="350.25" y1="839.98" x2="350.25" y2="829.16" stroke="#000" stroke-width="1.15" />
<line x1="347.85" y1="829.16" x2="352.65" y2="829.16" stroke="#000" stroke-width="1.15" />
<line x1="347.85" y1="839.98" x2="352.65" y2="839.98" stroke="#000" stroke-width="1.15" />
<line x1="352.95" y1="842.51" x2="352.95" y2="830.19" stroke="#000" stroke-width="1.15" />
<line x1="350.55" y1="830.19" x2="355.35" y2="830.19" stroke="#000" stroke-width="1.15" />
<line x1="350.55" y1="842.51" x2="355.35" y2="842.51" stroke="#000" stroke-width="1.15" />
<line x1="355.65" y1="839.6" x2="355.65" y2="827.17" stroke="#000" stroke-width="1.15" />
<line x1="353.25" y1="827.17" x2="358.05" y2="827.17" stroke="#000" stroke-width="1.15" />
<line x1="353.25" y1="839.6" x2="358.05" y2="839.6" stroke="#000" stroke-width="1.15" />
<line x1="358.35" y1="836.3" x2="358.35" y2="824.71" stroke="#000" stroke-width="1.15" />
<line x1="355.95" y1="824.71" x2="360.75" y2="824.71" stroke="#000" stroke-width="1.15" />
<line x1="355.95" y1="836.3" x2="360.75" y2="836.3" stroke="#000" stroke-width="1.15" />
<line x1="361.05" y1="836.02" x2="361.05" y2="823.89" stroke="#000" stroke-width="1.15" />
<line x1="358.65" y1="823.89" x2="363.45" y2="823.89" stroke="#000" stroke-width="1.15" />
<line x1="358.65" y1="836.02" x2="363.45" y2="836.02" stroke="#000" stroke-width="1.15" />
<line x1="363.75" y1="837.16" x2="363.75" y2="824.56" stroke="#000" stroke-width="1.15" />
<line x1="361.35" y1="824.56" x2="366.15" y2="824.56" stroke="#000" stroke-width="1.15" />
<line x1="361.35" y1="837.16" x2="366.15" y2="837.16" stroke="#000" stroke-width="1.15" />
<line x1="366.45" y1="838.26" x2="366.45" y2="826.53" stroke="#000" stroke-width="1.15" />
<line x1="364.05" y1="826.53" x2="368.85" y2="826.53" stroke="#000" stroke-width="1.15" />
<line x1="364.05" y1="838.26" x2="368.85" y2="838.26" stroke="#000" stroke-width="1.15" />
<line x1="369.15" y1="842" x2="369.15" y2="825.67" stroke="#000" stroke-width="1.15" />
<line x1="366.75" y1="825.67" x2="371.55" y2="825.67" stroke="#000" stroke-width="1.15" />
<line x1="366.75" y1="842" x2="371.55" y2="842" stroke="#000" stroke-width="1.15" />
<line x1="371.85" y1="834.98" x2="371.85" y2="823.62" stroke="#000" stroke-width="1.15" />
<line x1="369.45" y1="823.62" x2="374.25" y2="823.62" stroke="#000" stroke-width="1.15" />
<line x1="369.45" y1="834.98" x2="374.25" y2="834.98" stroke="#000" stroke-width="1.15" />
<line x1="374.55" y1="838.03" x2="374.55" y2="824.56" stroke="#000" stroke-width="1.15" />
<line x1="372.15" y1="824.56" x2="376.95" y2="824.56" stroke="#000" stroke-width="1.15" />
<line x1="372.15" y1="838.03" x2="376.95" y2="838.03" stroke="#000" stroke-width="1.15" />
<line x1="377.25" y1="839.76" x2="377.25" y2="826.82" stroke="#000" stroke-width="1.15" />
<line x1="374.85" y1="826.82" x2="379.65" y2="826.82" stroke="#000" stroke-width="1.15" />
<line x1="374.85" y1="839.76" x2="379.65" y2="839.76" stroke="#000" stroke-width="1.15" />
<line x1="379.95" y1="846.4" x2="379.95" y2="826.84" stroke="#000" stroke-width="1.15" />
<line x1="377.55" y1="826.84" x2="382.35" y2="826.84" stroke="#000" stroke-width="1.15" />
<line x1="377.55" y1="846.4" x2="382.35" y2="846.4" stroke="#000" stroke-width="1.15" />
<line x1="382.65" y1="840.87" x2="382.65" y2="825.87" stroke="#000" stroke-width="1.15" />
<line x1="380.25" y1="825.87" x2="385.05" y2="825.87" stroke="#000" stroke-width="1.15" />
<line x1="380.25" y1="840.87" x2="385.05" y2="840.87" stroke="#000" stroke-width="1.15" />
<line x1="385.35" y1="841.82" x2="385.35" y2="828.73" stroke="#000" stroke-width="1.15" />
<line x1="382.95" y1="828.73" x2="387.75" y2="828.73" stroke="#000" stroke-width="1.15" />
<line x1="382.95" y1="841.82" x2="387.75" y2="841.82" stroke="#000" stroke-width="1.15" />
<line x1="388.05" y1="838.89" x2="388.05" y2="816.32" stroke="#000" stroke-width="1.15" />
<line x1="385.65" y1="816.32" x2="390.45" y2="816.32" stroke="#000" stroke-width="1.15" />
<line x1="385.65" y1="838.89" x2="390.45" y2="838.89" stroke="#000" stroke-width="1.15" />
<line x1="390.75" y1="838.09" x2="390.75" y2="820.47" stroke="#000" stroke-width="1.15" />
<line x1="388.35" y1="820.47" x2="393.15" y2="820.47" stroke="#000" stroke-width="1.15" />
<line x1="388.35" y1="838.09" x2="393.15" y2="838.09" stroke="#000" stroke-width="1.15" />
<line x1="393.45" y1="841.85" x2="393.45" y2="819.5" stroke="#000" stroke-width="1.15" />
<line x1="391.05" y1="819.5" x2="395.85" y2="819.5" stroke="#000" stroke-width="1.15" />
<line x1="391.05" y1="841.85" x2="395.85" y2="841.85" stroke="#000" stroke-width="1.15" />
<line x1="396.15" y1="837" x2="396.15" y2="820.88" stroke="#000" stroke-width="1.15" />
<line x1="393.75" y1="820.88" x2="398.55" y2="820.88" stroke="#000" stroke-width="1.15" />
<line x1="393.75" y1="837" x2="398.55" y2="837" stroke="#000" stroke-width="1.15" />
<line x1="398.85" y1="830.03" x2="398.85" y2="813.59" stroke="#000" stroke-width="1.15" />
<line x1="396.45" y1="813.59" x2="401.25" y2="813.59" stroke="#000" stroke-width="1.15" />
<line x1="396.45" y1="830.03" x2="401.25" y2="830.03" stroke="#000" stroke-width="1.15" />
<line x1="401.55" y1="833.81" x2="401.55" y2="814.62" stroke="#000" stroke-width="1.15" />
<line x1="399.15" y1="814.62" x2="403.95" y2="814.62" stroke="#000" stroke-width="1.15" />
<line x1="399.15" y1="833.81" x2="403.95" y2="833.81" stroke="#000" stroke-width="1.15" />
<line x1="404.25" y1="835.7" x2="404.25" y2="822.82" stroke="#000" stroke-width="1.15" />
<line x1="401.85" y1="822.82" x2="406.65" y2="822.82" stroke="#000" stroke-width="1.15" />
<line x1="401.85" y1="835.7" x2="406.65" y2="835.7" stroke="#000" stroke-width="1.15" />
<line x1="406.95" y1="838.14" x2="406.95" y2="813.56" stroke="#000" stroke-width="1.15" />
<line x1="404.55" y1="813.56" x2="409.35" y2="813.56" stroke="#000" stroke-width="1.15" />
<line x1="404.55" y1="838.14" x2="409.35" y2="838.14" stroke="#000" stroke-width="1.15" />
<path d="M301.65 809.54 L304.35 808.43 L307.05 803.94 L309.75 799.43 L312.45 803.82 L315.15 808.54 L317.85 806.24 L320.55 817.68 L323.25 832.48 L325.95 833.49 L328.65 837.44 L331.35 838.3 L334.05 837.08 L336.75 837.39 L339.45 843.18 L342.15 835.72 L344.85 837.46 L347.55 836.4 L350.25 834.57 L352.95 836.35 L355.65 833.38 L358.35 830.51 L361.05 829.96 L363.75 830.86 L366.45 832.39 L369.15 833.83 L371.85 829.3 L374.55 831.3 L377.25 833.29 L379.95 836.73 L382.65 833.37 L385.35 835.28 L388.05 827.61 L390.75 829.28 L393.45 830.68 L396.15 828.94 L398.85 821.81 L401.55 824.21 L404.25 829.26 L406.95 825.85" stroke="#000" stroke-width="1.3" fill="none" />
<rect x="300.45" y="808.34" width="2.4" height="2.4" fill="#fff" stroke="#000" stroke-width="0.8"/>
<rect x="303.15" y="807.23" width="2.4" height="2.4" fill="#fff" stroke="#000" stroke-width="0.8"/>
<rect x="305.85" y="802.74" width="2.4" height="2.4" fill="#fff" stroke="#000" stroke-width="0.8"/>
<rect x="308.55" y="798.23" width="2.4" height="2.4" fill="#fff" stroke="#000" stroke-width="0.8"/>
<rect x="311.25" y="802.62" width="2.4" height="2.4" fill="#fff" stroke="#000" stroke-width="0.8"/>
<rect x="313.95" y="807.34" width="2.4" height="2.4" fill="#fff" stroke="#000" stroke-width="0.8"/>
<rect x="316.65" y="805.04" width="2.4" height="2.4" fill="#fff" stroke="#000" stroke-width="0.8"/>
<rect x="319.35" y="816.48" width="2.4" height="2.4" fill="#fff" stroke="#000" stroke-width="0.8"/>
<rect x="322.05" y="831.28" width="2.4" height="2.4" fill="#fff" stroke="#000" stroke-width="0.8"/>
<rect x="324.75" y="832.29" width="2.4" height="2.4" fill="#fff" stroke="#000" stroke-width="0.8"/>
<rect x="327.45" y="836.24" width="2.4" height="2.4" fill="#fff" stroke="#000" stroke-width="0.8"/>
<rect x="330.15" y="837.1" width="2.4" height="2.4" fill="#fff" stroke="#000" stroke-width="0.8"/>
<rect x="332.85" y="835.88" width="2.4" height="2.4" fill="#fff" stroke="#000" stroke-width="0.8"/>
<rect x="335.55" y="836.19" width="2.4" height="2.4" fill="#fff" stroke="#000" stroke-width="0.8"/>
<rect x="338.25" y="841.98" width="2.4" height="2.4" fill="#fff" stroke="#000" stroke-width="0.8"/>
<rect x="340.95" y="834.52" width="2.4" height="2.4" fill="#fff" stroke="#000" stroke-width="0.8"/>
<rect x="343.65" y="836.26" width="2.4" height="2.4" fill="#fff" stroke="#000" stroke-width="0.8"/>
<rect x="346.35" y="835.2" width="2.4" height="2.4" fill="#fff" stroke="#000" stroke-width="0.8"/>
<rect x="349.05" y="833.37" width="2.4" height="2.4" fill="#fff" stroke="#000" stroke-width="0.8"/>
<rect x="351.75" y="835.15" width="2.4" height="2.4" fill="#fff" stroke="#000" stroke-width="0.8"/>
<rect x="354.45" y="832.18" width="2.4" height="2.4" fill="#fff" stroke="#000" stroke-width="0.8"/>
<rect x="357.15" y="829.31" width="2.4" height="2.4" fill="#fff" stroke="#000" stroke-width="0.8"/>
<rect x="359.85" y="828.76" width="2.4" height="2.4" fill="#fff" stroke="#000" stroke-width="0.8"/>
<rect x="362.55" y="829.66" width="2.4" height="2.4" fill="#fff" stroke="#000" stroke-width="0.8"/>
<rect x="365.25" y="831.19" width="2.4" height="2.4" fill="#fff" stroke="#000" stroke-width="0.8"/>
<rect x="367.95" y="832.63" width="2.4" height="2.4" fill="#fff" stroke="#000" stroke-width="0.8"/>
<rect x="370.65" y="828.1" width="2.4" height="2.4" fill="#fff" stroke="#000" stroke-width="0.8"/>
<rect x="373.35" y="830.1" width="2.4" height="2.4" fill="#fff" stroke="#000" stroke-width="0.8"/>
<rect x="376.05" y="832.09" width="2.4" height="2.4" fill="#fff" stroke="#000" stroke-width="0.8"/>
<rect x="378.75" y="835.53" width="2.4" height="2.4" fill="#fff" stroke="#000" stroke-width="0.8"/>
<rect x="381.45" y="832.17" width="2.4" height="2.4" fill="#fff" stroke="#000" stroke-width="0.8"/>
<rect x="384.15" y="834.08" width="2.4" height="2.4" fill="#fff" stroke="#000" stroke-width="0.8"/>
<rect x="386.85" y="826.41" width="2.4" height="2.4" fill="#fff" stroke="#000" stroke-width="0.8"/>
<rect x="389.55" y="828.08" width="2.4" height="2.4" fill="#fff" stroke="#000" stroke-width="0.8"/>
<rect x="392.25" y="829.48" width="2.4" height="2.4" fill="#fff" stroke="#000" stroke-width="0.8"/>
<rect x="394.95" y="827.74" width="2.4" height="2.4" fill="#fff" stroke="#000" stroke-width="0.8"/>
<rect x="397.65" y="820.61" width="2.4" height="2.4" fill="#fff" stroke="#000" stroke-width="0.8"/>
<rect x="400.35" y="823.01" width="2.4" height="2.4" fill="#fff" stroke="#000" stroke-width="0.8"/>
<rect x="403.05" y="828.06" width="2.4" height="2.4" fill="#fff" stroke="#000" stroke-width="0.8"/>
<rect x="405.75" y="824.65" width="2.4" height="2.4" fill="#fff" stroke="#000" stroke-width="0.8"/>
<path d="M310.4 712.2 L321.2 712.2 L315.8 723 Z" fill="#f00"/>
<text transform="translate(508.2 685.9) scale(1 1.05)" font-size="12.8" text-anchor="middle" fill="#1a1aff" ><tspan fill="#1a1aff">L5 PC</tspan></text>
<line x1="453.3" y1="706.9" x2="453.3" y2="847.3" stroke="#000" stroke-width="1.5" />
<line x1="452.6" y1="846.6" x2="562.8" y2="846.6" stroke="#000" stroke-width="1.5" />
<line x1="449.3" y1="846.6" x2="453.3" y2="846.6" stroke="#000" stroke-width="1.2" />
<text transform="translate(447.9 850.5) scale(1 1.05)" font-size="11.3" text-anchor="end" fill="#111" >0</text>
<line x1="449.3" y1="800.27" x2="453.3" y2="800.27" stroke="#000" stroke-width="1.2" />
<text transform="translate(447.9 804.17) scale(1 1.05)" font-size="11.3" text-anchor="end" fill="#111" >5</text>
<line x1="449.3" y1="753.93" x2="453.3" y2="753.93" stroke="#000" stroke-width="1.2" />
<text transform="translate(447.9 757.83) scale(1 1.05)" font-size="11.3" text-anchor="end" fill="#111" >10</text>
<line x1="449.3" y1="707.6" x2="453.3" y2="707.6" stroke="#000" stroke-width="1.2" />
<text transform="translate(447.9 711.5) scale(1 1.05)" font-size="11.3" text-anchor="end" fill="#111" >15</text>
<line x1="453.3" y1="846.6" x2="453.3" y2="850.6" stroke="#000" stroke-width="1.2" />
<text transform="translate(453.3 863) scale(1 1.05)" font-size="11.3" text-anchor="middle" fill="#111" >0</text>
<line x1="475.06" y1="846.6" x2="475.06" y2="850.6" stroke="#000" stroke-width="1.2" />
<text transform="translate(475.06 863) scale(1 1.05)" font-size="11.3" text-anchor="middle" fill="#111" >2</text>
<line x1="496.82" y1="846.6" x2="496.82" y2="850.6" stroke="#000" stroke-width="1.2" />
<text transform="translate(496.82 863) scale(1 1.05)" font-size="11.3" text-anchor="middle" fill="#111" >4</text>
<line x1="518.58" y1="846.6" x2="518.58" y2="850.6" stroke="#000" stroke-width="1.2" />
<text transform="translate(518.58 863) scale(1 1.05)" font-size="11.3" text-anchor="middle" fill="#111" >6</text>
<line x1="540.34" y1="846.6" x2="540.34" y2="850.6" stroke="#000" stroke-width="1.2" />
<text transform="translate(540.34 863) scale(1 1.05)" font-size="11.3" text-anchor="middle" fill="#111" >8</text>
<line x1="562.1" y1="846.6" x2="562.1" y2="850.6" stroke="#000" stroke-width="1.2" />
<text transform="translate(562.1 863) scale(1 1.05)" font-size="11.3" text-anchor="middle" fill="#111" >10</text>
<text transform="translate(508 878.2) scale(1 1.05)" font-size="11.8" text-anchor="middle" fill="#111" >Time (s)</text>
<text transform="translate(427.4 776.6) rotate(-90) scale(1 1.05)" font-size="11.6" text-anchor="middle" fill="#111">AP frequency (Hz)</text>
<line x1="454.66" y1="819.54" x2="454.66" y2="772.45" stroke="#7cb6f0" stroke-width="1.15" />
<line x1="452.26" y1="772.45" x2="457.06" y2="772.45" stroke="#7cb6f0" stroke-width="1.15" />
<line x1="452.26" y1="819.54" x2="457.06" y2="819.54" stroke="#7cb6f0" stroke-width="1.15" />
<line x1="457.38" y1="812.56" x2="457.38" y2="770.45" stroke="#7cb6f0" stroke-width="1.15" />
<line x1="454.98" y1="770.45" x2="459.78" y2="770.45" stroke="#7cb6f0" stroke-width="1.15" />
<line x1="454.98" y1="812.56" x2="459.78" y2="812.56" stroke="#7cb6f0" stroke-width="1.15" />
<line x1="460.1" y1="810.58" x2="460.1" y2="777.95" stroke="#7cb6f0" stroke-width="1.15" />
<line x1="457.7" y1="777.95" x2="462.5" y2="777.95" stroke="#7cb6f0" stroke-width="1.15" />
<line x1="457.7" y1="810.58" x2="462.5" y2="810.58" stroke="#7cb6f0" stroke-width="1.15" />
<line x1="462.82" y1="812.2" x2="462.82" y2="771.13" stroke="#7cb6f0" stroke-width="1.15" />
<line x1="460.42" y1="771.13" x2="465.22" y2="771.13" stroke="#7cb6f0" stroke-width="1.15" />
<line x1="460.42" y1="812.2" x2="465.22" y2="812.2" stroke="#7cb6f0" stroke-width="1.15" />
<line x1="465.54" y1="815.09" x2="465.54" y2="770.26" stroke="#7cb6f0" stroke-width="1.15" />
<line x1="463.14" y1="770.26" x2="467.94" y2="770.26" stroke="#7cb6f0" stroke-width="1.15" />
<line x1="463.14" y1="815.09" x2="467.94" y2="815.09" stroke="#7cb6f0" stroke-width="1.15" />
<line x1="468.26" y1="806.85" x2="468.26" y2="765.05" stroke="#7cb6f0" stroke-width="1.15" />
<line x1="465.86" y1="765.05" x2="470.66" y2="765.05" stroke="#7cb6f0" stroke-width="1.15" />
<line x1="465.86" y1="806.85" x2="470.66" y2="806.85" stroke="#7cb6f0" stroke-width="1.15" />
<line x1="470.98" y1="809.39" x2="470.98" y2="766.42" stroke="#7cb6f0" stroke-width="1.15" />
<line x1="468.58" y1="766.42" x2="473.38" y2="766.42" stroke="#7cb6f0" stroke-width="1.15" />
<line x1="468.58" y1="809.39" x2="473.38" y2="809.39" stroke="#7cb6f0" stroke-width="1.15" />
<line x1="473.7" y1="806.09" x2="473.7" y2="755.56" stroke="#7cb6f0" stroke-width="1.15" />
<line x1="471.3" y1="755.56" x2="476.1" y2="755.56" stroke="#7cb6f0" stroke-width="1.15" />
<line x1="471.3" y1="806.09" x2="476.1" y2="806.09" stroke="#7cb6f0" stroke-width="1.15" />
<line x1="476.42" y1="802" x2="476.42" y2="760.24" stroke="#7cb6f0" stroke-width="1.15" />
<line x1="474.02" y1="760.24" x2="478.82" y2="760.24" stroke="#7cb6f0" stroke-width="1.15" />
<line x1="474.02" y1="802" x2="478.82" y2="802" stroke="#7cb6f0" stroke-width="1.15" />
<line x1="479.14" y1="815.45" x2="479.14" y2="759.36" stroke="#7cb6f0" stroke-width="1.15" />
<line x1="476.74" y1="759.36" x2="481.54" y2="759.36" stroke="#7cb6f0" stroke-width="1.15" />
<line x1="476.74" y1="815.45" x2="481.54" y2="815.45" stroke="#7cb6f0" stroke-width="1.15" />
<line x1="481.86" y1="795.67" x2="481.86" y2="753.19" stroke="#7cb6f0" stroke-width="1.15" />
<line x1="479.46" y1="753.19" x2="484.26" y2="753.19" stroke="#7cb6f0" stroke-width="1.15" />
<line x1="479.46" y1="795.67" x2="484.26" y2="795.67" stroke="#7cb6f0" stroke-width="1.15" />
<line x1="484.58" y1="809.55" x2="484.58" y2="765.03" stroke="#7cb6f0" stroke-width="1.15" />
<line x1="482.18" y1="765.03" x2="486.98" y2="765.03" stroke="#7cb6f0" stroke-width="1.15" />
<line x1="482.18" y1="809.55" x2="486.98" y2="809.55" stroke="#7cb6f0" stroke-width="1.15" />
<line x1="487.3" y1="802.3" x2="487.3" y2="757.82" stroke="#7cb6f0" stroke-width="1.15" />
<line x1="484.9" y1="757.82" x2="489.7" y2="757.82" stroke="#7cb6f0" stroke-width="1.15" />
<line x1="484.9" y1="802.3" x2="489.7" y2="802.3" stroke="#7cb6f0" stroke-width="1.15" />
<line x1="490.02" y1="806.73" x2="490.02" y2="749.18" stroke="#7cb6f0" stroke-width="1.15" />
<line x1="487.62" y1="749.18" x2="492.42" y2="749.18" stroke="#7cb6f0" stroke-width="1.15" />
<line x1="487.62" y1="806.73" x2="492.42" y2="806.73" stroke="#7cb6f0" stroke-width="1.15" />
<line x1="492.74" y1="802.48" x2="492.74" y2="753.23" stroke="#7cb6f0" stroke-width="1.15" />
<line x1="490.34" y1="753.23" x2="495.14" y2="753.23" stroke="#7cb6f0" stroke-width="1.15" />
<line x1="490.34" y1="802.48" x2="495.14" y2="802.48" stroke="#7cb6f0" stroke-width="1.15" />
<line x1="495.46" y1="824.38" x2="495.46" y2="765.13" stroke="#7cb6f0" stroke-width="1.15" />
<line x1="493.06" y1="765.13" x2="497.86" y2="765.13" stroke="#7cb6f0" stroke-width="1.15" />
<line x1="493.06" y1="824.38" x2="497.86" y2="824.38" stroke="#7cb6f0" stroke-width="1.15" />
<line x1="498.18" y1="797.04" x2="498.18" y2="764.48" stroke="#7cb6f0" stroke-width="1.15" />
<line x1="495.78" y1="764.48" x2="500.58" y2="764.48" stroke="#7cb6f0" stroke-width="1.15" />
<line x1="495.78" y1="797.04" x2="500.58" y2="797.04" stroke="#7cb6f0" stroke-width="1.15" />
<line x1="500.9" y1="810.06" x2="500.9" y2="751.06" stroke="#7cb6f0" stroke-width="1.15" />
<line x1="498.5" y1="751.06" x2="503.3" y2="751.06" stroke="#7cb6f0" stroke-width="1.15" />
<line x1="498.5" y1="810.06" x2="503.3" y2="810.06" stroke="#7cb6f0" stroke-width="1.15" />
<line x1="503.62" y1="799.29" x2="503.62" y2="761.44" stroke="#7cb6f0" stroke-width="1.15" />
<line x1="501.22" y1="761.44" x2="506.02" y2="761.44" stroke="#7cb6f0" stroke-width="1.15" />
<line x1="501.22" y1="799.29" x2="506.02" y2="799.29" stroke="#7cb6f0" stroke-width="1.15" />
<line x1="506.34" y1="826.78" x2="506.34" y2="769.4" stroke="#7cb6f0" stroke-width="1.15" />
<line x1="503.94" y1="769.4" x2="508.74" y2="769.4" stroke="#7cb6f0" stroke-width="1.15" />
<line x1="503.94" y1="826.78" x2="508.74" y2="826.78" stroke="#7cb6f0" stroke-width="1.15" />
<line x1="509.06" y1="808.64" x2="509.06" y2="774.98" stroke="#7cb6f0" stroke-width="1.15" />
<line x1="506.66" y1="774.98" x2="511.46" y2="774.98" stroke="#7cb6f0" stroke-width="1.15" />
<line x1="506.66" y1="808.64" x2="511.46" y2="808.64" stroke="#7cb6f0" stroke-width="1.15" />
<line x1="511.78" y1="818.19" x2="511.78" y2="761.95" stroke="#7cb6f0" stroke-width="1.15" />
<line x1="509.38" y1="761.95" x2="514.18" y2="761.95" stroke="#7cb6f0" stroke-width="1.15" />
<line x1="509.38" y1="818.19" x2="514.18" y2="818.19" stroke="#7cb6f0" stroke-width="1.15" />
<line x1="514.5" y1="817.61" x2="514.5" y2="767.59" stroke="#7cb6f0" stroke-width="1.15" />
<line x1="512.1" y1="767.59" x2="516.9" y2="767.59" stroke="#7cb6f0" stroke-width="1.15" />
<line x1="512.1" y1="817.61" x2="516.9" y2="817.61" stroke="#7cb6f0" stroke-width="1.15" />
<line x1="517.22" y1="811.01" x2="517.22" y2="759.52" stroke="#7cb6f0" stroke-width="1.15" />
<line x1="514.82" y1="759.52" x2="519.62" y2="759.52" stroke="#7cb6f0" stroke-width="1.15" />
<line x1="514.82" y1="811.01" x2="519.62" y2="811.01" stroke="#7cb6f0" stroke-width="1.15" />
<line x1="519.94" y1="817.18" x2="519.94" y2="773.87" stroke="#7cb6f0" stroke-width="1.15" />
<line x1="517.54" y1="773.87" x2="522.34" y2="773.87" stroke="#7cb6f0" stroke-width="1.15" />
<line x1="517.54" y1="817.18" x2="522.34" y2="817.18" stroke="#7cb6f0" stroke-width="1.15" />
<line x1="522.66" y1="809.25" x2="522.66" y2="766.03" stroke="#7cb6f0" stroke-width="1.15" />
<line x1="520.26" y1="766.03" x2="525.06" y2="766.03" stroke="#7cb6f0" stroke-width="1.15" />
<line x1="520.26" y1="809.25" x2="525.06" y2="809.25" stroke="#7cb6f0" stroke-width="1.15" />
<line x1="525.38" y1="810.04" x2="525.38" y2="773.25" stroke="#7cb6f0" stroke-width="1.15" />
<line x1="522.98" y1="773.25" x2="527.78" y2="773.25" stroke="#7cb6f0" stroke-width="1.15" />
<line x1="522.98" y1="810.04" x2="527.78" y2="810.04" stroke="#7cb6f0" stroke-width="1.15" />
<line x1="528.1" y1="820.06" x2="528.1" y2="783.72" stroke="#7cb6f0" stroke-width="1.15" />
<line x1="525.7" y1="783.72" x2="530.5" y2="783.72" stroke="#7cb6f0" stroke-width="1.15" />
<line x1="525.7" y1="820.06" x2="530.5" y2="820.06" stroke="#7cb6f0" stroke-width="1.15" />
<line x1="530.82" y1="825.19" x2="530.82" y2="775.4" stroke="#7cb6f0" stroke-width="1.15" />
<line x1="528.42" y1="775.4" x2="533.22" y2="775.4" stroke="#7cb6f0" stroke-width="1.15" />
<line x1="528.42" y1="825.19" x2="533.22" y2="825.19" stroke="#7cb6f0" stroke-width="1.15" />
<line x1="533.54" y1="819.01" x2="533.54" y2="777.06" stroke="#7cb6f0" stroke-width="1.15" />
<line x1="531.14" y1="777.06" x2="535.94" y2="777.06" stroke="#7cb6f0" stroke-width="1.15" />
<line x1="531.14" y1="819.01" x2="535.94" y2="819.01" stroke="#7cb6f0" stroke-width="1.15" />
<line x1="536.26" y1="812.19" x2="536.26" y2="778.95" stroke="#7cb6f0" stroke-width="1.15" />
<line x1="533.86" y1="778.95" x2="538.66" y2="778.95" stroke="#7cb6f0" stroke-width="1.15" />
<line x1="533.86" y1="812.19" x2="538.66" y2="812.19" stroke="#7cb6f0" stroke-width="1.15" />
<line x1="538.98" y1="810.15" x2="538.98" y2="773" stroke="#7cb6f0" stroke-width="1.15" />
<line x1="536.58" y1="773" x2="541.38" y2="773" stroke="#7cb6f0" stroke-width="1.15" />
<line x1="536.58" y1="810.15" x2="541.38" y2="810.15" stroke="#7cb6f0" stroke-width="1.15" />
<line x1="541.7" y1="815.75" x2="541.7" y2="778.59" stroke="#7cb6f0" stroke-width="1.15" />
<line x1="539.3" y1="778.59" x2="544.1" y2="778.59" stroke="#7cb6f0" stroke-width="1.15" />
<line x1="539.3" y1="815.75" x2="544.1" y2="815.75" stroke="#7cb6f0" stroke-width="1.15" />
<line x1="544.42" y1="811.18" x2="544.42" y2="773.37" stroke="#7cb6f0" stroke-width="1.15" />
<line x1="542.02" y1="773.37" x2="546.82" y2="773.37" stroke="#7cb6f0" stroke-width="1.15" />
<line x1="542.02" y1="811.18" x2="546.82" y2="811.18" stroke="#7cb6f0" stroke-width="1.15" />
<line x1="547.14" y1="826.46" x2="547.14" y2="781.4" stroke="#7cb6f0" stroke-width="1.15" />
<line x1="544.74" y1="781.4" x2="549.54" y2="781.4" stroke="#7cb6f0" stroke-width="1.15" />
<line x1="544.74" y1="826.46" x2="549.54" y2="826.46" stroke="#7cb6f0" stroke-width="1.15" />
<line x1="549.86" y1="839.79" x2="549.86" y2="782.04" stroke="#7cb6f0" stroke-width="1.15" />
<line x1="547.46" y1="782.04" x2="552.26" y2="782.04" stroke="#7cb6f0" stroke-width="1.15" />
<line x1="547.46" y1="839.79" x2="552.26" y2="839.79" stroke="#7cb6f0" stroke-width="1.15" />
<line x1="552.58" y1="822.81" x2="552.58" y2="774.2" stroke="#7cb6f0" stroke-width="1.15" />
<line x1="550.18" y1="774.2" x2="554.98" y2="774.2" stroke="#7cb6f0" stroke-width="1.15" />
<line x1="550.18" y1="822.81" x2="554.98" y2="822.81" stroke="#7cb6f0" stroke-width="1.15" />
<line x1="555.3" y1="821.48" x2="555.3" y2="768.47" stroke="#7cb6f0" stroke-width="1.15" />
<line x1="552.9" y1="768.47" x2="557.7" y2="768.47" stroke="#7cb6f0" stroke-width="1.15" />
<line x1="552.9" y1="821.48" x2="557.7" y2="821.48" stroke="#7cb6f0" stroke-width="1.15" />
<line x1="558.02" y1="816.61" x2="558.02" y2="781.25" stroke="#7cb6f0" stroke-width="1.15" />
<line x1="555.62" y1="781.25" x2="560.42" y2="781.25" stroke="#7cb6f0" stroke-width="1.15" />
<line x1="555.62" y1="816.61" x2="560.42" y2="816.61" stroke="#7cb6f0" stroke-width="1.15" />
<line x1="560.74" y1="827.93" x2="560.74" y2="776.24" stroke="#7cb6f0" stroke-width="1.15" />
<line x1="558.34" y1="776.24" x2="563.14" y2="776.24" stroke="#7cb6f0" stroke-width="1.15" />
<line x1="558.34" y1="827.93" x2="563.14" y2="827.93" stroke="#7cb6f0" stroke-width="1.15" />
<path d="M454.66 796 L457.38 791.51 L460.1 794.26 L462.82 791.66 L465.54 792.67 L468.26 785.95 L470.98 787.91 L473.7 780.83 L476.42 781.12 L479.14 787.41 L481.86 774.43 L484.58 787.29 L487.3 780.06 L490.02 777.96 L492.74 777.85 L495.46 794.75 L498.18 780.76 L500.9 780.56 L503.62 780.36 L506.34 798.09 L509.06 791.81 L511.78 790.07 L514.5 792.6 L517.22 785.27 L519.94 795.53 L522.66 787.64 L525.38 791.65 L528.1 801.89 L530.82 800.3 L533.54 798.04 L536.26 795.57 L538.98 791.58 L541.7 797.17 L544.42 792.27 L547.14 803.93 L549.86 810.91 L552.58 798.51 L555.3 794.98 L558.02 798.93 L560.74 802.09" stroke="#7cb6f0" stroke-width="1.3" fill="none" />
<rect x="453.46" y="794.8" width="2.4" height="2.4" fill="#a8ccf4" stroke="#7cb6f0" stroke-width="0.8"/>
<rect x="456.18" y="790.31" width="2.4" height="2.4" fill="#a8ccf4" stroke="#7cb6f0" stroke-width="0.8"/>
<rect x="458.9" y="793.06" width="2.4" height="2.4" fill="#a8ccf4" stroke="#7cb6f0" stroke-width="0.8"/>
<rect x="461.62" y="790.46" width="2.4" height="2.4" fill="#a8ccf4" stroke="#7cb6f0" stroke-width="0.8"/>
<rect x="464.34" y="791.47" width="2.4" height="2.4" fill="#a8ccf4" stroke="#7cb6f0" stroke-width="0.8"/>
<rect x="467.06" y="784.75" width="2.4" height="2.4" fill="#a8ccf4" stroke="#7cb6f0" stroke-width="0.8"/>
<rect x="469.78" y="786.71" width="2.4" height="2.4" fill="#a8ccf4" stroke="#7cb6f0" stroke-width="0.8"/>
<rect x="472.5" y="779.63" width="2.4" height="2.4" fill="#a8ccf4" stroke="#7cb6f0" stroke-width="0.8"/>
<rect x="475.22" y="779.92" width="2.4" height="2.4" fill="#a8ccf4" stroke="#7cb6f0" stroke-width="0.8"/>
<rect x="477.94" y="786.21" width="2.4" height="2.4" fill="#a8ccf4" stroke="#7cb6f0" stroke-width="0.8"/>
<rect x="480.66" y="773.23" width="2.4" height="2.4" fill="#a8ccf4" stroke="#7cb6f0" stroke-width="0.8"/>
<rect x="483.38" y="786.09" width="2.4" height="2.4" fill="#a8ccf4" stroke="#7cb6f0" stroke-width="0.8"/>
<rect x="486.1" y="778.86" width="2.4" height="2.4" fill="#a8ccf4" stroke="#7cb6f0" stroke-width="0.8"/>
<rect x="488.82" y="776.76" width="2.4" height="2.4" fill="#a8ccf4" stroke="#7cb6f0" stroke-width="0.8"/>
<rect x="491.54" y="776.65" width="2.4" height="2.4" fill="#a8ccf4" stroke="#7cb6f0" stroke-width="0.8"/>
<rect x="494.26" y="793.55" width="2.4" height="2.4" fill="#a8ccf4" stroke="#7cb6f0" stroke-width="0.8"/>
<rect x="496.98" y="779.56" width="2.4" height="2.4" fill="#a8ccf4" stroke="#7cb6f0" stroke-width="0.8"/>
<rect x="499.7" y="779.36" width="2.4" height="2.4" fill="#a8ccf4" stroke="#7cb6f0" stroke-width="0.8"/>
<rect x="502.42" y="779.16" width="2.4" height="2.4" fill="#a8ccf4" stroke="#7cb6f0" stroke-width="0.8"/>
<rect x="505.14" y="796.89" width="2.4" height="2.4" fill="#a8ccf4" stroke="#7cb6f0" stroke-width="0.8"/>
<rect x="507.86" y="790.61" width="2.4" height="2.4" fill="#a8ccf4" stroke="#7cb6f0" stroke-width="0.8"/>
<rect x="510.58" y="788.87" width="2.4" height="2.4" fill="#a8ccf4" stroke="#7cb6f0" stroke-width="0.8"/>
<rect x="513.3" y="791.4" width="2.4" height="2.4" fill="#a8ccf4" stroke="#7cb6f0" stroke-width="0.8"/>
<rect x="516.02" y="784.07" width="2.4" height="2.4" fill="#a8ccf4" stroke="#7cb6f0" stroke-width="0.8"/>
<rect x="518.74" y="794.33" width="2.4" height="2.4" fill="#a8ccf4" stroke="#7cb6f0" stroke-width="0.8"/>
<rect x="521.46" y="786.44" width="2.4" height="2.4" fill="#a8ccf4" stroke="#7cb6f0" stroke-width="0.8"/>
<rect x="524.18" y="790.45" width="2.4" height="2.4" fill="#a8ccf4" stroke="#7cb6f0" stroke-width="0.8"/>
<rect x="526.9" y="800.69" width="2.4" height="2.4" fill="#a8ccf4" stroke="#7cb6f0" stroke-width="0.8"/>
<rect x="529.62" y="799.1" width="2.4" height="2.4" fill="#a8ccf4" stroke="#7cb6f0" stroke-width="0.8"/>
<rect x="532.34" y="796.84" width="2.4" height="2.4" fill="#a8ccf4" stroke="#7cb6f0" stroke-width="0.8"/>
<rect x="535.06" y="794.37" width="2.4" height="2.4" fill="#a8ccf4" stroke="#7cb6f0" stroke-width="0.8"/>
<rect x="537.78" y="790.38" width="2.4" height="2.4" fill="#a8ccf4" stroke="#7cb6f0" stroke-width="0.8"/>
<rect x="540.5" y="795.97" width="2.4" height="2.4" fill="#a8ccf4" stroke="#7cb6f0" stroke-width="0.8"/>
<rect x="543.22" y="791.07" width="2.4" height="2.4" fill="#a8ccf4" stroke="#7cb6f0" stroke-width="0.8"/>
<rect x="545.94" y="802.73" width="2.4" height="2.4" fill="#a8ccf4" stroke="#7cb6f0" stroke-width="0.8"/>
<rect x="548.66" y="809.71" width="2.4" height="2.4" fill="#a8ccf4" stroke="#7cb6f0" stroke-width="0.8"/>
<rect x="551.38" y="797.31" width="2.4" height="2.4" fill="#a8ccf4" stroke="#7cb6f0" stroke-width="0.8"/>
<rect x="554.1" y="793.78" width="2.4" height="2.4" fill="#a8ccf4" stroke="#7cb6f0" stroke-width="0.8"/>
<rect x="556.82" y="797.73" width="2.4" height="2.4" fill="#a8ccf4" stroke="#7cb6f0" stroke-width="0.8"/>
<rect x="559.54" y="800.89" width="2.4" height="2.4" fill="#a8ccf4" stroke="#7cb6f0" stroke-width="0.8"/>
<line x1="454.66" y1="824.74" x2="454.66" y2="804.4" stroke="#0a0aff" stroke-width="1.15" />
<line x1="452.26" y1="804.4" x2="457.06" y2="804.4" stroke="#0a0aff" stroke-width="1.15" />
<line x1="452.26" y1="824.74" x2="457.06" y2="824.74" stroke="#0a0aff" stroke-width="1.15" />
<line x1="457.38" y1="808.33" x2="457.38" y2="790.78" stroke="#0a0aff" stroke-width="1.15" />
<line x1="454.98" y1="790.78" x2="459.78" y2="790.78" stroke="#0a0aff" stroke-width="1.15" />
<line x1="454.98" y1="808.33" x2="459.78" y2="808.33" stroke="#0a0aff" stroke-width="1.15" />
<line x1="460.1" y1="810.61" x2="460.1" y2="781.52" stroke="#0a0aff" stroke-width="1.15" />
<line x1="457.7" y1="781.52" x2="462.5" y2="781.52" stroke="#0a0aff" stroke-width="1.15" />
<line x1="457.7" y1="810.61" x2="462.5" y2="810.61" stroke="#0a0aff" stroke-width="1.15" />
<line x1="462.82" y1="812.85" x2="462.82" y2="780.16" stroke="#0a0aff" stroke-width="1.15" />
<line x1="460.42" y1="780.16" x2="465.22" y2="780.16" stroke="#0a0aff" stroke-width="1.15" />
<line x1="460.42" y1="812.85" x2="465.22" y2="812.85" stroke="#0a0aff" stroke-width="1.15" />
<line x1="465.54" y1="804.66" x2="465.54" y2="787.18" stroke="#0a0aff" stroke-width="1.15" />
<line x1="463.14" y1="787.18" x2="467.94" y2="787.18" stroke="#0a0aff" stroke-width="1.15" />
<line x1="463.14" y1="804.66" x2="467.94" y2="804.66" stroke="#0a0aff" stroke-width="1.15" />
<line x1="468.26" y1="810.47" x2="468.26" y2="784.68" stroke="#0a0aff" stroke-width="1.15" />
<line x1="465.86" y1="784.68" x2="470.66" y2="784.68" stroke="#0a0aff" stroke-width="1.15" />
<line x1="465.86" y1="810.47" x2="470.66" y2="810.47" stroke="#0a0aff" stroke-width="1.15" />
<line x1="470.98" y1="810.61" x2="470.98" y2="790.57" stroke="#0a0aff" stroke-width="1.15" />
<line x1="468.58" y1="790.57" x2="473.38" y2="790.57" stroke="#0a0aff" stroke-width="1.15" />
<line x1="468.58" y1="810.61" x2="473.38" y2="810.61" stroke="#0a0aff" stroke-width="1.15" />
<line x1="473.7" y1="812.73" x2="473.7" y2="783.9" stroke="#0a0aff" stroke-width="1.15" />
<line x1="471.3" y1="783.9" x2="476.1" y2="783.9" stroke="#0a0aff" stroke-width="1.15" />
<line x1="471.3" y1="812.73" x2="476.1" y2="812.73" stroke="#0a0aff" stroke-width="1.15" />
<line x1="476.42" y1="824.42" x2="476.42" y2="810.46" stroke="#0a0aff" stroke-width="1.15" />
<line x1="474.02" y1="810.46" x2="478.82" y2="810.46" stroke="#0a0aff" stroke-width="1.15" />
<line x1="474.02" y1="824.42" x2="478.82" y2="824.42" stroke="#0a0aff" stroke-width="1.15" />
<line x1="479.14" y1="844.99" x2="479.14" y2="825.63" stroke="#0a0aff" stroke-width="1.15" />
<line x1="476.74" y1="825.63" x2="481.54" y2="825.63" stroke="#0a0aff" stroke-width="1.15" />
<line x1="476.74" y1="844.99" x2="481.54" y2="844.99" stroke="#0a0aff" stroke-width="1.15" />
<line x1="481.86" y1="839.4" x2="481.86" y2="829.68" stroke="#0a0aff" stroke-width="1.15" />
<line x1="479.46" y1="829.68" x2="484.26" y2="829.68" stroke="#0a0aff" stroke-width="1.15" />
<line x1="479.46" y1="839.4" x2="484.26" y2="839.4" stroke="#0a0aff" stroke-width="1.15" />
<line x1="484.58" y1="844.88" x2="484.58" y2="832.67" stroke="#0a0aff" stroke-width="1.15" />
<line x1="482.18" y1="832.67" x2="486.98" y2="832.67" stroke="#0a0aff" stroke-width="1.15" />
<line x1="482.18" y1="844.88" x2="486.98" y2="844.88" stroke="#0a0aff" stroke-width="1.15" />
<line x1="487.3" y1="843.59" x2="487.3" y2="830.97" stroke="#0a0aff" stroke-width="1.15" />
<line x1="484.9" y1="830.97" x2="489.7" y2="830.97" stroke="#0a0aff" stroke-width="1.15" />
<line x1="484.9" y1="843.59" x2="489.7" y2="843.59" stroke="#0a0aff" stroke-width="1.15" />
<line x1="490.02" y1="846.41" x2="490.02" y2="833.26" stroke="#0a0aff" stroke-width="1.15" />
<line x1="487.62" y1="833.26" x2="492.42" y2="833.26" stroke="#0a0aff" stroke-width="1.15" />
<line x1="487.62" y1="846.41" x2="492.42" y2="846.41" stroke="#0a0aff" stroke-width="1.15" />
<line x1="492.74" y1="840.64" x2="492.74" y2="831.88" stroke="#0a0aff" stroke-width="1.15" />
<line x1="490.34" y1="831.88" x2="495.14" y2="831.88" stroke="#0a0aff" stroke-width="1.15" />
<line x1="490.34" y1="840.64" x2="495.14" y2="840.64" stroke="#0a0aff" stroke-width="1.15" />
<line x1="495.46" y1="842.12" x2="495.46" y2="826.32" stroke="#0a0aff" stroke-width="1.15" />
<line x1="493.06" y1="826.32" x2="497.86" y2="826.32" stroke="#0a0aff" stroke-width="1.15" />
<line x1="493.06" y1="842.12" x2="497.86" y2="842.12" stroke="#0a0aff" stroke-width="1.15" />
<line x1="498.18" y1="839.44" x2="498.18" y2="825.25" stroke="#0a0aff" stroke-width="1.15" />
<line x1="495.78" y1="825.25" x2="500.58" y2="825.25" stroke="#0a0aff" stroke-width="1.15" />
<line x1="495.78" y1="839.44" x2="500.58" y2="839.44" stroke="#0a0aff" stroke-width="1.15" />
<line x1="500.9" y1="845.65" x2="500.9" y2="829.06" stroke="#0a0aff" stroke-width="1.15" />
<line x1="498.5" y1="829.06" x2="503.3" y2="829.06" stroke="#0a0aff" stroke-width="1.15" />
<line x1="498.5" y1="845.65" x2="503.3" y2="845.65" stroke="#0a0aff" stroke-width="1.15" />
<line x1="503.62" y1="838.04" x2="503.62" y2="819.65" stroke="#0a0aff" stroke-width="1.15" />
<line x1="501.22" y1="819.65" x2="506.02" y2="819.65" stroke="#0a0aff" stroke-width="1.15" />
<line x1="501.22" y1="838.04" x2="506.02" y2="838.04" stroke="#0a0aff" stroke-width="1.15" />
<line x1="506.34" y1="839.96" x2="506.34" y2="821.8" stroke="#0a0aff" stroke-width="1.15" />
<line x1="503.94" y1="821.8" x2="508.74" y2="821.8" stroke="#0a0aff" stroke-width="1.15" />
<line x1="503.94" y1="839.96" x2="508.74" y2="839.96" stroke="#0a0aff" stroke-width="1.15" />
<line x1="509.06" y1="846.6" x2="509.06" y2="818.5" stroke="#0a0aff" stroke-width="1.15" />
<line x1="506.66" y1="818.5" x2="511.46" y2="818.5" stroke="#0a0aff" stroke-width="1.15" />
<line x1="506.66" y1="846.6" x2="511.46" y2="846.6" stroke="#0a0aff" stroke-width="1.15" />
<line x1="511.78" y1="840.38" x2="511.78" y2="815.27" stroke="#0a0aff" stroke-width="1.15" />
<line x1="509.38" y1="815.27" x2="514.18" y2="815.27" stroke="#0a0aff" stroke-width="1.15" />
<line x1="509.38" y1="840.38" x2="514.18" y2="840.38" stroke="#0a0aff" stroke-width="1.15" />
<line x1="514.5" y1="844.03" x2="514.5" y2="824.09" stroke="#0a0aff" stroke-width="1.15" />
<line x1="512.1" y1="824.09" x2="516.9" y2="824.09" stroke="#0a0aff" stroke-width="1.15" />
<line x1="512.1" y1="844.03" x2="516.9" y2="844.03" stroke="#0a0aff" stroke-width="1.15" />
<line x1="517.22" y1="838.21" x2="517.22" y2="814.36" stroke="#0a0aff" stroke-width="1.15" />
<line x1="514.82" y1="814.36" x2="519.62" y2="814.36" stroke="#0a0aff" stroke-width="1.15" />
<line x1="514.82" y1="838.21" x2="519.62" y2="838.21" stroke="#0a0aff" stroke-width="1.15" />
<line x1="519.94" y1="831.87" x2="519.94" y2="815.2" stroke="#0a0aff" stroke-width="1.15" />
<line x1="517.54" y1="815.2" x2="522.34" y2="815.2" stroke="#0a0aff" stroke-width="1.15" />
<line x1="517.54" y1="831.87" x2="522.34" y2="831.87" stroke="#0a0aff" stroke-width="1.15" />
<line x1="522.66" y1="840.53" x2="522.66" y2="820.95" stroke="#0a0aff" stroke-width="1.15" />
<line x1="520.26" y1="820.95" x2="525.06" y2="820.95" stroke="#0a0aff" stroke-width="1.15" />
<line x1="520.26" y1="840.53" x2="525.06" y2="840.53" stroke="#0a0aff" stroke-width="1.15" />
<line x1="525.38" y1="839.7" x2="525.38" y2="812.83" stroke="#0a0aff" stroke-width="1.15" />
<line x1="522.98" y1="812.83" x2="527.78" y2="812.83" stroke="#0a0aff" stroke-width="1.15" />
<line x1="522.98" y1="839.7" x2="527.78" y2="839.7" stroke="#0a0aff" stroke-width="1.15" />
<line x1="528.1" y1="842.04" x2="528.1" y2="813.74" stroke="#0a0aff" stroke-width="1.15" />
<line x1="525.7" y1="813.74" x2="530.5" y2="813.74" stroke="#0a0aff" stroke-width="1.15" />
<line x1="525.7" y1="842.04" x2="530.5" y2="842.04" stroke="#0a0aff" stroke-width="1.15" />
<line x1="530.82" y1="840.95" x2="530.82" y2="813.77" stroke="#0a0aff" stroke-width="1.15" />
<line x1="528.42" y1="813.77" x2="533.22" y2="813.77" stroke="#0a0aff" stroke-width="1.15" />
<line x1="528.42" y1="840.95" x2="533.22" y2="840.95" stroke="#0a0aff" stroke-width="1.15" />
<line x1="533.54" y1="846.6" x2="533.54" y2="816.94" stroke="#0a0aff" stroke-width="1.15" />
<line x1="531.14" y1="816.94" x2="535.94" y2="816.94" stroke="#0a0aff" stroke-width="1.15" />
<line x1="531.14" y1="846.6" x2="535.94" y2="846.6" stroke="#0a0aff" stroke-width="1.15" />
<line x1="536.26" y1="844.82" x2="536.26" y2="810.62" stroke="#0a0aff" stroke-width="1.15" />
<line x1="533.86" y1="810.62" x2="538.66" y2="810.62" stroke="#0a0aff" stroke-width="1.15" />
<line x1="533.86" y1="844.82" x2="538.66" y2="844.82" stroke="#0a0aff" stroke-width="1.15" />
<line x1="538.98" y1="845.3" x2="538.98" y2="813.43" stroke="#0a0aff" stroke-width="1.15" />
<line x1="536.58" y1="813.43" x2="541.38" y2="813.43" stroke="#0a0aff" stroke-width="1.15" />
<line x1="536.58" y1="845.3" x2="541.38" y2="845.3" stroke="#0a0aff" stroke-width="1.15" />
<line x1="541.7" y1="839.9" x2="541.7" y2="814.58" stroke="#0a0aff" stroke-width="1.15" />
<line x1="539.3" y1="814.58" x2="544.1" y2="814.58" stroke="#0a0aff" stroke-width="1.15" />
<line x1="539.3" y1="839.9" x2="544.1" y2="839.9" stroke="#0a0aff" stroke-width="1.15" />
<line x1="544.42" y1="844.44" x2="544.42" y2="813.82" stroke="#0a0aff" stroke-width="1.15" />
<line x1="542.02" y1="813.82" x2="546.82" y2="813.82" stroke="#0a0aff" stroke-width="1.15" />
<line x1="542.02" y1="844.44" x2="546.82" y2="844.44" stroke="#0a0aff" stroke-width="1.15" />
<line x1="547.14" y1="835.86" x2="547.14" y2="814.47" stroke="#0a0aff" stroke-width="1.15" />
<line x1="544.74" y1="814.47" x2="549.54" y2="814.47" stroke="#0a0aff" stroke-width="1.15" />
<line x1="544.74" y1="835.86" x2="549.54" y2="835.86" stroke="#0a0aff" stroke-width="1.15" />
<line x1="549.86" y1="843.63" x2="549.86" y2="811.06" stroke="#0a0aff" stroke-width="1.15" />
<line x1="547.46" y1="811.06" x2="552.26" y2="811.06" stroke="#0a0aff" stroke-width="1.15" />
<line x1="547.46" y1="843.63" x2="552.26" y2="843.63" stroke="#0a0aff" stroke-width="1.15" />
<line x1="552.58" y1="836.22" x2="552.58" y2="814.93" stroke="#0a0aff" stroke-width="1.15" />
<line x1="550.18" y1="814.93" x2="554.98" y2="814.93" stroke="#0a0aff" stroke-width="1.15" />
<line x1="550.18" y1="836.22" x2="554.98" y2="836.22" stroke="#0a0aff" stroke-width="1.15" />
<line x1="555.3" y1="840.32" x2="555.3" y2="805.46" stroke="#0a0aff" stroke-width="1.15" />
<line x1="552.9" y1="805.46" x2="557.7" y2="805.46" stroke="#0a0aff" stroke-width="1.15" />
<line x1="552.9" y1="840.32" x2="557.7" y2="840.32" stroke="#0a0aff" stroke-width="1.15" />
<line x1="558.02" y1="834.8" x2="558.02" y2="817.69" stroke="#0a0aff" stroke-width="1.15" />
<line x1="555.62" y1="817.69" x2="560.42" y2="817.69" stroke="#0a0aff" stroke-width="1.15" />
<line x1="555.62" y1="834.8" x2="560.42" y2="834.8" stroke="#0a0aff" stroke-width="1.15" />
<line x1="560.74" y1="838.83" x2="560.74" y2="807.5" stroke="#0a0aff" stroke-width="1.15" />
<line x1="558.34" y1="807.5" x2="563.14" y2="807.5" stroke="#0a0aff" stroke-width="1.15" />
<line x1="558.34" y1="838.83" x2="563.14" y2="838.83" stroke="#0a0aff" stroke-width="1.15" />
<path d="M454.66 814.57 L457.38 799.56 L460.1 796.06 L462.82 796.5 L465.54 795.92 L468.26 797.58 L470.98 800.59 L473.7 798.32 L476.42 817.44 L479.14 835.31 L481.86 834.54 L484.58 838.78 L487.3 837.28 L490.02 839.84 L492.74 836.26 L495.46 834.22 L498.18 832.35 L500.9 837.36 L503.62 828.84 L506.34 830.88 L509.06 834.21 L511.78 827.82 L514.5 834.06 L517.22 826.29 L519.94 823.53 L522.66 830.74 L525.38 826.26 L528.1 827.89 L530.82 827.36 L533.54 833.93 L536.26 827.72 L538.98 829.37 L541.7 827.24 L544.42 829.13 L547.14 825.16 L549.86 827.34 L552.58 825.57 L555.3 822.89 L558.02 826.24 L560.74 823.17" stroke="#0a0aff" stroke-width="1.3" fill="none" />
<rect x="453.46" y="813.37" width="2.4" height="2.4" fill="#fff" stroke="#0a0aff" stroke-width="0.8"/>
<rect x="456.18" y="798.36" width="2.4" height="2.4" fill="#fff" stroke="#0a0aff" stroke-width="0.8"/>
<rect x="458.9" y="794.86" width="2.4" height="2.4" fill="#fff" stroke="#0a0aff" stroke-width="0.8"/>
<rect x="461.62" y="795.3" width="2.4" height="2.4" fill="#fff" stroke="#0a0aff" stroke-width="0.8"/>
<rect x="464.34" y="794.72" width="2.4" height="2.4" fill="#fff" stroke="#0a0aff" stroke-width="0.8"/>
<rect x="467.06" y="796.38" width="2.4" height="2.4" fill="#fff" stroke="#0a0aff" stroke-width="0.8"/>
<rect x="469.78" y="799.39" width="2.4" height="2.4" fill="#fff" stroke="#0a0aff" stroke-width="0.8"/>
<rect x="472.5" y="797.12" width="2.4" height="2.4" fill="#fff" stroke="#0a0aff" stroke-width="0.8"/>
<rect x="475.22" y="816.24" width="2.4" height="2.4" fill="#fff" stroke="#0a0aff" stroke-width="0.8"/>
<rect x="477.94" y="834.11" width="2.4" height="2.4" fill="#fff" stroke="#0a0aff" stroke-width="0.8"/>
<rect x="480.66" y="833.34" width="2.4" height="2.4" fill="#fff" stroke="#0a0aff" stroke-width="0.8"/>
<rect x="483.38" y="837.58" width="2.4" height="2.4" fill="#fff" stroke="#0a0aff" stroke-width="0.8"/>
<rect x="486.1" y="836.08" width="2.4" height="2.4" fill="#fff" stroke="#0a0aff" stroke-width="0.8"/>
<rect x="488.82" y="838.64" width="2.4" height="2.4" fill="#fff" stroke="#0a0aff" stroke-width="0.8"/>
<rect x="491.54" y="835.06" width="2.4" height="2.4" fill="#fff" stroke="#0a0aff" stroke-width="0.8"/>
<rect x="494.26" y="833.02" width="2.4" height="2.4" fill="#fff" stroke="#0a0aff" stroke-width="0.8"/>
<rect x="496.98" y="831.15" width="2.4" height="2.4" fill="#fff" stroke="#0a0aff" stroke-width="0.8"/>
<rect x="499.7" y="836.16" width="2.4" height="2.4" fill="#fff" stroke="#0a0aff" stroke-width="0.8"/>
<rect x="502.42" y="827.64" width="2.4" height="2.4" fill="#fff" stroke="#0a0aff" stroke-width="0.8"/>
<rect x="505.14" y="829.68" width="2.4" height="2.4" fill="#fff" stroke="#0a0aff" stroke-width="0.8"/>
<rect x="507.86" y="833.01" width="2.4" height="2.4" fill="#fff" stroke="#0a0aff" stroke-width="0.8"/>
<rect x="510.58" y="826.62" width="2.4" height="2.4" fill="#fff" stroke="#0a0aff" stroke-width="0.8"/>
<rect x="513.3" y="832.86" width="2.4" height="2.4" fill="#fff" stroke="#0a0aff" stroke-width="0.8"/>
<rect x="516.02" y="825.09" width="2.4" height="2.4" fill="#fff" stroke="#0a0aff" stroke-width="0.8"/>
<rect x="518.74" y="822.33" width="2.4" height="2.4" fill="#fff" stroke="#0a0aff" stroke-width="0.8"/>
<rect x="521.46" y="829.54" width="2.4" height="2.4" fill="#fff" stroke="#0a0aff" stroke-width="0.8"/>
<rect x="524.18" y="825.06" width="2.4" height="2.4" fill="#fff" stroke="#0a0aff" stroke-width="0.8"/>
<rect x="526.9" y="826.69" width="2.4" height="2.4" fill="#fff" stroke="#0a0aff" stroke-width="0.8"/>
<rect x="529.62" y="826.16" width="2.4" height="2.4" fill="#fff" stroke="#0a0aff" stroke-width="0.8"/>
<rect x="532.34" y="832.73" width="2.4" height="2.4" fill="#fff" stroke="#0a0aff" stroke-width="0.8"/>
<rect x="535.06" y="826.52" width="2.4" height="2.4" fill="#fff" stroke="#0a0aff" stroke-width="0.8"/>
<rect x="537.78" y="828.17" width="2.4" height="2.4" fill="#fff" stroke="#0a0aff" stroke-width="0.8"/>
<rect x="540.5" y="826.04" width="2.4" height="2.4" fill="#fff" stroke="#0a0aff" stroke-width="0.8"/>
<rect x="543.22" y="827.93" width="2.4" height="2.4" fill="#fff" stroke="#0a0aff" stroke-width="0.8"/>
<rect x="545.94" y="823.96" width="2.4" height="2.4" fill="#fff" stroke="#0a0aff" stroke-width="0.8"/>
<rect x="548.66" y="826.14" width="2.4" height="2.4" fill="#fff" stroke="#0a0aff" stroke-width="0.8"/>
<rect x="551.38" y="824.37" width="2.4" height="2.4" fill="#fff" stroke="#0a0aff" stroke-width="0.8"/>
<rect x="554.1" y="821.69" width="2.4" height="2.4" fill="#fff" stroke="#0a0aff" stroke-width="0.8"/>
<rect x="556.82" y="825.04" width="2.4" height="2.4" fill="#fff" stroke="#0a0aff" stroke-width="0.8"/>
<rect x="559.54" y="821.97" width="2.4" height="2.4" fill="#fff" stroke="#0a0aff" stroke-width="0.8"/>
<path d="M464 705.2 L474.8 705.2 L469.4 716 Z" fill="#f00"/>
<line x1="615.4" y1="708.6" x2="615.4" y2="848.3" stroke="#000" stroke-width="1.6" />
<line x1="614.7" y1="847.6" x2="683" y2="847.6" stroke="#000" stroke-width="1.6" />
<line x1="610.2" y1="847.6" x2="615.4" y2="847.6" stroke="#000" stroke-width="1.2" />
<text transform="translate(607 851.5) scale(1 1.05)" font-size="11.3" text-anchor="end" fill="#111" >0</text>
<line x1="610.2" y1="819.94" x2="615.4" y2="819.94" stroke="#000" stroke-width="1.2" />
<text transform="translate(607 823.84) scale(1 1.05)" font-size="11.3" text-anchor="end" fill="#111" >20</text>
<line x1="610.2" y1="792.28" x2="615.4" y2="792.28" stroke="#000" stroke-width="1.2" />
<text transform="translate(607 796.18) scale(1 1.05)" font-size="11.3" text-anchor="end" fill="#111" >40</text>
<line x1="610.2" y1="764.62" x2="615.4" y2="764.62" stroke="#000" stroke-width="1.2" />
<text transform="translate(607 768.52) scale(1 1.05)" font-size="11.3" text-anchor="end" fill="#111" >60</text>
<line x1="610.2" y1="736.96" x2="615.4" y2="736.96" stroke="#000" stroke-width="1.2" />
<text transform="translate(607 740.86) scale(1 1.05)" font-size="11.3" text-anchor="end" fill="#111" >80</text>
<line x1="610.2" y1="709.3" x2="615.4" y2="709.3" stroke="#000" stroke-width="1.2" />
<text transform="translate(607 713.2) scale(1 1.05)" font-size="11.3" text-anchor="end" fill="#111" >100</text>
<text transform="translate(581.3 776.75) rotate(-90) scale(1 1.05)" font-size="11.6" text-anchor="middle" fill="#111">AP discharge (% of baseline)</text>
<line x1="634.2" y1="847.6" x2="634.2" y2="851.2" stroke="#000" stroke-width="1.1" />
<text transform="translate(634.2 865.1) scale(1 1.05)" font-size="11.2" text-anchor="middle" fill="#111" >L2/3</text>
<text transform="translate(634.2 877.6) scale(1 1.05)" font-size="11.2" text-anchor="middle" fill="#111" >(5)</text>
<line x1="663.3" y1="847.6" x2="663.3" y2="851.2" stroke="#000" stroke-width="1.1" />
<text transform="translate(663.3 865.1) scale(1 1.05)" font-size="11.2" text-anchor="middle" fill="#111" >L5</text>
<text transform="translate(663.3 877.6) scale(1 1.05)" font-size="11.2" text-anchor="middle" fill="#111" >(4)</text>
<line x1="634.2" y1="795.74" x2="634.2" y2="792.28" stroke="#000" stroke-width="1.2" />
<line x1="634.2" y1="847.6" x2="634.2" y2="847.6" stroke="#000" stroke-width="1.2" />
<rect x="625.4" y="795.74" width="17.6" height="51.86" fill="none" stroke="#000" stroke-width="1.2"/>
<line x1="625.4" y1="815.1" x2="643" y2="815.1" stroke="#000" stroke-width="1.2" />
<line x1="632" y1="792.28" x2="636.4" y2="792.28" stroke="#000" stroke-width="1.2" />
<line x1="632" y1="847.6" x2="636.4" y2="847.6" stroke="#000" stroke-width="1.2" />
<circle cx="634.2" cy="792.28" r="1.95" fill="#fff" stroke="#000" stroke-width="1.2"/>
<circle cx="634.2" cy="797.81" r="1.95" fill="#fff" stroke="#000" stroke-width="1.2"/>
<circle cx="634.2" cy="815.1" r="1.95" fill="#fff" stroke="#000" stroke-width="1.2"/>
<circle cx="630.2" cy="847.19" r="1.95" fill="#fff" stroke="#000" stroke-width="1.2"/>
<circle cx="638.2" cy="847.19" r="1.95" fill="#fff" stroke="#000" stroke-width="1.2"/>
<line x1="663.3" y1="799.2" x2="663.3" y2="789.51" stroke="#1a1aff" stroke-width="1.2" />
<line x1="663.3" y1="847.6" x2="663.3" y2="847.6" stroke="#1a1aff" stroke-width="1.2" />
<rect x="654.5" y="799.2" width="17.6" height="48.4" fill="none" stroke="#1a1aff" stroke-width="1.2"/>
<line x1="654.5" y1="835.84" x2="672.1" y2="835.84" stroke="#1a1aff" stroke-width="1.2" />
<line x1="661.1" y1="789.51" x2="665.5" y2="789.51" stroke="#1a1aff" stroke-width="1.2" />
<line x1="661.1" y1="847.6" x2="665.5" y2="847.6" stroke="#1a1aff" stroke-width="1.2" />
<circle cx="663.3" cy="789.51" r="1.95" fill="#fff" stroke="#1a1aff" stroke-width="1.2"/>
<circle cx="663.3" cy="824.78" r="1.95" fill="#fff" stroke="#1a1aff" stroke-width="1.2"/>
<circle cx="659" cy="847.19" r="1.95" fill="#fff" stroke="#1a1aff" stroke-width="1.2"/>
<circle cx="667.6" cy="847.19" r="1.95" fill="#fff" stroke="#1a1aff" stroke-width="1.2"/>
<path d="M634.2 716.1 L634.2 708.8 L663.3 708.8 L663.3 716.1" stroke="#000" stroke-width="1.2" fill="none" />
<text transform="translate(648.95 702) scale(1 1.05)" font-size="11.2" text-anchor="middle" fill="#111" >ns</text>
</svg></body></html>
